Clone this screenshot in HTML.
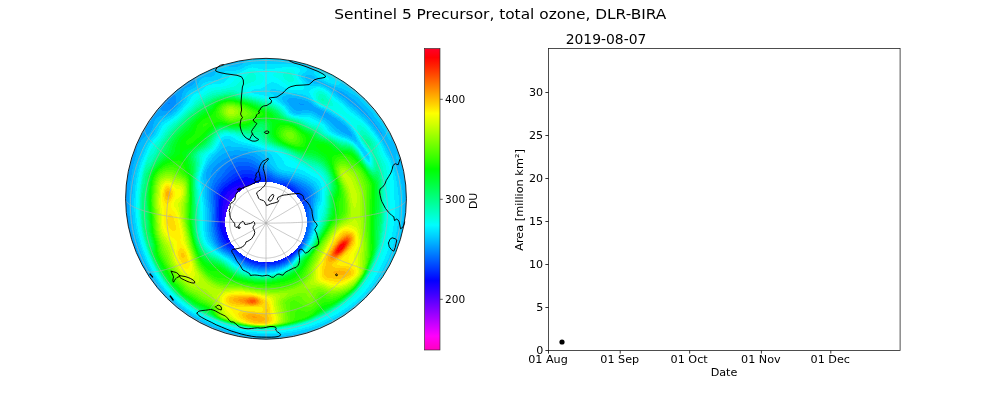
<!DOCTYPE html>
<html lang="en"><head><meta charset="utf-8"><title>Sentinel 5 Precursor, total ozone, DLR-BIRA</title>
<style>
html,body{margin:0;padding:0;background:#fff;}
body{width:1000px;height:400px;position:relative;overflow:hidden;font-family:"DejaVu Sans","Liberation Sans",sans-serif;color:#000;}
svg{position:absolute;left:0;top:0;}
.t{position:absolute;white-space:nowrap;line-height:1;}
.tk{font-size:11.1px;}
</style></head><body>
<svg width="1000" height="400" viewBox="0 0 1000 400">
<defs><clipPath id="disc"><circle cx="266.00" cy="198.75" r="140.40"/></clipPath></defs>
<g clip-path="url(#disc)"><g shape-rendering="crispEdges" fill="none" stroke-width="1">

<path stroke="#3a00ff" d="M0 .5m236 190h5m-7 1h6m-7 1h5m-6 1h5m-6 1h5m-6 1h5m-6 1h6m-6 1h5m-6 1h5m-5 1h4m-5 1h5m-5 1h4m-4 1h3m-4 1h4m-4 1h3m-4 1h4m-4 1h3m-3 1h3m-3 1h3m-4 1h3m-3 1h3m-3 1h3m-3 1h2m-2 1h2m-2 1h2m-2 1h2m-2 1h2m-2 1h1m-1 1h1"/>
<path stroke="#2400ff" d="M0 .5m239 185h5m-8 1h10m-12 1h11m-13 1h12m-13 1h11m-12 1h6m-8 1h6m-7 1h6m-6 1h5m-6 1h5m-6 1h5m-5 1h4m-5 1h5m-5 1h4m-4 1h4m-5 1h4m-4 1h4m-4 1h4m-4 1h3m-3 1h3m-3 1h2m-3 1h3m-3 1h3m-3 1h3m-3 1h2m-2 1h2m-2 1h2m-2 1h2m-2 1h2m-2 1h2m-2 1h2m-2 1h2m-2 1h2m-2 1h2m-2 1h3m-3 1h3m-2 1h2m-2 1h2m-2 1h2m-2 1h2m-1 1h1m-1 1h1m-1 1h2m-1 1h1m-1 1h1"/>
<path stroke="#0e00ff" d="M0 .5m241 181h6m-9 1h12m-15 1h16m-17 1h18m-20 1h7m5 0h5m-19 1h6m10 0h1m-18 1h5m-6 1h4m-5 1h4m-5 1h4m-5 1h3m-4 1h3m-4 1h4m-4 1h3m-4 1h3m-3 1h3m-3 1h2m-3 1h3m-3 1h3m-3 1h2m-2 1h2m-2 1h2m-2 1h2m-2 1h2m-2 1h2m-3 1h2m-2 1h2m-2 1h2m-2 1h2m-2 1h2m-2 1h2m-2 1h2m-2 1h2m-2 1h2m-2 1h2m-2 1h2m-2 1h2m-2 1h2m-1 1h1m-1 1h1m-1 1h2m-2 1h2m-2 1h2m-2 1h2m-2 1h3m-2 1h2m-2 1h2m-2 1h3m-2 1h2m-2 1h3m-3 1h3m-2 1h3m-3 1h3m-2 1h2m-2 1h3m-2 1h2m-1 1h1m0 1h1"/>
<path stroke="#0007ff" d="M0 .5m244 177h4m-8 1h12m-14 1h17m-19 1h21m-23 1h7m6 0h12m-27 1h6m12 0h9m-28 1h4m16 0h4m-26 1h5m-6 1h4m-5 1h3m-5 1h4m-5 1h4m-5 1h4m-4 1h3m-4 1h3m-4 1h3m-3 1h2m-3 1h3m-3 1h2m-2 1h2m-2 1h2m-2 1h1m-2 1h2m-2 1h2m-2 1h2m-2 1h2m-2 1h2m-2 1h2m-2 1h2m-2 1h1m-1 1h1m-1 1h1m-1 1h1m-1 1h1m-1 1h1m-1 1h1m-1 1h1m-1 1h1m-1 1h1m-1 1h1m-1 1h1m-1 1h1m-1 1h2m-2 1h2m-2 1h2m-2 1h2m-1 1h1m-1 1h1m-1 1h1m-1 1h2m-2 1h2m-2 1h2m-1 1h2m-2 1h2m-2 1h2m-1 1h2m-2 1h2m-2 1h3m-2 1h2m-2 1h3m-2 1h3m-3 1h4m-3 1h4m-3 1h4m-4 1h4m-3 1h4m-3 1h3m-1 1h2m-1 1h2m-1 1h2m-1 1h1m0 1h1m0 1h1m59 1h1m-2 1h1m-2 1h1m-3 1h2m-3 1h2m-3 1h1m-3 1h1m-3 1h1m-3 1h1m-3 1h1m-4 1h1m-22 1h1m16 0h2m-13 1h7"/>
<path stroke="#0023ff" d="M0 .5m242 174h11m-14 1h17m-19 1h21m-23 1h9m4 0h13m-27 1h6m12 0h11m-31 1h6m17 0h10m-34 1h5m21 0h10m-38 1h5m25 0h9m-40 1h4m-6 1h5m-6 1h4m-5 1h4m55 0h3m-63 1h4m58 0h4m-67 1h3m62 0h4m-70 1h3m64 0h5m-73 1h3m67 0h4m-74 1h3m68 0h4m-76 1h3m70 0h4m-77 1h2m73 0h2m-77 1h2m74 0h2m-79 1h2m76 0h2m-80 1h2m77 0h1m-80 1h2m77 0h1m-80 1h2m78 0h1m-81 1h2m-2 1h1m-1 1h1m-1 1h1m-1 1h1m-1 1h1m-1 1h1m-1 1h1m-1 1h1m-2 1h2m-2 1h2m-2 1h2m-2 1h2m-2 1h2m-2 1h2m-2 1h2m-2 1h2m-2 1h2m-2 1h2m-2 1h2m-1 1h1m-1 1h1m-1 1h1m-1 1h1m-1 1h1m-1 1h2m-2 1h2m-2 1h2m-2 1h2m-1 1h1m-1 1h1m-1 1h2m-2 1h2m-1 1h1m-1 1h2m-2 1h2m-2 1h2m-1 1h2m-2 1h2m-2 1h3m-2 1h2m-2 1h3m-2 1h3m-3 1h3m-2 1h3m-2 1h3m-2 1h4m-3 1h4m-2 1h3m66 0h1m-69 1h3m65 0h1m-68 1h3m63 0h1m-66 1h3m61 0h2m-64 1h3m59 0h1m-62 1h3m57 0h1m-60 1h3m55 0h1m-58 1h4m52 0h1m-55 1h3m50 0h1m-53 1h3m47 0h2m-51 1h4m43 0h3m-48 1h4m39 0h3m-44 1h4m35 0h4m-42 1h5m31 0h4m-38 1h6m25 0h5m-34 1h7m19 0h5m-28 1h10m7 0h9m-22 1h18"/>
<path stroke="#0038ff" d="M0 .5m241 170h11m-13 1h15m-17 1h20m-22 1h24m-26 1h9m11 0h8m-29 1h7m17 0h7m-32 1h6m21 0h7m-36 1h6m26 0h6m-39 1h6m29 0h6m-42 1h5m33 0h5m-44 1h5m36 0h5m-47 1h4m39 0h5m-50 1h5m45 0h2m-53 1h4m51 0h9m-65 1h4m55 0h9m-68 1h3m62 0h5m-71 1h3m66 0h4m-74 1h3m69 0h4m-76 1h2m72 0h3m-78 1h2m74 0h3m-79 1h2m75 0h3m-81 1h2m77 0h3m-82 1h2m77 0h4m-83 1h2m78 0h4m-85 1h2m80 0h3m-85 1h2m80 0h4m-86 1h2m80 0h4m-86 1h2m81 0h4m-87 1h2m81 0h4m-87 1h2m82 0h4m-88 1h2m82 0h4m-88 1h2m83 0h3m-88 1h2m84 0h2m-88 1h2m84 0h2m-88 1h2m-2 1h2m-2 1h2m-2 1h1m-1 1h1m-1 1h1m-1 1h1m-1 1h1m-1 1h1m-1 1h1m-1 1h1m-1 1h1m-1 1h1m-1 1h1m-1 1h2m-2 1h2m-2 1h2m-2 1h2m-2 1h2m-1 1h1m-1 1h1m-1 1h1m-1 1h1m-1 1h2m-2 1h2m-2 1h2m-1 1h1m-1 1h2m-2 1h2m-2 1h2m-1 1h1m-1 1h2m-2 1h2m-2 1h2m-1 1h2m-2 1h2m-1 1h2m-2 1h2m-1 1h2m-1 1h2m-2 1h3m74 0h1m-77 1h3m72 0h1m-74 1h3m70 0h1m-73 1h3m69 0h1m-71 1h2m67 0h1m-69 1h2m66 0h1m-68 1h3m63 0h1m-65 1h2m61 0h1m-63 1h2m59 0h1m-61 1h2m57 0h1m-59 1h3m54 0h1m-56 1h2m52 0h1m-54 1h2m50 0h1m-51 1h2m46 0h2m-49 1h3m43 0h1m-45 1h2m40 0h2m-43 1h3m36 0h2m-39 1h3m31 0h3m-35 1h4m26 0h3m-30 1h5m18 0h5m-25 1h21m-15 1h8"/>
<path stroke="#004eff" d="M0 .5m238 166h12m-14 1h17m-19 1h21m-22 1h24m-26 1h10m11 0h7m-29 1h9m15 0h7m-32 1h8m20 0h6m-35 1h7m24 0h6m-38 1h6m28 0h5m-40 1h6m31 0h5m-43 1h6m34 0h5m-46 1h5m38 0h4m-48 1h5m41 0h4m-51 1h5m43 0h5m-54 1h5m46 0h6m-57 1h4m48 0h11m-64 1h3m52 0h13m-69 1h3m64 0h5m-73 1h3m68 0h4m-75 1h3m70 0h4m-78 1h3m73 0h3m-80 1h3m76 0h3m-82 1h3m77 0h3m-83 1h2m79 0h3m-85 1h3m80 0h3m-86 1h2m82 0h3m-87 1h2m83 0h3m-88 1h2m84 0h3m-89 1h1m85 0h4m-91 1h2m86 0h3m-91 1h2m86 0h4m-92 1h2m87 0h3m-92 1h2m87 0h3m-92 1h2m88 0h3m-92 1h1m88 0h3m-92 1h1m88 0h3m-92 1h1m88 0h3m-92 1h1m88 0h3m-92 1h1m87 0h4m-92 1h1m87 0h4m-92 1h1m88 0h3m-92 1h1m88 0h3m-92 1h1m88 0h3m-92 1h1m89 0h2m-92 1h1m89 0h2m-92 1h1m89 0h1m-91 1h1m-1 1h1m90 0h1m-92 1h1m90 0h1m-92 1h1m90 0h1m-92 1h1m90 0h1m-92 1h1m-1 1h1m-1 1h1m-1 1h1m-1 1h1m-1 1h1m-1 1h2m-2 1h2m-2 1h2m-2 1h2m-1 1h1m-1 1h1m-1 1h1m-1 1h2m-2 1h2m-1 1h1m-1 1h1m-1 1h2m-2 1h2m-1 1h1m-1 1h1m-1 1h2m83 0h1m-86 1h2m-1 1h2m81 0h1m-84 1h2m81 0h1m-83 1h2m79 0h2m-82 1h2m78 0h1m-81 1h2m78 0h1m-80 1h2m76 0h2m-79 1h3m74 0h1m-77 1h3m73 0h1m-75 1h3m70 0h1m-73 1h3m-1 1h2m67 0h1m-68 1h2m64 0h1m-66 1h2m62 0h1m-64 1h2m60 0h1m-61 1h1m58 0h1m-59 1h2m55 0h1m-57 1h2m53 0h1m-54 1h2m50 0h1m-52 1h2m47 0h2m-50 1h3m44 0h2m-47 1h2m41 0h2m-43 1h2m37 0h2m-39 1h2m33 0h3m-36 1h3m28 0h2m-31 1h4m21 0h4m-26 1h7m8 0h7m-16 1h10"/>
<path stroke="#0064ff" d="M0 .5m236 162h13m-15 1h18m-20 1h22m-24 1h26m-27 1h9m12 0h7m-29 1h8m17 0h6m-32 1h7m21 0h5m-34 1h7m24 0h5m-37 1h6m28 0h5m-39 1h5m31 0h4m-41 1h5m34 0h4m-44 1h5m37 0h3m-46 1h5m39 0h4m-48 1h4m42 0h4m-51 1h4m45 0h3m-53 1h4m47 0h4m-56 1h4m50 0h5m-60 1h4m53 0h7m-65 1h4m57 0h9m-70 1h4m63 0h6m-74 1h4m68 0h5m-78 1h4m72 0h4m-80 1h3m75 0h4m-83 1h4m77 0h3m-84 1h3m79 0h4m-86 1h2m82 0h3m-88 1h3m83 0h4m-90 1h3m84 0h4m-91 1h2m86 0h4m-92 1h2m87 0h4m-93 1h2m88 0h4m-94 1h2m89 0h4m-95 1h2m90 0h3m-95 1h1m91 0h4m-96 1h1m92 0h3m-96 1h1m92 0h3m-96 1h1m92 0h3m-96 1h1m93 0h2m-96 1h2m92 0h2m-96 1h2m92 0h2m-96 1h2m92 0h2m-96 1h2m92 0h2m-96 1h2m92 0h2m-96 1h2m92 0h2m-96 1h2m92 0h2m-95 1h1m92 0h2m-95 1h1m92 0h2m-95 1h1m92 0h2m-95 1h1m92 0h2m-95 1h1m91 0h3m-95 1h1m91 0h3m-95 1h1m92 0h2m-96 1h2m92 0h2m-96 1h2m92 0h2m-96 1h2m92 0h2m-96 1h2m92 0h2m-96 1h2m92 0h2m-96 1h2m92 0h2m-95 1h1m92 0h2m-95 1h1m92 0h2m-95 1h1m92 0h2m-95 1h1m92 0h2m-95 1h1m92 0h2m-95 1h1m92 0h2m-95 1h1m92 0h2m-95 1h2m90 0h2m-94 1h2m90 0h2m-94 1h2m90 0h2m-93 1h1m90 0h2m-93 1h1m90 0h1m-92 1h2m88 0h2m-92 1h2m88 0h2m-92 1h2m88 0h2m-91 1h1m87 0h2m-90 1h2m86 0h2m-90 1h2m86 0h2m-89 1h1m86 0h1m-88 1h1m85 0h2m-88 1h2m84 0h2m-87 1h1m84 0h1m-86 1h2m83 0h1m-85 1h2m81 0h2m-85 1h2m81 0h1m-83 1h2m80 0h1m-82 1h2m78 0h1m-80 1h2m77 0h1m-79 1h3m74 0h1m-76 1h2m72 0h1m-73 1h2m70 0h1m-72 1h3m67 0h1m-69 1h2m65 0h1m-67 1h2m63 0h1m-64 1h2m60 0h1m-62 1h2m58 0h1m-59 1h1m56 0h1m-57 1h2m53 0h1m-55 1h2m51 0h1m-52 1h1m49 0h1m-50 1h2m45 0h1m-46 1h2m41 0h2m-44 1h3m38 0h2m-41 1h3m33 0h3m-37 1h3m29 0h2m-32 1h4m22 0h4m-26 1h6m10 0h6m-17 1h10"/>
<path stroke="#0079ff" d="M0 .5m168 103h2m68 55h9m-13 1h17m-19 1h21m-23 1h25m-27 1h8m13 0h7m-29 1h7m18 0h6m-32 1h6m22 0h5m-35 1h6m26 0h4m-37 1h6m28 0h5m-40 1h6m31 0h4m-42 1h6m33 0h4m-44 1h6m36 0h4m-46 1h5m39 0h3m-48 1h6m40 0h4m-51 1h6m43 0h3m-53 1h6m45 0h4m-55 1h5m48 0h3m-57 1h6m50 0h3m-59 1h5m52 0h4m-62 1h5m55 0h5m-66 1h5m59 0h7m-71 1h4m64 0h7m-76 1h4m70 0h5m-79 1h4m73 0h5m-82 1h3m77 0h4m-85 1h3m80 0h4m-87 1h3m82 0h4m-89 1h2m84 0h4m-91 1h3m86 0h4m-93 1h3m87 0h5m-95 1h2m90 0h4m-96 1h2m91 0h4m-97 1h2m92 0h4m-98 1h2m93 0h4m-99 1h2m94 0h3m-99 1h2m95 0h3m-100 1h2m95 0h3m-100 1h2m96 0h2m-100 1h2m96 0h2m-100 1h2m96 0h2m-100 1h2m96 0h2m-100 1h2m96 0h2m-100 1h2m96 0h2m-100 1h2m96 0h2m-100 1h2m96 0h2m-100 1h2m96 0h2m-99 1h1m96 0h2m-99 1h1m96 0h2m-99 1h1m96 0h2m-99 1h2m95 0h2m-99 1h2m95 0h2m-99 1h2m95 0h2m-99 1h2m95 0h2m-99 1h2m95 0h2m-99 1h2m95 0h2m-99 1h2m95 0h2m-99 1h1m96 0h2m-99 1h1m96 0h2m-99 1h1m96 0h2m-99 1h1m96 0h2m-99 1h1m96 0h2m-99 1h1m96 0h2m-99 1h2m95 0h2m-99 1h2m95 0h2m-99 1h2m95 0h2m-99 1h2m95 0h2m-99 1h2m95 0h1m-98 1h2m95 0h1m-98 1h2m95 0h1m-97 1h1m94 0h2m-97 1h1m94 0h2m-97 1h1m94 0h1m-96 1h2m93 0h1m-96 1h2m92 0h2m-96 1h2m92 0h2m-95 1h1m92 0h1m-94 1h1m92 0h1m-94 1h2m90 0h2m-94 1h2m90 0h1m-92 1h1m90 0h1m-92 1h2m88 0h2m-92 1h2m88 0h1m-90 1h1m88 0h1m-90 1h2m86 0h1m-89 1h2m86 0h1m-88 1h2m85 0h1m-87 1h1m84 0h1m-86 1h2m83 0h1m-85 1h2m81 0h1m-83 1h2m-1 1h2m78 0h1m-79 1h2m75 0h1m-77 1h3m-1 1h2m71 0h1m-72 1h2m68 0h1m-70 1h2m66 0h1m-67 1h2m63 0h1m-65 1h2m61 0h1m-62 1h2m58 0h1m-60 1h2m56 0h1m-58 1h2m54 0h1m-55 1h2m51 0h1m-53 1h2m48 0h2m-50 1h2m45 0h1m-47 1h2m43 0h1m-44 1h2m39 0h2m-42 1h3m34 0h3m-38 1h3m30 0h2m-32 1h4m22 0h4m-27 1h6m10 0h7m-18 1h12"/>
<path stroke="#008fff" d="M0 .5m170 94h4m-5 1h6m-7 1h8m-9 1h9m-10 1h10m-11 1h11m-12 1h12m-13 1h13m-14 1h14m-15 1h7m2 0h6m123 0h1m-140 1h15m125 0h4m-145 1h15m-15 1h15m-15 1h14m-13 1h12m-11 1h9m-8 1h6m73 44h2m-10 1h17m-20 1h23m-25 1h27m-29 1h12m9 0h9m-32 1h10m17 0h7m-36 1h10m21 0h6m-38 1h9m25 0h5m-40 1h8m28 0h5m-43 1h9m31 0h4m-45 1h9m33 0h4m-47 1h8m36 0h4m-49 1h8m39 0h4m-52 1h8m41 0h4m-54 1h8m43 0h4m-55 1h7m46 0h3m-57 1h8m47 0h3m-58 1h7m50 0h3m-61 1h7m52 0h3m-62 1h6m55 0h3m-64 1h6m56 0h4m-66 1h5m59 0h5m-69 1h5m61 0h6m-73 1h5m65 0h8m-78 1h4m71 0h7m-82 1h4m75 0h6m-85 1h3m79 0h6m-88 1h3m82 0h5m-90 1h3m84 0h5m-93 1h3m87 0h5m-95 1h3m89 0h5m-97 1h3m90 0h5m-98 1h2m93 0h5m-100 1h2m95 0h4m-185 1h1m83 0h2m96 0h4m-186 1h1m83 0h2m97 0h4m-187 1h1m83 0h2m98 0h3m-187 1h1m83 0h2m99 0h3m-188 1h1m83 0h2m99 0h3m-189 1h2m83 0h2m100 0h2m-189 1h2m83 0h2m100 0h3m-190 1h2m83 0h2m100 0h3m-190 1h2m83 0h2m100 0h3m-190 1h2m83 0h2m100 0h3m-190 1h2m83 0h2m100 0h2m-189 1h2m83 0h2m100 0h2m-189 1h2m83 0h2m100 0h2m-189 1h2m83 0h2m100 0h2m-189 1h2m84 0h1m100 0h2m-189 1h2m84 0h1m100 0h2m-188 1h1m84 0h2m99 0h2m-188 1h1m84 0h2m99 0h2m-188 1h1m84 0h2m99 0h2m-188 1h1m84 0h2m99 0h2m-188 1h1m84 0h2m99 0h2m-103 1h2m99 0h2m-103 1h2m99 0h2m-103 1h2m99 0h2m-102 1h1m99 0h2m-102 1h1m99 0h2m-102 1h1m99 0h2m-102 1h1m99 0h2m-102 1h1m99 0h2m-102 1h1m99 0h2m-102 1h1m99 0h1m-101 1h1m99 0h1m-101 1h1m99 0h1m-101 1h1m99 0h1m-101 1h1m99 0h1m-101 1h1m99 0h1m-101 1h1m98 0h2m-101 1h1m98 0h1m-100 1h1m98 0h1m-100 1h2m97 0h1m-100 1h2m97 0h1m-100 1h2m96 0h2m-100 1h2m96 0h1m-99 1h2m96 0h1m-98 1h1m96 0h1m-98 1h2m94 0h1m-97 1h2m94 0h1m-97 1h2m94 0h1m-97 1h2m93 0h1m-95 1h2m92 0h1m-95 1h2m92 0h1m-95 1h2m91 0h1m-93 1h2m90 0h1m-93 1h2m89 0h1m-91 1h1m89 0h1m-91 1h2m88 0h1m-90 1h2m86 0h1m-88 1h1m-1 1h2m84 0h1m-86 1h2m82 0h1m-84 1h2m81 0h1m-82 1h2m78 0h1m-80 1h2m76 0h1m-78 1h3m-1 1h3m-1 1h2m69 0h1m-70 1h2m66 0h1m-68 1h2m64 0h1m-65 1h2m61 0h1m-63 1h2m59 0h1m-60 1h1m57 0h1m-58 1h2m54 0h1m-56 1h2m52 0h1m-53 1h2m48 0h2m-51 1h2m46 0h1m-48 1h3m43 0h1m-45 1h2m40 0h2m-42 1h2m35 0h3m-38 1h3m30 0h2m-33 1h4m23 0h3m-26 1h5m12 0h6m-18 1h12"/>
<path stroke="#00a5ff" d="M0 .5m193 77h3m-5 1h5m-6 1h6m-8 1h7m-8 1h8m-10 1h10m-11 1h10m-12 1h11m-12 1h11m-12 1h10m-12 1h9m-10 1h8m-9 1h8m-9 1h9m152 0h3m-165 1h9m153 0h6m-170 1h11m154 0h7m-173 1h11m156 0h7m-171 1h8m157 0h8m-172 1h7m158 0h8m-172 1h6m160 0h7m-173 1h5m162 0h8m-175 1h5m108 0h8m48 0h7m-176 1h5m107 0h14m44 0h8m-178 1h4m107 0h18m42 0h8m-179 1h4m107 0h21m40 0h8m-180 1h3m109 0h21m40 0h8m-181 1h3m110 0h10m1 0h11m39 0h8m-183 1h3m111 0h11m4 0h8m40 0h7m-185 1h4m112 0h23m40 0h7m-186 1h3m114 0h23m40 0h7m-203 1h1m14 0h3m116 0h24m40 0h6m-205 1h3m12 0h3m118 0h25m39 0h6m-207 1h5m9 0h4m120 0h26m38 0h6m-209 1h7m6 0h5m123 0h6m7 0h13m37 0h6m-211 1h18m141 0h11m36 0h6m-212 1h17m144 0h11m35 0h6m-214 1h16m148 0h11m34 0h6m-216 1h14m152 0h11m35 0h4m-217 1h12m157 0h11m34 0h4m-218 1h8m163 0h10m34 0h4m-220 1h7m167 0h10m33 0h4m-222 1h7m170 0h10m32 0h4m-223 1h6m172 0h10m32 0h3m-224 1h7m174 0h9m32 0h3m-226 1h7m176 0h10m30 0h4m-227 1h7m177 0h10m30 0h4m-229 1h8m178 0h10m30 0h3m-230 1h8m180 0h10m30 0h3m-231 1h8m181 0h11m29 0h3m-233 1h9m182 0h11m28 0h4m-234 1h9m183 0h11m28 0h3m-235 1h9m185 0h11m28 0h3m-237 1h10m187 0h9m29 0h3m-238 1h9m189 0h9m28 0h3m-239 1h10m190 0h9m28 0h3m-240 1h9m193 0h8m28 0h3m-242 1h9m196 0h6m29 0h2m-242 1h8m199 0h5m28 0h2m-243 1h8m202 0h3m30 0h1m-244 1h6m206 0h1m-214 1h6m-6 1h5m-6 1h5m-5 1h4m-5 1h5m-5 1h4m-4 1h3m-4 1h3m-3 1h3m-4 1h4m-4 1h3m-3 1h3m-4 1h4m-4 1h4m97 0h6m-107 1h4m91 0h20m-116 1h5m89 0h26m-120 1h4m88 0h31m-124 1h5m86 0h19m2 0h14m-126 1h5m85 0h12m17 0h8m-127 1h5m83 0h11m23 0h7m-129 1h4m83 0h10m27 0h6m-131 1h5m82 0h9m30 0h6m-132 1h5m81 0h8m34 0h5m-133 1h5m80 0h7m37 0h5m-135 1h5m80 0h7m39 0h4m-135 1h5m79 0h7m41 0h4m-136 1h5m78 0h6m44 0h4m-137 1h4m78 0h6m46 0h4m-139 1h5m77 0h6m48 0h4m-140 1h5m76 0h6m51 0h3m-141 1h5m76 0h5m53 0h3m-142 1h5m75 0h5m55 0h3m-144 1h5m75 0h6m56 0h3m-145 1h5m75 0h5m58 0h4m-147 1h5m75 0h5m60 0h3m-148 1h5m74 0h5m62 0h4m-150 1h5m74 0h5m64 0h4m-153 1h6m74 0h5m66 0h5m-156 1h5m75 0h5m69 0h7m-161 1h5m75 0h5m72 0h9m-166 1h5m75 0h4m78 0h7m-169 1h5m75 0h4m82 0h6m-172 1h5m76 0h3m85 0h6m-175 1h5m76 0h3m88 0h5m-178 1h5m77 0h3m90 0h5m-180 1h5m77 0h3m92 0h5m-182 1h5m77 0h2m95 0h4m-183 1h5m77 0h2m97 0h4m-185 1h5m77 0h2m98 0h4m-186 1h5m77 0h2m100 0h3m-187 1h5m77 0h2m101 0h3m-187 1h4m77 0h2m102 0h3m-188 1h4m77 0h2m103 0h2m-188 1h3m78 0h2m103 0h3m-189 1h3m78 0h2m104 0h2m-189 1h3m78 0h2m104 0h2m-189 1h3m78 0h2m104 0h3m-190 1h3m78 0h2m105 0h2m-190 1h3m78 0h2m105 0h2m-190 1h3m78 0h2m105 0h2m-190 1h3m78 0h2m105 0h2m-190 1h3m78 0h2m104 0h2m-189 1h3m78 0h2m104 0h2m-189 1h3m79 0h1m104 0h2m-189 1h3m79 0h1m104 0h2m-189 1h3m79 0h2m103 0h2m-189 1h3m79 0h2m103 0h1m-188 1h3m79 0h2m103 0h1m-188 1h3m79 0h2m103 0h1m-188 1h3m79 0h2m103 0h1m-188 1h3m79 0h2m103 0h1m-188 1h3m80 0h1m103 0h1m-189 1h4m80 0h1m103 0h1m-189 1h4m80 0h1m103 0h1m-189 1h4m80 0h1m103 0h1m-189 1h4m80 0h2m102 0h1m-189 1h4m80 0h2m102 0h1m-189 1h4m80 0h2m102 0h1m-189 1h4m80 0h2m102 0h1m-188 1h4m79 0h2m102 0h1m-188 1h4m79 0h2m102 0h1m-188 1h4m79 0h2m101 0h2m-188 1h4m79 0h2m101 0h2m-188 1h4m79 0h2m101 0h2m-188 1h4m79 0h2m101 0h1m-187 1h4m79 0h2m101 0h1m-186 1h3m79 0h2m101 0h1m-186 1h4m78 0h2m101 0h1m-186 1h4m78 0h2m100 0h2m-186 1h4m78 0h2m100 0h1m-185 1h4m78 0h2m100 0h1m-184 1h3m78 0h2m100 0h1m-184 1h3m78 0h2m100 0h1m-184 1h4m77 0h2m99 0h1m-183 1h4m77 0h2m99 0h1m-183 1h4m78 0h2m98 0h1m-182 1h3m78 0h2m97 0h1m-181 1h4m77 0h2m97 0h1m-181 1h4m77 0h2m97 0h1m-180 1h3m78 0h1m96 0h1m-179 1h3m78 0h2m95 0h1m-179 1h4m77 0h2m95 0h1m-179 1h4m78 0h1m94 0h1m-177 1h3m78 0h2m93 0h1m-177 1h3m79 0h1m92 0h1m-176 1h4m78 0h2m91 0h1m-175 1h3m79 0h1m-83 1h3m79 0h2m89 0h1m-174 1h4m79 0h2m87 0h1m-172 1h3m80 0h1m87 0h1m-172 1h3m81 0h1m85 0h1m-171 1h4m81 0h1m-85 1h3m82 0h2m81 0h1m-169 1h3m83 0h2m79 0h1m-167 1h3m83 0h2m77 0h1m-166 1h3m85 0h2m74 0h1m-165 1h4m86 0h2m-91 1h3m87 0h3m-93 1h3m89 0h2m-93 1h3m90 0h2m64 0h1m-160 1h3m91 0h2m62 0h1m-158 1h3m92 0h2m59 0h1m-157 1h3m93 0h2m57 0h1m-155 1h3m93 0h2m55 0h1m-154 1h3m95 0h2m52 0h1m-152 1h2m96 0h2m49 0h2m-151 1h3m96 0h2m47 0h1m-148 1h2m98 0h2m44 0h1m-147 1h3m98 0h3m40 0h1m-144 1h3m99 0h3m35 0h3m-143 1h3m101 0h3m30 0h3m-139 1h3m103 0h4m23 0h3m-136 1h3m106 0h6m12 0h5m-131 1h3m110 0h13m-125 1h2m-2 1h3m-2 1h2m-2 1h3m-2 1h3m-2 1h2m-2 1h3m-2 1h3m-2 1h2m-2 1h3m-2 1h3m-2 1h2m-1 1h2m-2 1h3m-2 1h3m-2 1h2m-1 1h2m-2 1h3m-2 1h3m-2 1h3m-2 1h2m-1 1h2m-1 1h2m-1 1h2m-1 1h2m-1 1h2m-1 1h2m-2 1h3m-1 1h2m-1 1h2m-1 1h2m-1 1h2m-1 1h2m-1 1h2m-1 1h2m-1 1h3m-2 1h3m-1 1h2m-1 1h2m-1 1h3m-2 1h3m-1 1h2m-1 1h3m-2 1h3m-1 1h3m-2 1h3m-1 1h3m-2 1h4m-2 1h3m-1 1h3m-2 1h4m-2 1h4m-2 1h4m-2 1h4m-2 1h4m-2 1h4m-2 1h4m-2 1h5m-2 1h4m-2 1h5m-2 1h5m-2 1h5m-3 1h6m-2 1h6m-3 1h8m-4 1h9m-4 1h10m-5 1h18m-10 1h28"/>
<path stroke="#00bbff" d="M0 .5m240 59h4m-9 1h9m-13 1h13m-17 1h17m-18 1h17m-16 1h15m-14 1h12m-11 1h9m-25 1h1m-4 1h4m-6 1h7m-9 1h9m-11 1h11m-13 1h14m-16 1h15m-17 1h17m-19 1h18m92 0h6m-117 1h17m93 0h9m-118 1h8m101 0h10m-119 1h6m103 0h12m-121 1h5m105 0h12m-123 1h5m107 0h13m-125 1h4m109 0h14m-127 1h4m111 0h14m-130 1h4m116 0h12m-133 1h5m123 0h7m-136 1h5m126 0h8m-141 1h6m129 0h9m-147 1h8m132 0h11m-153 1h8m136 0h13m-158 1h7m139 0h14m-160 1h5m142 0h5m3 0h7m-163 1h5m144 0h4m6 0h6m-165 1h4m146 0h4m7 0h5m-167 1h4m149 0h3m7 0h6m-169 1h4m150 0h3m8 0h6m-171 1h3m101 0h6m45 0h3m8 0h7m-173 1h3m98 0h16m39 0h4m7 0h7m-175 1h4m97 0h22m35 0h4m8 0h7m-177 1h3m98 0h7m8 0h9m35 0h4m7 0h7m-178 1h3m98 0h6m14 0h6m34 0h4m8 0h6m-180 1h4m99 0h4m18 0h5m34 0h3m8 0h5m-180 1h3m100 0h4m21 0h3m34 0h3m8 0h5m-182 1h4m101 0h4m21 0h3m34 0h3m8 0h5m-183 1h3m103 0h4m22 0h2m34 0h3m8 0h5m-185 1h3m105 0h3m23 0h2m34 0h4m7 0h5m-186 1h3m106 0h3m23 0h3m33 0h4m7 0h5m-188 1h3m108 0h3m23 0h3m33 0h4m7 0h5m-190 1h3m110 0h3m24 0h3m33 0h4m6 0h5m-192 1h3m111 0h4m25 0h3m32 0h4m6 0h5m-194 1h3m113 0h4m26 0h3m31 0h4m6 0h5m-196 1h4m114 0h5m6 0h7m13 0h3m31 0h3m6 0h5m-198 1h4m116 0h21m11 0h3m30 0h3m6 0h5m-200 1h3m119 0h22m11 0h3m29 0h3m6 0h5m-203 1h4m123 0h5m11 0h5m11 0h3m28 0h3m6 0h5m-207 1h6m142 0h4m11 0h3m28 0h4m4 0h5m-210 1h7m146 0h4m11 0h3m27 0h4m4 0h5m-215 1h9m149 0h5m10 0h3m27 0h4m4 0h4m-217 1h9m153 0h5m10 0h3m27 0h3m4 0h4m-219 1h8m157 0h5m10 0h3m26 0h3m4 0h4m-221 1h7m161 0h4m10 0h3m26 0h3m3 0h5m-222 1h5m165 0h4m9 0h3m26 0h3m3 0h4m-223 1h5m167 0h4m10 0h3m25 0h2m4 0h4m-224 1h4m169 0h4m10 0h3m24 0h3m4 0h4m-225 1h4m170 0h4m10 0h3m24 0h3m3 0h5m-227 1h4m172 0h4m10 0h3m24 0h3m3 0h4m-227 1h4m173 0h4m11 0h2m24 0h3m3 0h4m-228 1h3m175 0h4m11 0h2m24 0h2m4 0h4m-229 1h3m176 0h4m11 0h2m24 0h2m3 0h4m-230 1h4m177 0h4m11 0h2m23 0h3m3 0h4m-231 1h3m179 0h5m9 0h3m23 0h3m3 0h4m-233 1h4m180 0h5m9 0h2m24 0h2m3 0h4m-233 1h4m181 0h5m9 0h2m24 0h2m3 0h4m-235 1h4m184 0h5m8 0h2m23 0h3m3 0h3m-236 1h5m185 0h6m6 0h2m24 0h3m2 0h4m-238 1h5m189 0h5m5 0h2m24 0h2m2 0h4m5 0h1m-245 1h5m192 0h5m3 0h3m24 0h3m1 0h4m4 0h2m-248 1h6m196 0h4m1 0h3m24 0h8m4 0h2m-249 1h6m199 0h7m24 0h8m3 0h3m-251 1h6m201 0h6m25 0h7m3 0h3m-252 1h6m204 0h4m25 0h8m2 0h4m-254 1h6m207 0h3m25 0h8m1 0h4m-254 1h5m209 0h2m26 0h13m-256 1h6m237 0h13m-257 1h6m239 0h12m-258 1h7m239 0h13m-259 1h6m241 0h12m-259 1h6m83 0h4m155 0h12m-261 1h6m81 0h19m143 0h12m-261 1h6m79 0h26m139 0h11m-261 1h5m79 0h31m135 0h12m-262 1h5m78 0h14m6 0h16m132 0h11m-262 1h5m77 0h9m20 0h10m130 0h11m-262 1h4m77 0h8m26 0h9m128 0h11m-264 1h5m76 0h7m31 0h7m127 0h11m-264 1h5m75 0h6m35 0h7m126 0h6m1 0h4m-265 1h4m75 0h6m37 0h7m125 0h6m1 0h4m-265 1h4m74 0h5m41 0h6m125 0h5m2 0h3m-266 1h5m73 0h5m43 0h6m124 0h5m2 0h3m-266 1h4m73 0h5m45 0h5m125 0h4m2 0h4m-267 1h4m73 0h4m47 0h5m125 0h4m2 0h3m-267 1h4m72 0h4m49 0h4m125 0h4m2 0h3m-268 1h4m72 0h4m50 0h5m125 0h3m2 0h4m-269 1h4m71 0h4m52 0h5m124 0h4m1 0h4m-269 1h4m71 0h3m54 0h4m124 0h4m1 0h4m-270 1h4m71 0h3m56 0h4m124 0h8m-270 1h4m70 0h3m58 0h4m123 0h9m-271 1h4m70 0h2m60 0h4m123 0h8m-271 1h3m70 0h3m61 0h4m122 0h8m-271 1h3m70 0h2m63 0h4m121 0h8m-272 1h4m69 0h2m65 0h4m121 0h8m-273 1h4m69 0h2m67 0h3m120 0h8m-273 1h4m68 0h3m68 0h4m119 0h7m-273 1h3m69 0h2m71 0h5m116 0h7m-273 1h3m69 0h2m73 0h8m112 0h6m-273 1h3m68 0h3m76 0h11m106 0h7m-275 1h4m68 0h3m81 0h9m103 0h7m-275 1h4m68 0h3m86 0h7m101 0h6m-275 1h3m69 0h3m89 0h7m98 0h6m-275 1h3m69 0h3m92 0h7m95 0h6m-275 1h3m69 0h4m94 0h6m94 0h5m-275 1h3m70 0h3m96 0h5m93 0h5m-276 1h4m70 0h3m98 0h5m91 0h6m-277 1h4m70 0h3m100 0h4m90 0h6m-277 1h4m70 0h3m101 0h5m88 0h6m-277 1h3m71 0h3m103 0h4m88 0h5m-277 1h3m71 0h3m104 0h3m88 0h5m-277 1h3m72 0h2m105 0h3m87 0h5m-277 1h3m72 0h2m106 0h3m86 0h5m-277 1h3m72 0h2m107 0h2m86 0h5m-277 1h3m72 0h2m107 0h3m85 0h5m-278 1h4m72 0h2m108 0h2m86 0h4m-278 1h4m72 0h2m108 0h3m85 0h4m-278 1h4m72 0h2m108 0h3m85 0h4m-278 1h4m72 0h2m109 0h2m85 0h5m-279 1h3m73 0h2m109 0h2m85 0h5m-279 1h3m73 0h2m109 0h2m85 0h5m-279 1h3m73 0h2m109 0h2m85 0h5m-279 1h3m73 0h2m109 0h2m85 0h5m-279 1h3m73 0h2m108 0h3m85 0h5m-279 1h3m74 0h1m108 0h2m86 0h5m-279 1h3m74 0h2m107 0h2m86 0h5m-279 1h3m74 0h2m107 0h2m86 0h5m-279 1h3m74 0h2m107 0h1m87 0h5m-279 1h3m74 0h2m106 0h2m87 0h5m-279 1h3m74 0h2m106 0h2m87 0h4m-278 1h3m74 0h2m106 0h2m87 0h4m-278 1h3m74 0h2m106 0h1m88 0h4m-278 1h3m75 0h1m106 0h1m88 0h4m-278 1h3m75 0h2m105 0h1m88 0h4m-278 1h3m75 0h2m105 0h1m88 0h4m-278 1h3m75 0h2m105 0h1m88 0h4m-278 1h3m75 0h2m105 0h1m88 0h4m-278 1h3m75 0h2m105 0h1m88 0h4m-278 1h3m75 0h2m105 0h1m88 0h4m-278 1h3m75 0h2m105 0h1m88 0h4m-278 1h4m74 0h2m105 0h1m88 0h4m-277 1h3m74 0h2m105 0h1m88 0h3m-276 1h3m74 0h2m105 0h1m88 0h3m-276 1h3m74 0h2m105 0h1m88 0h3m-276 1h3m74 0h2m105 0h1m88 0h3m-276 1h3m74 0h2m105 0h1m88 0h3m-276 1h3m74 0h2m104 0h2m87 0h4m-276 1h3m74 0h2m104 0h2m87 0h4m-276 1h3m74 0h2m104 0h1m88 0h3m-274 1h3m73 0h2m104 0h1m88 0h3m-274 1h3m73 0h2m104 0h1m88 0h3m-274 1h3m73 0h2m103 0h2m88 0h3m-274 1h3m73 0h2m103 0h1m89 0h3m-274 1h3m73 0h2m103 0h1m88 0h3m-273 1h3m73 0h2m103 0h1m88 0h3m-272 1h3m72 0h2m102 0h1m89 0h3m-272 1h3m72 0h2m102 0h1m89 0h3m-272 1h3m73 0h2m101 0h1m89 0h3m-272 1h3m73 0h2m100 0h1m90 0h2m-270 1h2m73 0h2m100 0h1m89 0h3m-270 1h3m72 0h2m100 0h1m89 0h3m-270 1h3m72 0h3m98 0h1m90 0h2m-269 1h3m73 0h2m98 0h1m90 0h2m-268 1h2m73 0h2m98 0h1m90 0h2m-268 1h3m73 0h2m96 0h1m90 0h3m-268 1h3m73 0h2m96 0h1m90 0h2m-267 1h3m74 0h2m94 0h1m91 0h2m-266 1h3m73 0h2m94 0h1m91 0h2m-266 1h3m74 0h2m92 0h1m91 0h2m-265 1h3m75 0h1m92 0h1m91 0h2m-264 1h2m75 0h2m90 0h1m92 0h2m-264 1h3m75 0h2m89 0h1m92 0h1m-263 1h3m76 0h2m87 0h1m92 0h2m-262 1h2m77 0h2m85 0h1m93 0h2m-262 1h3m77 0h2m178 0h1m-261 1h3m78 0h2m176 0h2m-260 1h3m79 0h1m80 0h1m-164 1h3m80 0h2m77 0h1m-162 1h2m81 0h3m74 0h1m-161 1h3m82 0h2m72 0h1m-160 1h3m84 0h2m69 0h1m-158 1h3m85 0h2m-90 1h3m86 0h2m-90 1h2m88 0h2m-92 1h3m88 0h2m60 0h1m-153 1h2m89 0h2m58 0h1m-152 1h3m90 0h2m55 0h1m-151 1h3m91 0h2m53 0h1m-149 1h3m91 0h2m50 0h2m-148 1h3m93 0h2m47 0h1m-145 1h3m93 0h2m44 0h2m-143 1h2m95 0h2m41 0h1m-141 1h3m96 0h2m36 0h2m-138 1h2m98 0h3m30 0h3m-136 1h3m100 0h3m23 0h4m-132 1h2m103 0h5m13 0h5m-128 1h3m107 0h13m-122 1h3m-3 1h3m-2 1h3m-2 1h2m-2 1h3m-2 1h3m-2 1h2m-2 1h3m-2 1h3m-2 1h2m-2 1h3m-2 1h3m-2 1h2m-1 1h2m-2 1h3m-2 1h3m-2 1h2m-1 1h2m-1 1h2m-2 1h3m-2 1h3m-2 1h3m-2 1h3m-2 1h2m-1 1h2m-1 1h2m-1 1h2m-1 1h2m-1 1h3m-2 1h3m-2 1h3m-2 1h3m-2 1h3m-2 1h3m-1 1h3m-2 1h3m-2 1h3m-2 1h4m-2 1h3m-2 1h3m-2 1h4m-2 1h3m-2 1h4m-2 1h3m-2 1h4m-2 1h4m-2 1h4m-3 1h4m-2 1h4m-2 1h4m-2 1h4m-2 1h4m-2 1h5m118 0h1m-122 1h5m114 0h3m-120 1h5m109 0h4m-116 1h6m103 0h5m-111 1h6m97 0h6m-107 1h7m91 0h6m-101 1h7m85 0h7m-96 1h7m78 0h8m-90 1h8m70 0h9m-84 1h10m61 0h11m-78 1h12m49 0h13m-69 1h14m35 0h17m-61 1h57m-51 1h46m-33 1h28m-10 1h2"/>
<path stroke="#00d0ff" d="M0 .5m256 57h20m-30 1h40m-42 1h48m-48 1h53m-53 1h57m-57 1h61m-81 1h2m17 0h65m-87 1h6m15 0h9m50 0h10m-93 1h10m12 0h8m55 0h11m-99 1h14m9 0h7m59 0h13m-103 1h30m61 0h14m-105 1h28m64 0h15m-106 1h25m67 0h10m-102 1h21m71 0h9m-101 1h10m81 0h8m-98 1h8m81 0h9m-99 1h8m80 0h11m17 0h1m-117 1h8m79 0h13m17 0h2m-120 1h8m79 0h5m6 0h4m18 0h2m-124 1h10m79 0h4m9 0h3m19 0h1m-133 1h17m80 0h4m10 0h3m-116 1h18m82 0h3m12 0h3m20 0h1m-140 1h17m85 0h3m12 0h4m19 0h1m-142 1h14m90 0h3m13 0h4m17 0h3m-145 1h9m97 0h3m14 0h4m15 0h4m-146 1h6m101 0h4m14 0h4m13 0h6m-149 1h5m104 0h7m12 0h5m9 0h8m-150 1h4m106 0h13m7 0h6m5 0h11m-153 1h4m109 0h13m8 0h20m-155 1h5m120 0h4m9 0h18m-157 1h5m124 0h3m11 0h16m-161 1h6m127 0h3m13 0h13m-164 1h6m74 0h5m51 0h3m14 0h12m-167 1h6m75 0h10m49 0h2m15 0h11m-169 1h5m76 0h14m47 0h2m16 0h10m-171 1h4m79 0h18m43 0h2m16 0h11m-174 1h4m81 0h26m35 0h3m16 0h10m-175 1h3m84 0h30m30 0h3m17 0h9m-177 1h3m86 0h12m6 0h14m28 0h3m18 0h8m-178 1h3m87 0h8m16 0h9m27 0h3m18 0h8m-179 1h3m88 0h6m22 0h5m28 0h2m19 0h7m-181 1h3m90 0h5m24 0h4m28 0h3m18 0h7m-182 1h3m91 0h4m26 0h3m28 0h3m18 0h7m-183 1h3m92 0h4m27 0h2m29 0h3m16 0h8m-185 1h3m94 0h3m28 0h2m29 0h3m16 0h8m-186 1h3m95 0h3m28 0h2m29 0h3m16 0h8m-188 1h3m97 0h3m28 0h2m29 0h3m16 0h8m-190 1h3m99 0h3m28 0h2m29 0h3m16 0h8m-191 1h2m102 0h2m29 0h2m28 0h3m16 0h8m-193 1h3m103 0h2m29 0h2m28 0h3m16 0h7m-194 1h3m104 0h3m30 0h2m28 0h3m15 0h7m-196 1h3m106 0h2m32 0h3m26 0h3m15 0h7m-198 1h3m108 0h2m33 0h3m25 0h3m15 0h7m-199 1h2m110 0h2m34 0h3m24 0h4m14 0h7m-201 1h2m111 0h3m35 0h3m24 0h3m14 0h7m-204 1h3m113 0h3m36 0h3m23 0h3m14 0h6m-205 1h3m116 0h4m5 0h11m19 0h2m23 0h3m14 0h6m-207 1h3m119 0h20m18 0h3m22 0h3m13 0h7m-210 1h4m137 0h5m18 0h2m23 0h2m13 0h7m-213 1h4m141 0h4m18 0h3m22 0h2m12 0h7m-215 1h5m144 0h4m18 0h3m21 0h3m11 0h7m-218 1h5m148 0h4m18 0h2m21 0h3m11 0h7m-221 1h5m152 0h4m17 0h2m21 0h3m11 0h6m-223 1h5m156 0h4m16 0h3m20 0h3m10 0h7m-225 1h5m159 0h3m17 0h2m20 0h3m10 0h7m-227 1h4m162 0h3m17 0h2m20 0h2m11 0h6m-227 1h3m164 0h3m17 0h2m20 0h2m11 0h6m-229 1h4m165 0h3m17 0h2m20 0h2m10 0h7m-230 1h3m167 0h3m17 0h2m20 0h2m10 0h6m-231 1h3m169 0h3m17 0h2m20 0h2m10 0h6m-232 1h3m170 0h3m17 0h2m20 0h2m9 0h6m-232 1h3m170 0h4m17 0h1m20 0h2m10 0h6m-234 1h3m172 0h4m17 0h1m20 0h2m10 0h6m-235 1h3m173 0h4m16 0h2m20 0h2m9 0h6m-235 1h2m175 0h4m16 0h2m20 0h2m9 0h6m-237 1h3m177 0h4m15 0h1m21 0h1m9 0h6m-237 1h2m180 0h3m14 0h2m20 0h2m9 0h6m-239 1h3m181 0h5m12 0h1m21 0h2m8 0h5m-239 1h3m185 0h4m11 0h1m21 0h2m8 0h4m-240 1h3m188 0h5m8 0h1m22 0h1m8 0h4m-241 1h3m192 0h4m7 0h1m21 0h2m8 0h3m-242 1h3m196 0h2m6 0h1m22 0h2m7 0h3m-243 1h3m73 0h6m120 0h2m4 0h2m22 0h1m8 0h2m-244 1h4m72 0h8m120 0h3m3 0h1m22 0h2m8 0h1m-245 1h4m72 0h11m120 0h2m2 0h2m22 0h2m-237 1h3m72 0h14m119 0h6m22 0h1m-238 1h3m73 0h17m117 0h5m22 0h2m-239 1h3m72 0h22m115 0h4m22 0h1m-240 1h3m73 0h27m111 0h3m22 0h2m-241 1h3m72 0h8m4 0h20m107 0h4m22 0h2m-243 1h3m73 0h5m19 0h12m104 0h4m21 0h2m-243 1h3m72 0h4m26 0h10m102 0h4m21 0h2m-245 1h3m72 0h4m31 0h9m100 0h3m21 0h2m-245 1h3m72 0h3m36 0h7m98 0h4m20 0h3m-246 1h3m71 0h3m39 0h8m96 0h4m20 0h2m-247 1h3m71 0h3m43 0h7m95 0h4m19 0h3m-248 1h3m70 0h3m45 0h8m93 0h4m20 0h2m-248 1h2m69 0h4m48 0h7m93 0h4m19 0h3m6 0h1m-257 1h3m68 0h4m50 0h7m92 0h4m20 0h2m6 0h1m-257 1h3m68 0h3m52 0h6m93 0h4m20 0h2m5 0h2m-258 1h2m68 0h3m54 0h6m93 0h3m20 0h2m5 0h2m-259 1h3m67 0h3m55 0h6m94 0h2m21 0h2m4 0h2m-259 1h2m67 0h4m56 0h6m94 0h1m21 0h3m4 0h2m-260 1h2m67 0h3m57 0h6m117 0h2m4 0h2m-261 1h3m66 0h3m59 0h6m116 0h3m3 0h2m-261 1h2m67 0h2m61 0h5m116 0h3m4 0h1m-261 1h2m66 0h3m61 0h6m116 0h2m4 0h1m-262 1h3m66 0h2m63 0h5m116 0h3m-258 1h2m66 0h2m65 0h5m116 0h2m-258 1h2m66 0h2m66 0h4m116 0h3m-260 1h3m65 0h2m68 0h4m115 0h3m-260 1h3m65 0h2m69 0h4m115 0h2m-260 1h2m66 0h1m71 0h5m113 0h3m-261 1h2m65 0h2m72 0h7m110 0h3m-261 1h2m65 0h1m75 0h11m104 0h4m-263 1h3m65 0h1m78 0h13m100 0h3m-263 1h2m65 0h2m83 0h12m96 0h4m-264 1h2m65 0h1m90 0h9m93 0h4m-264 1h2m65 0h1m93 0h9m90 0h4m-264 1h2m65 0h1m96 0h8m89 0h4m-266 1h3m64 0h2m99 0h7m87 0h4m-266 1h2m65 0h2m102 0h5m86 0h4m-266 1h2m65 0h2m104 0h5m84 0h5m-267 1h2m65 0h3m104 0h5m83 0h5m-267 1h2m66 0h2m106 0h5m82 0h4m-267 1h2m66 0h2m107 0h5m81 0h4m-267 1h2m66 0h2m109 0h4m80 0h4m-268 1h3m66 0h2m110 0h3m80 0h5m-269 1h2m67 0h2m110 0h4m79 0h5m-269 1h2m68 0h2m110 0h4m78 0h5m-269 1h2m68 0h2m111 0h3m79 0h4m-269 1h2m68 0h2m111 0h3m79 0h4m-269 1h2m68 0h2m112 0h3m78 0h4m-269 1h2m68 0h2m112 0h3m78 0h5m-270 1h2m68 0h2m113 0h2m78 0h5m-270 1h2m68 0h2m113 0h2m78 0h5m-270 1h2m68 0h2m113 0h2m78 0h5m-271 1h3m68 0h2m113 0h2m78 0h5m-271 1h3m68 0h2m113 0h2m79 0h4m-271 1h3m68 0h2m113 0h2m79 0h4m-271 1h3m69 0h1m113 0h2m79 0h4m-271 1h2m70 0h1m113 0h2m79 0h4m-271 1h2m70 0h2m111 0h3m79 0h4m-271 1h2m70 0h2m111 0h3m79 0h4m-271 1h2m70 0h2m111 0h2m80 0h4m-271 1h2m70 0h2m110 0h2m81 0h4m-271 1h2m70 0h2m110 0h2m81 0h4m-271 1h2m70 0h2m110 0h2m81 0h4m-271 1h2m71 0h1m110 0h1m82 0h4m-271 1h2m71 0h1m109 0h2m82 0h4m-271 1h2m71 0h2m108 0h2m82 0h4m-271 1h2m71 0h2m108 0h2m82 0h4m-271 1h2m71 0h2m108 0h2m82 0h4m-271 1h2m71 0h2m108 0h2m82 0h4m-271 1h2m71 0h2m108 0h2m82 0h4m-271 1h3m70 0h2m108 0h2m82 0h4m-271 1h3m70 0h2m108 0h2m82 0h4m-271 1h3m70 0h2m108 0h2m82 0h4m-270 1h2m70 0h2m108 0h2m82 0h4m-270 1h2m70 0h2m108 0h2m82 0h4m-270 1h2m70 0h2m108 0h2m82 0h4m-270 1h2m70 0h2m108 0h2m81 0h5m-270 1h2m70 0h2m108 0h1m82 0h5m-270 1h2m70 0h2m108 0h1m82 0h5m-270 1h2m70 0h2m108 0h1m82 0h4m-269 1h2m70 0h2m108 0h1m82 0h4m-269 1h3m69 0h2m107 0h2m82 0h4m-268 1h2m69 0h2m107 0h1m83 0h4m-268 1h2m69 0h2m107 0h1m83 0h4m-268 1h2m69 0h2m107 0h1m82 0h5m-268 1h2m69 0h2m106 0h1m83 0h5m-268 1h2m69 0h2m106 0h1m83 0h4m-267 1h3m68 0h2m106 0h1m83 0h4m-266 1h2m68 0h2m105 0h2m83 0h4m-266 1h2m68 0h2m105 0h1m84 0h4m-266 1h2m69 0h2m104 0h1m83 0h5m-266 1h2m69 0h2m103 0h2m83 0h5m-266 1h3m68 0h2m103 0h1m84 0h4m-264 1h2m68 0h2m103 0h1m84 0h4m-264 1h2m68 0h2m102 0h1m84 0h5m-264 1h2m69 0h2m101 0h1m84 0h5m-264 1h3m68 0h2m101 0h1m84 0h5m-263 1h2m68 0h3m99 0h1m85 0h4m-262 1h2m69 0h2m99 0h1m84 0h5m-262 1h2m69 0h3m97 0h1m85 0h5m-261 1h2m69 0h2m97 0h1m85 0h5m-261 1h2m70 0h2m95 0h1m86 0h4m-260 1h2m71 0h2m94 0h1m85 0h5m-260 1h3m70 0h2m93 0h1m86 0h5m-259 1h2m71 0h2m179 0h5m-259 1h2m72 0h2m90 0h1m86 0h5m-258 1h3m72 0h2m88 0h1m87 0h5m-257 1h2m73 0h2m86 0h1m88 0h5m-257 1h2m74 0h2m84 0h1m88 0h5m-255 1h2m75 0h2m171 0h6m-256 1h2m76 0h2m80 0h1m89 0h6m-256 1h2m78 0h1m78 0h1m89 0h7m-255 1h2m78 0h2m75 0h1m90 0h6m-254 1h2m80 0h2m72 0h1m90 0h7m-253 1h2m80 0h3m69 0h1m91 0h6m-252 1h2m82 0h2m67 0h1m92 0h6m-252 1h2m84 0h2m64 0h1m92 0h6m-250 1h2m84 0h2m156 0h6m-250 1h2m86 0h1m154 0h6m-248 1h2m86 0h2m58 0h1m93 0h6m-248 1h2m87 0h2m56 0h1m93 0h6m-246 1h2m87 0h2m54 0h1m94 0h6m-246 1h2m89 0h2m50 0h2m94 0h6m-244 1h2m89 0h2m48 0h1m96 0h6m-244 1h2m91 0h2m44 0h2m96 0h6m-242 1h2m91 0h3m40 0h2m98 0h6m-242 1h2m93 0h3m36 0h2m99 0h6m-240 1h2m95 0h3m30 0h3m101 0h6m-240 1h2m98 0h3m23 0h3m104 0h6m-238 1h2m100 0h5m13 0h5m107 0h5m-236 1h2m104 0h13m111 0h6m-236 1h2m228 0h5m-234 1h2m226 0h6m-234 1h2m225 0h6m-232 1h2m224 0h5m-230 1h2m222 0h6m-230 1h2m222 0h5m-228 1h2m220 0h5m-226 1h2m218 0h6m-226 1h2m218 0h5m-224 1h2m216 0h5m-222 1h2m214 0h5m-221 1h2m213 0h6m-220 1h2m212 0h5m-218 1h2m210 0h5m-216 1h2m208 0h5m-215 1h3m206 0h6m-214 1h2m206 0h5m-212 1h2m204 0h5m-210 1h2m202 0h5m-208 1h2m200 0h5m-206 1h2m198 0h5m-204 1h2m197 0h4m-203 1h2m196 0h4m-201 1h3m193 0h4m-199 1h3m191 0h4m-197 1h3m189 0h5m-196 1h3m186 0h5m-192 1h2m184 0h5m-190 1h2m182 0h5m-188 1h2m180 0h5m-186 1h2m178 0h5m-184 1h3m175 0h5m-182 1h3m172 0h6m-179 1h2m170 0h6m-177 1h3m167 0h6m-175 1h3m164 0h6m-171 1h2m162 0h6m-169 1h3m158 0h7m-167 1h3m156 0h7m-164 1h3m152 0h7m-161 1h3m150 0h7m-158 1h3m146 0h8m-156 1h4m143 0h7m-152 1h3m140 0h8m-149 1h3m136 0h8m-145 1h3m132 0h9m-143 1h4m128 0h9m-139 1h4m124 0h9m-135 1h4m120 0h10m-132 1h4m116 0h10m-128 1h5m111 0h10m-123 1h4m106 0h8m1 0h2m-119 1h5m101 0h8m-112 1h5m96 0h8m-106 1h5m90 0h8m-100 1h5m84 0h8m-94 1h6m76 0h9m-88 1h7m68 0h10m-82 1h8m60 0h10m-74 1h10m49 0h11m-65 1h12m34 0h15m-55 1h49m-42 1h35"/>
<path stroke="#00e6ff" d="M0 .5m251 64h50m-53 1h55m-58 1h59m-60 1h8m1 0h29m15 0h8m-63 1h6m10 0h17m24 0h7m15 0h1m-82 1h6m17 0h2m35 0h7m10 0h7m-88 1h8m56 0h7m9 0h10m-101 1h17m58 0h6m8 0h14m-104 1h16m59 0h6m9 0h16m-107 1h14m61 0h5m11 0h6m3 0h8m-108 1h10m65 0h4m13 0h4m6 0h7m-110 1h8m68 0h3m15 0h4m6 0h8m-112 1h7m69 0h3m16 0h3m7 0h9m-115 1h8m70 0h2m17 0h4m6 0h11m-119 1h8m71 0h3m18 0h4m5 0h11m-122 1h9m73 0h3m19 0h5m2 0h12m-127 1h12m75 0h3m20 0h17m-133 1h17m77 0h3m21 0h15m-136 1h19m47 0h3m28 0h4m22 0h13m-138 1h18m48 0h8m26 0h4m24 0h9m-138 1h10m55 0h12m25 0h4m26 0h5m-138 1h7m58 0h14m24 0h6m-109 1h5m59 0h17m22 0h17m-121 1h5m58 0h21m20 0h12m4 0h4m-125 1h5m57 0h25m18 0h9m10 0h3m-129 1h6m51 0h17m5 0h13m14 0h8m14 0h2m-132 1h7m50 0h18m10 0h30m16 0h3m-136 1h7m51 0h18m14 0h26m19 0h2m-139 1h8m53 0h18m18 0h21m20 0h2m-141 1h6m58 0h17m26 0h13m20 0h2m-143 1h5m65 0h14m30 0h7m21 0h2m-145 1h5m71 0h10m32 0h5m21 0h2m-146 1h4m76 0h7m33 0h3m22 0h2m-147 1h3m80 0h5m33 0h3m22 0h3m-150 1h4m82 0h4m33 0h3m22 0h3m-151 1h3m84 0h4m33 0h2m23 0h3m-152 1h3m86 0h3m33 0h2m24 0h3m-155 1h3m88 0h3m33 0h2m24 0h3m-156 1h3m89 0h3m33 0h2m24 0h3m-158 1h3m92 0h2m33 0h2m25 0h2m-160 1h3m94 0h2m33 0h2m25 0h2m-162 1h3m96 0h3m33 0h1m25 0h2m-163 1h2m99 0h2m33 0h2m24 0h2m-165 1h2m101 0h1m35 0h3m22 0h3m-168 1h2m102 0h2m37 0h2m21 0h3m-170 1h3m103 0h2m38 0h3m19 0h3m-172 1h3m105 0h2m39 0h3m18 0h3m-174 1h3m107 0h1m41 0h3m17 0h4m-177 1h3m108 0h2m42 0h2m17 0h4m-179 1h3m110 0h3m41 0h3m17 0h3m-181 1h3m113 0h3m41 0h3m16 0h3m-183 1h3m116 0h18m25 0h3m16 0h4m-187 1h3m124 0h14m25 0h3m16 0h3m-189 1h3m136 0h5m25 0h2m16 0h3m-192 1h4m139 0h5m24 0h3m15 0h3m-195 1h4m143 0h5m23 0h3m16 0h2m-198 1h5m146 0h5m23 0h2m16 0h2m-200 1h4m150 0h5m22 0h2m16 0h2m-203 1h5m154 0h3m22 0h2m16 0h2m-205 1h4m157 0h3m22 0h2m16 0h2m-206 1h3m160 0h2m22 0h2m16 0h2m-208 1h3m162 0h2m22 0h2m16 0h2m-210 1h3m163 0h3m22 0h2m16 0h2m-211 1h3m164 0h3m22 0h1m17 0h2m-212 1h2m166 0h2m22 0h2m17 0h1m-213 1h3m166 0h3m22 0h2m16 0h2m-214 1h2m168 0h3m22 0h1m17 0h2m-216 1h3m169 0h3m22 0h1m17 0h2m-217 1h2m172 0h3m20 0h2m17 0h2m-219 1h3m173 0h4m19 0h1m18 0h1m-219 1h2m176 0h3m18 0h2m17 0h2m-221 1h3m178 0h4m16 0h1m18 0h2m-223 1h3m67 0h7m108 0h3m14 0h2m18 0h2m-225 1h3m66 0h11m108 0h4m12 0h1m19 0h1m-226 1h3m66 0h14m110 0h3m9 0h2m18 0h2m-228 1h3m67 0h3m6 0h6m111 0h3m8 0h1m19 0h2m-229 1h2m67 0h3m8 0h7m111 0h2m7 0h2m19 0h1m-230 1h3m67 0h2m11 0h8m110 0h2m6 0h1m19 0h2m-232 1h3m67 0h2m14 0h9m109 0h1m6 0h1m19 0h2m-234 1h3m68 0h2m17 0h10m106 0h1m5 0h1m19 0h2m-234 1h2m68 0h2m22 0h10m103 0h2m4 0h1m19 0h2m-236 1h3m68 0h2m27 0h8m101 0h2m3 0h2m18 0h2m-236 1h2m68 0h2m32 0h7m99 0h1m4 0h1m19 0h2m-238 1h3m67 0h3m36 0h6m97 0h1m4 0h1m18 0h2m-238 1h2m68 0h2m40 0h6m95 0h1m4 0h1m18 0h2m-240 1h3m67 0h2m44 0h6m93 0h1m3 0h2m17 0h2m-240 1h2m67 0h3m46 0h7m90 0h1m4 0h1m17 0h2m-240 1h2m66 0h3m50 0h7m88 0h1m4 0h1m17 0h2m-242 1h3m65 0h3m53 0h7m87 0h1m4 0h1m16 0h2m-242 1h2m64 0h4m56 0h7m85 0h1m4 0h1m17 0h2m-244 1h3m63 0h3m59 0h7m85 0h1m4 0h1m16 0h2m-244 1h2m63 0h3m61 0h7m84 0h1m4 0h1m17 0h2m-245 1h2m63 0h3m61 0h8m84 0h1m4 0h1m16 0h3m-247 1h2m63 0h3m63 0h8m84 0h1m3 0h1m17 0h2m-247 1h2m62 0h3m64 0h9m83 0h2m2 0h1m18 0h2m-249 1h3m62 0h2m66 0h8m84 0h2m1 0h1m18 0h2m-249 1h2m63 0h2m66 0h9m84 0h3m19 0h2m-250 1h2m62 0h2m68 0h9m84 0h2m19 0h2m-251 1h2m63 0h2m68 0h9m106 0h1m-251 1h2m63 0h1m70 0h8m106 0h2m-252 1h2m62 0h2m70 0h9m105 0h2m-253 1h2m63 0h1m72 0h9m105 0h2m-254 1h2m62 0h2m72 0h11m103 0h2m-254 1h2m62 0h1m74 0h13m100 0h2m-254 1h1m63 0h1m75 0h16m97 0h2m-256 1h2m62 0h2m77 0h19m92 0h2m-256 1h2m62 0h1m81 0h19m89 0h2m-256 1h2m62 0h1m87 0h15m87 0h2m-256 1h1m62 0h2m92 0h11m86 0h3m-258 1h2m62 0h1m97 0h9m85 0h2m-258 1h2m62 0h1m100 0h8m83 0h2m-258 1h2m62 0h1m103 0h6m82 0h2m-258 1h2m61 0h2m105 0h6m80 0h3m-259 1h1m62 0h1m108 0h6m78 0h3m-260 1h2m62 0h1m109 0h7m76 0h3m-260 1h2m62 0h1m111 0h6m75 0h3m-260 1h2m62 0h1m112 0h6m75 0h2m-260 1h2m62 0h2m113 0h5m74 0h3m-261 1h2m62 0h2m114 0h4m74 0h3m-261 1h1m63 0h2m115 0h4m73 0h3m-261 1h1m63 0h2m115 0h4m73 0h3m-262 1h2m64 0h1m116 0h3m73 0h3m-262 1h2m64 0h2m116 0h3m72 0h3m-262 1h2m64 0h2m116 0h3m72 0h4m-263 1h2m64 0h2m116 0h3m72 0h4m-263 1h2m64 0h2m117 0h2m72 0h4m-263 1h2m64 0h2m117 0h2m72 0h4m-263 1h1m65 0h2m117 0h2m72 0h4m-263 1h1m66 0h1m117 0h2m72 0h4m-263 1h1m66 0h1m117 0h2m72 0h4m-263 1h1m66 0h1m117 0h2m72 0h4m-263 1h1m66 0h1m117 0h2m72 0h5m-264 1h1m66 0h1m117 0h2m72 0h5m-264 1h1m66 0h2m116 0h2m72 0h5m-265 1h2m66 0h2m116 0h2m72 0h5m-265 1h2m66 0h2m116 0h2m72 0h5m-265 1h2m66 0h2m116 0h2m73 0h4m-265 1h2m66 0h2m115 0h3m73 0h4m-265 1h2m67 0h1m114 0h3m74 0h4m-265 1h2m67 0h1m114 0h3m74 0h4m-265 1h2m67 0h1m114 0h3m74 0h4m-265 1h2m67 0h2m112 0h3m75 0h4m-265 1h2m67 0h2m112 0h2m76 0h4m-265 1h2m67 0h2m112 0h2m76 0h4m-265 1h2m67 0h2m112 0h2m76 0h4m-265 1h2m67 0h2m112 0h1m77 0h4m-265 1h2m67 0h2m112 0h1m77 0h4m-265 1h2m67 0h2m112 0h1m77 0h4m-264 1h1m67 0h2m112 0h1m77 0h4m-264 1h1m67 0h2m112 0h1m77 0h4m-264 1h1m67 0h2m112 0h1m77 0h4m-264 1h1m67 0h2m112 0h1m77 0h4m-264 1h1m67 0h2m112 0h1m76 0h5m-264 1h1m67 0h2m112 0h1m76 0h5m-264 1h2m66 0h2m112 0h1m76 0h4m-263 1h2m66 0h2m111 0h2m76 0h4m-263 1h2m66 0h2m111 0h2m76 0h4m-263 1h2m66 0h2m111 0h1m77 0h4m-263 1h2m66 0h2m111 0h1m77 0h4m-262 1h1m66 0h2m111 0h1m77 0h4m-262 1h1m66 0h2m110 0h2m77 0h4m-262 1h1m66 0h2m110 0h1m78 0h4m-262 1h2m65 0h2m110 0h1m77 0h4m-261 1h2m65 0h2m109 0h2m77 0h4m-261 1h2m65 0h2m109 0h1m78 0h4m-260 1h1m65 0h2m109 0h1m78 0h4m-260 1h1m65 0h2m109 0h1m78 0h4m-260 1h1m66 0h1m108 0h1m79 0h4m-260 1h2m65 0h2m107 0h1m78 0h4m-259 1h2m65 0h2m107 0h1m78 0h4m-258 1h1m65 0h2m106 0h1m79 0h4m-258 1h1m65 0h2m106 0h1m79 0h4m-258 1h2m64 0h2m105 0h1m80 0h3m-257 1h2m65 0h2m104 0h1m79 0h4m-256 1h1m65 0h2m104 0h1m79 0h4m-256 1h1m65 0h2m103 0h1m80 0h4m-256 1h2m65 0h2m102 0h1m80 0h3m-255 1h2m65 0h2m101 0h1m80 0h4m-254 1h1m66 0h2m100 0h1m80 0h4m-254 1h1m66 0h3m98 0h1m81 0h4m-254 1h2m66 0h3m97 0h1m81 0h3m-252 1h1m67 0h2m96 0h1m81 0h4m-252 1h1m68 0h2m94 0h1m82 0h4m-252 1h2m68 0h2m93 0h1m82 0h3m-250 1h1m69 0h2m91 0h1m82 0h4m-250 1h1m70 0h2m89 0h1m83 0h4m-250 1h2m71 0h1m87 0h1m84 0h3m-248 1h1m72 0h2m84 0h1m84 0h4m-248 1h2m72 0h2m168 0h4m-248 1h2m74 0h2m166 0h3m-246 1h1m75 0h2m164 0h4m-246 1h2m76 0h2m75 0h1m86 0h3m-244 1h1m77 0h2m73 0h1m86 0h4m-244 1h2m78 0h2m70 0h1m87 0h4m-244 1h2m80 0h2m67 0h1m88 0h3m-242 1h1m81 0h2m65 0h1m88 0h4m-242 1h2m82 0h2m62 0h1m89 0h3m-240 1h1m83 0h2m150 0h4m-240 1h2m83 0h2m149 0h3m-238 1h1m85 0h1m57 0h1m89 0h4m-238 1h2m85 0h2m54 0h1m90 0h3m-236 1h1m86 0h2m51 0h1m91 0h4m-236 1h2m87 0h2m48 0h1m92 0h3m-234 1h1m88 0h2m45 0h2m92 0h4m-234 1h2m89 0h2m41 0h2m94 0h3m-232 1h1m91 0h3m36 0h2m95 0h4m-232 1h2m93 0h3m29 0h3m98 0h3m-230 1h2m95 0h3m23 0h3m100 0h4m-229 1h1m98 0h5m13 0h4m104 0h3m-228 1h2m103 0h11m108 0h4m-227 1h1m222 0h3m-226 1h2m220 0h3m-224 1h2m218 0h4m-223 1h1m218 0h3m-222 1h2m216 0h4m-221 1h2m215 0h3m-219 1h1m214 0h3m-218 1h2m212 0h4m-217 1h2m211 0h3m-215 1h1m210 0h3m-214 1h2m208 0h3m-212 1h2m206 0h4m-211 1h2m205 0h3m-209 1h1m204 0h3m-207 1h1m202 0h3m-206 1h2m200 0h4m-205 1h2m199 0h3m-203 1h2m197 0h3m-201 1h2m195 0h3m-199 1h1m194 0h3m-197 1h1m192 0h4m-197 1h2m190 0h4m-194 1h1m188 0h4m-192 1h2m185 0h4m-190 1h2m183 0h4m-188 1h2m181 0h3m-185 1h2m179 0h3m-183 1h2m177 0h3m-181 1h2m174 0h4m-179 1h3m171 0h4m-176 1h2m169 0h4m-174 1h2m166 0h4m-171 1h3m163 0h4m-168 1h2m161 0h4m-166 1h2m158 0h4m-163 1h3m155 0h4m-160 1h2m152 0h4m-157 1h3m149 0h4m-154 1h2m146 0h4m-151 1h3m143 0h4m-148 1h3m139 0h4m-144 1h2m136 0h5m-142 1h3m132 0h5m-138 1h3m128 0h5m-134 1h3m124 0h5m-130 1h3m120 0h5m-126 1h3m116 0h5m-122 1h4m111 0h5m-118 1h4m107 0h5m-113 1h3m102 0h6m-109 1h4m97 0h5m-103 1h4m91 0h6m-99 1h5m85 0h6m-93 1h5m78 0h7m-87 1h6m71 0h7m-80 1h6m62 0h8m-72 1h7m53 0h8m-64 1h9m40 0h11m-54 1h14m19 0h16m-42 1h34"/>
<path stroke="#00fcff" d="M0 .5m252 67h1m29 0h15m-49 1h10m17 0h24m-53 1h17m2 0h21m7 0h7m-56 1h5m6 0h27m12 0h6m-58 1h5m10 0h22m16 0h5m-60 1h5m14 0h18m18 0h4m-62 1h7m16 0h14m21 0h3m22 0h3m-90 1h10m19 0h11m22 0h3m21 0h6m-95 1h11m22 0h10m22 0h3m22 0h6m-97 1h10m25 0h10m22 0h2m22 0h7m-98 1h8m27 0h12m20 0h3m23 0h6m-100 1h8m28 0h14m19 0h2m25 0h5m-102 1h7m30 0h15m18 0h3m27 0h2m-103 1h8m29 0h18m17 0h3m-76 1h8m30 0h19m16 0h4m-78 1h8m30 0h9m3 0h9m16 0h3m-81 1h10m30 0h8m8 0h8m14 0h4m-91 1h17m31 0h7m12 0h7m13 0h5m-96 1h19m29 0h10m14 0h8m10 0h6m-98 1h17m28 0h14m17 0h10m2 0h10m-99 1h10m34 0h14m21 0h20m12 0h4m-116 1h6m37 0h14m25 0h18m9 0h10m-120 1h5m38 0h8m35 0h14m8 0h6m4 0h4m-123 1h5m39 0h6m58 0h5m9 0h2m-126 1h5m41 0h5m58 0h5m11 0h3m-129 1h5m43 0h5m57 0h5m13 0h2m-133 1h7m45 0h6m56 0h3m15 0h2m-136 1h7m49 0h9m51 0h3m16 0h2m-138 1h6m55 0h10m47 0h2m17 0h2m-140 1h5m62 0h9m43 0h3m17 0h2m-142 1h5m67 0h8m41 0h2m18 0h2m-143 1h4m73 0h5m40 0h2m17 0h3m-145 1h4m76 0h4m39 0h2m18 0h3m-146 1h3m79 0h4m38 0h2m18 0h4m-149 1h3m82 0h3m38 0h1m19 0h4m-150 1h3m84 0h2m38 0h1m20 0h3m-152 1h3m86 0h3m37 0h1m20 0h4m-155 1h3m89 0h2m37 0h2m19 0h4m-157 1h3m91 0h2m37 0h2m19 0h4m-159 1h3m94 0h2m37 0h3m17 0h4m-161 1h3m96 0h2m39 0h3m15 0h4m-163 1h3m98 0h1m41 0h4m13 0h4m-164 1h2m100 0h1m43 0h3m11 0h5m-166 1h2m101 0h2m44 0h3m10 0h5m-168 1h2m103 0h2m45 0h3m9 0h5m-170 1h2m105 0h1m46 0h4m8 0h5m-172 1h2m107 0h1m47 0h4m7 0h6m-175 1h2m109 0h2m47 0h4m7 0h5m-177 1h2m112 0h2m46 0h4m7 0h5m-180 1h3m116 0h5m42 0h4m7 0h5m-183 1h3m121 0h12m32 0h4m7 0h5m-185 1h3m128 0h8m32 0h3m8 0h4m-188 1h3m134 0h6m31 0h3m8 0h5m-191 1h3m137 0h6m30 0h3m9 0h4m-194 1h4m139 0h7m29 0h3m10 0h3m-196 1h3m144 0h7m27 0h3m10 0h3m-199 1h4m148 0h5m27 0h2m12 0h2m-201 1h4m152 0h4m26 0h2m12 0h2m-203 1h3m156 0h3m26 0h2m12 0h2m-205 1h4m157 0h2m27 0h2m12 0h2m-206 1h3m159 0h2m26 0h2m13 0h2m-208 1h3m160 0h3m26 0h2m12 0h3m-209 1h2m162 0h2m27 0h1m13 0h2m-210 1h3m163 0h2m26 0h2m13 0h2m-211 1h2m165 0h2m26 0h1m14 0h2m-213 1h3m166 0h3m25 0h1m14 0h2m-214 1h2m168 0h3m24 0h1m15 0h2m-216 1h3m65 0h2m103 0h3m23 0h1m15 0h1m-216 1h2m62 0h11m101 0h2m21 0h1m15 0h2m-218 1h2m62 0h3m7 0h5m100 0h3m19 0h1m15 0h2m-220 1h2m62 0h2m11 0h5m100 0h3m17 0h1m16 0h2m-222 1h2m62 0h2m14 0h4m102 0h4m31 0h1m-223 1h2m63 0h2m15 0h6m102 0h3m12 0h1m16 0h2m-225 1h3m62 0h2m18 0h7m102 0h2m11 0h1m16 0h2m-226 1h2m63 0h2m21 0h8m100 0h2m9 0h1m17 0h1m-227 1h2m63 0h2m25 0h8m99 0h2m8 0h1m16 0h2m-229 1h2m64 0h2m29 0h7m98 0h1m7 0h1m17 0h1m-230 1h3m63 0h2m34 0h6m96 0h1m7 0h1m16 0h2m-231 1h2m64 0h2m37 0h6m94 0h1m7 0h1m16 0h1m-232 1h2m64 0h2m41 0h6m92 0h1m6 0h1m16 0h2m-233 1h2m63 0h2m45 0h6m90 0h1m6 0h1m15 0h2m-234 1h2m64 0h2m48 0h6m88 0h1m6 0h1m15 0h2m-235 1h2m63 0h2m52 0h6m86 0h1m6 0h1m14 0h2m-236 1h2m62 0h3m56 0h5m84 0h1m6 0h1m14 0h2m-236 1h2m61 0h3m60 0h5m82 0h1m6 0h1m14 0h2m-237 1h2m60 0h3m63 0h5m81 0h1m6 0h1m13 0h2m-238 1h2m60 0h2m67 0h5m79 0h1m6 0h1m14 0h2m-239 1h2m59 0h2m69 0h6m78 0h1m6 0h1m13 0h2m-240 1h2m59 0h2m71 0h6m84 0h1m13 0h3m-241 1h2m58 0h3m72 0h6m77 0h1m20 0h2m-242 1h2m59 0h2m74 0h7m76 0h1m5 0h1m14 0h2m-243 1h2m58 0h2m76 0h7m81 0h1m14 0h3m-244 1h2m58 0h2m76 0h8m75 0h1m4 0h1m15 0h2m-245 1h2m59 0h2m77 0h9m74 0h1m3 0h1m15 0h3m-246 1h2m58 0h2m79 0h10m73 0h1m2 0h1m16 0h2m-247 1h2m59 0h2m79 0h11m73 0h3m16 0h3m-248 1h2m59 0h2m79 0h13m72 0h2m17 0h2m-248 1h2m59 0h1m81 0h14m89 0h2m-249 1h2m59 0h2m82 0h14m88 0h3m-250 1h2m59 0h1m85 0h14m87 0h2m-250 1h1m60 0h1m88 0h13m85 0h2m-251 1h2m59 0h2m92 0h11m83 0h3m-252 1h2m59 0h1m98 0h7m82 0h3m-252 1h2m59 0h1m101 0h6m81 0h2m-252 1h1m59 0h2m103 0h6m79 0h2m-253 1h2m59 0h1m105 0h7m77 0h2m-253 1h2m59 0h1m107 0h7m75 0h3m-254 1h2m59 0h1m109 0h8m72 0h3m-254 1h1m59 0h2m110 0h8m71 0h3m-254 1h1m59 0h1m113 0h7m70 0h3m-255 1h2m59 0h1m115 0h6m69 0h3m-255 1h2m59 0h1m117 0h5m68 0h3m-255 1h2m59 0h1m118 0h5m67 0h3m-255 1h2m59 0h1m119 0h4m67 0h4m-256 1h1m60 0h1m120 0h3m67 0h4m-256 1h1m60 0h1m120 0h4m66 0h4m-257 1h2m60 0h1m121 0h3m66 0h4m-257 1h2m60 0h1m121 0h3m66 0h4m-257 1h2m60 0h2m120 0h3m66 0h4m-257 1h2m60 0h2m121 0h2m66 0h4m-257 1h2m61 0h1m121 0h2m66 0h4m-257 1h1m62 0h1m121 0h2m66 0h4m-257 1h1m62 0h1m121 0h2m66 0h4m-257 1h1m62 0h1m121 0h2m66 0h4m-258 1h2m62 0h1m121 0h2m66 0h4m-258 1h2m62 0h2m120 0h2m66 0h4m-258 1h2m62 0h2m120 0h2m66 0h4m-258 1h2m62 0h2m120 0h2m66 0h4m-258 1h2m62 0h2m120 0h2m66 0h4m-258 1h2m62 0h2m120 0h2m66 0h4m-258 1h2m62 0h2m120 0h2m66 0h4m-258 1h2m63 0h1m120 0h2m66 0h4m-258 1h2m63 0h1m120 0h2m66 0h4m-258 1h2m63 0h1m120 0h2m66 0h5m-259 1h2m63 0h1m120 0h2m66 0h5m-259 1h2m63 0h2m118 0h2m67 0h5m-259 1h1m64 0h2m118 0h2m67 0h5m-259 1h1m64 0h2m118 0h2m67 0h5m-259 1h1m64 0h2m117 0h3m67 0h5m-259 1h1m64 0h2m116 0h3m68 0h5m-259 1h1m64 0h2m116 0h3m68 0h5m-259 1h1m64 0h2m116 0h3m68 0h5m-259 1h2m63 0h2m115 0h3m69 0h5m-259 1h2m63 0h2m115 0h2m70 0h5m-259 1h2m64 0h1m115 0h2m70 0h5m-259 1h2m64 0h1m115 0h2m70 0h5m-259 1h2m64 0h1m115 0h2m70 0h5m-259 1h2m64 0h1m115 0h2m70 0h5m-259 1h2m64 0h1m115 0h2m70 0h5m-259 1h2m64 0h1m115 0h2m70 0h4m-258 1h2m64 0h1m115 0h2m70 0h4m-257 1h1m64 0h1m115 0h1m71 0h4m-257 1h1m64 0h1m115 0h1m71 0h4m-257 1h1m64 0h1m115 0h1m71 0h4m-257 1h1m64 0h1m114 0h2m71 0h4m-257 1h2m63 0h1m114 0h1m72 0h4m-257 1h2m63 0h1m114 0h1m72 0h4m-257 1h2m63 0h1m114 0h1m72 0h4m-257 1h2m63 0h1m113 0h2m72 0h4m-256 1h1m63 0h1m113 0h1m72 0h4m-255 1h1m63 0h1m113 0h1m72 0h4m-255 1h1m63 0h1m112 0h1m73 0h4m-255 1h2m62 0h1m112 0h1m73 0h4m-255 1h2m62 0h1m112 0h1m73 0h4m-255 1h2m62 0h2m110 0h1m74 0h4m-254 1h1m62 0h2m110 0h1m74 0h3m-253 1h1m62 0h2m184 0h4m-253 1h2m61 0h2m109 0h1m74 0h4m-253 1h2m62 0h1m109 0h1m74 0h4m-252 1h1m62 0h1m108 0h1m75 0h4m-252 1h1m62 0h2m107 0h1m75 0h3m-251 1h2m61 0h2m107 0h1m74 0h4m-251 1h2m62 0h1m106 0h1m75 0h4m-250 1h1m62 0h2m105 0h1m75 0h4m-250 1h1m62 0h2m104 0h1m76 0h3m-249 1h2m62 0h2m103 0h1m75 0h4m-249 1h2m63 0h1m102 0h1m76 0h4m-248 1h1m63 0h2m101 0h1m76 0h4m-248 1h2m63 0h2m99 0h1m77 0h3m-247 1h2m64 0h2m97 0h1m77 0h4m-246 1h1m65 0h2m174 0h4m-246 1h2m65 0h2m94 0h1m78 0h3m-245 1h2m66 0h2m92 0h1m78 0h4m-244 1h1m67 0h3m89 0h1m79 0h4m-244 1h2m68 0h2m87 0h1m80 0h3m-242 1h1m69 0h2m85 0h1m80 0h4m-242 1h2m70 0h2m82 0h1m81 0h4m-242 1h2m71 0h2m80 0h1m82 0h3m-240 1h1m73 0h2m160 0h4m-240 1h2m74 0h1m159 0h3m-238 1h1m75 0h2m73 0h1m82 0h4m-238 1h2m76 0h2m70 0h1m83 0h4m-238 1h2m77 0h2m68 0h1m84 0h3m-236 1h1m79 0h2m65 0h1m84 0h4m-236 1h2m79 0h2m63 0h1m85 0h3m-234 1h1m81 0h1m61 0h1m85 0h4m-234 1h2m81 0h2m145 0h3m-232 1h1m82 0h2m57 0h1m85 0h4m-232 1h2m82 0h2m54 0h2m86 0h3m-230 1h1m84 0h2m51 0h1m88 0h3m-230 1h2m84 0h2m49 0h1m88 0h3m-228 1h2m85 0h2m45 0h2m89 0h3m-228 1h2m87 0h2m41 0h2m90 0h3m-226 1h2m88 0h3m35 0h2m92 0h4m-225 1h1m91 0h3m29 0h2m95 0h3m-224 1h2m93 0h3m22 0h3m97 0h4m-223 1h1m97 0h5m11 0h4m101 0h3m-222 1h2m102 0h9m105 0h4m-221 1h2m215 0h3m-219 1h1m214 0h3m-218 1h2m212 0h4m-217 1h2m211 0h3m-215 1h1m210 0h4m-215 1h2m209 0h3m-213 1h2m207 0h3m-211 1h1m206 0h4m-211 1h2m205 0h3m-209 1h2m203 0h3m-207 1h2m201 0h3m-205 1h1m200 0h4m-205 1h2m199 0h3m-203 1h2m197 0h3m-201 1h2m195 0h3m-199 1h2m193 0h4m-198 1h1m193 0h3m-196 1h1m191 0h3m-195 1h2m189 0h3m-193 1h2m187 0h3m-191 1h2m185 0h3m-189 1h2m183 0h3m-186 1h2m180 0h3m-184 1h2m177 0h4m-182 1h2m175 0h4m-180 1h2m173 0h4m-178 1h2m171 0h4m-176 1h3m168 0h3m-172 1h2m165 0h4m-170 1h2m163 0h4m-168 1h2m161 0h3m-164 1h2m157 0h4m-162 1h2m155 0h4m-160 1h3m151 0h4m-156 1h2m149 0h4m-154 1h3m145 0h4m-150 1h2m143 0h4m-148 1h3m139 0h4m-144 1h3m135 0h5m-141 1h3m132 0h4m-138 1h3m129 0h4m-134 1h3m125 0h4m-130 1h3m121 0h4m-126 1h3m117 0h4m-122 1h4m112 0h4m-118 1h4m107 0h5m-113 1h3m103 0h5m-109 1h4m97 0h6m-105 1h5m92 0h5m-99 1h5m86 0h6m-94 1h5m79 0h7m-88 1h5m73 0h7m-82 1h6m65 0h7m-74 1h7m55 0h9m-67 1h8m45 0h9m-57 1h11m29 0h13m-47 1h40m-29 1h19"/>
<path stroke="#00ffed" d="M0 .5m286 69h7m-44 1h6m27 0h12m-47 1h10m22 0h16m-50 1h14m18 0h10m3 0h5m-51 1h5m5 0h6m14 0h10m7 0h4m-52 1h5m7 0h7m11 0h10m9 0h3m-54 1h6m9 0h7m10 0h10m9 0h3m-56 1h7m10 0h8m10 0h9m10 0h3m-59 1h8m11 0h8m12 0h8m9 0h3m-60 1h8m12 0h8m14 0h6m10 0h3m-63 1h9m13 0h8m15 0h6m9 0h3m-63 1h7m14 0h8m18 0h6m7 0h4m-65 1h7m14 0h9m19 0h6m5 0h5m-66 1h7m12 0h11m21 0h16m-68 1h7m10 0h13m24 0h14m-70 1h8m9 0h14m26 0h13m-72 1h9m8 0h12m32 0h10m-75 1h11m9 0h8m41 0h2m-79 1h15m12 0h7m-39 1h16m15 0h6m-39 1h13m20 0h5m71 0h4m-114 1h7m27 0h5m69 0h9m-119 1h6m31 0h4m68 0h4m4 0h3m-121 1h5m34 0h4m67 0h3m7 0h3m-124 1h4m37 0h4m65 0h3m9 0h3m-127 1h5m40 0h4m63 0h3m11 0h2m-130 1h5m45 0h5m59 0h3m11 0h3m-133 1h6m49 0h7m55 0h2m12 0h3m-135 1h5m56 0h6m51 0h2m13 0h3m-137 1h4m62 0h7m47 0h1m14 0h2m-138 1h4m67 0h5m45 0h2m14 0h2m-140 1h3m72 0h4m44 0h1m14 0h3m-142 1h3m76 0h3m42 0h2m14 0h3m-143 1h2m79 0h3m41 0h2m13 0h5m-146 1h3m80 0h3m41 0h2m13 0h5m-148 1h3m83 0h3m41 0h2m11 0h6m-150 1h3m86 0h2m41 0h3m9 0h7m-152 1h3m89 0h2m42 0h17m-154 1h2m92 0h2m44 0h15m-156 1h2m94 0h2m46 0h13m-158 1h2m96 0h2m47 0h11m-159 1h2m98 0h1m49 0h10m-161 1h2m100 0h1m50 0h9m-163 1h2m102 0h1m51 0h8m-165 1h2m103 0h2m52 0h7m-167 1h2m105 0h2m53 0h7m-170 1h2m108 0h2m52 0h7m-172 1h2m111 0h3m51 0h7m-175 1h2m115 0h4m48 0h7m-177 1h2m120 0h6m43 0h8m-181 1h3m126 0h5m40 0h8m-183 1h3m129 0h5m39 0h9m-186 1h2m133 0h4m39 0h10m-190 1h3m136 0h5m37 0h10m-192 1h3m139 0h6m34 0h12m-195 1h3m143 0h6m32 0h12m-198 1h3m148 0h5m31 0h4m4 0h4m-199 1h2m151 0h4m31 0h3m5 0h4m-201 1h2m154 0h3m30 0h3m7 0h3m-203 1h3m155 0h2m31 0h2m8 0h2m-204 1h3m157 0h2m30 0h2m9 0h2m-205 1h2m158 0h3m30 0h2m9 0h2m-207 1h3m159 0h3m29 0h2m10 0h2m-208 1h2m161 0h3m29 0h1m11 0h2m-210 1h2m61 0h6m97 0h2m28 0h2m11 0h2m-211 1h2m58 0h5m2 0h7m93 0h3m27 0h1m11 0h3m-213 1h2m58 0h2m11 0h4m94 0h3m24 0h1m12 0h2m-214 1h2m58 0h2m15 0h4m93 0h3m23 0h1m12 0h2m-216 1h3m57 0h2m18 0h4m94 0h2m21 0h1m13 0h2m-218 1h3m58 0h1m20 0h6m93 0h3m18 0h1m14 0h2m-220 1h3m58 0h2m23 0h7m91 0h4m16 0h1m14 0h1m-220 1h2m59 0h1m27 0h8m90 0h4m28 0h2m-222 1h2m59 0h2m31 0h7m91 0h2m12 0h1m14 0h2m-224 1h2m60 0h1m35 0h6m91 0h2m11 0h1m14 0h1m-225 1h2m60 0h2m38 0h5m91 0h2m9 0h1m14 0h2m-226 1h2m60 0h1m42 0h4m91 0h1m9 0h1m13 0h2m-227 1h2m60 0h2m45 0h4m89 0h1m9 0h1m13 0h2m-229 1h2m60 0h2m49 0h4m87 0h1m8 0h1m13 0h2m-229 1h2m60 0h1m53 0h4m85 0h1m8 0h1m12 0h2m-230 1h2m60 0h2m56 0h4m83 0h1m8 0h1m12 0h2m-231 1h1m59 0h3m60 0h4m81 0h1m8 0h1m11 0h2m-232 1h2m58 0h2m64 0h4m88 0h1m11 0h2m-232 1h1m58 0h2m68 0h4m77 0h1m8 0h1m10 0h3m-233 1h1m56 0h3m71 0h4m76 0h1m19 0h2m-234 1h1m56 0h3m74 0h4m83 0h1m10 0h3m-235 1h1m55 0h3m77 0h3m74 0h1m18 0h3m-236 1h1m55 0h3m79 0h4m73 0h1m7 0h1m10 0h2m-236 1h1m55 0h2m81 0h4m80 0h1m10 0h3m-238 1h1m55 0h3m83 0h4m71 0h1m7 0h1m10 0h3m-239 1h1m55 0h2m85 0h4m71 0h1m6 0h1m10 0h3m-239 1h1m55 0h2m86 0h5m69 0h1m6 0h1m11 0h3m-241 1h1m56 0h2m88 0h4m69 0h1m5 0h1m11 0h3m-241 1h1m56 0h1m91 0h4m68 0h1m4 0h1m12 0h3m-243 1h1m57 0h1m92 0h4m68 0h1m3 0h1m12 0h3m-243 1h1m57 0h1m94 0h4m67 0h1m2 0h1m13 0h3m-244 1h1m56 0h2m96 0h4m66 0h3m13 0h3m-245 1h1m57 0h1m98 0h5m65 0h1m15 0h2m-245 1h1m57 0h1m100 0h4m80 0h3m-247 1h2m57 0h1m102 0h4m78 0h3m-247 1h1m57 0h1m105 0h5m75 0h3m-247 1h1m57 0h1m106 0h6m73 0h3m-247 1h1m57 0h1m108 0h7m71 0h3m-249 1h2m56 0h1m111 0h7m69 0h3m-249 1h1m57 0h1m113 0h7m67 0h3m-249 1h1m57 0h1m115 0h6m66 0h3m-249 1h1m57 0h1m118 0h4m65 0h3m-250 1h2m177 0h4m64 0h3m-250 1h2m56 0h1m121 0h4m63 0h3m-250 1h1m57 0h1m122 0h3m63 0h3m-250 1h1m57 0h1m123 0h3m62 0h3m-250 1h1m57 0h1m124 0h2m62 0h3m-250 1h1m57 0h1m124 0h2m62 0h3m-251 1h2m57 0h1m124 0h3m61 0h3m-251 1h2m57 0h1m125 0h2m61 0h3m-251 1h2m57 0h1m125 0h2m61 0h3m-251 1h1m58 0h1m125 0h2m61 0h3m-251 1h1m58 0h1m125 0h2m61 0h3m-251 1h1m58 0h1m125 0h2m61 0h3m-251 1h1m58 0h2m124 0h2m61 0h3m-252 1h2m58 0h2m124 0h2m61 0h3m-252 1h2m59 0h1m124 0h2m61 0h3m-252 1h2m59 0h1m124 0h2m60 0h4m-252 1h2m59 0h1m124 0h1m61 0h4m-252 1h2m59 0h1m124 0h1m61 0h4m-252 1h2m59 0h1m124 0h1m61 0h4m-252 1h1m60 0h1m124 0h1m61 0h4m-252 1h1m60 0h1m124 0h1m61 0h4m-252 1h1m60 0h1m124 0h1m61 0h4m-252 1h1m60 0h1m124 0h1m61 0h4m-252 1h1m60 0h2m123 0h1m60 0h5m-252 1h1m60 0h2m123 0h1m60 0h5m-252 1h1m60 0h2m123 0h1m61 0h4m-252 1h1m61 0h1m123 0h1m61 0h4m-252 1h1m61 0h1m122 0h2m61 0h4m-253 1h2m61 0h1m122 0h2m61 0h4m-253 1h2m61 0h1m122 0h2m61 0h4m-253 1h2m61 0h1m122 0h1m62 0h4m-253 1h2m61 0h1m121 0h2m62 0h4m-253 1h2m61 0h1m121 0h2m62 0h4m-253 1h2m61 0h1m121 0h2m62 0h4m-252 1h1m61 0h1m120 0h3m62 0h4m-252 1h1m61 0h1m119 0h3m63 0h4m-252 1h1m61 0h2m118 0h3m63 0h4m-252 1h1m61 0h2m118 0h3m63 0h4m-252 1h1m61 0h2m118 0h2m64 0h4m-252 1h1m61 0h2m118 0h2m64 0h4m-252 1h1m61 0h2m118 0h2m64 0h4m-252 1h1m61 0h2m118 0h1m65 0h4m-252 1h2m60 0h2m118 0h1m65 0h4m-252 1h2m60 0h2m117 0h2m65 0h4m-252 1h2m60 0h2m117 0h2m65 0h4m-252 1h2m60 0h2m117 0h1m66 0h4m-252 1h2m60 0h2m117 0h1m66 0h4m-251 1h1m60 0h2m116 0h2m66 0h4m-251 1h1m60 0h2m116 0h1m67 0h4m-251 1h1m60 0h2m116 0h1m67 0h4m-251 1h1m60 0h2m116 0h1m67 0h4m-251 1h2m59 0h2m115 0h1m68 0h3m-250 1h2m59 0h2m115 0h1m67 0h4m-250 1h2m59 0h2m114 0h2m67 0h4m-249 1h1m59 0h2m114 0h1m68 0h4m-249 1h1m59 0h2m114 0h1m68 0h4m-249 1h2m59 0h1m113 0h1m69 0h4m-249 1h2m59 0h1m113 0h1m69 0h4m-249 1h2m59 0h1m112 0h1m70 0h3m-247 1h1m59 0h1m112 0h1m69 0h4m-247 1h1m59 0h2m111 0h1m69 0h4m-247 1h2m58 0h2m110 0h1m70 0h4m-247 1h2m59 0h1m110 0h1m70 0h4m-246 1h1m59 0h1m181 0h3m-245 1h1m59 0h2m108 0h1m70 0h4m-245 1h2m59 0h1m108 0h1m70 0h4m-245 1h2m59 0h1m107 0h1m71 0h4m-244 1h1m59 0h2m106 0h1m71 0h3m-243 1h2m59 0h2m104 0h1m71 0h4m-243 1h2m59 0h2m176 0h4m-242 1h1m60 0h2m102 0h1m72 0h4m-242 1h2m60 0h2m100 0h1m73 0h3m-241 1h2m61 0h2m98 0h1m73 0h4m-240 1h1m62 0h2m171 0h4m-240 1h2m62 0h2m95 0h1m74 0h3m-239 1h2m63 0h2m93 0h1m74 0h4m-238 1h1m64 0h3m90 0h1m75 0h4m-238 1h2m65 0h2m88 0h1m76 0h3m-236 1h1m67 0h2m85 0h1m76 0h4m-236 1h1m68 0h2m83 0h1m77 0h4m-236 1h2m69 0h2m80 0h1m78 0h3m-234 1h1m71 0h2m77 0h1m78 0h4m-234 1h2m71 0h2m155 0h3m-232 1h1m73 0h2m153 0h3m-232 1h2m73 0h2m71 0h1m79 0h4m-232 1h2m75 0h2m68 0h1m80 0h3m-230 1h2m75 0h2m66 0h1m80 0h4m-230 1h2m77 0h2m63 0h1m81 0h3m-228 1h1m78 0h2m61 0h1m82 0h3m-228 1h2m78 0h2m142 0h3m-226 1h2m79 0h1m58 0h1m82 0h3m-226 1h2m80 0h2m54 0h2m82 0h4m-225 1h2m81 0h1m52 0h1m84 0h3m-223 1h1m82 0h2m49 0h1m84 0h4m-223 1h2m83 0h2m45 0h1m86 0h3m-221 1h1m85 0h2m40 0h2m87 0h3m-220 1h2m86 0h3m34 0h3m89 0h3m-219 1h1m89 0h3m28 0h3m91 0h3m-218 1h2m92 0h3m20 0h3m95 0h3m-217 1h2m95 0h5m9 0h4m98 0h3m-215 1h1m210 0h4m-215 1h2m209 0h3m-213 1h2m207 0h3m-211 1h1m207 0h3m-211 1h2m205 0h3m-209 1h2m203 0h4m-208 1h1m203 0h3m-207 1h2m201 0h3m-205 1h2m199 0h4m-204 1h2m198 0h3m-202 1h1m197 0h3m-201 1h2m195 0h3m-199 1h2m194 0h3m-198 1h2m192 0h3m-196 1h2m190 0h3m-194 1h1m189 0h3m-193 1h2m187 0h4m-192 1h2m185 0h4m-190 1h2m183 0h4m-188 1h2m181 0h4m-186 1h2m179 0h4m-184 1h2m177 0h4m-181 1h2m174 0h4m-179 1h2m172 0h3m-176 1h2m170 0h3m-174 1h2m167 0h4m-172 1h2m165 0h4m-169 1h2m162 0h4m-167 1h2m160 0h3m-164 1h2m157 0h4m-162 1h3m154 0h4m-159 1h2m151 0h4m-156 1h3m148 0h4m-153 1h2m145 0h4m-150 1h3m142 0h4m-147 1h2m139 0h4m-144 1h3m135 0h5m-141 1h3m132 0h4m-137 1h3m128 0h4m-133 1h3m124 0h5m-131 1h4m120 0h5m-127 1h4m116 0h5m-123 1h4m112 0h5m-119 1h4m108 0h5m-114 1h3m103 0h6m-110 1h4m98 0h5m-105 1h4m93 0h6m-100 1h4m87 0h6m-94 1h4m81 0h7m-89 1h5m74 0h7m-83 1h5m67 0h7m-76 1h7m58 0h8m-69 1h8m48 0h9m-60 1h9m35 0h11m-50 1h18m5 0h22m-37 1h29"/>
<path stroke="#00ffd7" d="M0 .5m287 72h3m-41 1h5m30 0h7m-43 1h7m28 0h9m-45 1h9m27 0h9m-46 1h10m27 0h10m-48 1h11m28 0h9m-49 1h12m28 0h10m-51 1h13m29 0h9m-53 1h14m32 0h7m-54 1h14m34 0h5m-54 1h12m-13 1h10m-11 1h9m-10 1h8m-10 1h9m-13 1h12m-16 1h15m-20 1h20m-27 1h13m8 0h6m-30 1h11m15 0h5m76 0h4m-113 1h7m23 0h4m74 0h7m-117 1h5m29 0h3m72 0h9m-119 1h4m33 0h3m70 0h3m4 0h4m-123 1h4m37 0h4m67 0h3m6 0h2m-124 1h3m42 0h4m64 0h2m8 0h2m-127 1h4m47 0h5m59 0h2m8 0h3m-130 1h4m53 0h5m55 0h2m9 0h3m-132 1h3m59 0h5m52 0h1m10 0h3m-135 1h4m63 0h5m49 0h2m9 0h3m-136 1h3m69 0h4m47 0h2m9 0h3m-138 1h3m72 0h4m46 0h2m8 0h3m-138 1h2m76 0h2m46 0h2m6 0h5m-140 1h2m79 0h2m46 0h11m-141 1h2m82 0h2m46 0h9m-142 1h2m84 0h3m-91 1h3m87 0h2m-93 1h3m89 0h2m-95 1h3m91 0h2m-97 1h2m94 0h2m-99 1h2m96 0h2m-101 1h2m98 0h2m-103 1h2m100 0h1m-104 1h2m102 0h1m-106 1h2m104 0h2m-109 1h2m107 0h2m-112 1h2m110 0h3m-116 1h2m115 0h3m-121 1h2m120 0h4m-127 1h2m124 0h3m-131 1h3m127 0h3m-134 1h3m130 0h3m-137 1h2m134 0h3m-140 1h2m136 0h5m-145 1h3m140 0h5m40 0h4m-193 1h3m144 0h4m38 0h5m-195 1h3m147 0h4m36 0h7m-197 1h2m150 0h3m35 0h8m-199 1h2m152 0h3m34 0h9m-201 1h3m153 0h2m35 0h3m2 0h4m-202 1h2m155 0h2m34 0h2m4 0h4m-204 1h2m57 0h7m93 0h2m33 0h2m6 0h3m-206 1h2m55 0h4m6 0h6m88 0h3m32 0h1m7 0h3m-207 1h2m54 0h2m14 0h4m87 0h2m31 0h1m8 0h2m-208 1h2m54 0h2m17 0h5m86 0h3m28 0h2m8 0h2m-210 1h3m54 0h1m21 0h4m87 0h2m27 0h1m9 0h2m-211 1h2m54 0h1m24 0h6m85 0h3m24 0h1m10 0h2m-213 1h2m54 0h2m27 0h7m83 0h3m22 0h1m11 0h2m-215 1h2m55 0h1m32 0h7m82 0h2m21 0h1m11 0h2m-217 1h3m54 0h2m36 0h5m82 0h3m18 0h1m11 0h2m-218 1h3m55 0h1m40 0h4m83 0h4m15 0h1m11 0h2m-220 1h3m55 0h2m42 0h4m85 0h2m14 0h1m11 0h2m-222 1h4m55 0h1m45 0h4m85 0h2m12 0h1m11 0h2m-222 1h3m55 0h2m47 0h4m85 0h2m11 0h1m10 0h2m-223 1h3m55 0h2m51 0h4m84 0h1m11 0h1m10 0h2m-225 1h4m55 0h1m55 0h4m82 0h1m10 0h1m10 0h2m-225 1h3m55 0h2m58 0h3m81 0h1m10 0h1m9 0h2m-226 1h4m54 0h2m62 0h3m79 0h1m10 0h1m8 0h3m-228 1h4m53 0h2m67 0h3m77 0h1m10 0h1m7 0h3m-228 1h4m52 0h2m70 0h3m76 0h1m9 0h1m8 0h2m-229 1h4m51 0h3m74 0h2m85 0h1m7 0h2m-229 1h4m50 0h2m78 0h2m73 0h1m9 0h2m6 0h3m-231 1h4m49 0h3m81 0h2m72 0h1m9 0h1m6 0h3m-231 1h3m49 0h3m83 0h3m80 0h2m6 0h2m-232 1h3m50 0h2m86 0h3m69 0h1m9 0h1m6 0h3m-233 1h2m51 0h2m87 0h3m69 0h1m8 0h1m7 0h2m-234 1h2m51 0h2m90 0h3m84 0h3m-235 1h1m52 0h2m91 0h3m67 0h1m8 0h1m7 0h2m-235 1h1m52 0h2m93 0h3m74 0h1m7 0h3m-237 1h1m53 0h2m94 0h3m73 0h1m8 0h2m-237 1h1m53 0h2m96 0h3m64 0h1m6 0h1m8 0h3m-239 1h1m54 0h2m97 0h4m63 0h1m5 0h1m8 0h3m-239 1h1m54 0h2m99 0h4m62 0h1m4 0h1m9 0h3m-240 1h1m54 0h1m102 0h4m61 0h1m3 0h1m9 0h3m-241 1h1m55 0h1m104 0h4m60 0h1m1 0h2m9 0h4m-242 1h1m55 0h1m105 0h6m58 0h3m10 0h3m-242 1h1m54 0h2m107 0h7m68 0h3m-243 1h1m55 0h1m111 0h6m66 0h3m-243 1h1m55 0h1m113 0h6m64 0h3m-243 1h1m55 0h1m116 0h5m62 0h4m-69 1h4m62 0h3m-245 1h1m55 0h1m121 0h3m61 0h3m-245 1h1m55 0h1m122 0h3m60 0h3m-245 1h1m55 0h1m123 0h2m60 0h3m-189 1h1m124 0h2m59 0h3m-190 1h1m126 0h2m58 0h3m-246 1h1m55 0h1m126 0h2m58 0h3m-246 1h1m55 0h1m127 0h1m58 0h3m-246 1h1m55 0h1m127 0h2m57 0h3m-246 1h1m55 0h1m127 0h2m57 0h3m-190 1h1m128 0h1m57 0h3m-190 1h1m128 0h1m57 0h3m-190 1h1m128 0h1m57 0h3m-247 1h1m56 0h1m128 0h2m56 0h3m-247 1h1m56 0h1m128 0h1m57 0h3m-247 1h1m56 0h1m128 0h1m57 0h3m-247 1h1m56 0h1m128 0h1m57 0h3m-247 1h1m56 0h1m128 0h1m57 0h3m-190 1h2m127 0h1m57 0h3m-189 1h1m127 0h1m57 0h2m-188 1h1m126 0h2m57 0h2m-188 1h1m126 0h2m57 0h2m-188 1h1m126 0h2m57 0h2m-247 1h1m58 0h1m126 0h2m57 0h2m-247 1h1m58 0h1m126 0h1m58 0h2m-247 1h1m58 0h1m126 0h1m58 0h2m-247 1h1m58 0h1m126 0h1m58 0h2m-247 1h1m58 0h1m126 0h1m58 0h1m-246 1h1m58 0h1m126 0h1m58 0h1m-246 1h1m58 0h1m126 0h1m58 0h2m-247 1h1m58 0h2m125 0h1m58 0h2m-247 1h1m58 0h2m125 0h1m58 0h2m-247 1h1m58 0h2m125 0h1m58 0h2m-247 1h1m59 0h1m125 0h1m58 0h2m-247 1h1m59 0h1m124 0h2m58 0h2m-247 1h1m59 0h1m124 0h2m58 0h2m-247 1h1m59 0h1m124 0h1m60 0h1m-247 1h1m59 0h1m124 0h1m60 0h1m-247 1h1m59 0h1m124 0h1m60 0h1m-247 1h1m59 0h1m123 0h2m60 0h1m-247 1h1m59 0h1m123 0h2m60 0h1m-247 1h1m59 0h1m123 0h1m61 0h1m-247 1h1m59 0h1m122 0h2m61 0h1m-247 1h1m59 0h1m122 0h2m61 0h1m-247 1h1m59 0h1m122 0h2m61 0h1m-247 1h1m59 0h1m121 0h2m62 0h1m-187 1h1m121 0h2m62 0h1m-187 1h1m121 0h1m63 0h1m-187 1h1m121 0h1m63 0h1m-246 1h1m58 0h1m120 0h2m63 0h1m-246 1h1m58 0h1m120 0h1m63 0h2m-246 1h1m58 0h1m120 0h1m63 0h2m-246 1h1m58 0h1m119 0h2m63 0h2m-246 1h1m58 0h1m119 0h1m64 0h2m-246 1h1m58 0h1m119 0h1m64 0h2m-187 1h1m118 0h1m65 0h2m-245 1h1m57 0h1m118 0h1m65 0h1m-244 1h1m57 0h1m118 0h1m65 0h1m-244 1h1m57 0h1m117 0h1m66 0h1m-244 1h1m57 0h1m117 0h1m66 0h1m-186 1h2m115 0h1m66 0h2m-186 1h2m115 0h1m66 0h2m-243 1h1m57 0h1m114 0h1m67 0h2m-243 1h1m57 0h1m114 0h1m67 0h1m-242 1h1m57 0h1m114 0h1m67 0h1m-184 1h1m113 0h1m68 0h1m-241 1h1m56 0h2m112 0h1m67 0h2m-241 1h1m57 0h1m111 0h1m68 0h2m-241 1h1m57 0h1m111 0h1m68 0h1m-182 1h2m110 0h1m68 0h1m-239 1h1m57 0h1m109 0h1m69 0h1m-239 1h1m57 0h1m109 0h1m68 0h2m-180 1h1m107 0h1m69 0h1m-237 1h1m57 0h1m106 0h1m70 0h1m-237 1h1m58 0h1m105 0h1m70 0h1m-178 1h2m103 0h1m70 0h2m-236 1h1m58 0h2m101 0h1m71 0h1m-235 1h1m59 0h2m99 0h1m72 0h1m-174 1h2m170 0h2m-234 1h1m60 0h2m96 0h1m72 0h1m-233 1h1m61 0h2m94 0h1m73 0h1m-170 1h3m91 0h1m73 0h2m-232 1h1m63 0h3m88 0h1m74 0h1m-231 1h1m65 0h2m86 0h1m75 0h1m-230 1h1m66 0h2m83 0h1m75 0h2m-230 1h1m68 0h2m80 0h1m76 0h1m-159 1h2m78 0h1m77 0h1m-228 1h1m70 0h2m75 0h1m77 0h2m-155 1h1m152 0h1m-226 1h1m72 0h2m149 0h2m-151 1h1m69 0h1m78 0h1m-224 1h1m74 0h2m66 0h1m79 0h1m-224 1h1m75 0h2m64 0h1m79 0h2m-223 1h1m76 0h1m62 0h1m80 0h1m-144 1h2m140 0h2m-221 1h1m77 0h2m58 0h1m80 0h1m-140 1h2m54 0h1m81 0h2m-219 1h1m79 0h2m52 0h1m82 0h1m-136 1h2m48 0h2m82 0h2m-217 1h1m82 0h2m44 0h2m84 0h1m-215 1h1m83 0h2m40 0h2m85 0h2m-215 1h1m86 0h2m34 0h2m88 0h1m-213 1h1m88 0h3m26 0h3m90 0h2m-121 1h4m18 0h3m94 0h1m-211 1h1m96 0h15m97 0h1m-209 1h1m206 0h2m-2 1h1m-207 1h1m204 0h2m-206 1h1m203 0h1m-2 1h1m-203 1h1m200 0h2m-202 1h1m199 0h1m-200 1h1m197 0h1m-2 1h2m-198 1h1m195 0h1m-196 1h1m193 0h1m-194 1h1m191 0h2m-193 1h1m189 0h2m-2 1h1m-190 1h1m187 0h1m-188 1h1m185 0h1m-186 1h1m183 0h1m-184 1h1m181 0h1m-182 1h1m179 0h1m-180 1h1m177 0h1m-178 1h1m175 0h1m-175 1h1m171 0h2m-173 1h1m169 0h2m-171 1h1m167 0h2m-169 1h1m165 0h1m-166 1h2m161 0h2m-163 1h1m159 0h2m-161 1h1m157 0h2m-159 1h2m153 0h2m-155 1h1m151 0h2m-153 1h2m148 0h1m-149 1h1m145 0h2m-147 1h2m142 0h1m-143 1h1m139 0h2m-141 1h2m135 0h2m-137 1h2m132 0h1m-133 1h1m129 0h2m-130 1h1m125 0h2m-126 1h1m121 0h2m-122 1h1m117 0h2m-118 1h1m113 0h2m-114 1h1m109 0h2m-110 1h2m103 0h3m-106 1h2m99 0h2m-100 1h2m94 0h2m-96 1h2m89 0h2m-90 1h2m83 0h2m-84 1h3m76 0h2m-77 1h2m69 0h3m-71 1h3m61 0h3m-62 1h3m51 0h4m-53 1h4m39 0h5m-42 1h7m21 0h7m-21 1h5"/>
<path stroke="#00ffc2" d="M0 .5m227 90h8m-13 1h15m-21 1h10m8 0h5m-27 1h9m16 0h4m-31 1h6m23 0h4m76 0h4m-115 1h4m30 0h3m74 0h6m-119 1h4m35 0h3m70 0h8m-121 1h3m40 0h4m66 0h8m-123 1h3m46 0h4m62 0h4m1 0h4m-126 1h4m51 0h4m58 0h3m3 0h4m-128 1h3m56 0h4m56 0h3m2 0h4m-130 1h4m60 0h5m53 0h9m-132 1h3m65 0h4m52 0h8m-133 1h3m69 0h4m50 0h6m-133 1h3m73 0h3m-80 1h2m77 0h3m-83 1h2m80 0h2m-85 1h2m83 0h2m-88 1h2m85 0h2m-90 1h2m88 0h1m-93 1h3m90 0h1m-95 1h2m93 0h1m-97 1h2m95 0h1m-99 1h2m97 0h1m-101 1h2m99 0h1m-103 1h2m101 0h1m-105 1h2m103 0h2m-108 1h2m106 0h2m-111 1h2m110 0h3m-116 1h2m114 0h4m-121 1h2m119 0h3m-125 1h2m122 0h3m-128 1h2m125 0h3m-132 1h3m128 0h3m-135 1h3m131 0h2m-137 1h3m134 0h3m-141 1h3m137 0h4m-145 1h3m141 0h3m-148 1h3m144 0h3m-151 1h3m147 0h2m-152 1h2m149 0h2m40 0h2m-196 1h2m54 0h6m91 0h2m38 0h4m-198 1h2m52 0h3m7 0h6m85 0h2m37 0h6m-201 1h3m51 0h1m16 0h4m82 0h2m36 0h7m-202 1h2m51 0h1m20 0h4m81 0h2m34 0h8m-204 1h2m51 0h1m24 0h5m78 0h3m33 0h2m3 0h3m-205 1h1m51 0h2m26 0h8m76 0h3m30 0h1m5 0h3m-207 1h2m51 0h1m31 0h9m74 0h2m28 0h1m7 0h2m-209 1h2m51 0h1m36 0h7m74 0h2m26 0h2m7 0h2m-211 1h2m52 0h1m40 0h4m75 0h3m24 0h1m8 0h2m-212 1h2m51 0h1m43 0h4m75 0h3m22 0h2m7 0h2m-213 1h2m51 0h2m45 0h3m77 0h3m20 0h1m8 0h2m-215 1h2m52 0h1m48 0h3m78 0h4m17 0h1m7 0h3m-216 1h2m51 0h2m50 0h3m80 0h2m15 0h1m8 0h2m-217 1h2m52 0h1m53 0h3m81 0h1m14 0h1m7 0h2m-218 1h3m51 0h1m57 0h3m79 0h2m13 0h1m6 0h3m-219 1h2m51 0h2m60 0h2m79 0h1m12 0h1m7 0h2m-220 1h2m51 0h2m63 0h3m77 0h1m12 0h1m6 0h2m-220 1h2m49 0h3m67 0h3m75 0h1m12 0h1m5 0h2m-221 1h2m49 0h2m72 0h2m74 0h1m12 0h1m4 0h2m-221 1h2m47 0h3m75 0h3m72 0h1m11 0h2m3 0h3m-223 1h3m46 0h2m79 0h3m71 0h1m11 0h2m2 0h3m-223 1h2m45 0h3m82 0h3m82 0h1m2 0h3m-224 1h3m44 0h2m86 0h3m68 0h1m11 0h2m2 0h2m-225 1h3m44 0h2m89 0h2m68 0h1m11 0h1m2 0h3m-227 1h3m45 0h2m91 0h2m78 0h2m2 0h2m-228 1h4m45 0h2m92 0h3m65 0h1m10 0h2m2 0h3m-230 1h4m46 0h1m95 0h2m65 0h1m9 0h2m3 0h2m-231 1h5m46 0h1m96 0h3m74 0h1m3 0h3m-232 1h4m47 0h1m98 0h3m62 0h1m9 0h1m4 0h2m-233 1h5m47 0h1m99 0h3m62 0h1m8 0h1m4 0h3m-234 1h4m48 0h1m101 0h3m69 0h1m5 0h2m-235 1h4m49 0h1m103 0h4m58 0h1m7 0h1m5 0h2m-235 1h2m51 0h1m105 0h4m57 0h1m6 0h1m5 0h3m-236 1h1m52 0h1m107 0h5m55 0h1m5 0h1m6 0h2m-237 1h1m53 0h1m109 0h6m53 0h1m4 0h1m6 0h2m-237 1h1m53 0h1m112 0h6m51 0h1m3 0h1m6 0h3m-185 1h1m116 0h5m50 0h4m7 0h2m-239 1h1m53 0h1m118 0h4m50 0h2m8 0h2m-239 1h1m53 0h1m120 0h3m59 0h2m-185 1h1m122 0h2m58 0h2m-240 1h1m54 0h1m123 0h2m57 0h3m-241 1h1m53 0h1m125 0h2m57 0h2m-241 1h1m53 0h1m126 0h1m57 0h2m-187 1h1m126 0h2m56 0h2m-242 1h1m54 0h1m127 0h2m55 0h2m-242 1h1m183 0h1m55 0h2m-242 1h1m53 0h1m129 0h2m54 0h2m-242 1h1m53 0h1m129 0h2m54 0h2m-188 1h1m130 0h1m55 0h1m-188 1h1m130 0h1m55 0h1m-243 1h1m54 0h1m130 0h2m54 0h1m-243 1h1m54 0h1m130 0h2m54 0h1m-243 1h1m54 0h1m130 0h2m54 0h1m-243 1h1m54 0h1m131 0h1m54 0h1m-188 1h1m130 0h2m54 0h1m-188 1h1m130 0h2m54 0h1m-188 1h1m130 0h2m54 0h1m-188 1h1m130 0h1m55 0h1m-244 1h1m186 0h1m55 0h1m-244 1h1m56 0h1m129 0h1m55 0h1m-244 1h1m56 0h1m129 0h1m55 0h1m-244 1h1m56 0h1m129 0h1m55 0h1m-244 1h1m56 0h1m129 0h1m55 0h1m-244 1h1m56 0h1m129 0h1m55 0h1m-244 1h1m56 0h1m128 0h2m55 0h1m-244 1h1m56 0h1m128 0h1m56 0h1m-187 1h1m128 0h1m56 0h1m-187 1h1m128 0h1m56 0h1m-187 1h1m128 0h1m56 0h1m-187 1h1m128 0h1m56 0h1m-187 1h1m128 0h1m56 0h1m-187 1h1m128 0h1m56 0h1m-187 1h1m128 0h1m56 0h1m-187 1h2m127 0h1m-130 1h2m127 0h1m-129 1h1m127 0h1m-129 1h1m126 0h2m57 0h1m-187 1h1m126 0h1m58 0h1m-187 1h1m126 0h1m58 0h1m-187 1h1m126 0h1m58 0h1m-187 1h1m126 0h1m58 0h1m-187 1h1m125 0h2m58 0h1m-187 1h1m125 0h2m58 0h1m-245 1h1m57 0h1m125 0h1m59 0h1m-245 1h1m57 0h1m125 0h1m59 0h1m-245 1h1m57 0h1m124 0h2m59 0h1m-245 1h1m57 0h1m124 0h1m60 0h1m-245 1h1m57 0h1m123 0h2m60 0h1m-245 1h1m57 0h1m123 0h1m61 0h1m-187 1h1m123 0h1m61 0h1m-187 1h1m122 0h2m-125 1h1m122 0h1m-124 1h1m122 0h1m61 0h1m-243 1h1m56 0h1m121 0h1m62 0h1m-243 1h1m56 0h1m121 0h1m62 0h1m-243 1h1m56 0h1m120 0h1m63 0h1m-186 1h1m120 0h1m63 0h1m-186 1h1m120 0h1m63 0h1m-186 1h1m119 0h1m64 0h1m-242 1h1m55 0h1m119 0h1m64 0h1m-242 1h1m55 0h1m118 0h1m-176 1h1m55 0h1m118 0h1m64 0h1m-185 1h2m116 0h1m65 0h1m-184 1h1m116 0h1m65 0h1m-240 1h1m55 0h1m182 0h1m-240 1h1m55 0h1m115 0h1m66 0h1m-184 1h1m115 0h1m-117 1h2m113 0h1m66 0h1m-238 1h1m55 0h1m113 0h1m66 0h1m-238 1h1m55 0h1m180 0h1m-182 1h2m111 0h1m67 0h1m-237 1h1m55 0h1m-57 1h1m55 0h2m109 0h1m67 0h1m-179 1h1m108 0h1m68 0h1m-179 1h2m107 0h1m68 0h1m-235 1h1m56 0h1m106 0h1m-107 1h1m104 0h1m69 0h1m-176 1h2m102 0h1m70 0h1m-233 1h1m57 0h2m100 0h1m-102 1h2m170 0h1m-231 1h1m58 0h2m169 0h1m-231 1h1m59 0h2m0 1h2m165 0h1m-229 1h1m61 0h3m163 0h1m-165 1h3m-66 1h1m64 0h3m158 0h1m-227 1h1m66 0h2m81 0h1m75 0h1m-158 1h2m78 0h1m-149 1h1m69 0h2m75 0h1m76 0h1m-154 1h2m73 0h1m-146 1h1m71 0h2m148 0h1m-150 1h2m69 0h1m77 0h1m-222 1h1m73 0h1m67 0h1m77 0h1m-146 1h2m64 0h1m78 0h1m-220 1h1m74 0h2m62 0h1m-63 1h1m140 0h1m-218 1h1m76 0h2m57 0h1m-58 1h1m55 0h1m80 0h1m-216 1h1m78 0h2m52 0h1m-133 1h1m79 0h2m48 0h1m82 0h1m-132 1h2m44 0h1m-128 1h1m82 0h3m38 0h2m85 0h1m-126 1h3m32 0h2m-122 1h1m87 0h3m25 0h3m90 0h1m-209 1h1m91 0h4m15 0h3m93 0h1m-110 1h11m-108 1h1m204 0h1m-205 1h1m202 1h1m-203 1h1m200 0h1m-201 1h1m0 1h1m197 0h1m-2 1h1m-197 1h1m0 1h1m193 0h1m-194 1h1m191 0h1m-2 1h1m-190 2h1m187 0h1m-188 1h1m185 0h1m-186 1h1m183 0h1m-184 1h1m181 0h1m-182 1h1m179 0h1m-180 1h1m177 0h1m-178 1h1m175 0h1m-176 1h1m173 0h1m-3 1h1m-170 1h1m167 0h1m-168 1h1m165 0h1m-166 1h1m163 0h1m-162 2h1m157 0h1m-158 1h1m155 0h1m-3 1h1m-152 1h1m149 0h1m-2 1h1m-147 1h1m143 0h1m-143 1h1m139 0h2m-141 1h1m137 0h1m-137 1h1m133 0h1m-133 1h1m129 0h2m-131 1h1m127 0h1m-127 1h1m123 0h1m-123 1h1m119 0h1m-119 1h1m115 0h1m-115 1h1m111 0h1m-111 1h2m106 0h1m-106 1h1m101 0h1m-101 1h1m97 0h1m-96 1h1m91 0h2m-92 1h1m86 0h2m-86 1h1m80 0h2m-79 1h1m73 0h2m-73 1h1m66 0h2m-65 1h2m57 0h2m-56 1h2m47 0h2m-45 1h2m35 0h2m-30 1h5m10 0h6"/>
<path stroke="#00ffac" d="M0 .5m226 92h8m-13 1h8m2 0h6m-21 1h7m13 0h3m-27 1h6m21 0h3m-32 1h4m28 0h3m-37 1h4m33 0h3m-42 1h4m39 0h3m70 0h1m-118 1h3m44 0h4m65 0h3m-121 1h3m50 0h3m63 0h2m-122 1h3m54 0h3m-62 1h3m59 0h3m-66 1h3m63 0h3m-70 1h2m68 0h3m-75 1h3m71 0h3m-78 1h3m75 0h2m-81 1h2m79 0h2m-84 1h2m81 0h2m-86 1h2m84 0h2m-89 1h2m86 0h2m-92 1h3m88 0h2m-94 1h2m91 0h2m-96 1h2m93 0h2m-98 1h2m95 0h2m-100 1h2m97 0h2m-102 1h2m100 0h1m-104 1h2m102 0h2m-107 1h2m106 0h2m-111 1h2m110 0h2m-115 1h2m114 0h3m-120 1h2m118 0h2m-123 1h2m121 0h2m-126 1h2m124 0h2m-129 1h2m127 0h2m-132 1h2m129 0h3m-135 1h2m132 0h3m-138 1h2m136 0h3m-142 1h2m139 0h3m-145 1h2m142 0h3m-148 1h2m51 0h5m89 0h2m-150 1h2m49 0h3m6 0h6m83 0h2m-152 1h2m48 0h2m16 0h4m79 0h2m-153 1h2m47 0h2m21 0h4m76 0h2m-155 1h2m47 0h2m25 0h7m71 0h3m-158 1h2m48 0h1m30 0h12m64 0h2m38 0h3m-201 1h2m48 0h1m36 0h8m65 0h3m34 0h5m-202 1h2m47 0h2m41 0h4m67 0h3m31 0h7m-205 1h2m48 0h1m44 0h3m69 0h2m30 0h7m-207 1h2m48 0h2m45 0h3m70 0h2m28 0h2m3 0h3m-208 1h2m48 0h1m48 0h3m70 0h2m27 0h1m4 0h2m-209 1h2m48 0h1m50 0h3m71 0h3m24 0h2m4 0h2m-211 1h2m48 0h2m52 0h2m72 0h4m22 0h1m4 0h2m-211 1h2m48 0h1m55 0h2m73 0h5m18 0h2m4 0h2m-213 1h2m48 0h2m57 0h3m75 0h3m16 0h2m3 0h2m-213 1h2m47 0h2m61 0h2m76 0h1m16 0h2m2 0h2m-214 1h2m47 0h2m64 0h3m75 0h1m14 0h7m-216 1h3m46 0h2m68 0h3m73 0h1m14 0h6m-216 1h2m45 0h2m73 0h2m72 0h1m14 0h5m-217 1h3m44 0h2m76 0h3m70 0h1m14 0h4m-217 1h2m43 0h2m81 0h2m69 0h1m14 0h3m-217 1h2m41 0h3m84 0h2m68 0h1m14 0h2m-218 1h2m41 0h2m88 0h2m67 0h1m13 0h2m-218 1h1m41 0h2m91 0h2m80 0h2m-220 1h2m41 0h1m93 0h3m64 0h1m13 0h2m-221 1h2m41 0h2m95 0h2m64 0h1m13 0h2m-222 1h2m41 0h2m97 0h2m76 0h2m-223 1h2m42 0h2m98 0h3m61 0h1m12 0h3m-224 1h1m43 0h2m100 0h3m60 0h1m11 0h3m-225 1h2m43 0h2m102 0h3m70 0h4m-226 1h1m44 0h2m103 0h4m57 0h1m10 0h4m-227 1h2m44 0h2m105 0h5m55 0h1m9 0h5m-229 1h2m46 0h1m108 0h5m62 0h5m-231 1h3m47 0h1m110 0h6m50 0h1m8 0h2m1 0h2m-232 1h4m47 0h1m113 0h6m48 0h1m7 0h2m2 0h2m-234 1h4m48 0h1m116 0h4m48 0h1m6 0h2m2 0h2m-234 1h3m48 0h2m119 0h3m47 0h1m5 0h2m3 0h1m-235 1h3m49 0h1m122 0h2m47 0h1m4 0h1m4 0h2m-236 1h2m50 0h1m123 0h2m47 0h1m2 0h2m4 0h2m-236 1h1m51 0h1m124 0h2m47 0h4m5 0h1m-237 1h2m51 0h1m125 0h2m55 0h1m-237 1h1m52 0h1m126 0h2m54 0h1m-237 1h1m51 0h1m128 0h1m54 0h2m-186 1h1m128 0h2m54 0h1m-239 1h1m52 0h1m129 0h1m54 0h1m-239 1h1m52 0h1m130 0h1m53 0h1m-239 1h1m52 0h1m130 0h1m53 0h1m-239 1h1m184 0h1m52 0h1m-54 1h1m52 0h1m-240 1h1m185 0h1m53 0h1m-241 1h1m52 0h1m132 0h2m52 0h1m-241 1h1m52 0h1m133 0h1m52 0h1m-241 1h1m52 0h1m133 0h1m52 0h1m-241 1h1m52 0h1m133 0h1m52 0h1m-188 1h1m133 0h1m52 0h1m-242 1h1m53 0h1m133 0h1m52 0h1m-242 1h1m53 0h1m133 0h1m52 0h1m-242 1h1m187 0h1m52 0h1m-242 1h1m186 0h2m52 0h1m-242 1h1m54 0h1m131 0h1m53 0h1m-242 1h1m54 0h1m131 0h1m53 0h1m-242 1h1m54 0h1m131 0h1m53 0h1m-187 1h1m131 0h1m53 0h1m-187 1h1m131 0h1m53 0h1m-187 1h1m131 0h1m53 0h1m-187 1h1m131 0h1m53 0h1m-187 1h1m130 0h1m54 0h1m-243 1h1m55 0h1m130 0h1m54 0h1m-243 1h1m55 0h1m130 0h1m54 0h1m-243 1h1m55 0h1m130 0h1m54 0h1m-243 1h1m55 0h1m130 0h1m54 0h1m-243 1h1m55 0h1m130 0h1m54 0h1m-243 1h1m55 0h1m130 0h1m-188 1h1m55 0h1m130 0h1m-188 1h1m55 0h1m130 0h1m55 0h1m-244 1h1m55 0h1m130 0h1m55 0h1m-244 1h1m56 0h1m129 0h1m55 0h1m-244 1h1m56 0h1m129 0h1m55 0h1m-244 1h1m56 0h1m128 0h1m56 0h1m-244 1h1m56 0h1m128 0h1m56 0h1m-244 1h1m56 0h1m128 0h1m56 0h1m-244 1h1m56 0h1m128 0h1m56 0h1m-244 1h1m56 0h1m128 0h1m56 0h1m-244 1h1m56 0h1m128 0h1m56 0h1m-187 1h1m127 0h1m57 0h1m-187 1h1m127 0h1m57 0h1m-187 1h1m127 0h1m57 0h1m-187 1h1m126 0h1m58 0h1m-187 1h1m126 0h1m58 0h1m-243 1h1m55 0h1m125 0h2m58 0h1m-243 1h1m55 0h1m125 0h1m59 0h1m-243 1h1m55 0h1m125 0h1m59 0h1m-243 1h1m55 0h1m124 0h1m60 0h1m-243 1h1m55 0h1m124 0h1m-126 1h1m123 0h1m60 0h1m-186 1h1m123 0h1m60 0h1m-186 1h1m122 0h2m60 0h1m-241 1h1m54 0h1m122 0h1m61 0h1m-241 1h1m54 0h1m122 0h1m61 0h1m-241 1h1m54 0h1m121 0h1m62 0h1m-186 1h1m121 0h1m62 0h1m-186 1h1m120 0h1m63 0h1m-240 1h1m53 0h1m120 0h1m-176 1h1m53 0h1m119 0h1m63 0h1m-239 1h1m54 0h1m118 0h1m63 0h1m-184 1h1m117 0h1m64 0h1m-184 1h1m117 0h1m64 0h1m-238 1h1m53 0h1m182 0h1m-238 1h1m53 0h1m116 0h1m-117 1h1m115 0h1m64 0h1m-236 1h1m53 0h1m114 0h1m65 0h1m-236 1h1m53 0h1m114 0h1m65 0h1m-181 1h1m112 0h1m66 0h1m-181 1h1m112 0h1m-168 1h1m54 0h1m110 0h1m66 0h1m-234 1h1m54 0h1m177 0h1m-178 1h1m108 0h1m67 0h1m-233 1h1m54 0h2m106 0h1m-164 1h1m55 0h1m105 0h1m68 0h1m-175 1h1m103 0h1m69 0h1m-231 1h1m56 0h1m101 0h1m-102 1h1m99 0h1m70 0h1m-171 1h1m97 0h1m71 0h1m-229 1h1m58 0h2m94 0h1m-96 1h2m92 0h1m72 0h1m-227 1h1m60 0h2m89 0h1m73 0h1m-164 1h2m86 0h1m-151 1h1m63 0h2m158 0h1m-225 1h1m65 0h2m156 0h1m-157 1h2m78 0h1m-148 1h1m68 0h1m76 0h1m75 0h1m-153 1h2m73 0h1m-145 1h1m70 0h1m148 0h1m-149 1h2m69 0h1m-143 1h1m72 0h1m67 0h1m76 0h1m-145 1h1m65 0h1m77 0h1m-218 1h1m73 0h2m62 0h1m-63 1h1m60 0h1m78 0h1m-216 1h1m75 0h2m57 0h1m-135 1h1m76 0h1m55 0h1m79 0h1m-136 1h2m51 0h2m-132 1h1m78 0h2m47 0h2m81 0h1m-131 1h2m43 0h2m-127 1h1m81 0h3m37 0h2m85 0h1m-209 1h1m83 0h3m31 0h2m87 0h1m-120 1h4m22 0h3m-116 1h1m91 0h5m11 0h4m93 0h1m-205 1h1m202 1h1m-203 1h1m200 0h1m-201 1h1m198 1h1m-2 1h1m-197 1h1m0 1h1m193 0h1m-2 1h1m-192 2h1m0 1h1m187 0h1m-188 1h1m185 0h1m-186 1h1m183 0h1m-184 1h1m181 0h1m-182 1h1m179 0h1m-180 1h1m177 0h1m-178 1h1m175 0h1m-176 1h1m173 0h1m-174 1h1m171 0h1m-172 1h1m167 1h1m-166 1h1m163 0h1m-164 1h1m161 0h1m-162 1h1m159 0h1m-159 1h1m155 0h1m-156 1h1m153 0h1m-154 1h1m1 1h1m147 0h1m-148 1h1m145 0h1m-145 1h1m141 0h1m-3 1h1m-138 1h1m135 0h1m-135 1h1m131 0h1m-131 1h1m127 0h1m-128 1h1m125 0h1m-125 1h1m121 0h1m-121 1h1m117 0h1m-117 1h1m113 0h1m-113 1h1m109 0h1m-108 1h1m103 0h2m-104 1h1m99 0h1m-99 1h1m95 0h1m-94 1h1m89 0h1m-89 1h1m84 0h1m-83 1h1m78 0h1m-76 1h1m71 0h1m-70 1h2m63 0h1m-61 1h1m54 0h2m-52 1h1m44 0h2m-41 1h2m30 0h3m-23 1h10"/>
<path stroke="#00ff97" d="M0 .5m229 93h2m-8 1h13m-18 1h6m11 0h4m-25 1h5m19 0h4m-30 1h4m26 0h3m-35 1h3m32 0h4m-41 1h3m38 0h3m-46 1h4m43 0h3m-51 1h3m48 0h3m-56 1h3m53 0h3m-60 1h3m56 0h4m-65 1h3m61 0h4m-69 1h3m65 0h3m-72 1h2m70 0h3m-77 1h3m73 0h3m-80 1h2m77 0h2m-82 1h2m80 0h2m-85 1h2m83 0h1m-87 1h2m85 0h1m-90 1h3m87 0h1m-92 1h2m90 0h1m-94 1h2m92 0h1m-96 1h2m94 0h1m-98 1h2m96 0h2m-101 1h2m99 0h1m-103 1h2m102 0h2m-107 1h2m105 0h3m-111 1h2m109 0h3m-115 1h2m113 0h3m-119 1h2m117 0h2m-122 1h2m120 0h2m-125 1h2m123 0h2m-128 1h2m125 0h2m-130 1h2m128 0h2m-133 1h2m131 0h3m-137 1h2m134 0h3m-140 1h2m138 0h2m-143 1h2m45 0h4m5 0h7m80 0h2m-146 1h2m45 0h2m15 0h5m76 0h2m-148 1h2m45 0h1m22 0h6m9 0h6m56 0h2m-149 1h2m44 0h1m27 0h17m57 0h2m-151 1h2m44 0h1m34 0h12m57 0h2m-153 1h2m44 0h2m43 0h4m58 0h2m-156 1h2m45 0h1m45 0h3m60 0h2m-158 1h2m44 0h1m47 0h3m61 0h3m-162 1h2m44 0h2m48 0h3m63 0h3m-166 1h2m45 0h1m50 0h3m65 0h2m32 0h3m-203 1h2m44 0h2m52 0h2m66 0h2m30 0h4m-205 1h2m45 0h1m54 0h2m67 0h2m29 0h4m-207 1h2m45 0h1m56 0h3m67 0h2m27 0h4m-207 1h2m44 0h2m58 0h3m67 0h3m25 0h4m-209 1h2m44 0h2m62 0h2m67 0h6m21 0h3m-209 1h2m43 0h2m65 0h2m71 0h3m19 0h2m-210 1h2m43 0h2m69 0h2m71 0h2m-191 1h2m42 0h2m73 0h2m70 0h1m-193 1h2m41 0h2m77 0h2m69 0h1m-194 1h2m39 0h3m81 0h2m67 0h1m-196 1h2m39 0h2m85 0h2m66 0h1m-197 1h2m37 0h2m89 0h2m65 0h1m-199 1h2m37 0h2m92 0h2m64 0h1m-201 1h2m38 0h1m95 0h2m63 0h1m-202 1h2m37 0h2m97 0h2m-141 1h2m38 0h1m99 0h3m60 0h1m-204 1h1m38 0h2m101 0h3m59 0h1m-206 1h2m38 0h2m103 0h3m-149 1h2m40 0h1m105 0h3m56 0h1m-208 1h1m41 0h1m107 0h4m54 0h1m-210 1h2m41 0h1m109 0h6m-159 1h1m42 0h1m112 0h6m48 0h1m-212 1h1m43 0h2m114 0h5m47 0h1m-214 1h2m43 0h2m117 0h4m57 0h1m-226 1h1m44 0h2m120 0h3m55 0h2m-228 1h2m44 0h2m121 0h3m44 0h1m9 0h2m-229 1h2m45 0h1m124 0h2m44 0h1m8 0h3m-231 1h2m46 0h1m125 0h2m44 0h1m6 0h4m-232 1h3m46 0h1m126 0h2m44 0h1m5 0h4m-233 1h3m47 0h1m127 0h2m44 0h1m4 0h5m-234 1h2m48 0h1m128 0h1m45 0h9m-235 1h3m48 0h1m129 0h1m45 0h4m2 0h2m-235 1h2m179 0h2m51 0h1m-236 1h2m49 0h1m131 0h1m51 0h2m-237 1h2m49 0h1m131 0h2m50 0h2m-237 1h2m49 0h1m132 0h1m51 0h1m-237 1h1m50 0h1m132 0h2m50 0h1m-237 1h1m50 0h1m133 0h1m50 0h1m-238 1h2m50 0h1m133 0h1m50 0h1m-238 1h2m50 0h1m133 0h2m50 0h1m-239 1h2m185 0h1m50 0h1m-239 1h2m185 0h1m50 0h1m-239 1h2m185 0h1m50 0h1m-239 1h2m185 0h1m50 0h1m-240 1h2m186 0h1m50 0h1m-240 1h2m186 0h1m50 0h1m-240 1h2m186 0h1m50 0h1m-240 1h2m51 0h1m134 0h1m50 0h1m-240 1h1m52 0h1m134 0h1m50 0h1m-240 1h1m52 0h1m133 0h2m50 0h1m-240 1h1m52 0h1m133 0h1m51 0h1m-240 1h1m52 0h1m133 0h1m51 0h1m-241 1h2m52 0h1m133 0h1m51 0h1m-241 1h1m53 0h1m133 0h1m51 0h1m-241 1h1m53 0h1m133 0h1m51 0h1m-241 1h1m53 0h1m185 0h1m-241 1h1m53 0h1m132 0h1m52 0h1m-241 1h1m53 0h1m132 0h1m52 0h1m-241 1h1m53 0h1m132 0h1m52 0h1m-241 1h1m53 0h1m132 0h1m52 0h1m-241 1h1m53 0h1m132 0h1m-188 1h1m53 0h1m132 0h1m-188 1h1m53 0h1m132 0h1m53 0h1m-242 1h1m53 0h1m132 0h1m53 0h1m-242 1h1m186 0h1m53 0h1m-242 1h1m186 0h1m53 0h1m-242 1h1m54 0h1m131 0h1m53 0h1m-242 1h1m54 0h1m131 0h1m53 0h1m-242 1h1m54 0h1m130 0h1m54 0h1m-242 1h1m54 0h1m130 0h1m54 0h1m-242 1h1m54 0h1m130 0h1m54 0h1m-242 1h1m54 0h1m130 0h1m54 0h1m-242 1h1m54 0h1m130 0h1m54 0h1m-242 1h1m54 0h1m130 0h1m54 0h1m-242 1h1m54 0h1m129 0h1m55 0h1m-242 1h1m54 0h1m129 0h1m55 0h1m-242 1h1m54 0h1m129 0h1m55 0h1m-242 1h1m54 0h1m128 0h2m55 0h1m-242 1h1m54 0h1m128 0h1m56 0h1m-187 1h1m128 0h1m56 0h1m-241 1h1m53 0h1m127 0h1m57 0h1m-241 1h1m53 0h1m127 0h1m57 0h1m-241 1h1m53 0h1m126 0h1m58 0h1m-241 1h1m53 0h1m126 0h1m58 0h1m-241 1h1m53 0h1m125 0h2m57 0h1m-240 1h1m53 0h1m125 0h1m58 0h1m-240 1h1m53 0h1m125 0h1m58 0h1m-186 1h1m124 0h1m59 0h1m-239 1h1m52 0h1m124 0h1m59 0h1m-239 1h1m52 0h1m123 0h1m60 0h1m-239 1h1m52 0h1m184 0h1m-239 1h1m52 0h1m122 0h1m61 0h1m-186 1h1m122 0h1m61 0h1m-238 1h1m173 0h1m61 0h1m-237 1h1m52 0h1m120 0h1m61 0h1m-237 1h1m52 0h1m119 0h1m62 0h1m-237 1h1m52 0h1m119 0h1m62 0h1m-236 1h1m51 0h1m118 0h1m63 0h1m-236 1h1m51 0h1m118 0h1m63 0h1m-236 1h1m52 0h1m-1 1h1m116 0h1m63 0h1m-234 1h1m51 0h1m180 0h1m-234 1h1m52 0h1m114 0h1m64 0h1m-234 1h1m52 0h1m179 0h1m-233 1h1m52 0h1m112 0h1m-167 1h1m52 0h1m111 0h1m65 0h1m-232 1h1m53 0h1m110 0h1m65 0h1m-178 1h1m109 0h1m66 0h1m-231 1h1m53 0h1m107 0h1m-163 1h1m53 0h2m105 0h1m67 0h1m-175 1h2m103 0h1m68 0h1m-229 1h1m54 0h2m101 0h1m-159 1h1m55 0h2m99 0h1m69 0h1m-171 1h2m97 0h1m70 0h1m-227 1h1m56 0h2m95 0h1m-96 1h2m92 0h1m71 0h1m-225 1h1m58 0h3m89 0h1m72 0h1m-164 1h3m86 0h1m-150 1h1m62 0h2m83 0h1m73 0h1m-223 1h1m64 0h2m155 0h1m-156 1h2m78 0h1m-147 1h1m67 0h1m76 0h1m74 0h1m-152 1h2m73 0h1m-144 1h1m69 0h1m72 0h1m74 0h1m-148 1h2m69 0h1m-142 1h1m70 0h2m67 0h1m75 0h1m-216 1h1m71 0h1m65 0h1m76 0h1m-216 1h1m72 0h2m62 0h1m-137 1h1m73 0h1m60 0h1m77 0h1m-139 1h2m57 0h1m-134 1h1m74 0h2m55 0h1m78 0h1m-135 1h2m51 0h1m-130 1h1m77 0h2m47 0h1m81 0h1m-209 1h1m78 0h2m42 0h2m-43 1h2m36 0h2m-121 1h1m83 0h3m29 0h2m87 0h1m-205 1h1m86 0h4m20 0h2m-20 1h16m94 0h1m-203 1h1m0 1h1m198 1h1m-199 1h1m0 1h1m194 1h1m-2 1h1m-193 1h1m0 1h1m189 0h1m-190 1h1m187 0h1m-188 1h1m185 0h1m-6 5h1m-2 1h1m-174 1h1m171 0h1m-172 1h1m169 0h1m-170 1h1m167 0h1m-168 1h1m163 1h1m-162 1h1m159 0h1m-160 1h1m157 0h1m-3 1h1m-154 1h1m151 0h1m-152 1h1m149 0h1m-149 1h1m145 0h1m-146 1h1m143 0h1m-143 1h1m139 0h1m-140 1h1m136 0h1m-136 1h1m133 0h1m-133 1h1m129 0h1m-129 1h1m125 0h1m-126 1h2m121 0h2m-123 1h2m118 0h1m-119 1h2m114 0h1m-115 1h2m110 0h1m-111 1h2m105 0h2m-106 1h1m101 0h1m-101 1h1m97 0h1m-97 1h1m93 0h1m-4 1h1m-87 1h1m82 0h1m-81 1h1m76 0h1m-74 1h1m68 0h2m-67 1h1m60 0h2m-59 1h1m52 0h1m-49 1h2m40 0h2m-37 1h2m25 0h3"/>
<path stroke="#00ff7c" d="M0 .5m224 95h11m-16 1h5m11 0h3m-22 1h4m19 0h3m-29 1h4m25 0h3m-34 1h3m32 0h3m-39 1h2m38 0h3m-45 1h3m42 0h3m-50 1h3m47 0h3m-54 1h3m50 0h3m-58 1h3m55 0h3m-62 1h2m60 0h3m-67 1h3m64 0h3m-71 1h2m69 0h2m-75 1h3m72 0h2m-78 1h2m76 0h2m-81 1h2m79 0h2m-84 1h2m81 0h2m-86 1h2m83 0h2m-89 1h3m85 0h2m-91 1h2m88 0h2m-93 1h2m90 0h2m-95 1h2m93 0h1m-97 1h2m95 0h2m-100 1h2m98 0h2m-103 1h2m101 0h2m-106 1h2m105 0h2m-110 1h3m108 0h2m-114 1h3m112 0h2m-118 1h3m115 0h2m-121 1h3m118 0h2m-124 1h2m121 0h2m-126 1h2m124 0h2m-129 1h2m80 0h3m44 0h2m-132 1h2m79 0h6m45 0h2m-135 1h2m42 0h14m23 0h7m47 0h3m-139 1h2m42 0h1m16 0h5m14 0h10m48 0h3m-142 1h2m41 0h2m22 0h24m50 0h2m-144 1h2m41 0h2m29 0h9m6 0h3m51 0h2m-145 1h2m40 0h2m45 0h3m53 0h1m-147 1h2m41 0h1m47 0h2m54 0h1m-149 1h2m41 0h1m49 0h2m54 0h2m-152 1h2m41 0h2m49 0h3m54 0h3m-154 1h2m41 0h1m51 0h2m56 0h3m-157 1h2m41 0h1m53 0h2m58 0h3m-161 1h2m41 0h2m54 0h2m60 0h3m-164 1h2m41 0h1m56 0h2m62 0h2m-167 1h2m41 0h2m57 0h2m63 0h2m-170 1h2m41 0h2m60 0h2m63 0h2m-172 1h2m40 0h2m63 0h2m63 0h2m-175 1h2m40 0h2m66 0h2m63 0h2m-177 1h2m39 0h2m69 0h2m63 0h6m-184 1h2m39 0h2m73 0h2m65 0h4m-187 1h2m37 0h3m77 0h2m66 0h2m-190 1h2m37 0h2m81 0h2m66 0h1m-191 1h2m35 0h2m86 0h2m64 0h1m-193 1h3m34 0h2m89 0h2m-130 1h2m34 0h1m93 0h2m62 0h1m-196 1h2m34 0h1m96 0h2m61 0h1m-198 1h3m33 0h2m98 0h2m60 0h1m-199 1h2m33 0h2m101 0h3m58 0h1m-201 1h2m34 0h2m103 0h3m-145 1h2m35 0h1m106 0h3m55 0h1m-203 1h1m36 0h1m108 0h4m53 0h1m-205 1h2m36 0h2m109 0h6m-156 1h2m37 0h2m112 0h6m47 0h1m-207 1h1m38 0h2m116 0h4m46 0h1m-209 1h2m39 0h1m119 0h3m-165 1h2m40 0h1m121 0h3m43 0h1m-211 1h1m41 0h1m123 0h3m42 0h1m-213 1h2m41 0h1m125 0h2m42 0h1m-214 1h1m42 0h1m126 0h2m-173 1h1m43 0h1m127 0h2m41 0h1m-217 1h1m44 0h1m128 0h2m41 0h1m-218 1h1m44 0h1m129 0h1m42 0h1m-220 1h1m45 0h1m130 0h1m42 0h1m-222 1h2m45 0h1m130 0h2m42 0h1m-223 1h1m46 0h1m131 0h1m43 0h1m4 0h2m-231 1h2m46 0h1m132 0h1m43 0h7m-233 1h2m46 0h1m133 0h1m44 0h6m-233 1h2m46 0h1m134 0h1m47 0h2m-233 1h2m46 0h1m134 0h1m48 0h2m-235 1h3m46 0h1m135 0h1m47 0h2m-235 1h2m47 0h1m135 0h1m48 0h1m-235 1h2m47 0h1m135 0h1m48 0h1m-235 1h2m47 0h1m136 0h1m47 0h2m-236 1h2m47 0h1m136 0h1m48 0h1m-236 1h2m47 0h1m136 0h1m48 0h1m-236 1h2m47 0h1m136 0h1m48 0h1m-236 1h2m47 0h1m136 0h1m48 0h1m-237 1h3m47 0h1m136 0h1m48 0h1m-237 1h2m48 0h1m136 0h1m48 0h1m-237 1h2m48 0h1m136 0h1m48 0h1m-237 1h2m48 0h1m136 0h1m48 0h1m-238 1h3m48 0h1m136 0h1m48 0h1m-238 1h3m48 0h1m136 0h1m48 0h1m-238 1h3m48 0h1m135 0h2m48 0h1m-238 1h3m48 0h1m135 0h1m-188 1h3m48 0h1m135 0h1m-189 1h4m48 0h1m135 0h1m-189 1h4m48 0h1m135 0h1m-189 1h4m48 0h1m134 0h1m-188 1h4m48 0h1m134 0h1m-188 1h4m183 0h1m-188 1h4m183 0h1m-188 1h4m183 0h1m-188 1h4m183 0h1m51 0h1m-240 1h4m183 0h1m51 0h1m-240 1h4m183 0h1m51 0h1m-240 1h4m183 0h1m51 0h1m-240 1h4m49 0h1m133 0h1m51 0h1m-240 1h4m49 0h1m133 0h1m51 0h1m-240 1h4m49 0h1m133 0h1m51 0h1m-240 1h4m49 0h1m133 0h1m51 0h1m-240 1h4m49 0h1m132 0h1m52 0h1m-240 1h4m49 0h1m132 0h1m52 0h1m-240 1h4m49 0h1m132 0h1m52 0h1m-240 1h4m49 0h1m132 0h1m52 0h1m-240 1h4m49 0h1m132 0h1m52 0h1m-240 1h4m49 0h1m132 0h1m52 0h1m-240 1h4m49 0h1m131 0h1m53 0h1m-240 1h4m49 0h1m131 0h1m53 0h1m-240 1h4m49 0h1m131 0h1m53 0h1m-240 1h4m49 0h1m131 0h1m53 0h1m-240 1h4m49 0h1m130 0h1m54 0h1m-240 1h5m48 0h1m130 0h1m54 0h1m-239 1h4m48 0h1m129 0h1m55 0h1m-239 1h4m48 0h1m129 0h1m55 0h1m-239 1h4m48 0h1m128 0h2m54 0h2m-239 1h4m48 0h1m128 0h1m55 0h2m-239 1h4m48 0h1m128 0h1m55 0h1m-238 1h4m48 0h1m127 0h1m56 0h1m-238 1h4m48 0h1m184 0h1m-238 1h4m48 0h1m126 0h1m57 0h1m-237 1h2m49 0h1m184 0h1m-237 1h1m50 0h1m125 0h1m58 0h1m-237 1h1m50 0h1m124 0h1m59 0h1m-237 1h1m50 0h1m124 0h1m58 0h2m-237 1h2m233 0h2m-236 1h1m50 0h1m122 0h1m59 0h1m-235 1h1m50 0h1m182 0h1m-235 1h1m50 0h1m121 0h1m60 0h1m-235 1h2m49 0h1m182 0h1m-234 1h1m49 0h1m120 0h1m61 0h1m-234 1h1m232 0h1m-234 1h2m49 0h1m118 0h1m62 0h1m-234 1h2m49 0h1m118 0h1m61 0h1m-232 1h1m49 0h1m117 0h1m62 0h1m-232 1h2m49 0h1m116 0h1m62 0h1m-232 1h2m49 0h1m115 0h1m63 0h1m-231 1h1m50 0h1m178 0h1m-231 1h1m50 0h1m113 0h1m-166 1h1m50 0h2m176 0h1m-230 1h1m51 0h1m111 0h1m64 0h1m-177 1h1m109 0h1m65 0h1m-229 1h1m51 0h1m108 0h1m-162 1h1m52 0h1m106 0h1m66 0h1m-174 1h1m104 0h1m67 0h1m-227 1h1m53 0h1m102 0h1m-158 1h1m53 0h2m100 0h1m68 0h1m-170 1h1m98 0h1m69 0h1m-225 1h1m55 0h2m95 0h1m-97 1h2m93 0h1m70 0h1m-223 1h1m57 0h2m90 0h1m71 0h1m-163 1h3m86 0h1m-149 1h1m60 0h3m83 0h1m72 0h1m-221 1h1m62 0h3m154 0h1m-220 1h1m64 0h2m78 0h1m-146 1h1m65 0h2m76 0h1m73 0h1m-218 1h1m66 0h2m-69 1h1m68 0h1m72 0h1m73 0h1m-216 1h1m68 0h1m70 0h1m-71 1h2m67 0h1m74 0h1m-214 1h1m70 0h1m65 0h1m75 0h1m-142 1h2m62 0h1m-136 1h1m71 0h2m60 0h1m76 0h1m-138 1h1m58 0h1m-133 1h1m73 0h2m54 0h1m78 0h1m-209 1h1m74 0h2m50 0h1m-51 1h2m46 0h1m81 0h1m-207 1h1m77 0h3m40 0h2m82 0h1m-205 1h1m79 0h3m34 0h2m-36 1h4m26 0h3m87 0h1m-203 1h1m86 0h5m16 0h3m-110 1h1m92 0h12m95 0h1m-2 1h1m-199 1h1m0 1h1m195 0h1m-2 1h1m-195 1h1m0 1h1m0 1h1m189 0h1m-190 1h1m187 0h1m-187 3h1m183 0h1m-184 1h1m181 0h1m-182 1h1m179 0h1m-180 1h1m177 0h1m-178 1h1m0 1h1m2 2h1m167 0h1m-168 1h1m165 0h1m-166 1h1m163 0h1m-164 1h1m1 1h1m157 0h1m-158 1h1m155 0h1m-156 1h1m1 1h1m149 0h1m-150 1h1m147 0h1m-147 1h1m143 0h1m-144 1h1m141 0h1m-141 1h1m137 0h1m-138 1h2m133 0h1m-134 1h1m131 0h1m-131 1h1m127 0h1m-127 1h1m123 0h1m-123 1h1m119 0h1m-119 1h1m115 0h2m-116 1h1m111 0h2m-112 1h1m107 0h2m-108 1h1m103 0h1m-3 1h1m-3 1h1m-95 1h1m91 0h1m-91 1h1m86 0h1m-85 1h1m80 0h1m-79 1h1m74 0h1m-72 1h1m66 0h1m-64 1h1m58 0h1m-56 1h1m49 0h2m-46 1h1m37 0h2m-33 1h3m20 0h2"/>
<path stroke="#00ff66" d="M0 .5m224 96h11m-15 1h4m11 0h4m-22 1h3m19 0h3m-28 1h3m26 0h3m-34 1h3m32 0h3m-39 1h2m37 0h3m-44 1h3m41 0h3m-48 1h2m46 0h2m-52 1h3m49 0h3m-57 1h3m54 0h3m-61 1h3m57 0h4m-66 1h3m62 0h4m-70 1h3m66 0h3m-74 1h3m71 0h2m-77 1h3m73 0h3m-80 1h2m77 0h2m-82 1h2m79 0h2m-84 1h2m82 0h1m-87 1h3m84 0h1m-89 1h3m86 0h1m-91 1h2m89 0h2m-94 1h2m91 0h2m-96 1h2m94 0h2m-99 1h3m96 0h2m-102 1h3m99 0h3m-105 1h2m104 0h2m-109 1h2m108 0h2m-113 1h2m111 0h2m-116 1h2m74 0h4m36 0h2m-120 1h3m74 0h7m36 0h1m-122 1h3m73 0h9m37 0h2m-125 1h3m73 0h4m3 0h3m39 0h2m-128 1h3m38 0h12m23 0h3m6 0h3m40 0h2m-131 1h3m37 0h2m14 0h7m12 0h4m7 0h3m42 0h2m-134 1h3m37 0h2m22 0h14m10 0h2m44 0h2m-137 1h3m37 0h1m48 0h2m46 0h2m-140 1h3m37 0h1m49 0h2m47 0h2m-141 1h2m37 0h1m50 0h2m49 0h2m-144 1h2m37 0h2m50 0h3m49 0h2m-146 1h2m38 0h1m52 0h2m50 0h2m-148 1h2m38 0h1m54 0h2m50 0h2m-149 1h2m37 0h2m54 0h2m52 0h2m-152 1h2m38 0h1m56 0h2m53 0h3m-156 1h2m38 0h1m58 0h2m55 0h3m-159 1h2m37 0h2m59 0h2m57 0h3m-163 1h2m37 0h2m61 0h2m59 0h2m-166 1h2m38 0h1m64 0h2m59 0h2m-168 1h2m37 0h1m67 0h2m59 0h2m-171 1h2m37 0h1m70 0h2m58 0h3m-173 1h2m35 0h2m73 0h2m58 0h3m-176 1h3m34 0h2m77 0h2m57 0h6m-181 1h2m33 0h2m82 0h2m59 0h5m-186 1h3m32 0h2m85 0h2m62 0h2m-188 1h2m31 0h2m90 0h2m61 0h1m-189 1h2m30 0h2m93 0h2m60 0h2m-192 1h2m30 0h2m96 0h2m-133 1h3m29 0h2m99 0h3m57 0h1m-194 1h2m29 0h2m102 0h3m56 0h1m-196 1h2m30 0h1m106 0h2m55 0h1m-198 1h2m31 0h1m108 0h3m53 0h1m-200 1h2m31 0h2m110 0h5m-151 1h2m32 0h2m113 0h6m46 0h1m-202 1h1m34 0h1m117 0h5m44 0h1m-204 1h2m34 0h1m120 0h4m-162 1h2m35 0h1m122 0h4m41 0h1m-206 1h1m36 0h2m123 0h3m41 0h1m-208 1h1m37 0h2m125 0h3m-169 1h2m38 0h1m127 0h2m39 0h1m-210 1h1m39 0h1m128 0h2m39 0h1m-212 1h1m40 0h1m129 0h1m40 0h1m-214 1h2m40 0h1m130 0h1m-175 1h2m41 0h1m131 0h1m39 0h1m-216 1h1m42 0h1m131 0h2m39 0h1m-218 1h1m43 0h1m132 0h1m40 0h1m-219 1h1m43 0h1m133 0h1m40 0h1m-221 1h1m44 0h1m133 0h1m41 0h1m-222 1h1m44 0h1m134 0h1m40 0h2m-224 1h1m180 0h1m41 0h2m-225 1h1m44 0h1m136 0h1m41 0h5m-229 1h1m44 0h1m136 0h1m43 0h4m-185 1h1m137 0h1m44 0h2m-231 1h1m45 0h1m137 0h1m45 0h2m-232 1h1m45 0h1m137 0h1m46 0h1m-232 1h1m45 0h1m138 0h1m45 0h1m-232 1h1m45 0h1m138 0h1m45 0h2m-233 1h1m45 0h1m138 0h1m46 0h1m-233 1h1m45 0h1m138 0h1m46 0h1m-233 1h1m45 0h1m138 0h1m46 0h1m-187 1h1m138 0h1m46 0h1m-234 1h1m46 0h1m138 0h1m46 0h1m-234 1h1m46 0h1m138 0h1m46 0h1m-234 1h1m46 0h1m138 0h1m46 0h1m-234 1h1m46 0h1m138 0h1m46 0h1m-234 1h1m46 0h1m138 0h1m46 0h1m-234 1h1m46 0h1m138 0h1m46 0h1m-234 1h1m184 0h1m48 0h1m-235 1h1m184 0h1m48 0h1m-235 1h1m184 0h1m48 0h1m-235 1h1m184 0h1m48 0h1m-235 1h1m183 0h1m49 0h1m-51 1h1m49 0h1m-187 1h1m135 0h1m49 0h1m-187 1h1m135 0h1m49 0h1m-187 1h1m135 0h1m49 0h1m-187 1h1m135 0h1m49 0h1m-235 1h1m47 0h1m135 0h1m49 0h1m-235 1h1m47 0h1m135 0h1m49 0h1m-235 1h1m47 0h1m135 0h1m49 0h1m-235 1h1m47 0h1m135 0h1m49 0h1m-235 1h1m47 0h1m135 0h1m49 0h1m-235 1h1m47 0h1m135 0h1m49 0h1m-235 1h1m47 0h1m135 0h1m49 0h1m-235 1h1m47 0h1m134 0h1m50 0h1m-235 1h1m47 0h1m134 0h1m50 0h1m-235 1h1m47 0h1m134 0h1m50 0h1m-235 1h1m47 0h1m134 0h1m50 0h1m-235 1h1m47 0h1m134 0h1m50 0h1m-235 1h1m47 0h1m134 0h1m50 0h1m-235 1h1m47 0h1m133 0h1m51 0h1m-235 1h1m47 0h1m133 0h1m51 0h1m-235 1h1m47 0h1m133 0h1m50 0h2m-235 1h1m47 0h1m184 0h2m-235 1h1m47 0h1m132 0h1m51 0h2m-187 1h1m132 0h1m51 0h2m-234 1h1m46 0h1m131 0h1m52 0h2m-234 1h1m46 0h1m131 0h1m52 0h2m-234 1h1m46 0h1m184 0h1m-233 1h1m46 0h1m130 0h1m53 0h1m-233 1h1m46 0h1m130 0h1m53 0h1m-233 1h1m46 0h1m129 0h1m54 0h1m-233 1h1m46 0h1m128 0h1m54 0h2m-233 1h1m46 0h1m128 0h1m54 0h2m-234 1h2m46 0h1m127 0h1m55 0h2m-235 1h3m46 0h1m127 0h1m55 0h2m-235 1h3m173 0h1m56 0h2m-235 1h3m173 0h1m56 0h1m-233 1h3m46 0h1m124 0h1m57 0h1m-233 1h3m46 0h1m124 0h1m57 0h1m-233 1h3m46 0h1m123 0h1m58 0h1m-233 1h3m46 0h1m123 0h1m58 0h1m-232 1h3m45 0h1m122 0h1m59 0h1m-232 1h3m168 0h1m59 0h1m-232 1h3m46 0h1m120 0h1m60 0h1m-231 1h3m45 0h1m120 0h1m60 0h1m-231 1h3m45 0h1m180 0h1m-230 1h3m165 0h1m60 0h1m-229 1h2m46 0h1m179 0h1m-229 1h3m45 0h1m117 0h1m61 0h1m-229 1h3m46 0h1m115 0h1m62 0h1m-229 1h3m46 0h1m115 0h1m62 0h1m-229 1h3m161 0h1m-165 1h2m48 0h1m176 0h1m-228 1h2m48 0h2m111 0h1m63 0h1m-227 1h1m49 0h1m110 0h1m64 0h1m-227 1h1m50 0h1m108 0h1m-161 1h1m50 0h2m106 0h1m65 0h1m-174 1h2m104 0h1m66 0h1m-225 1h1m51 0h1m103 0h1m-157 1h1m52 0h2m100 0h1m-102 1h2m98 0h1m68 0h1m-223 1h1m53 0h2m96 0h1m-97 1h2m93 0h1m-151 1h1m55 0h3m90 0h1m70 0h1m-163 1h3m87 0h1m-148 1h1m59 0h2m84 0h1m71 0h1m-157 1h3m153 0h1m-218 1h1m62 0h2m79 0h1m-80 1h2m76 0h1m72 0h1m-216 1h1m65 0h2m74 0h1m-75 1h1m72 0h1m72 0h1m-214 1h1m67 0h1m70 0h1m-71 1h2m67 0h1m73 0h1m-212 1h1m69 0h1m65 0h2m73 0h1m-141 1h1m63 0h1m-135 1h1m70 0h2m60 0h1m75 0h1m-209 1h1m71 0h1m57 0h2m-59 1h2m53 0h2m77 0h1m-207 1h1m73 0h2m49 0h2m-126 1h1m74 0h2m45 0h2m-46 1h2m39 0h2m82 0h1m-203 1h1m78 0h3m33 0h2m-116 1h1m81 0h4m24 0h3m87 0h1m-114 1h6m12 0h4m-108 1h1m94 0h6m-100 1h1m195 0h1m-196 2h1m0 1h1m191 0h1m-192 1h1m189 0h1m-189 3h1m185 0h1m-186 1h1m183 0h1m-184 1h1m181 0h1m-182 1h1m179 0h1m-180 1h1m177 0h1m-178 1h1m175 0h1m-176 1h1m173 0h1m-174 1h1m171 0h1m-172 1h1m169 0h1m-168 2h1m163 0h1m-164 1h1m161 0h1m-162 1h1m159 0h1m-159 1h1m0 1h1m153 0h1m-154 1h1m151 0h1m-151 1h1m147 0h1m-148 1h1m145 0h1m-145 1h1m141 0h1m-142 1h1m139 0h1m-139 1h1m135 0h1m-135 1h1m131 0h1m-132 1h2m128 0h1m-129 1h2m124 0h1m-125 1h2m120 0h1m-121 1h2m116 0h1m-117 1h1m113 0h1m-113 1h1m109 0h1m-109 1h1m105 0h1m-3 1h1m-102 1h1m98 0h1m-98 1h1m94 0h1m-3 1h1m-89 1h1m84 0h1m-83 1h1m78 0h1m-77 1h1m71 0h2m-70 1h1m64 0h1m-62 1h1m55 0h2m-54 1h2m46 0h1m-43 1h2m34 0h1m-28 1h3m13 0h4"/>
<path stroke="#00ff51" d="M0 .5m224 97h11m-15 1h4m12 0h3m-22 1h3m20 0h3m-28 1h3m26 0h3m-34 1h3m31 0h3m-38 1h2m36 0h3m-43 1h3m40 0h3m-47 1h2m45 0h2m-51 1h3m48 0h3m-55 1h3m51 0h3m-59 1h3m56 0h3m-63 1h3m60 0h3m-68 1h3m65 0h3m-72 1h2m69 0h2m-75 1h3m72 0h2m-78 1h2m75 0h2m-80 1h2m78 0h2m-83 1h2m80 0h2m-85 1h2m82 0h2m-88 1h3m84 0h2m-90 1h3m86 0h2m-92 1h3m88 0h3m-94 1h2m91 0h3m-97 1h2m95 0h2m-100 1h2m99 0h3m-105 1h2m71 0h4m28 0h3m-109 1h2m70 0h8m29 0h2m-112 1h2m69 0h3m4 0h4m30 0h2m-115 1h2m69 0h3m7 0h2m32 0h2m-118 1h2m69 0h2m9 0h2m33 0h2m-120 1h2m35 0h10m23 0h3m10 0h3m34 0h2m-123 1h2m34 0h2m12 0h9m9 0h5m12 0h2m35 0h3m-126 1h2m34 0h1m23 0h12m14 0h2m37 0h3m-129 1h2m33 0h2m50 0h2m39 0h3m-132 1h2m33 0h2m51 0h2m42 0h2m-135 1h2m33 0h2m52 0h2m43 0h2m-137 1h2m34 0h1m53 0h2m45 0h2m-140 1h2m34 0h1m55 0h1m46 0h2m-142 1h2m34 0h2m55 0h2m46 0h2m-144 1h3m33 0h2m57 0h1m47 0h2m-145 1h2m34 0h1m58 0h2m47 0h3m-148 1h2m34 0h2m59 0h2m48 0h3m-151 1h3m33 0h2m61 0h2m50 0h3m-154 1h2m34 0h1m63 0h2m52 0h3m-158 1h2m34 0h1m65 0h2m54 0h3m-162 1h3m33 0h2m67 0h2m55 0h2m-164 1h2m33 0h2m70 0h2m55 0h2m-167 1h3m32 0h2m73 0h2m54 0h2m-168 1h2m31 0h2m77 0h2m54 0h2m-170 1h2m30 0h2m81 0h2m52 0h3m-173 1h3m28 0h2m86 0h1m52 0h6m-178 1h2m27 0h3m89 0h2m53 0h7m-184 1h3m26 0h2m94 0h1m58 0h2m-186 1h3m25 0h2m97 0h2m57 0h1m-188 1h3m25 0h2m100 0h2m56 0h2m-190 1h3m24 0h2m104 0h2m54 0h1m-191 1h3m24 0h2m107 0h3m52 0h1m-193 1h3m25 0h2m109 0h5m49 0h1m-195 1h3m26 0h2m112 0h7m45 0h1m-197 1h3m27 0h1m117 0h7m42 0h1m-199 1h3m28 0h1m121 0h5m40 0h1m-200 1h3m29 0h2m123 0h4m39 0h1m-201 1h2m30 0h2m125 0h3m39 0h1m-203 1h2m31 0h2m127 0h2m-165 1h2m33 0h1m128 0h3m37 0h1m-206 1h2m34 0h1m130 0h2m37 0h1m-207 1h1m35 0h2m130 0h1m-170 1h1m36 0h2m131 0h1m-172 1h2m36 0h2m131 0h2m37 0h1m-211 1h1m38 0h1m132 0h2m37 0h1m-213 1h1m39 0h1m133 0h1m-176 1h1m40 0h1m134 0h1m37 0h1m-216 1h2m40 0h1m134 0h1m38 0h1m-217 1h1m41 0h1m135 0h1m38 0h1m-219 1h1m42 0h1m135 0h1m39 0h1m-220 1h1m42 0h1m136 0h1m38 0h1m-221 1h1m43 0h1m136 0h1m39 0h1m-222 1h1m181 0h1m39 0h1m-223 1h1m181 0h1m40 0h2m-226 1h1m224 0h3m-228 1h1m183 0h1m41 0h3m-229 1h1m183 0h1m42 0h3m-230 1h1m227 0h2m-230 1h1m184 0h1m43 0h1m-230 1h1m184 0h1m43 0h2m-46 1h1m44 0h1m-46 1h1m44 0h1m-232 1h1m185 0h1m44 0h1m-232 1h1m185 0h2m43 0h1m-232 1h1m185 0h2m43 0h1m-232 1h1m185 0h1m44 0h1m-232 1h1m185 0h1m44 0h1m-232 1h1m185 0h1m44 0h1m-232 1h1m185 0h1m44 0h1m-232 1h1m45 0h1m138 0h2m44 0h2m-233 1h1m45 0h1m138 0h1m45 0h2m-187 1h1m138 0h1m45 0h2m-187 1h1m138 0h1m45 0h2m-187 1h1m137 0h2m46 0h1m-234 1h1m46 0h1m137 0h1m47 0h1m-234 1h1m46 0h1m137 0h1m47 0h1m-234 1h1m46 0h1m137 0h1m47 0h1m-234 1h1m46 0h1m137 0h1m47 0h1m-234 1h1m46 0h1m137 0h1m47 0h1m-187 1h1m137 0h1m47 0h1m-187 1h1m137 0h1m47 0h1m-187 1h1m137 0h1m47 0h1m-187 1h1m137 0h1m47 0h1m-187 1h1m137 0h1m47 0h1m-233 1h1m45 0h1m137 0h1m47 0h1m-233 1h1m45 0h1m137 0h1m47 0h1m-233 1h1m45 0h1m136 0h1m48 0h1m-233 1h1m45 0h1m136 0h1m48 0h1m-233 1h1m45 0h1m136 0h1m47 0h2m-233 1h1m45 0h1m136 0h1m47 0h2m-233 1h1m45 0h1m136 0h1m47 0h2m-233 1h1m45 0h1m136 0h1m47 0h2m-233 1h1m45 0h1m135 0h1m48 0h2m-233 1h1m45 0h1m135 0h1m48 0h2m-233 1h1m45 0h1m135 0h1m48 0h1m-232 1h1m45 0h1m134 0h1m48 0h2m-232 1h1m45 0h1m134 0h1m48 0h2m-232 1h1m45 0h1m134 0h1m48 0h2m-231 1h1m44 0h1m133 0h1m49 0h2m-231 1h1m44 0h1m133 0h1m49 0h2m-231 1h1m44 0h1m132 0h1m50 0h2m-231 1h1m44 0h1m132 0h1m50 0h2m-231 1h1m44 0h1m183 0h2m-231 1h1m44 0h1m131 0h1m51 0h2m-231 1h1m44 0h1m130 0h1m52 0h1m-230 1h1m44 0h1m130 0h1m52 0h1m-230 1h1m174 0h1m53 0h1m-230 1h1m174 0h1m53 0h1m-230 1h1m45 0h1m127 0h1m53 0h2m-230 1h1m45 0h1m127 0h1m53 0h2m-229 1h1m44 0h1m126 0h1m54 0h2m-229 1h1m44 0h1m181 0h2m-229 1h1m44 0h1m125 0h1m55 0h2m-229 1h1m44 0h1m181 0h2m-228 1h1m168 0h1m56 0h2m-228 1h1m44 0h1m180 0h2m-228 1h1m44 0h1m122 0h1m57 0h2m-183 1h1m180 0h2m-227 1h1m165 0h1m58 0h1m-226 1h1m44 0h1m179 0h1m-226 1h1m44 0h1m119 0h1m59 0h1m-225 1h1m43 0h1m179 0h1m-225 1h1m44 0h1m117 0h1m60 0h1m-225 1h1m44 0h1m178 0h1m-225 1h1m45 0h1m115 0h1m61 0h1m-226 1h2m45 0h1m114 0h1m-163 1h2m222 0h1m-225 1h2m46 0h1m175 0h1m-225 1h2m47 0h1m110 0h1m63 0h1m-225 1h1m48 0h1m109 0h1m-160 1h2m48 0h1m107 0h1m-158 1h1m48 0h2m105 0h1m65 0h1m-223 1h1m49 0h2m103 0h1m66 0h1m-223 1h1m50 0h2m101 0h1m-154 1h1m50 0h2m167 0h1m-221 1h1m51 0h3m165 0h1m-220 1h1m52 0h2m94 0h1m-150 1h1m53 0h3m91 0h1m69 0h1m-218 1h1m54 0h4m87 0h1m-147 1h1m57 0h3m84 0h1m70 0h1m-216 1h1m58 0h3m82 0h1m70 0h1m-216 1h1m61 0h2m79 0h1m-143 1h1m62 0h2m77 0h1m70 0h1m-214 1h1m64 0h2m74 0h1m-141 1h1m64 0h2m72 0h1m71 0h1m-212 1h1m66 0h1m70 0h2m-139 1h1m66 0h2m68 0h1m-138 1h1m68 0h1m65 0h2m72 0h1m-209 1h1m68 0h1m63 0h1m-133 1h1m68 0h2m60 0h1m74 0h1m-207 1h1m70 0h1m57 0h1m-129 1h1m71 0h1m53 0h2m76 0h1m-132 1h2m49 0h2m-125 1h1m73 0h3m43 0h2m-121 1h1m75 0h2m38 0h3m81 0h1m-200 1h1m77 0h3m31 0h3m-115 1h1m81 0h4m22 0h4m86 0h1m-198 1h1m85 0h8m6 0h6m90 0h1m-196 2h1m193 0h1m-194 1h1m191 0h1m-191 3h1m187 0h1m-188 1h1m185 0h1m-186 1h1m0 1h1m0 1h1m0 1h1m0 1h1m0 1h1m0 1h1m171 0h1m-172 1h1m169 0h1m-170 1h1m167 0h1m-168 1h1m165 0h1m-165 1h1m0 1h1m159 0h1m-160 1h1m157 0h1m-157 1h1m154 0h1m-155 1h1m151 0h1m-152 1h1m149 0h1m-149 1h1m145 0h1m-146 1h1m143 0h1m-143 1h1m139 0h1m-140 1h2m136 0h1m-137 1h2m132 0h1m-133 1h2m128 0h1m-129 1h2m124 0h2m-126 1h2m121 0h1m-122 1h2m117 0h1m-118 1h1m114 0h1m-115 1h2m110 0h1m-111 1h1m107 0h1m-107 1h1m103 0h1m-104 1h1m100 0h1m-100 1h1m96 0h1m-96 1h1m92 0h1m-92 1h1m88 0h1m-87 1h1m82 0h1m-81 1h1m76 0h1m-75 1h1m69 0h1m-67 1h1m61 0h2m-60 1h1m53 0h1m-50 1h1m43 0h2m-40 1h1m31 0h2m-24 1h13"/>
<path stroke="#00ff3b" d="M0 .5m224 98h12m-16 1h4m12 0h4m-22 1h2m21 0h3m-28 1h2m26 0h3m-33 1h2m32 0h2m-37 1h2m36 0h2m-42 1h3m39 0h3m-46 1h2m44 0h2m-49 1h2m47 0h2m-53 1h3m50 0h3m-57 1h3m54 0h3m-62 1h3m59 0h3m-67 1h4m62 0h3m-70 1h3m66 0h3m-74 1h3m70 0h2m-76 1h3m72 0h3m-79 1h2m75 0h3m-81 1h2m77 0h3m-83 1h2m79 0h3m-85 1h2m81 0h3m-87 1h2m84 0h2m-89 1h2m86 0h3m-92 1h2m90 0h3m-96 1h2m67 0h7m20 0h3m-100 1h2m66 0h3m4 0h4m21 0h3m-104 1h2m65 0h3m8 0h3m24 0h2m-108 1h3m64 0h2m11 0h2m26 0h2m-111 1h3m64 0h2m12 0h3m27 0h2m-114 1h3m31 0h9m23 0h3m13 0h3m29 0h1m-116 1h3m30 0h2m10 0h10m8 0h5m16 0h2m30 0h2m-119 1h3m29 0h2m23 0h9m19 0h2m31 0h2m-121 1h3m29 0h2m52 0h2m33 0h2m-124 1h3m29 0h1m54 0h2m35 0h2m-127 1h3m29 0h1m55 0h2m37 0h3m-131 1h3m29 0h1m56 0h2m39 0h2m-133 1h3m29 0h2m56 0h2m41 0h2m-136 1h3m29 0h2m57 0h2m42 0h2m-138 1h3m30 0h1m59 0h2m42 0h2m-139 1h2m30 0h1m60 0h2m43 0h2m-141 1h2m30 0h2m61 0h2m43 0h2m-143 1h3m29 0h2m63 0h2m43 0h3m-145 1h2m30 0h1m65 0h2m44 0h4m-149 1h2m30 0h2m66 0h2m46 0h4m-153 1h3m29 0h2m68 0h2m49 0h3m-156 1h2m29 0h2m71 0h2m50 0h3m-160 1h3m28 0h2m74 0h2m50 0h3m-162 1h2m28 0h2m77 0h2m50 0h2m-164 1h3m26 0h2m81 0h2m49 0h3m-166 1h2m25 0h3m85 0h2m48 0h2m-167 1h2m24 0h2m89 0h2m47 0h3m-170 1h3m22 0h2m94 0h2m46 0h5m-174 1h3m21 0h2m97 0h3m46 0h9m-181 1h2m21 0h2m101 0h2m52 0h3m-184 1h3m20 0h2m104 0h3m52 0h1m-185 1h3m19 0h2m108 0h5m48 0h1m-187 1h3m19 0h2m112 0h10m41 0h1m-189 1h3m20 0h2m116 0h9m39 0h1m-191 1h3m21 0h2m121 0h6m38 0h1m-193 1h3m22 0h2m125 0h4m37 0h1m-195 1h3m23 0h2m127 0h3m-159 1h2m25 0h2m129 0h3m35 0h1m-198 1h2m26 0h2m130 0h3m35 0h1m-200 1h2m28 0h1m131 0h3m35 0h1m-202 1h2m29 0h2m132 0h2m-168 1h2m30 0h2m133 0h2m34 0h1m-205 1h2m31 0h2m133 0h2m35 0h1m-207 1h2m33 0h1m134 0h2m35 0h1m-208 1h1m34 0h1m135 0h2m-174 1h1m35 0h2m135 0h1m35 0h1m-211 1h2m35 0h2m135 0h2m35 0h1m-213 1h2m36 0h2m136 0h1m-177 1h1m37 0h2m136 0h1m36 0h1m-215 1h1m38 0h2m137 0h1m36 0h1m-217 1h2m38 0h2m137 0h1m37 0h1m-218 1h1m39 0h2m138 0h1m36 0h1m-219 1h2m40 0h1m138 0h1m37 0h1m-220 1h1m41 0h1m139 0h1m37 0h1m-221 1h1m41 0h1m139 0h1m38 0h1m-223 1h1m42 0h1m139 0h1m39 0h1m-224 1h1m42 0h1m140 0h1m38 0h2m-225 1h1m42 0h1m140 0h1m39 0h2m-226 1h1m42 0h1m140 0h1m40 0h2m-227 1h1m42 0h1m141 0h1m40 0h2m-228 1h1m42 0h1m141 0h1m41 0h1m-229 1h1m43 0h1m141 0h1m41 0h2m-230 1h1m43 0h1m141 0h1m41 0h2m-230 1h1m43 0h1m141 0h1m42 0h1m-230 1h1m43 0h1m142 0h1m41 0h1m-230 1h1m43 0h1m142 0h1m41 0h1m-230 1h1m43 0h1m141 0h2m41 0h1m-230 1h1m43 0h1m141 0h2m41 0h1m-230 1h1m43 0h1m141 0h1m42 0h1m-230 1h1m43 0h1m141 0h1m42 0h1m-186 1h1m141 0h1m42 0h1m-186 1h1m140 0h2m42 0h1m-231 1h1m44 0h1m140 0h1m43 0h1m-231 1h1m44 0h1m140 0h1m43 0h1m-231 1h1m44 0h1m140 0h1m43 0h2m-232 1h1m44 0h1m139 0h1m44 0h2m-232 1h1m44 0h1m139 0h1m44 0h2m-232 1h1m44 0h1m139 0h1m44 0h2m-232 1h1m44 0h1m139 0h1m44 0h2m-232 1h1m44 0h1m139 0h1m44 0h2m-232 1h1m44 0h1m139 0h1m44 0h2m-232 1h1m44 0h1m139 0h1m44 0h2m-232 1h1m44 0h1m139 0h1m44 0h2m-232 1h1m44 0h1m139 0h1m44 0h2m-232 1h1m44 0h1m139 0h1m44 0h2m-187 1h1m139 0h1m44 0h2m-187 1h1m139 0h1m44 0h2m-187 1h1m138 0h1m45 0h2m-231 1h1m43 0h1m138 0h1m45 0h2m-231 1h1m43 0h1m138 0h1m44 0h2m-230 1h1m43 0h1m138 0h1m44 0h2m-230 1h1m43 0h1m138 0h1m44 0h2m-230 1h1m43 0h1m138 0h1m44 0h2m-230 1h1m43 0h1m137 0h2m44 0h2m-230 1h1m43 0h1m137 0h1m45 0h2m-230 1h1m43 0h1m137 0h1m45 0h2m-230 1h1m43 0h1m136 0h1m46 0h1m-229 1h1m43 0h1m136 0h1m46 0h1m-229 1h1m43 0h1m136 0h1m45 0h2m-185 1h1m135 0h1m46 0h2m-228 1h1m42 0h1m135 0h1m46 0h2m-228 1h1m42 0h1m134 0h1m47 0h2m-228 1h1m42 0h1m134 0h1m47 0h2m-228 1h1m42 0h1m133 0h1m48 0h2m-228 1h1m42 0h1m133 0h1m48 0h2m-228 1h1m175 0h1m49 0h2m-228 1h1m175 0h1m49 0h2m-228 1h1m43 0h1m130 0h1m50 0h2m-228 1h1m43 0h1m130 0h1m50 0h2m-228 1h1m43 0h1m129 0h1m51 0h1m-227 1h1m43 0h1m181 0h1m-183 1h1m128 0h1m52 0h1m-226 1h1m42 0h1m127 0h1m53 0h1m-226 1h1m42 0h1m127 0h1m53 0h1m-226 1h1m169 0h1m54 0h1m-182 1h1m125 0h1m54 0h1m-225 1h1m42 0h1m124 0h1m55 0h1m-225 1h1m42 0h1m124 0h1m55 0h1m-225 1h1m166 0h1m56 0h1m-224 1h1m42 0h1m179 0h1m-224 1h1m42 0h1m121 0h1m57 0h1m-224 1h1m42 0h1m179 0h1m-223 1h1m162 0h1m58 0h1m-223 1h1m42 0h1m178 0h1m-223 1h1m42 0h1m118 0h1m59 0h1m-223 1h1m43 0h1m177 0h1m-223 1h1m43 0h1m116 0h1m60 0h1m-223 1h1m44 0h1m114 0h1m-161 1h1m44 0h1m113 0h1m61 0h1m-222 1h1m44 0h2m174 0h1m-223 1h2m45 0h1m111 0h1m62 0h1m-222 1h1m46 0h1m109 0h1m63 0h1m-222 1h1m46 0h1m108 0h1m-157 1h1m47 0h1m106 0h1m64 0h1m-221 1h2m46 0h2m104 0h1m65 0h1m-220 1h1m47 0h2m101 0h2m-153 1h1m48 0h2m99 0h2m66 0h1m-218 1h1m48 0h3m97 0h1m67 0h1m-218 1h1m50 0h2m95 0h1m-148 1h1m50 0h3m92 0h1m68 0h1m-216 1h1m52 0h4m88 0h1m-145 1h1m53 0h4m86 0h1m-145 1h1m56 0h4m82 0h1m69 0h1m-213 1h1m58 0h3m80 0h1m-143 1h1m61 0h2m77 0h1m69 0h1m-211 1h1m61 0h2m75 0h2m-141 1h1m63 0h2m73 0h1m-139 1h1m64 0h1m71 0h1m70 0h1m-209 1h1m65 0h2m68 0h1m-136 1h1m65 0h2m65 0h2m71 0h1m-206 1h1m66 0h1m63 0h1m-132 1h1m67 0h2m59 0h2m73 0h1m-204 1h1m68 0h2m56 0h1m-128 1h2m68 0h2m53 0h2m75 0h1m-202 1h1m70 0h2m48 0h2m-122 1h1m71 0h3m43 0h2m-119 1h1m73 0h3m37 0h3m80 0h1m-198 1h1m76 0h4m30 0h3m-113 1h1m79 0h5m20 0h4m-109 1h1m85 0h19m89 0h1m-194 1h1m0 1h1m-1 1h1m189 0h1m-190 1h1m187 0h1m-188 1h1m0 1h1m0 1h1m182 0h1m-183 1h1m180 0h1m-181 1h1m178 0h1m-179 1h1m176 0h1m-177 1h1m174 0h1m-175 1h1m172 0h1m-173 1h1m0 1h1m167 0h1m-168 1h1m165 0h1m-166 1h1m163 0h1m-163 1h1m160 0h1m-161 1h1m157 0h1m-158 1h2m154 0h1m-155 1h1m152 0h1m-153 1h2m148 0h1m-150 1h2m146 0h1m-147 1h1m143 0h1m-144 1h2m140 0h1m-141 1h2m136 0h1m-137 1h2m132 0h2m-134 1h2m129 0h1m-130 1h3m124 0h1m-126 1h3m120 0h1m-122 1h3m116 0h2m-119 1h2m113 0h2m-116 1h2m110 0h2m-112 1h1m108 0h1m-109 1h1m105 0h1m-105 1h1m101 0h1m-102 1h1m98 0h1m-98 1h1m94 0h1m-94 1h1m90 0h1m-90 1h1m85 0h2m-5 1h2m-79 1h1m73 0h2m-73 1h1m67 0h1m-65 1h1m59 0h1m-57 1h1m51 0h1m-48 1h1m41 0h1m-37 1h2m27 0h2"/>
<path stroke="#00ff26" d="M0 .5m224 99h12m-16 1h4m13 0h4m-23 1h2m21 0h3m-28 1h2m27 0h3m-33 1h2m31 0h3m-37 1h1m36 0h2m-41 1h2m39 0h3m-45 1h2m42 0h3m-48 1h3m44 0h3m-51 1h3m48 0h3m-56 1h3m52 0h4m-60 1h3m56 0h3m-64 1h4m59 0h3m-68 1h4m63 0h3m-71 1h3m67 0h2m-74 1h4m69 0h2m-76 1h3m72 0h2m-78 1h3m73 0h3m-80 1h3m75 0h3m-82 1h3m76 0h5m-85 1h2m65 0h6m8 0h5m-87 1h3m62 0h12m8 0h5m-91 1h3m61 0h3m7 0h5m10 0h5m-95 1h3m61 0h2m11 0h4m13 0h4m-99 1h3m60 0h2m14 0h3m18 0h3m-103 1h2m59 0h3m15 0h3m21 0h2m-106 1h2m27 0h9m22 0h4m17 0h2m23 0h2m-109 1h3m25 0h3m9 0h10m6 0h7m19 0h2m25 0h2m-112 1h3m24 0h3m22 0h8m23 0h2m26 0h2m-114 1h3m24 0h2m55 0h2m28 0h1m-116 1h4m23 0h2m56 0h2m29 0h2m-119 1h4m23 0h2m57 0h2m31 0h2m-122 1h3m24 0h2m58 0h2m32 0h3m-125 1h3m24 0h2m59 0h2m34 0h3m-128 1h3m24 0h2m60 0h2m36 0h3m-131 1h3m24 0h2m61 0h2m38 0h2m-133 1h3m25 0h2m62 0h2m38 0h2m-135 1h3m25 0h2m63 0h2m38 0h3m-137 1h3m25 0h2m65 0h2m38 0h3m-138 1h2m25 0h2m67 0h2m38 0h3m-140 1h3m25 0h2m68 0h2m38 0h4m-143 1h3m25 0h2m70 0h2m38 0h6m-146 1h3m24 0h2m72 0h2m41 0h6m-151 1h3m24 0h2m75 0h2m44 0h4m-154 1h3m22 0h3m78 0h2m45 0h3m-157 1h3m22 0h3m81 0h2m45 0h3m-159 1h3m20 0h3m85 0h2m45 0h2m-161 1h4m19 0h2m90 0h2m43 0h3m-163 1h3m18 0h3m93 0h2m42 0h3m-164 1h3m17 0h2m98 0h2m41 0h3m-166 1h3m15 0h3m102 0h2m39 0h5m-170 1h4m14 0h3m105 0h4m8 0h5m25 0h10m-178 1h4m13 0h3m109 0h16m32 0h4m-181 1h3m13 0h3m115 0h13m33 0h2m-183 1h4m13 0h2m124 0h6m34 0h1m-185 1h4m13 0h3m127 0h5m33 0h1m-187 1h4m14 0h3m129 0h4m33 0h1m-189 1h4m15 0h3m131 0h4m32 0h1m-191 1h4m17 0h2m132 0h4m31 0h2m-194 1h4m19 0h2m134 0h3m31 0h1m-195 1h3m21 0h2m135 0h2m32 0h1m-197 1h3m23 0h2m135 0h2m32 0h1m-199 1h2m25 0h2m136 0h2m32 0h1m-201 1h2m26 0h2m137 0h1m32 0h1m-202 1h2m27 0h2m137 0h2m32 0h1m-204 1h2m29 0h2m137 0h1m33 0h1m-206 1h2m30 0h2m138 0h1m33 0h1m-208 1h2m31 0h2m138 0h1m33 0h1m-208 1h1m32 0h2m139 0h1m33 0h1m-210 1h1m33 0h2m139 0h1m34 0h1m-212 1h1m35 0h1m139 0h2m-179 1h2m35 0h1m140 0h1m34 0h1m-214 1h1m36 0h1m140 0h1m35 0h1m-216 1h1m37 0h1m141 0h1m-181 1h1m37 0h2m140 0h1m35 0h1m-218 1h1m38 0h2m177 0h1m-219 1h1m39 0h1m141 0h1m36 0h1m-221 1h1m40 0h1m141 0h1m36 0h2m-222 1h1m40 0h1m179 0h1m-222 1h1m40 0h1m142 0h1m37 0h1m-223 1h1m40 0h1m142 0h1m38 0h1m-224 1h1m40 0h1m181 0h2m-184 1h1m143 0h1m38 0h2m-227 1h1m41 0h1m143 0h1m38 0h2m-227 1h1m41 0h1m143 0h1m39 0h1m-227 1h1m41 0h1m143 0h1m39 0h2m-228 1h1m41 0h1m144 0h1m38 0h2m-228 1h1m41 0h1m144 0h1m38 0h2m-228 1h1m41 0h1m144 0h1m38 0h2m-228 1h1m41 0h1m144 0h1m38 0h2m-186 1h1m143 0h2m38 0h2m-186 1h1m143 0h2m38 0h2m-229 1h1m42 0h1m143 0h1m39 0h2m-229 1h1m186 0h1m39 0h2m-229 1h1m185 0h2m39 0h2m-229 1h1m185 0h1m40 0h2m-229 1h1m185 0h1m40 0h2m-229 1h1m184 0h2m40 0h2m-229 1h1m184 0h1m41 0h2m-229 1h1m184 0h1m41 0h2m-229 1h1m184 0h1m41 0h2m-229 1h1m184 0h1m41 0h2m-229 1h1m184 0h1m41 0h2m-229 1h1m184 0h1m41 0h2m-229 1h1m184 0h1m41 0h2m-229 1h1m184 0h1m41 0h2m-229 1h1m42 0h1m141 0h1m41 0h2m-229 1h1m42 0h1m141 0h1m41 0h2m-229 1h1m42 0h1m141 0h1m41 0h2m-229 1h1m42 0h1m140 0h2m41 0h2m-186 1h1m140 0h2m41 0h2m-186 1h1m140 0h2m41 0h1m-227 1h1m41 0h1m140 0h1m42 0h1m-227 1h1m41 0h1m140 0h1m42 0h1m-227 1h1m41 0h1m140 0h1m42 0h1m-227 1h1m41 0h1m140 0h1m41 0h2m-227 1h1m41 0h1m139 0h2m41 0h2m-227 1h1m41 0h1m139 0h1m42 0h2m-227 1h1m41 0h1m138 0h2m42 0h2m-227 1h1m41 0h1m138 0h1m43 0h2m-227 1h1m41 0h1m138 0h1m43 0h1m-226 1h1m41 0h1m137 0h1m44 0h1m-184 1h1m137 0h1m44 0h1m-184 1h1m136 0h1m45 0h1m-225 1h1m40 0h1m136 0h1m45 0h1m-225 1h1m176 0h1m46 0h1m-225 1h1m176 0h1m46 0h1m-225 1h1m41 0h1m133 0h1m47 0h1m-225 1h1m41 0h1m133 0h1m47 0h1m-225 1h1m41 0h1m132 0h1m48 0h1m-225 1h1m41 0h1m181 0h1m-225 1h1m41 0h1m131 0h1m49 0h1m-225 1h1m41 0h1m130 0h1m50 0h1m-225 1h1m41 0h1m130 0h1m50 0h1m-224 1h1m170 0h1m51 0h1m-224 1h1m222 0h1m-224 1h1m41 0h1m127 0h1m52 0h1m-224 1h1m41 0h1m180 0h1m-223 1h1m40 0h1m126 0h1m53 0h1m-223 1h1m221 0h1m-223 1h1m41 0h1m124 0h1m54 0h1m-222 1h1m40 0h1m123 0h1m55 0h1m-222 1h1m40 0h1m123 0h1m55 0h1m-222 1h1m163 0h1m56 0h1m-180 1h1m178 0h1m-221 1h1m40 0h1m120 0h1m57 0h1m-221 1h1m219 0h1m-221 1h1m41 0h1m118 0h1m58 0h1m-221 1h1m41 0h1m177 0h1m-221 1h1m42 0h1m176 0h1m-221 1h1m42 0h1m115 0h1m-160 1h1m157 0h1m60 0h1m-220 1h1m43 0h1m174 0h1m-220 1h1m43 0h2m173 0h1m-220 1h2m43 0h1m110 0h1m62 0h1m-220 1h2m44 0h1m108 0h1m-155 1h1m44 0h1m107 0h1m63 0h1m-218 1h1m45 0h1m105 0h1m64 0h1m-218 1h2m44 0h2m103 0h1m-151 1h1m45 0h2m101 0h1m65 0h1m-216 1h2m45 0h3m98 0h1m66 0h1m-215 1h1m46 0h3m96 0h1m-147 1h2m46 0h4m93 0h2m66 0h1m-213 1h1m48 0h4m91 0h1m67 0h1m-213 1h2m49 0h5m87 0h2m-144 1h1m52 0h5m84 0h1m67 0h1m-211 1h2m54 0h5m80 0h2m-142 1h1m57 0h3m79 0h1m67 0h1m-209 1h2m59 0h2m76 0h1m68 0h1m-208 1h2m59 0h3m73 0h1m-138 1h2m61 0h2m71 0h1m69 0h1m-206 1h2m61 0h2m69 0h1m-134 1h2m62 0h2m65 0h2m70 0h1m-204 1h2m63 0h2m63 0h2m-131 1h2m64 0h2m59 0h2m72 0h1m-201 1h2m64 0h2m57 0h2m-127 1h2m66 0h2m52 0h3m74 0h1m-199 1h2m67 0h2m48 0h3m-121 1h1m69 0h3m43 0h3m-119 1h2m71 0h3m37 0h3m79 0h1m-195 1h1m74 0h4m29 0h4m-112 1h1m79 0h5m19 0h5m-108 1h1m84 0h18m88 0h1m-191 1h1m188 0h1m-190 1h1m0 1h1m0 1h1m184 0h1m-185 1h1m182 0h1m-183 1h2m-1 1h2m-1 1h2m-1 1h1m174 0h1m-175 1h1m172 0h1m-173 1h1m170 0h1m-171 1h1m168 0h1m-169 1h1m0 1h1m163 0h1m-164 1h2m160 0h1m-161 1h1m158 0h1m-159 1h2m154 0h1m-155 1h1m152 0h1m-153 1h2m149 0h1m-150 1h1m146 0h1m-147 1h2m143 0h1m-145 1h2m140 0h1m-141 1h2m136 0h2m-138 1h2m133 0h1m-134 1h3m128 0h1m-130 1h3m124 0h2m-126 1h3m119 0h2m-122 1h2m116 0h2m-118 1h2m112 0h2m-115 1h2m110 0h1m-112 1h1m108 0h1m-109 1h1m105 0h2m-107 1h1m103 0h1m-3 1h1m-100 1h1m96 0h1m-3 1h1m-3 1h1m-88 1h1m83 0h1m-83 1h1m78 0h1m-4 1h1m-70 1h1m64 0h2m-63 1h1m56 0h2m-55 1h1m48 0h2m-46 1h1m38 0h2m-34 1h2m23 0h2"/>
<path stroke="#00ff10" d="M0 .5m224 100h4m4 0h5m-17 1h3m15 0h3m-23 1h3m21 0h3m-28 1h2m26 0h3m-33 1h2m31 0h3m-37 1h2m34 0h3m-40 1h2m38 0h2m-42 1h2m40 0h2m-45 1h2m43 0h3m-50 1h3m46 0h3m-53 1h3m49 0h4m-57 1h3m53 0h3m-61 1h4m55 0h4m-65 1h5m58 0h4m-68 1h4m61 0h4m-71 1h4m63 0h5m-73 1h3m65 0h5m-74 1h3m61 0h11m-76 1h2m59 0h15m-78 1h3m58 0h4m6 0h8m-79 1h2m57 0h3m12 0h8m-83 1h2m57 0h2m15 0h10m-87 1h2m56 0h3m17 0h13m-92 1h3m23 0h3m28 0h3m19 0h6m6 0h6m-98 1h3m22 0h10m21 0h3m21 0h4m14 0h3m-102 1h3m21 0h3m9 0h10m3 0h9m23 0h4m17 0h2m-104 1h3m19 0h3m22 0h6m28 0h3m20 0h2m-107 1h3m19 0h2m58 0h3m22 0h1m-109 1h4m18 0h2m59 0h2m24 0h2m-111 1h3m18 0h2m60 0h2m25 0h2m-113 1h4m17 0h2m61 0h2m27 0h2m-117 1h5m17 0h2m62 0h2m28 0h2m-119 1h5m17 0h2m63 0h2m30 0h2m-122 1h5m17 0h2m64 0h2m31 0h3m-125 1h5m17 0h2m65 0h2m33 0h3m-128 1h4m19 0h2m66 0h2m33 0h3m-130 1h4m19 0h2m67 0h2m34 0h2m-131 1h4m19 0h2m69 0h2m33 0h3m-133 1h4m19 0h2m71 0h2m33 0h3m-134 1h3m19 0h3m72 0h2m32 0h4m-136 1h3m19 0h3m74 0h2m31 0h5m-137 1h3m18 0h3m76 0h2m30 0h9m-142 1h3m18 0h3m79 0h2m28 0h14m-147 1h3m16 0h3m83 0h1m26 0h18m-151 1h4m15 0h3m86 0h2m23 0h8m8 0h4m-153 1h4m13 0h3m90 0h2m21 0h7m11 0h4m-155 1h4m12 0h3m94 0h2m17 0h8m13 0h3m-157 1h5m10 0h3m98 0h3m13 0h10m13 0h3m-158 1h5m8 0h4m102 0h4m8 0h12m13 0h4m-160 1h5m6 0h4m107 0h22m13 0h4m-161 1h5m4 0h5m112 0h8m5 0h6m13 0h6m-164 1h5m3 0h5m128 0h5m14 0h13m-174 1h6m2 0h5m131 0h5m17 0h11m-177 1h6m2 0h5m132 0h5m26 0h3m-180 1h6m3 0h4m135 0h5m26 0h2m-182 1h5m6 0h3m136 0h5m26 0h2m-184 1h5m7 0h3m138 0h3m27 0h2m-186 1h5m8 0h4m138 0h3m27 0h1m-188 1h5m11 0h3m139 0h2m28 0h1m-191 1h5m13 0h3m139 0h3m28 0h1m-193 1h4m16 0h3m139 0h2m29 0h1m-196 1h4m18 0h3m140 0h2m29 0h1m-198 1h3m21 0h2m140 0h2m29 0h1m-199 1h2m23 0h2m141 0h2m29 0h1m-201 1h2m24 0h3m140 0h2m30 0h1m-203 1h2m26 0h2m141 0h1m31 0h1m-205 1h2m27 0h2m141 0h2m-175 1h2m28 0h2m142 0h1m31 0h1m-208 1h2m29 0h2m142 0h1m32 0h1m-210 1h2m31 0h2m142 0h1m32 0h1m-211 1h1m32 0h2m142 0h1m32 0h1m-212 1h1m33 0h2m142 0h1m33 0h1m-214 1h2m34 0h1m143 0h1m33 0h1m-215 1h1m35 0h1m143 0h1m33 0h1m-216 1h1m36 0h1m143 0h1m34 0h1m-217 1h1m37 0h1m143 0h1m34 0h1m-219 1h2m37 0h1m143 0h1m34 0h1m-219 1h1m38 0h1m143 0h1m35 0h1m-220 1h1m38 0h1m144 0h1m35 0h1m-221 1h1m38 0h1m144 0h1m35 0h2m-222 1h1m38 0h1m144 0h1m36 0h1m-223 1h1m39 0h1m145 0h1m35 0h2m-224 1h1m185 0h1m36 0h1m-224 1h1m185 0h1m36 0h2m-225 1h1m185 0h1m37 0h1m-225 1h1m186 0h1m36 0h1m-225 1h1m186 0h1m36 0h1m-225 1h1m186 0h1m36 0h1m-38 1h1m36 0h1m-226 1h1m187 0h1m36 0h1m-226 1h1m187 0h1m36 0h1m-226 1h1m186 0h2m36 0h1m-226 1h1m41 0h1m144 0h2m36 0h1m-226 1h1m41 0h1m144 0h1m37 0h1m-226 1h1m41 0h1m143 0h2m37 0h1m-226 1h1m41 0h1m143 0h2m37 0h1m-226 1h1m41 0h1m143 0h1m38 0h1m-226 1h1m41 0h1m142 0h2m38 0h1m-226 1h1m41 0h1m142 0h1m39 0h1m-226 1h1m41 0h1m142 0h1m39 0h1m-226 1h1m41 0h1m142 0h1m39 0h1m-226 1h1m41 0h1m142 0h1m39 0h1m-226 1h1m41 0h1m142 0h1m39 0h1m-226 1h1m41 0h1m142 0h1m39 0h1m-226 1h1m41 0h1m142 0h1m39 0h1m-226 1h1m184 0h1m39 0h1m-226 1h1m184 0h1m39 0h1m-226 1h1m184 0h1m38 0h2m-226 1h1m184 0h1m38 0h2m-226 1h1m184 0h1m38 0h2m-226 1h1m40 0h1m143 0h1m38 0h2m-185 1h1m142 0h2m38 0h2m-185 1h1m142 0h2m38 0h2m-225 1h1m39 0h1m142 0h2m38 0h2m-225 1h1m39 0h1m142 0h1m39 0h1m-224 1h1m39 0h1m142 0h1m39 0h1m-224 1h1m39 0h1m141 0h2m39 0h1m-224 1h1m39 0h1m141 0h1m40 0h1m-224 1h1m39 0h1m140 0h2m40 0h1m-224 1h1m39 0h1m140 0h1m41 0h1m-224 1h1m39 0h1m139 0h1m42 0h1m-224 1h1m39 0h1m139 0h1m42 0h1m-224 1h1m178 0h1m43 0h1m-45 1h1m43 0h1m-223 1h1m39 0h1m136 0h1m44 0h1m-223 1h1m39 0h1m136 0h1m44 0h1m-223 1h1m39 0h1m135 0h1m45 0h1m-223 1h1m39 0h1m135 0h1m45 0h1m-223 1h1m39 0h1m134 0h1m46 0h1m-223 1h1m39 0h1m133 0h1m47 0h1m-223 1h1m39 0h1m133 0h1m46 0h2m-223 1h1m172 0h1m47 0h2m-223 1h1m172 0h1m47 0h2m-222 1h1m39 0h1m130 0h1m48 0h2m-222 1h1m39 0h1m129 0h1m49 0h2m-222 1h1m39 0h1m129 0h1m49 0h2m-222 1h1m168 0h1m51 0h1m-221 1h1m219 0h1m-221 1h1m39 0h1m126 0h1m52 0h1m-221 1h1m39 0h1m179 0h1m-220 1h1m164 0h1m53 0h1m-220 1h1m218 0h1m-220 1h1m39 0h1m123 0h1m54 0h1m-220 1h1m39 0h1m122 0h1m55 0h1m-219 1h1m217 0h1m-219 1h1m39 0h1m120 0h1m56 0h1m-219 1h1m39 0h1m177 0h1m-219 1h1m159 0h1m57 0h1m-219 1h1m40 0h1m117 0h1m58 0h1m-219 1h1m40 0h1m176 0h1m-219 1h1m41 0h1m115 0h1m-159 1h1m41 0h1m114 0h1m59 0h1m-218 1h1m155 0h1m60 0h1m-217 1h1m41 0h1m173 0h1m-217 1h1m41 0h2m110 0h1m61 0h1m-217 1h1m42 0h1m109 0h1m-154 1h2m41 0h2m107 0h1m62 0h1m-215 1h1m42 0h1m106 0h1m63 0h1m-215 1h2m42 0h1m104 0h1m-149 1h1m42 0h2m102 0h1m64 0h1m-213 1h2m42 0h2m100 0h2m64 0h1m-212 1h1m43 0h2m99 0h1m-146 1h2m43 0h3m96 0h2m64 0h1m-210 1h1m44 0h4m94 0h1m65 0h1m-210 1h2m44 0h6m90 0h2m-143 1h1m45 0h8m87 0h1m65 0h1m-208 1h2m48 0h7m83 0h1m-140 1h1m52 0h6m79 0h2m-139 1h1m54 0h4m77 0h2m66 0h1m-205 1h2m56 0h3m74 0h2m-136 1h1m57 0h3m72 0h2m67 0h1m-202 1h1m58 0h3m69 0h2m-133 1h2m59 0h2m67 0h2m68 0h1m-200 1h1m60 0h3m63 0h3m-129 1h1m60 0h3m61 0h3m69 0h1m-198 1h2m61 0h3m57 0h3m-125 1h1m63 0h3m53 0h4m71 0h1m-196 1h2m64 0h3m49 0h4m72 0h1m-194 1h1m66 0h4m43 0h5m-119 1h1m69 0h4m37 0h5m76 0h1m-193 1h2m72 0h5m29 0h5m78 0h1m-191 1h1m77 0h6m18 0h6m-107 1h1m82 0h18m-101 1h2m185 0h1m-187 1h2m183 0h1m-185 1h2m-1 1h2m0 1h1m178 0h1m-179 1h1m176 0h1m-177 1h1m174 0h1m-176 1h2m-1 1h1m0 1h1m168 0h1m-169 1h1m166 0h1m-167 1h1m164 0h1m-165 1h2m160 0h1m-161 1h2m157 0h1m-159 1h2m155 0h1m-156 1h2m151 0h1m-153 1h3m148 0h1m-150 1h2m145 0h2m-148 1h2m143 0h1m-144 1h2m139 0h2m-142 1h3m136 0h1m-138 1h3m132 0h1m-134 1h3m128 0h2m-130 1h2m123 0h3m-126 1h3m118 0h3m-121 1h1m115 0h3m-118 1h2m111 0h3m-114 1h1m109 0h2m-111 1h1m107 0h2m-110 1h2m104 0h2m-107 1h1m103 0h1m-104 1h1m100 0h2m-102 1h1m98 0h1m-98 1h1m94 0h1m-95 1h1m91 0h1m-91 1h1m86 0h2m-4 1h1m-81 1h1m75 0h2m-75 1h1m69 0h2m-68 1h1m62 0h1m-60 1h1m54 0h1m-52 1h1m46 0h1m-43 1h1m35 0h2m-30 1h2m19 0h2"/>
<path stroke="#05ff00" d="M0 .5m228 100h4m-9 1h4m7 0h4m-17 1h2m16 0h3m-23 1h2m21 0h3m-28 1h2m26 0h3m-32 1h2m30 0h2m-35 1h2m33 0h3m-38 1h1m36 0h3m-41 1h2m38 0h3m-44 1h2m41 0h3m-47 1h3m43 0h3m-50 1h3m46 0h4m-54 1h3m49 0h3m-56 1h4m50 0h4m-60 1h5m51 0h5m-63 1h6m51 0h6m-65 1h6m51 0h8m-66 1h5m51 0h5m-63 1h5m51 0h3m-60 1h4m51 0h3m-59 1h4m51 0h2m-58 1h4m50 0h3m-58 1h4m16 0h7m26 0h3m-56 1h3m15 0h5m3 0h5m19 0h4m28 0h6m-89 1h3m15 0h4m10 0h21m28 0h14m-96 1h3m15 0h3m22 0h3m36 0h4m10 0h3m-99 1h3m14 0h2m62 0h4m14 0h2m-102 1h4m12 0h3m63 0h3m17 0h2m-104 1h3m12 0h3m63 0h3m19 0h2m-106 1h4m11 0h3m64 0h3m20 0h2m-107 1h4m10 0h3m65 0h2m23 0h2m-110 1h4m10 0h3m66 0h2m24 0h2m-112 1h5m9 0h3m67 0h2m25 0h3m-115 1h6m8 0h3m68 0h2m26 0h3m-117 1h6m8 0h3m69 0h2m28 0h3m-121 1h7m8 0h4m70 0h2m28 0h3m-123 1h7m8 0h4m71 0h2m28 0h4m-125 1h7m8 0h4m73 0h2m28 0h3m-126 1h6m8 0h5m75 0h2m27 0h4m-128 1h6m8 0h5m77 0h2m26 0h4m-129 1h6m8 0h5m79 0h2m25 0h4m-129 1h5m8 0h5m81 0h2m24 0h4m-130 1h6m7 0h5m84 0h2m22 0h4m-130 1h6m5 0h5m87 0h3m19 0h4m-129 1h7m2 0h6m91 0h2m17 0h4m8 0h8m-145 1h13m95 0h3m14 0h4m7 0h11m-147 1h12m99 0h3m10 0h4m8 0h13m-149 1h10m104 0h13m10 0h13m-150 1h8m110 0h8m12 0h13m-151 1h6m133 0h13m-152 1h4m136 0h13m-153 1h3m138 0h14m-155 1h2m141 0h17m-160 1h2m142 0h26m-171 1h3m144 0h12m10 0h4m-175 1h6m144 0h7m17 0h2m-177 1h7m144 0h6m19 0h2m-179 1h8m145 0h4m21 0h2m-182 1h11m144 0h4m22 0h2m-185 1h13m145 0h3m23 0h2m-188 1h9m1 0h6m144 0h3m24 0h2m-191 1h6m8 0h4m145 0h2m25 0h2m-194 1h5m12 0h4m144 0h2m26 0h1m-196 1h4m16 0h3m145 0h1m27 0h1m-198 1h3m18 0h3m145 0h1m28 0h1m-200 1h2m21 0h3m144 0h2m28 0h1m-202 1h2m22 0h3m145 0h1m28 0h2m-204 1h2m24 0h2m145 0h1m29 0h1m-205 1h1m26 0h2m145 0h1m30 0h1m-207 1h1m27 0h3m145 0h1m30 0h1m-209 1h2m28 0h2m145 0h1m30 0h1m-210 1h2m29 0h2m145 0h1m31 0h1m-211 1h1m31 0h2m177 0h1m-213 1h1m32 0h2m145 0h1m31 0h1m-214 1h2m33 0h1m145 0h1m32 0h1m-215 1h1m34 0h2m177 0h2m-216 1h1m35 0h1m145 0h1m32 0h1m-217 1h1m36 0h1m145 0h1m33 0h1m-218 1h1m36 0h1m179 0h2m-219 1h1m36 0h1m146 0h1m33 0h1m-35 1h1m33 0h2m-221 1h1m219 0h1m-221 1h1m38 0h1m146 0h1m33 0h2m-222 1h1m38 0h1m146 0h1m34 0h1m-222 1h1m38 0h1m146 0h1m34 0h2m-223 1h1m38 0h1m147 0h1m33 0h2m-184 1h1m147 0h1m33 0h2m-184 1h1m147 0h1m33 0h2m-224 1h1m39 0h1m147 0h1m33 0h2m-224 1h1m39 0h1m147 0h1m33 0h2m-224 1h1m39 0h1m147 0h1m33 0h2m-224 1h1m39 0h1m147 0h1m33 0h2m-224 1h1m39 0h1m147 0h1m33 0h2m-224 1h1m39 0h1m146 0h2m33 0h2m-224 1h1m39 0h1m146 0h2m33 0h2m-224 1h1m39 0h1m146 0h2m33 0h2m-224 1h1m39 0h1m145 0h2m34 0h2m-224 1h1m39 0h1m145 0h2m34 0h2m-224 1h1m39 0h1m144 0h2m35 0h2m-224 1h1m39 0h1m144 0h2m35 0h2m-224 1h1m39 0h1m144 0h2m35 0h2m-224 1h1m39 0h1m144 0h2m35 0h2m-224 1h1m39 0h1m144 0h1m36 0h2m-224 1h1m39 0h1m144 0h1m36 0h2m-224 1h1m39 0h1m144 0h1m36 0h2m-224 1h1m39 0h1m144 0h1m36 0h2m-224 1h1m39 0h1m144 0h2m35 0h2m-224 1h1m39 0h1m144 0h2m35 0h1m-223 1h1m39 0h1m144 0h2m35 0h1m-223 1h1m39 0h1m144 0h2m35 0h1m-223 1h1m184 0h2m35 0h1m-223 1h1m184 0h2m35 0h1m-223 1h1m184 0h2m35 0h1m-184 1h1m145 0h2m35 0h1m-222 1h1m37 0h1m144 0h2m36 0h1m-222 1h1m37 0h1m144 0h2m36 0h1m-222 1h1m37 0h1m144 0h2m35 0h2m-222 1h1m37 0h1m143 0h2m36 0h2m-222 1h1m37 0h1m143 0h1m37 0h2m-222 1h1m37 0h1m142 0h2m37 0h2m-222 1h1m179 0h2m38 0h2m-222 1h1m179 0h1m39 0h2m-222 1h1m38 0h1m139 0h2m39 0h2m-222 1h1m38 0h1m139 0h1m40 0h2m-183 1h1m138 0h1m41 0h2m-183 1h1m138 0h1m41 0h2m-221 1h1m37 0h1m137 0h1m42 0h2m-221 1h1m37 0h1m180 0h2m-221 1h1m37 0h1m136 0h1m43 0h2m-221 1h1m173 0h1m44 0h2m-221 1h1m173 0h1m44 0h1m-220 1h1m38 0h1m133 0h1m45 0h1m-220 1h1m38 0h1m179 0h1m-181 1h1m132 0h1m46 0h1m-219 1h1m37 0h1m131 0h1m47 0h1m-219 1h1m169 0h1m47 0h1m-219 1h1m38 0h1m129 0h1m48 0h2m-181 1h1m128 0h1m49 0h2m-219 1h1m37 0h1m128 0h1m49 0h2m-219 1h1m165 0h1m50 0h2m-180 1h1m177 0h2m-218 1h1m37 0h1m125 0h1m51 0h2m-218 1h1m37 0h1m177 0h2m-218 1h1m162 0h1m52 0h2m-179 1h1m122 0h1m54 0h1m-217 1h1m37 0h1m122 0h1m54 0h1m-217 1h1m159 0h1m55 0h1m-217 1h1m38 0h1m176 0h1m-217 1h1m38 0h1m119 0h1m56 0h1m-217 1h1m157 0h1m57 0h1m-217 1h1m39 0h1m175 0h1m-217 1h1m39 0h1m116 0h1m57 0h1m-216 1h2m39 0h1m114 0h1m58 0h1m-215 1h1m39 0h1m113 0h1m59 0h1m-215 1h1m213 0h1m-215 1h1m40 0h1m111 0h1m60 0h1m-214 1h1m39 0h1m110 0h1m-152 1h1m40 0h1m108 0h1m61 0h1m-212 1h1m39 0h2m106 0h2m61 0h1m-212 1h1m40 0h1m105 0h2m-148 1h1m39 0h2m104 0h1m62 0h1m-210 1h1m40 0h2m102 0h2m62 0h1m-209 1h1m40 0h2m101 0h1m-145 1h2m39 0h3m99 0h2m62 0h1m-207 1h1m40 0h3m98 0h1m63 0h1m-207 1h2m40 0h3m96 0h2m-142 1h1m41 0h6m91 0h2m63 0h1m-205 1h2m41 0h9m87 0h1m64 0h1m-204 1h2m41 0h11m83 0h2m-138 1h1m42 0h13m79 0h2m64 0h1m-202 1h2m43 0h12m77 0h2m-135 1h2m50 0h6m74 0h2m65 0h1m-199 1h1m52 0h6m71 0h3m-133 1h2m53 0h5m69 0h3m65 0h1m-197 1h1m55 0h4m67 0h3m-129 1h1m56 0h4m63 0h4m66 0h1m-195 1h1m57 0h5m60 0h4m-126 1h1m58 0h5m56 0h5m-125 1h1m61 0h4m52 0h5m68 0h1m-192 1h2m62 0h5m46 0h6m-120 1h1m65 0h6m39 0h6m-117 1h2m69 0h6m30 0h7m74 0h1m-188 1h2m73 0h7m18 0h8m78 0h1m-186 1h2m79 0h21m-101 1h2m-1 1h2m179 0h1m-181 1h2m177 0h1m-179 1h2m175 0h1m-177 1h2m173 0h1m-175 1h1m172 0h1m-173 1h1m170 0h1m-172 1h2m168 0h1m-170 1h2m-1 1h2m163 0h1m-165 1h2m161 0h1m-162 1h2m157 0h1m-158 1h2m154 0h1m-156 1h2m152 0h1m-153 1h2m148 0h1m-149 1h1m145 0h2m-147 1h2m142 0h1m-144 1h2m139 0h2m-141 1h2m135 0h2m-137 1h2m131 0h3m-134 1h2m125 0h5m-130 1h3m119 0h6m-126 1h3m115 0h5m-120 1h2m112 0h4m-117 1h2m110 0h3m-113 1h1m108 0h2m-110 1h1m105 0h3m-108 1h1m103 0h3m-106 1h1m101 0h2m-104 1h1m100 0h2m-102 1h1m98 0h1m-99 1h1m95 0h2m-4 1h2m-93 1h1m88 0h2m-89 1h1m84 0h1m-84 1h1m79 0h2m-79 1h1m72 0h2m-72 1h1m66 0h2m-65 1h1m59 0h2m-58 1h1m51 0h2m-50 1h1m43 0h2m-41 1h2m32 0h1m-26 1h2m14 0h3"/>
<path stroke="#1bff00" d="M0 .5m227 101h7m-11 1h3m9 0h4m-18 1h2m16 0h3m-23 1h2m21 0h3m-27 1h2m25 0h3m-31 1h2m28 0h3m-34 1h2m31 0h3m-36 1h1m34 0h3m-39 1h2m36 0h3m-41 1h2m38 0h3m-44 1h2m41 0h3m-47 1h3m42 0h4m-49 1h3m43 0h4m-51 1h4m43 0h4m-52 1h5m42 0h4m-53 1h7m41 0h3m-53 1h10m38 0h3m-53 1h13m35 0h3m-53 1h17m32 0h2m-52 1h20m28 0h3m-52 1h24m22 0h4m-51 1h16m7 0h4m16 0h6m-50 1h6m3 0h6m13 0h19m-48 1h5m4 0h6m-16 1h6m3 0h6m68 0h10m-93 1h6m1 0h7m68 0h6m4 0h4m-96 1h12m69 0h4m10 0h3m-99 1h12m69 0h3m14 0h2m-100 1h11m70 0h3m16 0h1m-101 1h10m70 0h3m18 0h2m-104 1h10m71 0h3m19 0h2m-105 1h9m72 0h2m21 0h2m-106 1h8m73 0h2m22 0h2m-108 1h8m74 0h3m22 0h3m-111 1h8m76 0h2m22 0h4m-113 1h8m77 0h2m23 0h3m-114 1h8m79 0h2m22 0h4m-117 1h8m82 0h2m22 0h3m-118 1h8m84 0h2m21 0h3m-119 1h8m86 0h2m20 0h3m-120 1h8m88 0h2m19 0h3m-120 1h7m91 0h2m17 0h3m-120 1h5m95 0h2m14 0h3m-118 1h2m99 0h3m10 0h4m-14 1h4m5 0h5m-11 1h10m34 8h10m-14 1h17m-18 1h7m7 0h5m-20 1h5m13 0h3m-21 1h4m15 0h3m-22 1h3m17 0h3m-177 1h1m153 0h3m19 0h2m-183 1h8m151 0h2m21 0h2m-187 1h12m150 0h2m22 0h2m-191 1h16m149 0h2m23 0h2m-194 1h8m2 0h8m149 0h2m24 0h2m-197 1h5m11 0h5m149 0h1m25 0h2m-199 1h3m15 0h4m149 0h1m26 0h1m-200 1h2m18 0h4m148 0h1m27 0h1m-203 1h3m20 0h3m148 0h1m28 0h1m-205 1h2m22 0h3m177 0h2m-206 1h1m24 0h3m148 0h1m28 0h1m-207 1h1m26 0h2m148 0h1m29 0h1m-209 1h1m27 0h3m147 0h1m29 0h2m-211 1h2m28 0h2m178 0h1m-211 1h1m30 0h2m147 0h1m30 0h1m-213 1h1m32 0h1m147 0h1m30 0h1m-213 1h1m32 0h2m147 0h1m30 0h1m-215 1h1m34 0h1m147 0h1m30 0h2m-216 1h1m34 0h1m147 0h1m31 0h1m-216 1h1m183 0h1m30 0h2m-218 1h1m36 0h1m147 0h1m31 0h1m-218 1h1m36 0h1m147 0h1m31 0h2m-219 1h1m36 0h1m148 0h1m31 0h1m-219 1h1m36 0h1m148 0h1m31 0h2m-220 1h1m36 0h1m148 0h1m31 0h2m-220 1h1m36 0h1m149 0h1m31 0h1m-221 1h1m37 0h1m149 0h1m31 0h1m-221 1h1m37 0h1m149 0h1m31 0h1m-221 1h1m37 0h1m149 0h1m31 0h1m-221 1h1m37 0h1m149 0h1m31 0h1m-221 1h1m37 0h1m149 0h2m30 0h1m-221 1h1m37 0h1m149 0h2m30 0h1m-221 1h1m37 0h1m149 0h2m30 0h1m-221 1h1m37 0h1m149 0h2m30 0h1m-221 1h1m187 0h2m30 0h1m-221 1h1m187 0h2m30 0h1m-221 1h1m186 0h3m30 0h1m-221 1h1m37 0h1m148 0h3m30 0h1m-221 1h1m37 0h1m147 0h3m31 0h1m-183 1h1m147 0h3m30 0h2m-183 1h1m147 0h3m30 0h2m-183 1h1m147 0h2m31 0h2m-221 1h1m37 0h1m146 0h3m31 0h2m-221 1h1m37 0h1m146 0h3m31 0h2m-221 1h1m37 0h1m146 0h3m31 0h2m-221 1h1m37 0h1m146 0h3m31 0h2m-221 1h1m37 0h1m147 0h2m31 0h2m-221 1h1m37 0h1m147 0h2m31 0h2m-221 1h1m37 0h1m147 0h2m31 0h2m-221 1h1m37 0h1m147 0h2m31 0h2m-221 1h1m37 0h1m147 0h2m31 0h2m-221 1h1m37 0h1m147 0h2m31 0h2m-221 1h1m37 0h1m147 0h2m31 0h2m-221 1h1m185 0h2m31 0h2m-36 1h3m31 0h2m-220 1h1m183 0h2m32 0h2m-220 1h1m35 0h1m147 0h2m32 0h1m-219 1h1m182 0h2m33 0h1m-219 1h1m181 0h2m34 0h1m-219 1h1m181 0h2m34 0h1m-219 1h1m36 0h1m143 0h2m35 0h1m-219 1h1m36 0h1m142 0h2m36 0h1m-219 1h1m36 0h1m142 0h1m37 0h1m-219 1h1m36 0h1m141 0h1m38 0h1m-219 1h1m36 0h1m140 0h1m39 0h1m-219 1h1m36 0h1m140 0h1m39 0h1m-182 1h1m139 0h1m40 0h1m-43 1h1m41 0h1m-218 1h1m174 0h1m41 0h1m-218 1h1m36 0h1m136 0h1m42 0h1m-218 1h1m36 0h1m136 0h1m42 0h1m-218 1h1m36 0h1m135 0h1m43 0h1m-218 1h1m36 0h1m134 0h1m44 0h1m-218 1h1m171 0h1m44 0h1m-217 1h1m169 0h1m45 0h1m-217 1h1m36 0h1m178 0h1m-217 1h1m36 0h1m131 0h1m46 0h1m-217 1h1m167 0h1m47 0h1m-216 1h1m214 0h1m-216 1h1m36 0h1m128 0h1m48 0h1m-216 1h1m36 0h1m127 0h1m49 0h1m-215 1h1m35 0h1m127 0h1m49 0h1m-215 1h1m162 0h1m50 0h1m-215 1h1m36 0h1m176 0h1m-215 1h1m36 0h1m124 0h1m51 0h2m-215 1h1m212 0h2m-215 1h1m36 0h1m122 0h1m52 0h2m-215 1h1m36 0h1m121 0h1m53 0h2m-215 1h1m212 0h2m-215 1h1m37 0h1m119 0h1m54 0h2m-215 1h1m37 0h1m118 0h1m55 0h2m-215 1h1m212 0h1m-213 1h1m37 0h1m116 0h1m56 0h1m-213 1h1m37 0h1m115 0h1m57 0h1m-213 1h1m38 0h1m113 0h1m58 0h1m-213 1h2m37 0h1m113 0h1m58 0h1m-212 1h1m37 0h1m112 0h1m59 0h1m-212 1h2m37 0h1m110 0h1m-150 1h1m37 0h1m110 0h1m59 0h1m-210 1h2m37 0h1m108 0h1m60 0h1m-209 1h1m37 0h1m107 0h2m-148 1h2m37 0h1m106 0h1m60 0h1m-207 1h1m37 0h2m104 0h2m60 0h1m-206 1h1m37 0h1m104 0h1m-144 1h1m37 0h2m102 0h2m-143 1h1m37 0h2m101 0h1m61 0h1m-204 1h2m37 0h2m99 0h2m-141 1h1m38 0h2m97 0h2m-139 1h1m37 0h3m96 0h1m62 0h1m-201 1h2m37 0h3m94 0h2m-137 1h1m38 0h4m91 0h2m62 0h1m-198 1h1m38 0h11m82 0h3m-135 1h2m38 0h12m80 0h2m62 0h1m-196 1h1m40 0h12m77 0h3m-133 1h2m40 0h13m74 0h3m62 0h1m-194 1h1m42 0h13m71 0h3m-130 1h2m42 0h13m69 0h3m63 0h1m-192 1h1m45 0h12m66 0h4m-128 1h2m52 0h7m61 0h4m-125 1h1m55 0h6m57 0h5m64 0h1m-189 1h2m57 0h6m51 0h6m65 0h1m-187 1h2m60 0h7m43 0h7m-118 1h1m65 0h7m33 0h9m-114 1h1m69 0h9m21 0h10m72 0h1m-182 1h2m74 0h28m76 0h1m-180 1h2m84 0h8m-93 1h1m0 1h1m0 1h1m-1 1h2m169 0h1m-171 1h2m167 0h1m-169 1h1m166 0h1m-167 1h2m163 0h1m-165 1h2m160 0h1m-162 1h2m158 0h1m-159 1h2m154 0h1m-155 1h2m150 0h2m-153 1h3m147 0h2m-150 1h2m144 0h2m-147 1h3m140 0h2m-143 1h2m136 0h4m-141 1h3m131 0h5m-137 1h2m124 0h9m-133 1h3m119 0h9m-129 1h3m116 0h6m-122 1h2m113 0h4m-117 1h2m110 0h3m-113 1h1m108 0h3m-111 1h2m105 0h3m-109 1h1m104 0h3m-107 1h1m102 0h2m-104 1h1m100 0h2m-102 1h1m98 0h2m-101 1h1m97 0h2m-99 1h1m94 0h3m-97 1h1m92 0h2m-94 1h1m89 0h2m-90 1h1m85 0h2m-5 1h3m-82 1h1m75 0h3m-76 1h1m69 0h2m-69 1h1m63 0h2m-62 1h1m56 0h2m-5 1h1m-47 1h1m41 0h1m-37 1h1m29 0h2m-23 1h4m6 0h4"/>
<path stroke="#31ff00" d="M0 .5m226 102h9m-12 1h3m9 0h4m-18 1h2m16 0h3m-22 1h2m20 0h3m-26 1h2m23 0h3m-29 1h2m26 0h3m-32 1h2m29 0h3m-34 1h2m31 0h3m-36 1h2m33 0h3m-39 1h2m35 0h4m-41 1h2m37 0h3m-42 1h3m36 0h4m-43 1h3m36 0h4m-43 1h3m36 0h3m-42 1h4m33 0h4m-40 1h4m31 0h3m-37 1h4m28 0h3m-33 1h4m24 0h4m-30 1h3m20 0h5m-25 1h3m11 0h8m-20 1h16m-38 1h3m-5 1h4m-4 1h3m-3 1h1m81 0h4m-7 1h10m-12 1h5m7 0h2m-14 1h3m10 0h3m-17 1h3m13 0h2m-18 1h2m15 0h2m-20 1h3m16 0h2m-21 1h3m17 0h2m-21 1h2m17 0h3m-22 1h2m18 0h2m-22 1h2m18 0h3m-22 1h2m18 0h2m-21 1h2m17 0h3m-21 1h2m16 0h3m-20 1h2m15 0h3m-19 1h3m13 0h3m-17 1h3m10 0h4m-15 1h4m6 0h4m-11 1h10m-6 1h5m40 11h7m-10 1h13m-14 1h15m-16 1h4m8 0h5m-17 1h3m11 0h5m-20 1h3m14 0h4m-21 1h2m16 0h4m-22 1h2m18 0h3m-184 1h2m159 0h1m20 0h3m-190 1h11m155 0h1m22 0h2m-194 1h15m154 0h1m23 0h2m-197 1h6m5 0h7m153 0h1m24 0h2m-199 1h3m12 0h5m152 0h1m25 0h2m-202 1h3m15 0h4m152 0h1m26 0h1m-203 1h3m17 0h4m152 0h1m26 0h1m-205 1h2m20 0h4m151 0h1m26 0h2m-207 1h2m22 0h3m151 0h1m27 0h1m-207 1h1m24 0h3m150 0h1m28 0h1m-209 1h1m26 0h3m150 0h1m27 0h2m-211 1h2m28 0h2m149 0h1m28 0h1m-211 1h1m30 0h1m178 0h2m-213 1h2m30 0h2m149 0h1m28 0h1m-213 1h1m32 0h1m149 0h1m28 0h2m-214 1h1m33 0h1m178 0h1m-215 1h2m33 0h1m149 0h1m28 0h2m-216 1h1m34 0h1m149 0h1m29 0h1m-216 1h1m34 0h1m150 0h1m28 0h2m-217 1h1m34 0h1m150 0h1m28 0h2m-217 1h1m185 0h1m29 0h1m-30 1h1m28 0h2m-219 1h1m187 0h1m28 0h2m-219 1h1m187 0h1m28 0h2m-219 1h1m187 0h1m28 0h2m-219 1h1m187 0h2m27 0h2m-219 1h1m188 0h1m27 0h2m-219 1h1m188 0h1m27 0h2m-219 1h1m188 0h1m27 0h2m-219 1h1m188 0h1m27 0h2m-219 1h1m36 0h1m151 0h2m26 0h2m-182 1h1m151 0h2m26 0h2m-182 1h1m151 0h2m26 0h2m-30 1h2m26 0h2m-31 1h3m26 0h2m-220 1h1m188 0h3m26 0h1m-219 1h1m188 0h3m26 0h1m-219 1h1m187 0h4m26 0h1m-182 1h1m150 0h4m26 0h1m-182 1h1m150 0h4m26 0h1m-182 1h1m150 0h4m26 0h1m-182 1h1m150 0h4m26 0h1m-218 1h1m35 0h1m150 0h4m26 0h1m-218 1h1m35 0h1m150 0h4m26 0h1m-218 1h1m35 0h1m150 0h4m26 0h1m-218 1h1m35 0h1m150 0h4m26 0h1m-218 1h1m35 0h1m150 0h4m26 0h1m-218 1h1m35 0h1m150 0h4m26 0h1m-218 1h1m35 0h1m150 0h3m27 0h1m-218 1h1m35 0h1m150 0h3m27 0h1m-218 1h1m35 0h1m150 0h2m28 0h1m-182 1h1m149 0h3m28 0h1m-217 1h1m184 0h2m29 0h1m-217 1h1m34 0h1m148 0h2m30 0h1m-217 1h1m34 0h1m147 0h3m30 0h1m-217 1h1m34 0h1m147 0h2m31 0h1m-217 1h1m34 0h1m146 0h2m32 0h1m-217 1h1m34 0h1m145 0h2m33 0h1m-217 1h1m34 0h1m144 0h2m34 0h1m-217 1h1m34 0h1m143 0h2m35 0h1m-217 1h1m34 0h1m142 0h2m36 0h1m-217 1h1m34 0h1m142 0h1m37 0h1m-217 1h1m176 0h1m38 0h1m-217 1h1m35 0h1m139 0h2m38 0h1m-181 1h1m139 0h1m39 0h1m-216 1h1m34 0h1m138 0h1m40 0h1m-216 1h1m34 0h1m138 0h1m40 0h1m-216 1h1m172 0h1m41 0h1m-216 1h1m171 0h1m42 0h1m-216 1h1m35 0h1m135 0h1m42 0h1m-180 1h1m134 0h1m43 0h1m-215 1h1m34 0h1m133 0h1m44 0h1m-215 1h1m168 0h1m44 0h1m-215 1h1m35 0h1m131 0h1m45 0h1m-214 1h1m34 0h1m130 0h1m46 0h1m-214 1h1m34 0h1m130 0h1m46 0h1m-214 1h1m164 0h1m47 0h1m-213 1h1m211 0h1m-213 1h1m34 0h1m127 0h1m48 0h1m-213 1h1m34 0h1m126 0h1m49 0h1m-213 1h1m161 0h1m49 0h1m-212 1h1m34 0h1m124 0h1m50 0h1m-212 1h1m34 0h1m175 0h1m-212 1h1m34 0h1m123 0h1m51 0h1m-212 1h1m35 0h1m121 0h1m52 0h1m-212 1h1m35 0h1m174 0h1m-212 1h1m35 0h1m120 0h1m53 0h1m-212 1h2m35 0h1m118 0h1m54 0h1m-211 1h1m35 0h1m118 0h1m54 0h1m-211 1h1m35 0h1m117 0h1m55 0h1m-211 1h2m35 0h1m115 0h1m56 0h1m-210 1h1m35 0h1m115 0h1m56 0h1m-210 1h2m149 0h1m57 0h1m-209 1h1m35 0h1m112 0h2m57 0h1m-209 1h2m34 0h1m112 0h1m57 0h1m-207 1h1m35 0h1m110 0h2m57 0h1m-207 1h2m34 0h1m110 0h1m58 0h1m-206 1h1m35 0h1m108 0h2m-147 1h2m34 0h1m108 0h1m-145 1h1m35 0h1m106 0h2m58 0h1m-204 1h2m34 0h1m106 0h1m59 0h1m-203 1h2m34 0h1m104 0h2m-142 1h1m34 0h2m103 0h1m59 0h1m-201 1h2m34 0h2m101 0h2m59 0h1m-200 1h2m34 0h1m100 0h2m-138 1h1m35 0h1m99 0h2m59 0h1m-198 1h2m34 0h2m97 0h2m-136 1h2m34 0h2m96 0h2m59 0h1m-195 1h1m35 0h2m94 0h2m-134 1h2m35 0h3m92 0h2m-133 1h1m36 0h3m90 0h2m-132 1h2m36 0h4m87 0h3m59 0h1m-191 1h1m38 0h3m85 0h3m-130 1h2m38 0h5m82 0h3m59 0h1m-189 1h1m40 0h11m72 0h4m59 0h1m-188 1h2m41 0h12m68 0h4m-126 1h2m42 0h13m63 0h5m-124 1h1m47 0h12m57 0h5m61 0h1m-184 1h2m55 0h8m49 0h6m62 0h1m-182 1h2m60 0h7m40 0h8m-115 1h1m64 0h9m28 0h10m-111 1h1m70 0h13m8 0h16m68 0h1m-177 1h2m76 0h24m73 0h1m-175 1h2m171 0h1m-173 1h2m169 0h1m-171 1h1m0 1h1m165 0h1m-167 1h2m163 0h1m-164 1h2m159 0h2m-162 1h2m157 0h1m-159 1h3m153 0h2m-156 1h3m149 0h2m-152 1h2m146 0h2m-148 1h2m141 0h4m-146 1h3m125 0h4m7 0h5m-142 1h2m123 0h15m-139 1h3m120 0h13m-134 1h2m118 0h11m-130 1h3m116 0h5m-121 1h3m112 0h4m-117 1h3m110 0h3m-114 1h3m107 0h3m-111 1h2m105 0h3m-109 1h2m103 0h3m-106 1h1m101 0h3m-105 1h2m98 0h4m-103 1h1m83 0h4m10 0h4m-101 1h1m81 0h9m3 0h6m-99 1h1m79 0h18m-98 1h1m79 0h17m-96 1h1m78 0h15m-93 1h1m77 0h14m-91 1h1m76 0h12m-12 1h10m-84 1h1m72 0h8m-78 1h1m69 0h5m-72 1h1m65 0h3m-66 1h1m60 0h2m-59 1h1m53 0h2m-53 1h1m47 0h2m-45 1h1m38 0h2m-35 1h2m26 0h1m-17 1h6"/>
<path stroke="#46ff00" d="M0 .5m226 103h9m-12 1h3m9 0h4m-17 1h2m15 0h3m-21 1h1m19 0h3m-24 1h2m21 0h3m-27 1h2m24 0h3m-29 1h2m26 0h3m-31 1h1m29 0h3m-34 1h2m30 0h3m-35 1h2m31 0h4m-36 1h2m31 0h3m-36 1h2m31 0h3m-36 1h3m29 0h4m-35 1h3m27 0h3m-32 1h3m24 0h4m-30 1h3m20 0h5m-26 1h2m14 0h8m-23 1h4m7 0h9m-17 1h11m46 7h7m-9 1h10m-11 1h3m7 0h3m-14 1h3m10 0h2m-15 1h3m11 0h2m-16 1h2m13 0h2m-17 1h2m13 0h2m-17 1h2m14 0h2m-18 1h3m13 0h2m-17 1h3m12 0h3m-17 1h2m12 0h3m-16 1h3m10 0h3m-15 1h3m8 0h4m-13 1h3m5 0h5m-11 1h10m-7 1h6m41 16h8m-9 1h11m-12 1h4m4 0h6m-15 1h3m8 0h5m-16 1h2m11 0h5m-19 1h2m14 0h4m-20 1h2m16 0h4m-22 1h2m18 0h3m-189 1h5m161 0h1m20 0h3m-194 1h12m158 0h1m22 0h2m-197 1h15m157 0h1m23 0h2m-199 1h4m8 0h5m157 0h1m23 0h2m-202 1h3m13 0h4m156 0h1m24 0h1m-203 1h3m16 0h3m155 0h1m24 0h2m-205 1h2m19 0h3m154 0h1m25 0h2m-207 1h2m22 0h2m180 0h1m-207 1h1m24 0h3m152 0h1m25 0h2m-209 1h2m25 0h3m151 0h1m26 0h1m-209 1h1m28 0h1m178 0h2m-211 1h1m30 0h1m151 0h1m25 0h2m-211 1h1m30 0h2m150 0h1m26 0h2m-212 1h1m31 0h1m151 0h1m25 0h2m-213 1h1m32 0h1m151 0h1m26 0h2m-214 1h1m32 0h1m178 0h2m-214 1h1m185 0h1m25 0h2m-214 1h1m33 0h1m151 0h1m26 0h2m-216 1h1m34 0h1m152 0h1m25 0h2m-216 1h1m34 0h1m152 0h1m25 0h2m-216 1h1m34 0h1m152 0h1m25 0h2m-216 1h1m34 0h1m152 0h2m24 0h2m-216 1h1m34 0h1m153 0h1m24 0h2m-216 1h1m34 0h1m153 0h1m24 0h2m-216 1h1m34 0h1m153 0h1m24 0h2m-216 1h1m34 0h1m153 0h2m23 0h2m-216 1h1m34 0h1m153 0h2m23 0h2m-181 1h1m154 0h1m23 0h2m-217 1h1m35 0h1m154 0h1m23 0h2m-217 1h1m35 0h1m154 0h1m23 0h2m-217 1h1m35 0h1m154 0h1m23 0h2m-217 1h1m35 0h1m154 0h2m22 0h2m-217 1h1m35 0h1m154 0h2m22 0h2m-217 1h1m35 0h1m154 0h2m22 0h2m-217 1h1m35 0h1m154 0h2m22 0h2m-217 1h1m190 0h2m22 0h2m-217 1h1m34 0h1m155 0h2m22 0h2m-217 1h1m34 0h1m155 0h2m22 0h2m-217 1h1m34 0h1m155 0h2m22 0h2m-182 1h1m155 0h2m22 0h2m-216 1h1m33 0h1m155 0h2m22 0h2m-216 1h1m33 0h1m155 0h2m22 0h2m-216 1h1m33 0h1m155 0h2m22 0h2m-216 1h1m33 0h1m155 0h2m22 0h2m-216 1h1m33 0h1m155 0h2m22 0h2m-216 1h1m33 0h1m154 0h3m22 0h2m-216 1h1m33 0h1m154 0h3m22 0h2m-216 1h1m33 0h1m153 0h3m23 0h2m-216 1h1m33 0h1m153 0h2m24 0h2m-182 1h1m152 0h3m24 0h2m-182 1h1m151 0h3m25 0h2m-215 1h1m32 0h1m151 0h2m26 0h2m-215 1h1m32 0h1m150 0h2m27 0h2m-215 1h1m32 0h1m149 0h2m28 0h2m-215 1h1m32 0h1m148 0h2m29 0h2m-215 1h1m32 0h1m147 0h2m30 0h2m-215 1h1m32 0h1m146 0h2m31 0h2m-215 1h1m32 0h1m145 0h2m32 0h2m-215 1h1m177 0h2m33 0h2m-215 1h1m33 0h1m142 0h2m34 0h2m-215 1h1m33 0h1m142 0h1m35 0h2m-215 1h1m33 0h1m141 0h1m36 0h2m-181 1h1m140 0h1m37 0h2m-214 1h1m173 0h1m37 0h2m-214 1h1m33 0h1m138 0h1m38 0h2m-214 1h1m33 0h1m137 0h1m40 0h1m-214 1h1m33 0h1m137 0h1m40 0h1m-214 1h1m33 0h1m136 0h1m41 0h1m-213 1h1m168 0h1m42 0h1m-213 1h1m33 0h1m134 0h1m42 0h1m-213 1h1m33 0h1m133 0h1m43 0h1m-212 1h1m32 0h1m132 0h1m44 0h1m-212 1h1m165 0h1m44 0h1m-212 1h1m33 0h1m130 0h1m45 0h1m-211 1h1m32 0h1m129 0h1m46 0h1m-211 1h1m32 0h1m129 0h1m46 0h1m-211 1h1m161 0h1m47 0h1m-211 1h2m32 0h1m175 0h1m-210 1h1m32 0h1m126 0h1m48 0h1m-210 1h1m32 0h1m125 0h1m49 0h1m-210 1h1m208 0h1m-210 1h1m33 0h1m123 0h1m50 0h1m-210 1h2m32 0h1m122 0h1m51 0h1m-210 1h2m155 0h1m51 0h1m-209 1h1m33 0h1m120 0h1m52 0h1m-209 1h1m33 0h1m173 0h1m-209 1h2m152 0h1m53 0h1m-208 1h1m33 0h1m117 0h1m54 0h1m-208 1h2m32 0h1m117 0h1m54 0h1m-207 1h1m33 0h1m115 0h1m55 0h1m-207 1h2m32 0h1m115 0h1m55 0h1m-206 1h1m32 0h1m114 0h1m55 0h1m-205 1h2m32 0h1m113 0h1m55 0h1m-204 1h1m32 0h1m112 0h2m55 0h1m-204 1h2m32 0h1m111 0h1m56 0h1m-203 1h1m32 0h1m110 0h2m56 0h1m-203 1h2m31 0h2m109 0h1m-144 1h1m32 0h1m108 0h2m56 0h1m-200 1h1m31 0h2m107 0h1m57 0h1m-200 1h2m31 0h1m106 0h2m-141 1h1m32 0h1m105 0h1m57 0h1m-197 1h1m31 0h2m103 0h2m57 0h1m-197 1h2m31 0h2m102 0h1m-137 1h1m32 0h1m101 0h2m57 0h1m-194 1h1m32 0h1m100 0h2m-136 1h2m32 0h1m98 0h2m-134 1h1m32 0h2m97 0h2m57 0h1m-192 1h2m32 0h2m95 0h3m-133 1h1m33 0h2m94 0h2m-132 1h2m33 0h3m91 0h3m56 0h1m-188 1h1m35 0h2m90 0h2m-130 1h2m35 0h3m87 0h2m-128 1h2m35 0h4m84 0h3m56 0h1m-184 1h1m37 0h4m81 0h3m56 0h1m-183 1h2m38 0h7m74 0h3m-123 1h2m40 0h13m63 0h4m-121 1h2m43 0h15m55 0h5m58 0h1m-178 1h2m55 0h7m47 0h6m59 0h1m-176 1h2m60 0h8m37 0h6m61 0h1m-174 1h2m66 0h8m24 0h9m63 0h1m-172 1h2m71 0h31m66 0h1m-170 1h1m79 0h17m71 0h1m-169 1h2m165 0h1m-167 1h2m162 0h1m-164 1h3m159 0h1m-161 1h2m156 0h1m-158 1h3m151 0h3m-155 1h3m127 0h4m16 0h3m-151 1h3m124 0h7m11 0h4m-148 1h3m122 0h12m3 0h6m-144 1h3m120 0h18m-139 1h2m118 0h5m4 0h7m-135 1h3m116 0h4m-121 1h3m90 0h2m22 0h3m-119 1h4m86 0h6m19 0h3m-116 1h4m83 0h9m17 0h3m-113 1h3m81 0h10m15 0h3m-110 1h2m80 0h12m12 0h4m-108 1h2m78 0h13m10 0h4m-106 1h2m77 0h15m7 0h4m-104 1h1m77 0h25m-102 1h1m76 0h24m-100 1h1m75 0h22m-98 1h1m75 0h7m4 0h10m-96 1h1m74 0h6m9 0h3m-92 1h1m73 0h5m-79 1h1m73 0h5m-78 1h1m72 0h5m-5 1h5m-76 1h1m70 0h5m-75 1h1m69 0h5m-73 1h1m67 0h4m-69 1h1m64 0h4m-66 1h1m61 0h3m-62 1h1m57 0h2m-4 1h1m-50 1h1m45 0h1m-42 1h1m36 0h1m-31 1h1m23 0h2"/>
<path stroke="#5cff00" d="M0 .5m226 104h9m-11 1h3m8 0h4m-17 1h3m13 0h3m-19 1h1m17 0h3m-22 1h2m19 0h3m-24 1h1m22 0h3m-27 1h2m23 0h4m-29 1h2m24 0h4m-30 1h2m25 0h4m-30 1h2m25 0h4m-31 1h2m24 0h5m-30 1h2m22 0h5m-28 1h2m18 0h7m-26 1h2m14 0h8m-23 1h3m9 0h8m-19 1h4m3 0h7m-11 1h7m49 10h7m-8 1h10m-10 1h3m5 0h3m-12 1h3m7 0h3m-13 1h3m8 0h2m-13 1h3m8 0h3m-13 1h3m7 0h3m-12 1h3m6 0h3m-12 1h4m4 0h4m-10 1h10m-9 1h8m-6 1h5m46 20h4m-6 1h8m-9 1h11m-12 1h3m6 0h5m-14 1h2m9 0h5m-16 1h1m12 0h5m-19 1h2m14 0h4m-20 1h1m17 0h4m-22 1h1m19 0h3m-193 1h8m183 0h3m-197 1h13m161 0h1m20 0h3m-199 1h3m8 0h5m159 0h1m21 0h2m-201 1h3m12 0h4m158 0h1m22 0h2m-203 1h2m16 0h4m156 0h1m22 0h3m-205 1h2m19 0h3m156 0h1m22 0h2m-205 1h1m22 0h2m155 0h1m22 0h3m-207 1h1m24 0h3m153 0h1m23 0h2m-208 1h2m26 0h2m153 0h1m22 0h2m-208 1h1m28 0h1m153 0h1m23 0h2m-209 1h1m29 0h1m176 0h2m-210 1h1m30 0h1m153 0h1m22 0h3m-211 1h1m184 0h1m23 0h2m-211 1h1m31 0h1m153 0h1m22 0h2m-211 1h1m31 0h1m153 0h1m22 0h3m-213 1h1m32 0h1m154 0h1m22 0h2m-213 1h1m32 0h1m154 0h1m22 0h2m-213 1h1m32 0h1m154 0h1m22 0h2m-213 1h1m32 0h1m155 0h1m21 0h2m-213 1h1m32 0h1m155 0h1m21 0h2m-213 1h1m32 0h1m155 0h1m22 0h1m-213 1h1m32 0h1m155 0h2m21 0h1m-213 1h1m32 0h1m156 0h1m21 0h1m-180 1h1m156 0h1m21 0h1m-214 1h1m33 0h1m156 0h1m21 0h1m-214 1h1m33 0h1m156 0h1m21 0h1m-214 1h1m33 0h1m156 0h2m20 0h1m-214 1h1m33 0h1m156 0h2m20 0h1m-214 1h1m33 0h1m157 0h1m20 0h1m-214 1h1m33 0h1m157 0h1m20 0h1m-214 1h1m33 0h1m157 0h1m20 0h1m-214 1h1m33 0h1m157 0h1m20 0h1m-214 1h1m33 0h1m157 0h1m20 0h1m-214 1h1m32 0h1m158 0h2m19 0h1m-214 1h1m32 0h1m158 0h2m19 0h1m-214 1h1m32 0h1m158 0h2m19 0h1m-214 1h1m32 0h1m158 0h2m19 0h1m-181 1h1m158 0h2m19 0h1m-213 1h1m31 0h1m158 0h2m19 0h1m-213 1h1m31 0h1m158 0h2m19 0h1m-213 1h1m31 0h1m158 0h2m19 0h1m-213 1h1m31 0h1m158 0h2m19 0h1m-213 1h1m31 0h1m158 0h2m19 0h1m-213 1h1m31 0h1m158 0h1m20 0h1m-213 1h1m31 0h1m157 0h2m20 0h1m-213 1h1m31 0h1m156 0h3m20 0h1m-213 1h1m31 0h1m156 0h2m21 0h1m-213 1h1m31 0h1m155 0h2m22 0h1m-181 1h1m154 0h2m23 0h1m-181 1h1m153 0h2m24 0h1m-212 1h1m30 0h1m152 0h2m25 0h1m-212 1h1m30 0h1m151 0h2m26 0h1m-212 1h1m30 0h1m150 0h2m27 0h1m-212 1h1m30 0h1m149 0h2m28 0h1m-212 1h1m179 0h1m30 0h1m-212 1h1m31 0h1m146 0h1m31 0h1m-212 1h1m31 0h1m145 0h1m32 0h1m-212 1h1m31 0h1m144 0h1m33 0h1m-212 1h1m31 0h1m143 0h1m34 0h1m-212 1h1m174 0h2m34 0h1m-179 1h1m141 0h1m35 0h1m-211 1h1m31 0h1m140 0h1m36 0h1m-211 1h1m31 0h1m139 0h1m37 0h2m-212 1h1m171 0h1m37 0h2m-212 1h1m170 0h1m38 0h2m-211 1h1m31 0h1m136 0h1m39 0h2m-211 1h1m31 0h1m136 0h1m39 0h2m-211 1h1m31 0h1m135 0h1m40 0h2m-210 1h1m165 0h2m41 0h1m-210 1h1m31 0h1m133 0h1m42 0h1m-210 1h1m31 0h1m132 0h1m43 0h1m-209 1h1m30 0h1m131 0h1m44 0h1m-209 1h1m162 0h1m44 0h1m-209 1h1m31 0h1m129 0h1m45 0h1m-208 1h1m30 0h1m128 0h1m46 0h1m-208 1h1m30 0h1m128 0h1m46 0h1m-208 1h1m158 0h1m47 0h1m-208 1h2m30 0h1m125 0h1m48 0h1m-208 1h2m30 0h1m125 0h1m48 0h1m-207 1h1m155 0h1m49 0h1m-207 1h1m31 0h1m123 0h1m49 0h1m-207 1h2m30 0h1m122 0h1m50 0h1m-207 1h2m152 0h2m50 0h1m-206 1h2m30 0h1m120 0h1m51 0h1m-206 1h2m30 0h1m119 0h2m51 0h1m-205 1h2m149 0h1m52 0h1m-205 1h2m30 0h1m117 0h2m51 0h2m-204 1h2m29 0h1m117 0h1m52 0h2m-204 1h2m146 0h2m52 0h1m-202 1h2m29 0h1m115 0h2m52 0h1m-202 1h2m29 0h1m115 0h1m53 0h1m-201 1h1m30 0h1m113 0h2m53 0h1m-201 1h2m29 0h1m113 0h1m54 0h1m-200 1h1m29 0h1m112 0h2m54 0h1m-200 1h2m29 0h1m111 0h1m54 0h1m-198 1h2m28 0h1m110 0h2m54 0h1m-197 1h1m29 0h1m109 0h1m55 0h1m-197 1h2m28 0h2m107 0h2m-140 1h2m28 0h1m107 0h1m55 0h1m-194 1h1m29 0h1m105 0h2m55 0h1m-194 1h2m28 0h2m104 0h2m-137 1h1m29 0h2m103 0h1m55 0h1m-191 1h1m29 0h2m101 0h2m55 0h1m-191 1h2m29 0h1m101 0h2m-134 1h1m30 0h1m100 0h2m54 0h1m-189 1h2m30 0h1m98 0h2m54 0h1m-187 1h1m31 0h1m97 0h2m-132 1h2m31 0h2m94 0h2m54 0h1m-185 1h2m31 0h2m92 0h3m53 0h1m-183 1h1m32 0h2m91 0h2m-128 1h2m33 0h2m88 0h2m-126 1h2m33 0h3m84 0h3m54 0h1m-179 1h2m34 0h4m80 0h3m54 0h1m-177 1h2m35 0h6m75 0h3m54 0h1m-175 1h2m37 0h16m60 0h3m55 0h1m-173 1h2m50 0h8m51 0h4m-114 1h2m57 0h7m41 0h5m57 0h1m-169 1h1m63 0h7m31 0h7m58 0h1m-168 1h2m69 0h8m17 0h9m61 0h1m-166 1h2m74 0h23m64 0h2m-164 1h3m158 0h1m-160 1h2m154 0h3m-158 1h3m126 0h6m18 0h3m-154 1h3m123 0h10m11 0h4m-149 1h3m120 0h4m4 0h7m2 0h7m-145 1h3m118 0h3m7 0h11m-141 1h3m97 0h4m15 0h3m12 0h3m-135 1h3m91 0h10m13 0h3m-119 1h3m88 0h12m12 0h3m-116 1h3m84 0h15m11 0h3m-114 1h4m80 0h6m2 0h9m9 0h4m-112 1h3m78 0h5m6 0h8m8 0h3m-109 1h3m75 0h5m9 0h8m5 0h4m-107 1h2m74 0h5m10 0h15m-105 1h2m74 0h4m12 0h12m-102 1h1m73 0h4m13 0h10m-100 1h1m72 0h4m15 0h7m-99 1h2m71 0h4m-76 1h1m71 0h4m-75 1h1m71 0h3m-75 1h2m70 0h3m-74 1h1m70 0h3m-73 1h1m69 0h3m-73 1h1m69 0h3m-72 1h1m68 0h3m-72 1h1m68 0h3m-2 1h2m-69 1h1m66 0h2m-67 1h1m64 0h2m-64 1h1m61 0h2m-61 1h1m57 0h3m-58 1h1m54 0h2m-54 1h1m49 0h2m-48 1h2m41 0h2m-40 1h2m32 0h2m-29 1h2m19 0h2"/>
<path stroke="#72ff00" d="M0 .5m227 105h8m-10 1h2m7 0h4m-15 1h3m11 0h3m-17 1h2m14 0h3m-20 1h2m16 0h4m-22 1h2m17 0h4m-23 1h2m18 0h4m-24 1h2m18 0h5m-24 1h1m18 0h6m-25 1h2m16 0h6m-23 1h2m13 0h7m-21 1h2m10 0h6m-17 1h3m5 0h6m-12 1h9m-7 1h3m54 13h5m-6 1h7m-7 1h8m-8 1h8m-7 1h7m-6 1h6m-5 1h4m47 26h6m-7 1h9m-10 1h2m6 0h4m-12 1h1m9 0h4m-15 1h2m11 0h4m-17 1h2m13 0h4m-19 1h2m14 0h4m-19 1h1m16 0h3m-193 1h8m165 0h1m17 0h3m-196 1h12m163 0h1m18 0h3m-199 1h4m7 0h5m161 0h1m19 0h2m-200 1h3m12 0h4m179 0h3m-202 1h2m16 0h4m158 0h1m19 0h2m-203 1h2m19 0h3m157 0h1m19 0h3m-204 1h1m22 0h3m156 0h1m19 0h2m-205 1h2m24 0h2m155 0h1m19 0h3m-206 1h1m26 0h2m154 0h1m20 0h2m-207 1h2m27 0h1m155 0h1m19 0h2m-207 1h1m29 0h1m154 0h1m19 0h3m-208 1h1m29 0h1m155 0h1m19 0h2m-208 1h1m29 0h1m155 0h1m19 0h2m-209 1h1m30 0h1m156 0h1m18 0h3m-210 1h1m30 0h1m156 0h1m19 0h2m-210 1h1m30 0h1m156 0h1m19 0h2m-210 1h1m188 0h1m18 0h2m-210 1h1m188 0h1m18 0h2m-210 1h1m188 0h2m18 0h2m-211 1h1m189 0h1m18 0h2m-211 1h1m189 0h1m18 0h2m-212 1h1m190 0h1m18 0h2m-212 1h1m31 0h1m158 0h2m17 0h2m-212 1h1m31 0h1m158 0h2m17 0h2m-212 1h1m31 0h1m159 0h1m17 0h2m-212 1h1m31 0h1m159 0h1m17 0h2m-212 1h1m31 0h1m159 0h1m17 0h2m-212 1h1m31 0h1m159 0h1m17 0h2m-212 1h1m31 0h1m159 0h1m17 0h2m-212 1h1m31 0h1m159 0h2m16 0h2m-212 1h1m31 0h1m159 0h2m16 0h2m-212 1h1m30 0h1m161 0h1m16 0h2m-212 1h1m30 0h1m161 0h1m16 0h2m-212 1h1m30 0h1m161 0h1m16 0h2m-212 1h1m30 0h1m161 0h1m16 0h2m-212 1h1m30 0h1m161 0h1m16 0h2m-181 1h1m161 0h1m16 0h2m-211 1h1m29 0h1m161 0h1m16 0h2m-211 1h1m29 0h1m161 0h1m16 0h2m-211 1h1m29 0h1m161 0h1m16 0h2m-211 1h1m29 0h1m161 0h1m16 0h2m-211 1h1m29 0h1m160 0h2m16 0h2m-211 1h1m29 0h1m160 0h2m16 0h2m-211 1h1m29 0h1m160 0h1m17 0h2m-211 1h1m29 0h1m159 0h2m17 0h2m-211 1h1m29 0h1m158 0h2m18 0h2m-211 1h1m29 0h1m157 0h3m18 0h2m-211 1h1m29 0h1m156 0h3m19 0h2m-181 1h1m155 0h2m21 0h2m-181 1h1m154 0h2m22 0h2m-210 1h1m28 0h1m153 0h2m23 0h2m-210 1h1m181 0h1m26 0h1m-210 1h1m29 0h1m149 0h2m27 0h1m-210 1h1m29 0h1m148 0h2m28 0h1m-210 1h1m29 0h1m147 0h2m29 0h1m-210 1h1m29 0h1m146 0h2m30 0h1m-210 1h1m175 0h2m31 0h1m-210 1h1m30 0h1m144 0h1m32 0h1m-210 1h1m30 0h1m143 0h1m33 0h1m-209 1h1m29 0h1m142 0h1m34 0h1m-209 1h1m29 0h1m141 0h2m34 0h1m-209 1h1m30 0h1m140 0h1m35 0h1m-209 1h1m30 0h1m139 0h1m36 0h1m-208 1h1m29 0h1m138 0h2m36 0h1m-208 1h1m29 0h1m138 0h1m37 0h1m-208 1h1m167 0h1m38 0h1m-207 1h1m29 0h1m136 0h1m38 0h2m-208 1h1m29 0h1m135 0h1m39 0h2m-208 1h2m28 0h1m134 0h1m40 0h2m-207 1h1m162 0h2m40 0h2m-207 1h1m29 0h1m132 0h1m42 0h1m-207 1h2m28 0h1m131 0h1m43 0h1m-206 1h1m28 0h1m130 0h2m43 0h1m-206 1h2m158 0h1m44 0h1m-206 1h2m28 0h1m128 0h1m45 0h1m-205 1h1m28 0h1m127 0h2m45 0h1m-205 1h2m27 0h1m127 0h1m46 0h1m-205 1h2m28 0h1m125 0h1m47 0h1m-205 1h2m28 0h1m125 0h1m47 0h1m-204 1h2m27 0h1m124 0h1m47 0h2m-204 1h2m28 0h1m123 0h1m47 0h2m-203 1h2m27 0h1m122 0h1m48 0h2m-203 1h2m27 0h1m122 0h1m48 0h2m-202 1h2m27 0h1m120 0h2m48 0h2m-202 1h2m27 0h1m120 0h1m49 0h1m-200 1h2m26 0h1m119 0h2m49 0h1m-200 1h2m27 0h1m118 0h2m49 0h1m-199 1h1m27 0h1m118 0h1m50 0h1m-199 1h2m26 0h1m117 0h2m50 0h1m-199 1h2m27 0h1m116 0h1m51 0h1m-198 1h1m27 0h1m115 0h2m51 0h1m-198 1h2m26 0h1m115 0h1m52 0h1m-197 1h1m27 0h1m113 0h2m-143 1h1m26 0h1m113 0h1m52 0h1m-195 1h2m26 0h1m111 0h2m52 0h1m-194 1h1m26 0h1m111 0h1m53 0h1m-193 1h1m26 0h1m109 0h2m-139 1h2m25 0h2m108 0h2m-138 1h1m26 0h1m108 0h1m53 0h1m-191 1h2m26 0h1m106 0h2m-136 1h1m27 0h1m105 0h2m-135 1h1m26 0h2m104 0h2m52 0h1m-188 1h2m26 0h2m103 0h1m-133 1h1m27 0h2m101 0h2m-133 1h2m27 0h2m100 0h2m51 0h1m-184 1h2m27 0h2m98 0h2m-130 1h1m28 0h2m97 0h2m-130 1h2m28 0h2m95 0h2m51 0h1m-180 1h2m28 0h3m92 0h2m51 0h1m-178 1h2m29 0h2m90 0h2m51 0h1m-176 1h2m29 0h3m87 0h2m-122 1h2m30 0h3m84 0h2m-120 1h2m31 0h4m79 0h3m-118 1h2m33 0h15m63 0h4m52 0h1m-169 1h2m36 0h19m53 0h4m52 0h1m-167 1h3m54 0h6m45 0h4m53 0h1m-165 1h3m60 0h6m34 0h6m53 0h2m-163 1h3m64 0h7m23 0h7m26 0h4m25 0h2m-159 1h3m69 0h26m27 0h10m20 0h3m-157 1h4m76 0h9m34 0h14m14 0h3m-152 1h5m116 0h5m6 0h5m7 0h6m-148 1h4m99 0h9m6 0h5m10 0h11m-142 1h4m94 0h13m5 0h4m15 0h2m-135 1h3m91 0h15m5 0h4m-117 1h4m86 0h7m4 0h8m3 0h4m-114 1h4m82 0h5m10 0h7m1 0h5m-113 1h5m79 0h4m12 0h12m-110 1h5m75 0h4m15 0h11m-107 1h3m73 0h4m17 0h9m-105 1h4m71 0h3m19 0h8m-103 1h3m70 0h2m22 0h5m-101 1h2m69 0h3m-73 1h2m69 0h3m-73 1h2m68 0h3m-72 1h2m67 0h3m-71 1h1m67 0h3m-71 1h2m67 0h2m-70 1h1m67 0h3m-70 1h1m66 0h3m-70 1h1m66 0h3m-69 1h1m66 0h2m-69 1h1m66 0h2m-68 1h1m65 0h2m-68 1h1m65 0h2m-67 1h1m64 0h3m-66 1h1m62 0h3m-64 1h1m60 0h3m-61 1h1m57 0h3m-58 1h1m54 0h2m-54 1h1m51 0h2m-51 1h2m45 0h2m-44 1h1m39 0h1m-36 1h1m30 0h1m-25 1h2m15 0h2"/>
<path stroke="#87ff00" d="M0 .5m227 106h7m-8 1h3m4 0h4m-12 1h2m8 0h4m-15 1h2m11 0h3m-16 1h2m12 0h3m-17 1h2m12 0h4m-18 1h2m12 0h4m-18 1h2m12 0h4m-17 1h2m9 0h5m-15 1h2m7 0h4m-12 1h10m-8 1h5m106 49h6m-7 1h9m-9 1h2m5 0h4m-11 1h1m8 0h4m-13 1h1m10 0h3m-14 1h1m11 0h4m-16 1h1m13 0h3m-17 1h1m14 0h3m-192 1h7m167 0h1m15 0h3m-195 1h12m164 0h1m15 0h3m-197 1h4m7 0h5m163 0h1m15 0h3m-199 1h3m11 0h5m161 0h1m16 0h2m-200 1h2m16 0h4m160 0h1m15 0h3m-201 1h1m20 0h3m158 0h1m16 0h2m-202 1h1m23 0h2m157 0h1m16 0h3m-203 1h1m24 0h2m157 0h1m15 0h3m-204 1h1m26 0h2m156 0h1m16 0h2m-204 1h1m27 0h1m157 0h1m15 0h3m-205 1h1m27 0h1m157 0h1m15 0h3m-206 1h1m28 0h1m158 0h1m15 0h2m-206 1h1m187 0h1m15 0h3m-207 1h1m187 0h2m15 0h2m-207 1h1m29 0h1m158 0h1m15 0h2m-207 1h1m29 0h1m158 0h1m15 0h2m-207 1h1m29 0h1m159 0h1m15 0h2m-208 1h1m29 0h1m159 0h1m15 0h2m-208 1h1m29 0h1m159 0h1m15 0h2m-209 1h1m30 0h1m159 0h2m14 0h2m-209 1h1m191 0h1m14 0h2m-209 1h1m191 0h1m14 0h2m-209 1h1m29 0h1m161 0h1m14 0h2m-209 1h1m29 0h1m161 0h1m14 0h2m-209 1h1m29 0h1m161 0h1m14 0h2m-209 1h1m29 0h1m161 0h2m13 0h2m-209 1h1m29 0h1m161 0h2m13 0h2m-209 1h1m29 0h1m162 0h1m13 0h2m-209 1h1m28 0h2m162 0h1m13 0h2m-209 1h1m28 0h1m163 0h1m13 0h2m-209 1h1m28 0h1m163 0h1m13 0h2m-209 1h1m28 0h1m163 0h1m13 0h2m-209 1h1m28 0h1m163 0h1m13 0h2m-209 1h1m28 0h1m163 0h2m12 0h2m-209 1h1m28 0h1m163 0h2m12 0h2m-208 1h1m27 0h1m163 0h2m12 0h2m-208 1h1m27 0h1m163 0h2m12 0h2m-208 1h1m27 0h1m163 0h2m12 0h2m-208 1h1m27 0h1m163 0h2m12 0h2m-208 1h1m27 0h1m163 0h2m12 0h2m-208 1h1m27 0h1m163 0h1m13 0h2m-208 1h1m27 0h1m162 0h2m13 0h2m-208 1h1m27 0h1m162 0h2m14 0h1m-208 1h1m27 0h1m161 0h2m15 0h1m-208 1h1m27 0h1m161 0h2m15 0h1m-208 1h1m27 0h1m160 0h2m16 0h1m-208 1h1m27 0h1m158 0h3m17 0h1m-208 1h1m27 0h1m157 0h2m19 0h1m-23 1h2m20 0h1m-207 1h1m27 0h1m153 0h2m22 0h2m-208 1h1m27 0h1m152 0h2m23 0h2m-208 1h1m27 0h1m151 0h2m24 0h2m-208 1h1m27 0h1m150 0h2m25 0h2m-208 1h1m177 0h1m27 0h2m-208 1h1m28 0h1m147 0h1m28 0h2m-208 1h1m28 0h1m146 0h1m29 0h2m-208 1h1m28 0h1m145 0h1m30 0h2m-207 1h1m27 0h1m144 0h2m30 0h2m-207 1h1m172 0h1m31 0h2m-207 1h1m28 0h1m142 0h1m32 0h2m-207 1h1m28 0h1m141 0h1m33 0h2m-206 1h1m27 0h1m141 0h1m34 0h1m-206 1h1m168 0h1m35 0h1m-206 1h1m28 0h1m138 0h1m36 0h1m-205 1h1m27 0h1m138 0h1m36 0h1m-205 1h1m27 0h1m137 0h1m37 0h1m-204 1h1m163 0h2m37 0h1m-204 1h1m27 0h1m135 0h1m38 0h1m-204 1h2m26 0h1m134 0h1m39 0h2m-204 1h1m26 0h1m133 0h2m39 0h2m-204 1h2m25 0h1m133 0h1m40 0h2m-203 1h1m26 0h1m131 0h2m40 0h2m-203 1h2m25 0h1m130 0h2m41 0h2m-203 1h2m25 0h1m130 0h1m42 0h2m-202 1h2m154 0h2m42 0h2m-202 1h2m25 0h1m127 0h2m43 0h2m-202 1h3m24 0h1m127 0h2m43 0h2m-201 1h2m151 0h2m44 0h1m-200 1h3m24 0h1m125 0h2m44 0h1m-199 1h2m24 0h1m124 0h2m45 0h1m-199 1h2m149 0h2m45 0h1m-198 1h2m24 0h1m123 0h1m46 0h1m-198 1h2m24 0h1m122 0h2m46 0h1m-197 1h1m147 0h2m46 0h1m-197 1h2m24 0h1m121 0h1m47 0h1m-197 1h2m24 0h1m120 0h2m47 0h1m-196 1h1m145 0h1m47 0h2m-196 1h2m24 0h1m118 0h2m47 0h2m-196 1h2m24 0h1m118 0h1m48 0h2m-195 1h1m142 0h2m48 0h2m-195 1h2m24 0h1m116 0h1m49 0h2m-194 1h2m23 0h1m115 0h2m49 0h1m-192 1h1m24 0h1m114 0h1m50 0h1m-192 1h2m23 0h1m113 0h2m50 0h1m-191 1h2m23 0h1m112 0h1m51 0h1m-190 1h1m23 0h1m112 0h1m51 0h1m-190 1h2m23 0h1m110 0h2m-137 1h1m23 0h2m109 0h2m50 0h1m-188 1h2m23 0h2m108 0h2m50 0h1m-187 1h1m24 0h1m108 0h1m-134 1h1m24 0h1m106 0h2m50 0h1m-185 1h2m24 0h1m105 0h2m49 0h1m-183 1h1m24 0h2m104 0h2m-132 1h1m24 0h2m102 0h2m49 0h1m-181 1h2m24 0h2m101 0h2m48 0h1m-179 1h2m24 0h2m99 0h2m48 0h1m-177 1h2m24 0h2m97 0h2m-126 1h2m24 0h3m94 0h3m-125 1h2m25 0h2m92 0h3m48 0h1m-172 1h2m25 0h3m89 0h3m48 0h1m-170 1h2m26 0h3m86 0h3m48 0h1m-168 1h2m27 0h4m82 0h4m46 0h2m-166 1h2m28 0h6m76 0h5m46 0h1m-163 1h3m29 0h22m55 0h7m12 0h4m28 0h2m-161 1h4m50 0h6m46 0h11m5 0h12m23 0h2m-158 1h5m54 0h5m37 0h26m4 0h5m17 0h3m-154 1h6m57 0h6m26 0h27m10 0h4m12 0h4m-150 1h6m61 0h9m9 0h34m14 0h14m-144 1h5m66 0h45m16 0h7m-138 1h5m85 0h9m9 0h6m-112 1h5m82 0h7m13 0h5m-111 1h6m79 0h6m15 0h5m-109 1h5m77 0h4m19 0h3m-106 1h5m74 0h3m22 0h1m-103 1h4m71 0h4m-77 1h3m69 0h3m-74 1h3m68 0h2m-71 1h2m66 0h3m-70 1h2m65 0h3m-70 1h2m65 0h2m-68 1h2m64 0h3m-68 1h1m65 0h2m-67 1h1m64 0h2m-67 1h2m63 0h2m-66 1h1m63 0h3m-67 1h1m64 0h2m-66 1h1m63 0h2m-66 1h1m63 0h2m-65 1h1m62 0h3m-66 1h1m63 0h2m-65 1h1m62 0h2m-65 1h1m62 0h2m-64 1h1m61 0h2m-62 1h1m59 0h2m-60 1h1m57 0h2m-57 1h1m54 0h2m-54 1h1m51 0h2m-51 1h1m48 0h2m-47 1h1m43 0h1m-41 1h1m36 0h2m-34 1h1m27 0h2m-22 1h4m7 0h4"/>
<path stroke="#9dff00" d="M0 .5m229 107h4m-6 1h8m-9 1h3m4 0h4m-11 1h2m6 0h4m-12 1h2m7 0h3m-12 1h2m6 0h4m-12 1h3m5 0h4m-11 1h9m-8 1h7m106 53h5m-6 1h8m-8 1h2m3 0h5m-10 1h1m6 0h4m-11 1h1m8 0h4m-13 1h1m9 0h4m-14 1h1m10 0h4m-15 1h1m11 0h3m-190 1h7m169 0h1m11 0h3m-193 1h11m167 0h1m12 0h3m-196 1h3m8 0h5m165 0h1m11 0h3m-197 1h2m12 0h6m162 0h1m12 0h3m-199 1h2m16 0h5m160 0h2m11 0h3m-199 1h1m20 0h3m160 0h1m12 0h2m-200 1h2m22 0h2m159 0h2m11 0h3m-201 1h1m24 0h2m159 0h1m11 0h3m-201 1h1m25 0h1m159 0h2m11 0h2m-202 1h2m25 0h1m160 0h1m11 0h3m-203 1h1m27 0h1m159 0h2m11 0h2m-203 1h1m27 0h1m160 0h1m11 0h3m-204 1h1m27 0h1m160 0h2m10 0h3m-204 1h1m27 0h1m160 0h2m11 0h2m-204 1h1m27 0h1m161 0h1m11 0h3m-205 1h1m27 0h1m161 0h1m11 0h3m-205 1h1m27 0h1m161 0h2m11 0h2m-206 1h2m27 0h1m162 0h1m11 0h2m-206 1h1m28 0h1m162 0h1m11 0h2m-206 1h1m28 0h1m162 0h1m11 0h2m-206 1h1m27 0h1m163 0h1m11 0h2m-206 1h1m27 0h1m163 0h2m10 0h2m-206 1h1m27 0h1m163 0h2m10 0h2m-206 1h1m27 0h1m164 0h1m10 0h2m-206 1h1m27 0h1m164 0h1m10 0h2m-206 1h1m26 0h2m164 0h1m10 0h2m-206 1h1m26 0h1m165 0h1m10 0h2m-206 1h1m26 0h1m165 0h2m9 0h2m-206 1h1m26 0h1m165 0h2m9 0h2m-206 1h1m26 0h1m165 0h2m9 0h2m-206 1h1m25 0h2m165 0h2m9 0h2m-206 1h1m25 0h2m166 0h1m9 0h2m-206 1h1m25 0h2m166 0h1m9 0h2m-205 1h1m24 0h2m166 0h1m9 0h2m-205 1h1m24 0h2m166 0h1m9 0h2m-205 1h1m24 0h2m166 0h1m9 0h2m-205 1h1m24 0h2m166 0h1m9 0h2m-205 1h1m24 0h2m166 0h1m9 0h2m-205 1h1m25 0h1m165 0h2m9 0h2m-205 1h1m25 0h1m165 0h2m9 0h2m-205 1h1m25 0h1m165 0h2m9 0h3m-206 1h1m25 0h1m164 0h2m10 0h3m-206 1h1m25 0h1m164 0h2m10 0h3m-206 1h1m25 0h1m163 0h2m11 0h3m-206 1h1m25 0h1m162 0h3m12 0h2m-206 1h1m25 0h1m160 0h3m14 0h2m-206 1h1m26 0h1m158 0h3m15 0h2m-179 1h1m156 0h3m17 0h2m-205 1h1m25 0h1m155 0h2m19 0h2m-205 1h1m25 0h1m154 0h2m20 0h2m-205 1h1m25 0h1m153 0h1m22 0h2m-205 1h1m26 0h1m150 0h2m23 0h2m-205 1h1m26 0h1m149 0h2m24 0h2m-205 1h1m26 0h1m148 0h2m26 0h1m-205 1h1m26 0h1m147 0h2m27 0h1m-204 1h1m173 0h1m28 0h1m-204 1h1m26 0h1m145 0h1m29 0h1m-204 1h1m26 0h1m144 0h1m30 0h1m-204 1h2m25 0h1m143 0h2m30 0h1m-203 1h1m25 0h1m143 0h1m31 0h2m-204 1h1m26 0h1m141 0h1m32 0h2m-204 1h2m25 0h1m140 0h2m32 0h2m-203 1h1m25 0h1m140 0h1m33 0h2m-203 1h2m24 0h1m139 0h1m35 0h1m-202 1h2m24 0h1m138 0h1m35 0h1m-202 1h2m24 0h1m137 0h1m36 0h1m-201 1h2m23 0h1m136 0h2m36 0h1m-201 1h2m23 0h1m136 0h1m37 0h1m-200 1h2m158 0h1m38 0h1m-200 1h3m22 0h1m134 0h1m38 0h1m-199 1h2m22 0h1m133 0h1m39 0h1m-199 1h3m21 0h1m132 0h2m39 0h1m-198 1h2m22 0h1m131 0h1m40 0h1m-198 1h2m22 0h1m130 0h2m40 0h1m-197 1h2m21 0h1m130 0h1m41 0h1m-197 1h2m22 0h1m128 0h2m41 0h1m-196 1h2m21 0h1m128 0h1m41 0h2m-196 1h2m21 0h1m127 0h2m41 0h2m-196 1h2m22 0h1m126 0h1m42 0h2m-195 1h1m22 0h1m125 0h2m42 0h2m-195 1h2m21 0h1m125 0h1m43 0h2m-195 1h2m22 0h1m124 0h1m43 0h2m-194 1h1m22 0h1m123 0h1m44 0h2m-194 1h2m21 0h1m123 0h1m44 0h2m-194 1h2m22 0h1m121 0h2m44 0h1m-192 1h1m22 0h1m121 0h1m45 0h1m-192 1h2m21 0h1m120 0h2m45 0h1m-192 1h2m22 0h1m119 0h1m46 0h1m-191 1h2m21 0h1m118 0h1m47 0h1m-190 1h1m21 0h1m118 0h1m47 0h1m-190 1h2m21 0h1m116 0h2m47 0h1m-189 1h1m21 0h1m116 0h1m48 0h1m-188 1h1m20 0h2m114 0h2m48 0h1m-188 1h2m20 0h1m114 0h2m48 0h1m-187 1h1m20 0h2m113 0h1m49 0h1m-187 1h2m20 0h1m113 0h1m-136 1h1m21 0h1m112 0h1m48 0h1m-185 1h2m20 0h2m110 0h2m48 0h1m-184 1h2m20 0h2m109 0h2m47 0h1m-182 1h1m21 0h2m108 0h2m-134 1h2m20 0h2m108 0h1m47 0h1m-180 1h2m20 0h2m106 0h2m46 0h1m-178 1h2m20 0h2m105 0h2m45 0h1m-176 1h2m20 0h2m103 0h2m-128 1h3m18 0h3m101 0h3m45 0h1m-173 1h3m18 0h3m100 0h2m45 0h1m-171 1h3m18 0h4m97 0h3m43 0h2m-169 1h3m18 0h4m95 0h4m42 0h2m-167 1h3m18 0h5m92 0h6m40 0h2m-165 1h3m19 0h5m90 0h11m33 0h2m-162 1h5m17 0h6m87 0h18m25 0h3m-159 1h8m14 0h7m84 0h12m4 0h5m20 0h3m-155 1h10m13 0h27m63 0h5m12 0h4m16 0h3m-151 1h11m15 0h3m19 0h6m77 0h4m8 0h5m-145 1h9m43 0h5m73 0h12m-140 1h8m47 0h6m-59 1h7m52 0h7m-65 1h7m58 0h20m-83 1h7m66 0h9m-80 1h5m68 0h6m-78 1h5m67 0h5m-75 1h4m66 0h4m-73 1h3m65 0h3m-70 1h3m64 0h2m-68 1h3m62 0h3m-67 1h2m62 0h2m-65 1h2m61 0h2m-65 1h2m61 0h2m-64 1h2m60 0h2m-64 1h2m60 0h3m-64 1h2m60 0h2m-63 1h1m60 0h2m-63 1h1m60 0h2m-63 1h2m59 0h3m-63 1h1m60 0h2m-63 1h2m59 0h2m-62 1h1m59 0h2m-62 1h2m59 0h2m-62 1h1m59 0h2m-62 1h2m58 0h2m-61 1h2m57 0h2m-59 1h2m55 0h2m-57 1h2m54 0h1m-54 1h2m50 0h2m-51 1h1m48 0h2m-48 1h1m45 0h2m-44 1h1m40 0h2m-39 1h1m34 0h1m-31 1h2m24 0h1m-16 1h7"/>
<path stroke="#b2ff00" d="M0 .5m229 109h4m-5 1h6m-6 1h7m-7 1h6m-5 1h5m108 57h3m-4 1h6m-6 1h8m-8 1h2m3 0h4m-9 1h2m4 0h4m-10 1h2m5 0h4m-10 1h1m6 0h4m-11 1h2m6 0h4m-190 1h8m171 0h2m6 0h3m-192 1h4m4 0h4m169 0h2m6 0h4m-194 1h3m8 0h5m167 0h2m6 0h3m-195 1h2m12 0h6m164 0h2m6 0h4m-196 1h1m15 0h6m163 0h2m6 0h3m-197 1h2m19 0h3m162 0h2m6 0h3m-197 1h1m22 0h2m162 0h2m5 0h4m-198 1h1m23 0h1m162 0h2m6 0h3m-199 1h2m23 0h2m162 0h2m5 0h4m-200 1h1m25 0h1m162 0h2m5 0h4m-200 1h1m25 0h1m163 0h1m6 0h3m-200 1h1m25 0h1m163 0h2m5 0h4m-201 1h1m25 0h1m163 0h2m6 0h3m-201 1h1m25 0h1m163 0h2m6 0h3m-201 1h1m25 0h1m164 0h1m6 0h4m-202 1h1m25 0h1m164 0h2m6 0h3m-203 1h2m25 0h1m164 0h2m6 0h3m-203 1h2m25 0h1m164 0h2m6 0h3m-203 1h1m25 0h1m165 0h2m6 0h3m-203 1h1m25 0h1m166 0h1m6 0h3m-203 1h1m25 0h1m166 0h2m5 0h3m-203 1h1m24 0h2m166 0h2m5 0h3m-203 1h1m24 0h2m166 0h2m5 0h3m-203 1h1m24 0h1m167 0h2m5 0h3m-203 1h1m23 0h2m167 0h2m5 0h3m-203 1h1m23 0h2m168 0h2m3 0h4m-203 1h1m23 0h2m168 0h2m3 0h4m-203 1h1m23 0h2m168 0h2m3 0h4m-203 1h1m23 0h1m169 0h3m2 0h4m-203 1h1m23 0h1m169 0h3m1 0h5m-203 1h2m22 0h1m169 0h9m-202 1h1m22 0h1m169 0h9m-202 1h1m22 0h1m169 0h9m-202 1h1m22 0h1m169 0h9m-202 1h1m22 0h1m169 0h9m-202 1h1m22 0h1m169 0h9m-202 1h1m22 0h2m168 0h9m-202 1h1m22 0h2m168 0h9m-202 1h1m23 0h1m168 0h9m-202 1h1m23 0h1m167 0h10m-202 1h1m23 0h1m167 0h10m-202 1h1m23 0h1m166 0h5m1 0h5m-202 1h1m23 0h1m166 0h4m3 0h5m-203 1h1m23 0h1m164 0h5m5 0h4m-203 1h1m24 0h1m162 0h4m7 0h4m-203 1h2m23 0h1m160 0h4m10 0h3m-202 1h1m23 0h1m158 0h3m13 0h3m-202 1h1m23 0h1m157 0h2m15 0h3m-202 1h1m23 0h1m155 0h2m18 0h2m-202 1h1m24 0h1m153 0h2m19 0h2m-202 1h1m24 0h1m152 0h2m20 0h2m-202 1h1m24 0h1m151 0h2m22 0h2m-203 1h2m23 0h1m150 0h1m24 0h2m-202 1h1m24 0h1m148 0h1m25 0h2m-202 1h1m24 0h1m147 0h2m25 0h2m-202 1h2m23 0h1m146 0h2m26 0h2m-201 1h1m23 0h1m146 0h1m27 0h2m-201 1h1m23 0h1m145 0h1m29 0h1m-201 1h2m23 0h1m143 0h1m30 0h1m-200 1h2m22 0h1m143 0h1m30 0h1m-200 1h2m22 0h1m142 0h1m31 0h1m-199 1h2m21 0h1m141 0h2m31 0h2m-199 1h2m20 0h2m140 0h1m32 0h2m-199 1h2m21 0h1m139 0h1m33 0h2m-198 1h2m20 0h1m139 0h1m33 0h2m-198 1h3m19 0h1m138 0h1m34 0h2m-197 1h2m19 0h2m136 0h2m34 0h2m-196 1h2m19 0h1m136 0h1m35 0h2m-196 1h2m19 0h1m135 0h2m35 0h2m-195 1h2m18 0h1m135 0h1m36 0h2m-195 1h2m19 0h1m133 0h2m36 0h2m-195 1h3m18 0h1m133 0h1m37 0h2m-194 1h2m151 0h2m37 0h2m-194 1h2m19 0h1m131 0h1m38 0h2m-193 1h1m19 0h1m130 0h2m38 0h1m-192 1h2m149 0h1m38 0h2m-192 1h2m19 0h1m128 0h2m38 0h2m-192 1h2m19 0h1m128 0h1m39 0h2m-191 1h1m147 0h2m39 0h2m-191 1h2m19 0h1m126 0h1m40 0h2m-191 1h2m19 0h1m125 0h2m40 0h2m-190 1h1m19 0h1m125 0h1m41 0h2m-190 1h1m20 0h1m124 0h1m41 0h2m-190 1h2m19 0h1m123 0h1m42 0h2m-189 1h1m19 0h1m123 0h1m42 0h2m-189 1h2m19 0h1m121 0h1m43 0h2m-188 1h1m19 0h1m120 0h2m43 0h2m-188 1h2m18 0h1m120 0h1m44 0h2m-187 1h1m19 0h1m119 0h1m44 0h2m-187 1h2m18 0h1m118 0h2m44 0h2m-186 1h2m17 0h1m118 0h1m45 0h2m-185 1h1m18 0h1m117 0h1m45 0h2m-185 1h2m17 0h1m116 0h2m46 0h1m-184 1h1m18 0h1m115 0h2m46 0h1m-184 1h2m17 0h2m114 0h2m45 0h1m-182 1h2m17 0h1m114 0h2m45 0h1m-181 1h1m17 0h2m113 0h1m-134 1h2m17 0h2m112 0h1m45 0h1m-179 1h2m16 0h2m111 0h2m44 0h1m-177 1h3m14 0h3m110 0h2m43 0h1m-175 1h3m13 0h4m109 0h2m42 0h1m-173 1h3m12 0h5m107 0h3m41 0h2m-171 1h2m11 0h5m107 0h3m40 0h2m-169 1h3m9 0h6m105 0h4m39 0h2m-167 1h3m7 0h8m104 0h5m37 0h1m-164 1h5m1 0h12m103 0h7m33 0h2m-162 1h18m103 0h9m28 0h3m-160 1h19m106 0h8m23 0h2m-155 1h17m111 0h4m18 0h3m-148 1h14m112 0h3m14 0h3m-142 1h13m111 0h6m2 0h8m-137 1h15m3 0h19m87 0h8m-131 1h22m15 0h6m-42 1h14m28 0h5m-46 1h11m36 0h5m-51 1h9m42 0h7m-56 1h6m49 0h11m-66 1h5m56 0h7m-67 1h4m58 0h5m-66 1h3m59 0h4m-66 1h3m59 0h3m-64 1h2m59 0h3m-63 1h2m58 0h2m-62 1h2m58 0h2m-61 1h2m57 0h2m-61 1h2m57 0h2m-60 1h1m57 0h2m-60 1h2m56 0h2m-59 1h1m57 0h2m-60 1h2m56 0h2m-60 1h2m56 0h2m-59 1h1m56 0h2m-59 1h2m56 0h2m-59 1h1m56 0h2m-59 1h2m55 0h2m-58 1h2m55 0h2m-59 1h2m55 0h2m-58 1h2m54 0h2m-57 1h3m52 0h2m-55 1h2m52 0h1m-53 1h2m50 0h2m-51 1h1m48 0h1m-48 1h2m44 0h2m-45 1h2m41 0h2m-41 1h1m37 0h2m-36 1h2m30 0h2m-28 1h2m20 0h2"/>
<path stroke="#c8ff00" d="M0 .5m343 173h3m-3 1h4m-4 1h5m-5 1h6m-5 1h6m-5 1h6m-185 1h4m175 0h6m-187 1h8m174 0h6m-190 1h3m5 0h4m172 0h6m-191 1h3m8 0h4m171 0h6m-192 1h2m10 0h7m167 0h6m-193 1h2m13 0h7m166 0h5m-193 1h1m18 0h4m165 0h6m-194 1h1m20 0h2m166 0h5m-195 1h2m21 0h2m165 0h5m-195 1h2m21 0h2m165 0h6m-196 1h1m23 0h1m166 0h5m-196 1h1m23 0h1m166 0h6m-197 1h1m23 0h1m166 0h6m-197 1h1m23 0h1m166 0h6m-197 1h1m23 0h1m167 0h6m-198 1h1m23 0h1m167 0h6m-198 1h1m22 0h2m167 0h6m-199 1h2m22 0h1m168 0h6m-199 1h2m22 0h1m168 0h6m-199 1h1m22 0h2m169 0h5m-199 1h1m22 0h1m170 0h5m-199 1h1m21 0h2m170 0h5m-199 1h1m21 0h2m170 0h5m-199 1h1m20 0h2m171 0h5m-199 1h1m19 0h3m172 0h3m-198 1h1m19 0h3m172 0h3m-198 1h2m18 0h3m172 0h3m-198 1h2m18 0h3m173 0h2m-198 1h2m19 0h2m173 0h1m-196 1h1m19 0h2m-22 1h1m19 0h2m-22 1h1m19 0h2m-22 1h1m19 0h2m-22 1h1m20 0h1m-22 1h2m19 0h1m-22 1h2m19 0h1m-22 1h2m19 0h1m-22 1h2m19 0h2m-23 1h2m19 0h2m-23 1h2m20 0h1m-23 1h2m20 0h1m172 0h1m-196 1h2m20 0h1m171 0h3m-197 1h2m20 0h1m170 0h5m-198 1h2m20 0h2m167 0h7m-197 1h1m21 0h1m165 0h10m-198 1h1m21 0h1m162 0h13m-198 1h1m21 0h1m160 0h4m5 0h6m-198 1h1m21 0h1m158 0h3m10 0h5m-199 1h1m21 0h2m156 0h2m14 0h3m-199 1h1m22 0h1m155 0h1m17 0h2m-199 1h2m21 0h1m154 0h1m18 0h3m-199 1h1m21 0h1m152 0h2m20 0h2m-199 1h1m21 0h2m150 0h2m21 0h2m-199 1h2m21 0h1m150 0h1m22 0h2m-198 1h1m21 0h1m149 0h1m24 0h1m-198 1h2m20 0h1m148 0h1m25 0h1m-198 1h2m20 0h1m147 0h1m26 0h2m-198 1h2m19 0h2m145 0h2m26 0h2m-197 1h2m19 0h1m145 0h1m27 0h2m-197 1h3m18 0h1m144 0h1m28 0h2m-196 1h2m18 0h1m144 0h1m29 0h1m-195 1h2m17 0h1m143 0h1m30 0h1m-195 1h3m16 0h2m141 0h2m30 0h1m-194 1h3m16 0h1m141 0h1m31 0h1m-193 1h2m16 0h1m140 0h1m32 0h1m-193 1h3m15 0h1m140 0h1m32 0h1m-192 1h2m16 0h1m138 0h1m33 0h1m-192 1h3m15 0h1m138 0h1m33 0h1m-191 1h2m15 0h1m137 0h1m33 0h2m-191 1h2m16 0h1m136 0h1m33 0h2m-190 1h2m15 0h1m135 0h1m34 0h2m-190 1h2m16 0h1m134 0h1m34 0h2m-190 1h2m16 0h1m133 0h1m34 0h3m-190 1h2m16 0h1m133 0h1m34 0h3m-189 1h1m17 0h1m131 0h1m35 0h2m-188 1h1m17 0h1m131 0h1m35 0h2m-188 1h2m16 0h1m130 0h1m36 0h2m-188 1h2m17 0h1m129 0h1m36 0h2m-187 1h1m17 0h1m128 0h1m37 0h2m-187 1h1m17 0h1m128 0h1m37 0h2m-187 1h2m16 0h1m127 0h1m38 0h2m-187 1h2m17 0h1m126 0h1m38 0h2m-186 1h1m17 0h1m125 0h1m39 0h2m-186 1h2m16 0h1m125 0h1m39 0h2m-185 1h1m17 0h1m123 0h2m39 0h2m-185 1h2m16 0h1m123 0h1m40 0h2m-184 1h1m16 0h1m122 0h2m40 0h2m-184 1h2m15 0h2m121 0h1m42 0h1m-183 1h2m15 0h1m121 0h1m42 0h1m-182 1h1m15 0h1m120 0h2m42 0h1m-182 1h2m14 0h2m119 0h1m43 0h1m-181 1h1m14 0h2m119 0h1m43 0h2m-182 1h2m13 0h3m118 0h1m43 0h2m-181 1h2m13 0h2m118 0h1m43 0h1m-179 1h2m12 0h3m117 0h1m43 0h1m-179 1h3m11 0h3m116 0h2m42 0h2m-178 1h3m10 0h4m115 0h2m42 0h1m-176 1h4m7 0h5m115 0h2m41 0h1m-173 1h3m6 0h5m115 0h2m40 0h1m-171 1h5m2 0h6m115 0h2m39 0h1m-169 1h12m115 0h2m38 0h1m-167 1h11m115 0h3m35 0h2m-164 1h9m115 0h4m33 0h2m-162 1h7m117 0h4m30 0h3m-158 1h1m122 0h5m26 0h2m-30 1h5m21 0h2m-24 1h3m16 0h4m-21 1h4m10 0h4m-16 1h14m-9 1h2m-106 2h15m-22 1h9m14 0h5m-30 1h5m26 0h5m-37 1h4m34 0h4m-43 1h4m39 0h6m-50 1h4m45 0h7m-56 1h3m50 0h5m-58 1h3m52 0h4m-59 1h3m53 0h3m-59 1h3m53 0h3m-58 1h2m54 0h2m-58 1h2m54 0h2m-57 1h1m54 0h2m-57 1h2m53 0h2m-57 1h2m53 0h2m-56 1h2m52 0h2m-56 1h2m52 0h3m-56 1h2m52 0h2m-56 1h2m52 0h2m-56 1h3m51 0h2m-55 1h2m51 0h3m-56 1h3m51 0h2m-55 1h2m51 0h2m-54 1h2m51 0h2m-55 1h3m50 0h2m-54 1h4m48 0h2m-52 1h3m48 0h1m-51 1h4m46 0h2m-50 1h3m45 0h2m-48 1h3m43 0h2m-45 1h2m41 0h1m-41 1h1m38 0h2m-38 1h2m34 0h1m-32 1h1m27 0h2m-24 1h2m15 0h3"/>
<path stroke="#e3ff00" d="M0 .5m165 181h5m-6 1h8m-9 1h2m6 0h2m-11 1h2m8 0h3m-14 1h2m10 0h6m-18 1h2m11 0h7m-20 1h1m13 0h7m-21 1h1m14 0h6m-22 1h2m18 0h3m-23 1h1m20 0h2m-23 1h1m20 0h2m-23 1h1m20 0h2m-23 1h1m20 0h2m-23 1h1m20 0h2m-23 1h1m20 0h1m-22 1h1m19 0h2m-22 1h1m18 0h3m-23 1h2m17 0h3m-22 1h2m15 0h5m-22 1h2m14 0h5m-21 1h2m14 0h5m-21 1h2m13 0h5m-20 1h2m13 0h4m-19 1h2m13 0h4m-18 1h1m13 0h4m-18 1h1m13 0h4m-18 1h1m14 0h4m-19 1h2m14 0h3m-19 1h2m14 0h3m-19 1h2m15 0h2m-19 1h2m15 0h2m-19 1h2m16 0h2m-19 1h1m16 0h2m-19 1h1m16 0h2m-19 1h1m17 0h1m-19 1h1m17 0h1m-19 1h1m17 0h1m-19 1h1m17 0h2m-20 1h1m17 0h2m-20 1h1m18 0h1m-20 1h1m18 0h1m-20 1h1m18 0h1m-20 1h1m18 0h2m-21 1h1m18 0h2m-21 1h1m19 0h1m165 0h5m-191 1h2m18 0h1m162 0h10m-193 1h2m18 0h1m160 0h3m4 0h7m-195 1h2m18 0h2m157 0h3m9 0h5m-195 1h2m18 0h1m156 0h2m13 0h3m-195 1h2m18 0h1m155 0h2m15 0h3m-196 1h2m18 0h1m154 0h2m17 0h2m-195 1h2m17 0h2m152 0h2m19 0h1m-195 1h3m16 0h2m151 0h2m20 0h2m-195 1h2m17 0h1m150 0h2m21 0h2m-195 1h3m16 0h1m149 0h2m22 0h2m-194 1h3m15 0h1m149 0h1m24 0h1m-193 1h3m14 0h2m147 0h1m25 0h1m-192 1h2m14 0h2m146 0h2m25 0h1m-192 1h3m13 0h2m146 0h1m26 0h2m-192 1h3m12 0h2m145 0h1m27 0h2m-191 1h3m12 0h1m145 0h1m27 0h2m-190 1h3m11 0h2m143 0h1m28 0h2m-190 1h3m11 0h2m142 0h2m28 0h2m-189 1h3m11 0h1m142 0h1m29 0h2m-189 1h3m11 0h2m140 0h2m29 0h2m-188 1h2m12 0h1m140 0h1m30 0h2m-188 1h2m12 0h1m139 0h1m30 0h2m-187 1h2m12 0h2m138 0h1m30 0h2m-186 1h2m12 0h1m137 0h1m30 0h3m-186 1h2m12 0h2m136 0h1m30 0h3m-186 1h2m13 0h1m135 0h1m30 0h3m-185 1h2m13 0h1m135 0h1m30 0h3m-185 1h2m14 0h1m133 0h1m30 0h4m-185 1h2m14 0h1m133 0h1m30 0h4m-184 1h1m14 0h1m132 0h1m31 0h4m-184 1h1m15 0h1m131 0h1m31 0h4m-184 1h2m14 0h1m130 0h1m32 0h4m-184 1h2m14 0h1m130 0h1m32 0h4m-183 1h1m14 0h1m129 0h2m32 0h4m-183 1h2m14 0h1m128 0h1m34 0h3m-183 1h2m14 0h1m127 0h2m34 0h3m-182 1h2m13 0h1m127 0h1m35 0h3m-182 1h2m13 0h2m126 0h1m36 0h2m-181 1h2m13 0h1m125 0h2m36 0h2m-181 1h2m13 0h1m125 0h1m37 0h2m-180 1h2m12 0h1m124 0h2m38 0h2m-180 1h1m12 0h2m123 0h1m39 0h2m-180 1h2m11 0h2m123 0h1m39 0h2m-179 1h2m10 0h2m122 0h2m39 0h2m-179 1h3m9 0h2m122 0h2m40 0h1m-178 1h3m7 0h3m122 0h2m40 0h1m-177 1h3m6 0h4m121 0h2m40 0h1m-176 1h4m3 0h5m121 0h2m39 0h2m-175 1h11m121 0h2m39 0h1m-173 1h10m121 0h2m38 0h2m-171 1h7m122 0h2m37 0h2m-169 1h6m122 0h2m36 0h2m-165 1h2m123 0h2m35 0h2m-39 1h3m33 0h2m-37 1h3m30 0h2m-34 1h3m27 0h3m-32 1h5m23 0h2m-27 1h5m18 0h3m-23 1h4m13 0h4m-19 1h7m2 0h7m-13 1h10m-109 5h14m-20 1h9m11 0h6m-28 1h4m25 0h5m-35 1h3m32 0h4m-40 1h3m37 0h5m-46 1h3m42 0h5m-50 1h2m46 0h4m-52 1h2m48 0h3m-53 1h2m49 0h2m-53 1h2m49 0h3m-54 1h2m50 0h2m-54 1h2m50 0h2m-53 1h2m49 0h2m-53 1h2m49 0h2m-52 1h2m49 0h1m-52 1h2m49 0h1m-51 1h2m48 0h2m-52 1h3m47 0h2m-51 1h2m47 0h2m-51 1h3m46 0h2m-50 1h3m46 0h2m-51 1h4m45 0h2m-50 1h4m45 0h2m-50 1h4m44 0h2m-48 1h3m43 0h2m-47 1h3m43 0h2m-46 1h2m42 0h2m-45 1h3m40 0h2m-43 1h2m39 0h2m-41 1h2m37 0h2m-39 1h2m34 0h2m-34 1h1m31 0h2m-30 1h2m24 0h1m-20 1h3m9 0h3"/>
<path stroke="#f9ff00" d="M0 .5m165 183h6m-7 1h2m3 0h3m-9 1h2m6 0h2m-10 1h1m8 0h2m-12 1h2m8 0h3m-13 1h1m10 0h3m-14 1h1m11 0h6m-19 1h2m11 0h7m-20 1h2m12 0h6m-20 1h1m13 0h6m-20 1h1m13 0h6m-20 1h1m13 0h6m-20 1h1m13 0h6m-20 1h1m13 0h5m-19 1h1m12 0h5m-18 1h1m12 0h4m-17 1h1m11 0h3m-15 1h1m11 0h2m-14 1h1m10 0h3m-14 1h2m9 0h2m-13 1h2m8 0h3m-13 1h2m8 0h3m-13 1h2m8 0h3m-13 1h3m7 0h3m-13 1h3m7 0h4m-13 1h2m8 0h4m-14 1h2m8 0h4m-14 1h2m9 0h4m-15 1h2m10 0h3m-15 1h2m11 0h3m-16 1h2m11 0h3m-16 1h2m12 0h2m-16 1h2m12 0h3m-17 1h2m13 0h2m-17 1h2m13 0h2m-17 1h2m13 0h2m-17 1h2m14 0h1m-17 1h2m14 0h2m-18 1h2m14 0h2m-18 1h2m14 0h2m-18 1h2m15 0h1m-18 1h2m15 0h1m-18 1h3m14 0h2m-18 1h2m14 0h2m-18 1h2m14 0h2m164 0h4m-186 1h3m14 0h1m162 0h9m-188 1h2m14 0h2m159 0h3m5 0h5m-190 1h3m13 0h2m158 0h2m10 0h3m-191 1h3m13 0h2m157 0h2m13 0h2m-191 1h3m12 0h2m156 0h2m15 0h2m-191 1h3m11 0h2m155 0h2m16 0h2m-191 1h3m11 0h3m153 0h2m18 0h1m-190 1h3m11 0h2m152 0h2m19 0h1m-189 1h3m10 0h2m151 0h2m20 0h2m-189 1h3m9 0h2m150 0h2m21 0h2m-189 1h5m7 0h2m150 0h1m22 0h2m-188 1h5m5 0h3m149 0h2m22 0h2m-187 1h5m4 0h3m148 0h2m23 0h2m-186 1h5m4 0h3m147 0h1m24 0h2m-185 1h4m4 0h3m146 0h2m24 0h2m-185 1h4m4 0h3m146 0h1m25 0h2m-184 1h3m5 0h3m144 0h1m26 0h2m-184 1h3m6 0h2m144 0h1m26 0h2m-184 1h3m7 0h2m142 0h1m26 0h3m-184 1h3m7 0h2m141 0h2m26 0h2m-183 1h3m8 0h1m141 0h1m26 0h3m-182 1h2m9 0h1m139 0h2m26 0h2m-181 1h1m10 0h1m139 0h1m26 0h3m-181 1h1m11 0h1m137 0h2m25 0h3m-180 1h1m11 0h1m137 0h1m25 0h4m-180 1h1m11 0h2m135 0h2m25 0h3m-179 1h2m11 0h1m135 0h1m25 0h4m-179 1h2m11 0h1m134 0h2m25 0h4m-179 1h2m11 0h2m133 0h1m25 0h5m-178 1h1m12 0h1m132 0h2m25 0h5m-178 1h2m11 0h1m132 0h1m26 0h5m-178 1h2m11 0h1m132 0h1m25 0h6m-177 1h1m11 0h2m130 0h2m26 0h6m-178 1h2m11 0h1m130 0h1m27 0h6m-177 1h1m11 0h1m129 0h2m28 0h5m-177 1h2m10 0h1m129 0h1m30 0h5m-177 1h2m9 0h2m128 0h1m31 0h4m-177 1h3m8 0h2m127 0h2m32 0h3m-176 1h2m7 0h3m127 0h1m34 0h3m-177 1h3m6 0h3m126 0h2m35 0h2m-176 1h4m3 0h4m126 0h2m35 0h2m-175 1h10m126 0h2m36 0h1m-174 1h9m126 0h2m36 0h2m-174 1h7m127 0h2m36 0h2m-173 1h6m127 0h2m36 0h2m-171 1h3m128 0h2m36 0h1m-39 1h2m35 0h2m-39 1h2m35 0h1m-38 1h2m34 0h1m-37 1h2m32 0h2m-36 1h3m30 0h2m-34 1h2m28 0h3m-32 1h3m24 0h3m-29 1h5m19 0h3m-24 1h5m14 0h4m-20 1h5m7 0h6m-16 1h13m-8 1h2m-102 7h11m-18 1h12m3 0h10m-27 1h4m23 0h5m-33 1h3m30 0h4m-38 1h2m36 0h4m-43 1h3m38 0h5m-46 1h2m42 0h4m-48 1h2m44 0h3m-49 1h2m45 0h2m-49 1h2m46 0h2m-50 1h3m45 0h2m-49 1h2m45 0h2m-49 1h3m45 0h1m-48 1h3m44 0h2m-49 1h4m43 0h2m-48 1h4m42 0h2m-47 1h4m41 0h2m-47 1h5m40 0h2m-46 1h5m40 0h1m-45 1h5m39 0h2m-45 1h4m39 0h2m-44 1h4m38 0h3m-44 1h4m38 0h2m-43 1h3m38 0h2m-42 1h3m38 0h2m-42 1h3m37 0h2m-40 1h2m36 0h2m-39 1h3m34 0h2m-37 1h2m33 0h2m-35 1h2m30 0h2m-31 1h2m27 0h2m-26 1h2m19 0h3m-16 1h9"/>
<path stroke="#fff000" d="M0 .5m166 184h3m-4 1h6m-7 1h2m3 0h3m-8 1h1m5 0h2m-9 1h2m6 0h2m-10 1h1m8 0h2m-11 1h1m8 0h2m-11 1h1m9 0h2m-13 1h2m9 0h2m-13 1h1m10 0h2m-13 1h1m10 0h2m-13 1h1m10 0h2m-13 1h1m10 0h2m-13 1h2m8 0h2m-12 1h2m8 0h2m-12 1h2m7 0h2m-11 1h2m7 0h2m-11 1h3m5 0h2m-9 1h2m4 0h3m-9 1h3m2 0h3m-8 1h8m-8 1h8m-7 1h7m-7 1h7m-7 1h8m-8 1h8m-8 1h9m-9 1h10m-10 1h11m-11 1h11m-11 1h5m2 0h5m-12 1h4m4 0h4m-12 1h4m5 0h4m-13 1h4m5 0h4m-13 1h4m6 0h3m-13 1h3m7 0h4m-14 1h3m7 0h4m-14 1h3m8 0h3m-14 1h3m8 0h3m-14 1h3m8 0h4m-15 1h4m7 0h4m-14 1h3m8 0h3m-14 1h4m7 0h3m-14 1h4m7 0h3m-13 1h4m6 0h4m-14 1h5m5 0h4m164 0h5m-182 1h5m3 0h5m162 0h10m-185 1h13m161 0h2m7 0h4m-186 1h12m160 0h2m11 0h2m-186 1h11m159 0h1m14 0h1m-186 1h11m158 0h1m15 0h2m-186 1h11m156 0h2m16 0h1m-185 1h10m155 0h2m17 0h1m-184 1h9m154 0h2m18 0h1m-182 1h7m153 0h2m19 0h1m-181 1h5m154 0h1m20 0h1m-180 1h4m153 0h2m20 0h1m-179 1h4m151 0h2m21 0h1m-179 1h4m151 0h1m22 0h1m-179 1h4m150 0h2m22 0h1m-179 1h5m148 0h2m22 0h2m-179 1h6m147 0h1m23 0h2m-179 1h7m145 0h2m22 0h2m-178 1h7m145 0h1m22 0h3m-178 1h3m2 0h3m143 0h2m22 0h2m-177 1h2m5 0h2m142 0h1m22 0h3m-178 1h3m5 0h2m141 0h1m22 0h3m-177 1h2m7 0h2m140 0h1m21 0h3m-176 1h2m8 0h1m139 0h1m21 0h3m-175 1h2m8 0h1m139 0h1m21 0h3m-174 1h1m8 0h2m137 0h1m21 0h3m-173 1h1m9 0h1m137 0h1m19 0h5m-173 1h2m8 0h1m136 0h2m18 0h5m-172 1h2m8 0h2m135 0h1m18 0h6m-171 1h1m8 0h2m134 0h2m17 0h7m-171 1h2m8 0h1m134 0h1m17 0h7m-170 1h3m7 0h1m134 0h1m16 0h9m-170 1h2m6 0h3m132 0h2m15 0h10m-170 1h3m5 0h3m132 0h2m14 0h12m-170 1h4m2 0h4m131 0h2m14 0h14m-170 1h9m131 0h2m14 0h15m-170 1h8m131 0h2m17 0h13m-171 1h7m131 0h2m27 0h5m-171 1h6m131 0h2m29 0h4m-170 1h3m132 0h2m30 0h3m-35 1h2m31 0h3m-36 1h2m32 0h2m-36 1h2m32 0h2m-36 1h2m32 0h2m-36 1h2m32 0h2m-36 1h2m31 0h2m-35 1h2m31 0h2m-35 1h2m29 0h3m-34 1h3m27 0h2m-31 1h3m24 0h3m-30 1h4m20 0h4m-26 1h6m14 0h4m-21 1h8m5 0h6m-16 1h14m-11 1h7m-100 10h3m-13 1h23m-25 1h4m23 0h3m-32 1h3m30 0h3m-36 1h2m33 0h3m-39 1h2m36 0h4m-42 1h2m38 0h4m-44 1h2m40 0h3m-45 1h2m41 0h3m-45 1h2m41 0h2m-45 1h3m40 0h2m-44 1h3m40 0h2m-44 1h4m38 0h2m-43 1h7m34 0h2m-42 1h33m8 0h1m-41 1h33m7 0h1m-40 1h32m7 0h1m-39 1h31m7 0h2m-39 1h7m15 0h7m8 0h2m-39 1h6m31 0h2m-38 1h4m32 0h2m-37 1h3m33 0h2m-38 1h4m32 0h2m-37 1h3m32 0h3m-37 1h3m32 0h2m-36 1h3m31 0h2m-34 1h3m29 0h2m-33 1h4m27 0h2m-31 1h3m25 0h2m-27 1h3m21 0h3m-22 1h3m14 0h2"/>
<path stroke="#ffda00" d="M0 .5m166 186h3m-4 1h5m-5 1h2m2 0h2m-7 1h2m4 0h2m-8 1h1m6 0h1m-8 1h1m6 0h2m-9 1h1m6 0h2m-10 1h2m7 0h1m-10 1h2m7 0h1m-10 1h2m6 0h2m-10 1h2m6 0h2m-9 1h1m6 0h1m-8 1h1m5 0h2m-8 1h2m3 0h2m-7 1h7m-6 1h5m-5 1h4m-3 1h2m1 11h2m-3 1h4m-4 1h5m-5 1h5m-5 1h6m-7 1h7m-7 1h7m-7 1h8m-8 1h8m-8 1h8m-7 1h7m-7 1h8m-7 1h7m-7 1h7m-6 1h6m-5 1h5m-4 1h3m168 1h7m-8 1h4m2 0h5m-13 1h3m9 0h2m-15 1h3m11 0h1m-15 1h2m12 0h2m-17 1h2m14 0h1m-18 1h2m15 0h1m-19 1h2m16 0h1m-20 1h2m17 0h1m-20 1h1m18 0h1m-21 1h2m18 0h1m-22 1h2m18 0h2m-22 1h1m19 0h2m-23 1h2m19 0h1m-23 1h2m19 0h2m-23 1h1m19 0h2m-23 1h2m19 0h1m-172 1h2m148 0h1m19 0h2m-173 1h5m145 0h1m19 0h2m-172 1h5m144 0h2m18 0h2m-172 1h7m143 0h1m18 0h2m-171 1h8m141 0h2m17 0h2m-170 1h3m3 0h2m141 0h1m17 0h3m-170 1h3m3 0h2m140 0h2m16 0h3m-169 1h3m4 0h2m139 0h1m16 0h2m-166 1h2m4 0h2m139 0h1m15 0h2m-165 1h3m2 0h3m138 0h2m14 0h2m-164 1h8m138 0h1m13 0h3m-162 1h8m136 0h2m12 0h3m-160 1h7m136 0h2m11 0h3m-159 1h6m137 0h2m10 0h3m-157 1h5m137 0h2m8 0h4m-154 1h2m137 0h3m7 0h4m-14 1h3m6 0h5m-14 1h3m6 0h8m-18 1h3m8 0h16m-27 1h3m10 0h16m-29 1h3m21 0h6m-30 1h2m25 0h4m-31 1h2m26 0h4m-32 1h2m27 0h3m-32 1h2m27 0h3m-32 1h2m27 0h3m-32 1h2m27 0h2m-31 1h3m24 0h4m-31 1h4m21 0h4m-28 1h4m18 0h5m-26 1h9m8 0h7m-23 1h20m-16 1h14m-9 1h5m-108 14h23m-26 1h6m21 0h3m-31 1h3m28 0h2m-34 1h3m31 0h2m-36 1h3m32 0h3m-38 1h3m34 0h3m-40 1h3m34 0h4m-40 1h3m34 0h4m-40 1h4m31 0h5m-39 1h7m26 0h7m-38 1h13m15 0h10m-34 1h34m-7 1h8m-7 1h7m-7 1h3m2 0h2m-7 1h3m2 0h2m-30 1h15m7 0h4m2 0h2m-31 1h27m1 0h3m-32 1h5m15 0h8m1 0h3m-32 1h4m25 0h4m-32 1h3m26 0h3m-32 1h4m25 0h3m-31 1h3m26 0h3m-31 1h4m24 0h3m-29 1h3m23 0h3m-27 1h3m21 0h3m-26 1h4m18 0h3m-22 1h4m13 0h4m-16 1h14"/>
<path stroke="#ffc400" d="M0 .5m167 188h2m-3 1h4m-5 1h6m-6 1h2m2 0h2m-6 1h1m4 0h1m-6 1h1m4 0h2m-7 1h1m4 0h2m-7 1h1m4 0h1m-6 1h2m2 0h2m-6 1h6m-6 1h5m-4 1h3m177 33h2m-5 1h9m-10 1h3m6 0h2m-12 1h2m9 0h1m-13 1h2m10 0h2m-15 1h2m12 0h1m-16 1h2m13 0h1m-17 1h2m14 0h1m-18 1h2m15 0h1m-18 1h1m15 0h2m-19 1h1m16 0h1m-19 1h2m16 0h1m-19 1h1m16 0h2m-20 1h1m17 0h1m-20 1h1m17 0h1m-19 1h1m16 0h2m-20 1h1m17 0h1m-20 1h2m16 0h1m-19 1h1m16 0h1m-19 1h1m16 0h1m-18 1h1m15 0h1m-165 1h3m144 0h2m14 0h1m-164 1h3m144 0h1m14 0h1m-163 1h4m142 0h2m13 0h1m-162 1h4m142 0h1m12 0h2m-160 1h2m143 0h1m11 0h2m-15 1h2m10 0h1m-13 1h2m8 0h2m-12 1h2m7 0h2m-11 1h3m3 0h4m-10 1h8m-8 1h7m-7 1h6m-6 1h6m-7 1h8m-8 1h10m-10 1h21m-22 1h25m-25 1h15m1 0h10m-26 1h10m11 0h6m-27 1h9m13 0h5m-27 1h10m11 0h6m-27 1h13m7 0h7m-26 1h24m-23 1h21m-20 1h18m-12 1h8m-107 18h21m-25 1h8m18 0h2m-29 1h5m24 0h2m-31 1h4m27 0h1m-32 1h4m27 0h3m-34 1h5m27 0h2m-33 1h6m25 0h3m-32 1h8m20 0h3m-27 1h9m13 0h4m-18 1h6m4 0h5m7 4h2m-2 1h2m-2 1h2m-2 1h1m-24 1h15m8 0h1m-25 1h6m8 0h11m-25 1h4m14 0h8m-25 1h3m16 0h6m-25 1h4m17 0h5m-24 1h3m17 0h4m-23 1h5m14 0h4m-21 1h5m11 0h5m-19 1h8m4 0h6m-15 1h13"/>
<path stroke="#ffaf00" d="M0 .5m167 191h2m-3 1h4m-4 1h4m-4 1h4m-4 1h4m-3 1h2m176 38h6m-8 1h3m4 0h2m-10 1h2m7 0h1m-11 1h1m10 0h1m-13 1h1m11 0h1m-14 1h1m12 0h1m-15 1h1m13 0h1m-16 1h1m13 0h1m-16 1h1m14 0h1m-16 1h1m14 0h1m-17 1h1m14 0h1m-17 1h1m15 0h1m-18 1h1m15 0h1m-17 1h1m14 0h1m-17 1h1m15 0h1m-17 1h1m14 0h1m-17 1h1m14 0h1m-17 1h1m14 0h1m-16 1h1m13 0h1m-15 1h1m12 0h1m-15 1h1m12 0h1m-14 1h1m11 0h1m-14 1h2m9 0h1m-12 1h2m8 0h1m-11 1h2m6 0h2m-10 1h3m3 0h2m-8 1h7m-6 1h3m7 9h1m-6 1h11m-12 1h13m-12 1h11m-8 1h7m-106 23h11m5 0h2m-22 1h9m14 0h1m-25 1h6m19 0h2m-27 1h5m21 0h1m-26 1h6m19 0h2m-25 1h6m17 0h2m-21 1h5m13 0h2m-15 1h4m7 0h2m-8 1h4m-6 9h8m-10 1h14m-14 1h6m3 0h7m-15 1h6m4 0h7m-16 1h17m-14 1h14m-12 1h11m-6 1h4"/>
<path stroke="#ff9900" d="M0 .5m346 235h4m-6 1h2m3 0h2m-9 1h2m6 0h2m-11 1h2m8 0h1m-12 1h1m10 0h1m-13 1h1m11 0h1m-14 1h1m-2 1h1m12 0h1m-14 1h1m12 0h1m-15 1h1m12 0h1m-15 1h1m13 0h1m-16 1h1m13 0h1m-15 1h1m12 0h1m-15 1h1m13 0h1m-2 1h1m-15 1h1m12 0h1m-15 1h1m12 0h1m-14 1h1m11 0h1m-13 1h1m10 0h1m-13 1h1m10 0h1m-12 1h1m8 0h2m-11 1h1m7 0h1m-9 1h1m5 0h2m-8 1h6m-5 1h3m-85 38h5m-11 1h5m7 0h2m-18 1h7m11 0h1m-20 1h6m14 0h1m-19 1h5m13 0h1m-17 1h4m11 0h2m-14 1h3m8 0h2m-9 1h7m-4 12h3m-2 1h4"/>
<path stroke="#ff8400" d="M0 .5m346 236h3m-5 1h2m2 0h2m-7 1h1m6 0h1m-10 1h2m7 0h1m-11 1h1m9 0h1m-12 1h1m10 0h1m-13 1h1m10 0h1m-1 1h1m-13 1h1m-2 1h1m11 0h1m-14 1h1m11 0h1m-14 2h1m11 0h1m-14 1h1m11 0h1m-13 1h1m10 0h1m-13 1h1m10 0h1m-12 1h1m9 0h1m-2 1h1m-11 1h1m8 0h1m-10 1h1m6 0h1m-8 1h2m4 0h1m-7 1h5m-88 41h7m-9 1h3m6 0h2m-13 1h3m9 0h2m-13 1h2m9 0h2m-12 1h2m8 0h1m-9 1h4m1 0h3"/>
<path stroke="#ff6e00" d="M0 .5m346 237h2m-4 1h2m2 0h2m-7 1h1m5 0h1m-9 1h1m7 0h1m-10 1h1m8 0h1m-11 1h1m-2 1h1m9 0h1m-1 1h1m-2 1h1m-12 1h1m-2 1h1m10 0h1m-2 1h1m-12 1h1m9 0h1m-12 2h1m-2 2h1m7 0h1m-9 1h1m6 0h1m-8 1h2m3 0h1m-5 1h4m-88 43h6m-8 1h3m5 0h1m-9 1h3m5 0h1m-8 1h3m2 0h3m-4 1h1"/>
<path stroke="#ff5800" d="M0 .5m346 238h2m-4 1h5m-7 1h2m4 0h1m-8 1h1m6 0h1m-9 1h1m7 0h1m-10 1h1m-2 1h1m8 0h1m-11 1h1m8 1h1m-11 1h1m8 0h1m-11 1h1m-2 2h1m8 0h1m-10 1h1m7 0h1m-10 1h1m7 0h1m-9 1h1m5 0h1m-7 1h2m3 0h1m-5 1h3m-87 45h5m-5 1h5m-4 1h2"/>
<path stroke="#ff4300" d="M0 .5m344 240h4m-6 1h1m4 0h1m-7 1h1m5 0h1m-8 1h1m6 0h1m-9 1h1m6 0h1m-9 1h1m7 0h1m-10 1h1m7 0h1m-10 2h1m7 0h1m-10 1h1m7 0h1m-9 1h1m6 0h1m-2 1h1m-8 1h1m5 0h1m-7 1h1m3 0h1m-4 1h3"/>
<path stroke="#ff2d00" d="M0 .5m343 241h4m-5 1h1m3 0h1m-6 1h1m4 0h1m-2 2h1m-8 1h1m-2 1h1m6 0h1m-2 1h1m-8 1h1m5 0h1m-2 1h1m-7 1h1m4 0h1m-6 1h1m3 0h1m-5 1h3"/>
<path stroke="#ff1800" d="M0 .5m343 242h3m-4 1h1m1 0h2m-6 1h1m4 0h1m-7 1h1m4 0h1m-1 1h1m-7 1h1m4 0h1m-7 1h1m-1 1h1m-2 1h1m3 0h1m-5 1h2m1 0h1m-4 1h3"/>
<path stroke="#ff0200" d="M0 .5m343 243h1m-3 1h4m-5 1h2m1 0h1m-5 1h1m3 0h1m-5 1h1m2 0h1m-5 1h1m2 0h2m-5 1h1m1 0h2m-5 1h3m-2 1h1"/>
<path stroke="#ff0013" d="M0 .5m342 245h1m-3 1h3m-3 1h2m-3 1h2m-2 1h1"/>
</g>
<path fill="none" stroke="#adadad" stroke-width="0.65" d="M234.5 240.2L234.2 239.6L233.9 239.1L233.6 238.5L233.3 238.0L233.1 237.4L232.8 236.9L232.6 236.3L232.3 235.7L232.1 235.1L231.9 234.5L231.6 234.0L231.4 233.4L231.2 232.8L231.1 232.2L230.9 231.6L230.7 231.0L230.6 230.3L230.5 229.7L230.3 229.1L230.2 228.5L230.1 227.9L230.0 227.3L229.9 226.7L229.9 226.0L229.8 225.4L229.8 224.8L229.7 224.2L229.7 223.5L229.7 222.9L229.7 222.3L229.7 221.7L229.7 221.1L229.7 220.4L229.8 219.8L229.8 219.2L229.9 218.6L229.9 217.9L230.0 217.3L230.1 216.7L230.2 216.1L230.3 215.5L230.5 214.9L230.6 214.2L230.7 213.6L230.9 213.0L231.1 212.4L231.2 211.8L231.4 211.2L231.6 210.6L231.9 210.1L232.1 209.5L232.3 208.9L232.6 208.3L232.8 207.7L233.1 207.2L233.3 206.6L233.6 206.1L233.9 205.5L234.2 205.0L234.5 204.4L234.9 203.9L235.2 203.3L235.5 202.8L235.9 202.3L236.2 201.8L236.6 201.3L237.0 200.8L237.4 200.3L237.8 199.8L238.2 199.3L238.6 198.8L239.0 198.4L239.4 197.9L239.9 197.4L240.3 197.0L240.8 196.6L241.2 196.1L241.7 195.7L242.2 195.3L242.6 194.9L243.1 194.5L243.6 194.1L244.1 193.7L244.6 193.3L245.2 193.0L245.7 192.6L246.2 192.3L246.7 192.0L247.3 191.6L247.8 191.3L248.4 191.0L248.9 190.7L249.5 190.4L250.1 190.1L250.6 189.9L251.2 189.6L251.8 189.4L252.4 189.1L253.0 188.9L253.6 188.7L254.2 188.5L254.8 188.3L255.4 188.1L256.0 187.9L256.6 187.7L257.2 187.6L257.8 187.4L258.4 187.3L259.1 187.2L259.7 187.1L260.3 187.0L260.9 186.9L261.6 186.8L262.2 186.7L262.8 186.6L263.5 186.6L264.1 186.6L264.7 186.5L265.4 186.5L266.0 186.5L266.6 186.5L267.3 186.5L267.9 186.6L268.5 186.6L269.2 186.6L269.8 186.7L270.4 186.8L271.1 186.9L271.7 187.0L272.3 187.1L272.9 187.2L273.6 187.3L274.2 187.4L274.8 187.6L275.4 187.7L276.0 187.9L276.6 188.1L277.2 188.3L277.8 188.5L278.4 188.7L279.0 188.9L279.6 189.1L280.2 189.4L280.8 189.6L281.4 189.9L281.9 190.1L282.5 190.4L283.1 190.7L283.6 191.0L284.2 191.3L284.7 191.6L285.3 192.0L285.8 192.3L286.3 192.6L286.8 193.0L287.4 193.3L287.9 193.7L288.4 194.1L288.9 194.5L289.4 194.9L289.8 195.3L290.3 195.7L290.8 196.1L291.2 196.6L291.7 197.0L292.1 197.4L292.6 197.9L293.0 198.4L293.4 198.8L293.8 199.3L294.2 199.8L294.6 200.3L295.0 200.8L295.4 201.3L295.8 201.8L296.1 202.3L296.5 202.8L296.8 203.3L297.1 203.9L297.5 204.4L297.8 205.0L298.1 205.5L298.4 206.1L298.7 206.6L298.9 207.2L299.2 207.7L299.4 208.3L299.7 208.9L299.9 209.5L300.1 210.1L300.4 210.6L300.6 211.2L300.8 211.8L300.9 212.4L301.1 213.0L301.3 213.6L301.4 214.2L301.5 214.9L301.7 215.5L301.8 216.1L301.9 216.7L302.0 217.3L302.1 217.9L302.1 218.6L302.2 219.2L302.2 219.8L302.3 220.4L302.3 221.1L302.3 221.7L302.3 222.3L302.3 222.9L302.3 223.5L302.3 224.2L302.2 224.8L302.2 225.4L302.1 226.0L302.1 226.7L302.0 227.3L301.9 227.9L301.8 228.5L301.7 229.1L301.5 229.7L301.4 230.3L301.3 231.0L301.1 231.6L300.9 232.2L300.8 232.8L300.6 233.4L300.4 234.0L300.1 234.5L299.9 235.1L299.7 235.7L299.4 236.3L299.2 236.9L298.9 237.4L298.7 238.0L298.4 238.5L298.1 239.1L297.8 239.6L297.5 240.2L297.1 240.7L296.8 241.3L296.5 241.8L296.1 242.3L295.8 242.8L295.4 243.3L295.0 243.8L294.6 244.3L294.2 244.8L293.8 245.3L293.4 245.8L293.0 246.2L292.6 246.7L292.1 247.2L291.7 247.6L291.2 248.0L290.8 248.5L290.3 248.9L289.8 249.3L289.4 249.7L288.9 250.1L288.4 250.5L287.9 250.9L287.4 251.3L286.8 251.6L286.3 252.0L285.8 252.3L285.3 252.6L284.7 253.0L284.2 253.3L283.6 253.6L283.1 253.9L282.5 254.2L281.9 254.5L281.4 254.7L280.8 255.0L280.2 255.2L279.6 255.5L279.0 255.7L278.4 255.9L277.8 256.1L277.2 256.3L276.6 256.5L276.0 256.7L275.4 256.9L274.8 257.0L274.2 257.2L273.6 257.3L272.9 257.4L272.3 257.5L271.7 257.6L271.1 257.7L270.4 257.8L269.8 257.9L269.2 257.9L268.5 258.0L267.9 258.0L267.3 258.1L266.6 258.1L266.0 258.1L265.4 258.1L264.7 258.1L264.1 258.0L263.5 258.0L262.8 257.9L262.2 257.9L261.6 257.8L260.9 257.7L260.3 257.6L259.7 257.5L259.1 257.4L258.4 257.3L257.8 257.2L257.2 257.0L256.6 256.9L256.0 256.7L255.4 256.5L254.8 256.3L254.2 256.1L253.6 255.9L253.0 255.7L252.4 255.5L251.8 255.2L251.2 255.0L250.6 254.7L250.1 254.5L249.5 254.2L248.9 253.9L248.4 253.6L247.8 253.3L247.3 253.0L246.7 252.6L246.2 252.3L245.7 252.0L245.2 251.6L244.6 251.3L244.1 250.9L243.6 250.5L243.1 250.1L242.6 249.7L242.2 249.3L241.7 248.9L241.2 248.5L240.8 248.0L240.3 247.6L239.9 247.2L239.4 246.7L239.0 246.2L238.6 245.8L238.2 245.3L237.8 244.8L237.4 244.3L237.0 243.8L236.6 243.3L236.2 242.8L235.9 242.3L235.5 241.8L235.2 241.3L234.9 240.7L234.5 240.2M205.2 254.4L204.6 253.4L204.0 252.3L203.5 251.2L202.9 250.2L202.4 249.1L201.9 248.0L201.4 246.9L200.9 245.8L200.5 244.6L200.0 243.5L199.6 242.4L199.2 241.2L198.9 240.1L198.5 238.9L198.2 237.8L197.9 236.6L197.6 235.4L197.3 234.2L197.1 233.1L196.9 231.9L196.7 230.7L196.5 229.5L196.3 228.3L196.2 227.1L196.1 225.9L196.0 224.7L195.9 223.5L195.8 222.3L195.8 221.1L195.8 219.9L195.8 218.7L195.8 217.5L195.9 216.2L196.0 215.0L196.1 213.8L196.2 212.6L196.3 211.4L196.5 210.2L196.7 209.0L196.9 207.9L197.1 206.7L197.3 205.5L197.6 204.3L197.9 203.1L198.2 202.0L198.5 200.8L198.9 199.7L199.2 198.5L199.6 197.4L200.0 196.2L200.5 195.1L200.9 194.0L201.4 192.9L201.9 191.7L202.4 190.6L202.9 189.6L203.5 188.5L204.0 187.4L204.6 186.3L205.2 185.3L205.8 184.3L206.5 183.2L207.1 182.2L207.8 181.2L208.5 180.2L209.2 179.2L209.9 178.3L210.7 177.3L211.4 176.4L212.2 175.4L213.0 174.5L213.8 173.6L214.7 172.7L215.5 171.8L216.4 171.0L217.2 170.1L218.1 169.3L219.0 168.5L219.9 167.7L220.9 166.9L221.8 166.1L222.8 165.4L223.8 164.7L224.7 163.9L225.7 163.2L226.7 162.5L227.8 161.9L228.8 161.2L229.8 160.6L230.9 160.0L232.0 159.4L233.0 158.8L234.1 158.3L235.2 157.7L236.3 157.2L237.4 156.7L238.6 156.2L239.7 155.8L240.8 155.3L242.0 154.9L243.1 154.5L244.3 154.1L245.5 153.8L246.7 153.4L247.8 153.1L249.0 152.8L250.2 152.5L251.4 152.2L252.6 152.0L253.8 151.8L255.0 151.6L256.2 151.4L257.4 151.2L258.7 151.1L259.9 151.0L261.1 150.9L262.3 150.8L263.6 150.8L264.8 150.7L266.0 150.7L267.2 150.7L268.4 150.8L269.7 150.8L270.9 150.9L272.1 151.0L273.3 151.1L274.6 151.2L275.8 151.4L277.0 151.6L278.2 151.8L279.4 152.0L280.6 152.2L281.8 152.5L283.0 152.8L284.2 153.1L285.3 153.4L286.5 153.8L287.7 154.1L288.9 154.5L290.0 154.9L291.2 155.3L292.3 155.8L293.4 156.2L294.6 156.7L295.7 157.2L296.8 157.7L297.9 158.3L299.0 158.8L300.0 159.4L301.1 160.0L302.2 160.6L303.2 161.2L304.2 161.9L305.3 162.5L306.3 163.2L307.3 163.9L308.2 164.7L309.2 165.4L310.2 166.1L311.1 166.9L312.1 167.7L313.0 168.5L313.9 169.3L314.8 170.1L315.6 171.0L316.5 171.8L317.3 172.7L318.2 173.6L319.0 174.5L319.8 175.4L320.6 176.4L321.3 177.3L322.1 178.3L322.8 179.2L323.5 180.2L324.2 181.2L324.9 182.2L325.5 183.2L326.2 184.3L326.8 185.3L327.4 186.3L328.0 187.4L328.5 188.5L329.1 189.6L329.6 190.6L330.1 191.7L330.6 192.9L331.1 194.0L331.5 195.1L332.0 196.2L332.4 197.4L332.8 198.5L333.1 199.7L333.5 200.8L333.8 202.0L334.1 203.1L334.4 204.3L334.7 205.5L334.9 206.7L335.1 207.9L335.3 209.0L335.5 210.2L335.7 211.4L335.8 212.6L335.9 213.8L336.0 215.0L336.1 216.2L336.2 217.5L336.2 218.7L336.2 219.9L336.2 221.1L336.2 222.3L336.1 223.5L336.0 224.7L335.9 225.9L335.8 227.1L335.7 228.3L335.5 229.5L335.3 230.7L335.1 231.9L334.9 233.1L334.7 234.2L334.4 235.4L334.1 236.6L333.8 237.8L333.5 238.9L333.1 240.1L332.8 241.2L332.4 242.4L332.0 243.5L331.5 244.6L331.1 245.8L330.6 246.9L330.1 248.0L329.6 249.1L329.1 250.2L328.5 251.2L328.0 252.3L327.4 253.4L326.8 254.4L326.2 255.5L325.5 256.5L324.9 257.5L324.2 258.5L323.5 259.5L322.8 260.5L322.1 261.5L321.3 262.4L320.6 263.4L319.8 264.3L319.0 265.2L318.2 266.1L317.3 267.0L316.5 267.9L315.6 268.7L314.8 269.6L313.9 270.4L313.0 271.2L312.1 272.0L311.1 272.8L310.2 273.6L309.2 274.3L308.2 275.1L307.3 275.8L306.3 276.5L305.3 277.2L304.2 277.8L303.2 278.5L302.2 279.1L301.1 279.7L300.0 280.3L299.0 280.9L297.9 281.5L296.8 282.0L295.7 282.5L294.6 283.0L293.4 283.5L292.3 284.0L291.2 284.4L290.0 284.8L288.9 285.2L287.7 285.6L286.5 286.0L285.3 286.3L284.2 286.6L283.0 286.9L281.8 287.2L280.6 287.5L279.4 287.7L278.2 287.9L277.0 288.1L275.8 288.3L274.6 288.5L273.3 288.6L272.1 288.7L270.9 288.8L269.7 288.9L268.4 289.0L267.2 289.0L266.0 289.0L264.8 289.0L263.6 289.0L262.3 288.9L261.1 288.8L259.9 288.7L258.7 288.6L257.4 288.5L256.2 288.3L255.0 288.1L253.8 287.9L252.6 287.7L251.4 287.5L250.2 287.2L249.0 286.9L247.8 286.6L246.7 286.3L245.5 286.0L244.3 285.6L243.1 285.2L242.0 284.8L240.8 284.4L239.7 284.0L238.6 283.5L237.4 283.0L236.3 282.5L235.2 282.0L234.1 281.5L233.0 280.9L232.0 280.3L230.9 279.7L229.8 279.1L228.8 278.5L227.8 277.8L226.7 277.2L225.7 276.5L224.7 275.8L223.8 275.1L222.8 274.3L221.8 273.6L220.9 272.8L219.9 272.0L219.0 271.2L218.1 270.4L217.2 269.6L216.4 268.7L215.5 267.9L214.7 267.0L213.8 266.1L213.0 265.2L212.2 264.3L211.4 263.4L210.7 262.4L209.9 261.5L209.2 260.5L208.5 259.5L207.8 258.5L207.1 257.5L206.5 256.5L205.8 255.5L205.2 254.4M180.0 264.9L179.2 263.4L178.3 261.9L177.5 260.4L176.8 258.8L176.0 257.3L175.3 255.8L174.6 254.2L174.0 252.6L173.3 251.0L172.7 249.4L172.1 247.8L171.6 246.2L171.1 244.6L170.6 242.9L170.1 241.3L169.7 239.6L169.3 238.0L168.9 236.3L168.5 234.6L168.2 233.0L167.9 231.3L167.7 229.6L167.5 227.9L167.3 226.2L167.1 224.5L167.0 222.8L166.9 221.1L166.8 219.4L166.7 217.7L166.7 216.0L166.7 214.3L166.8 212.6L166.9 210.9L167.0 209.2L167.1 207.5L167.3 205.8L167.5 204.1L167.7 202.4L167.9 200.7L168.2 199.0L168.5 197.3L168.9 195.7L169.3 194.0L169.7 192.3L170.1 190.7L170.6 189.0L171.1 187.4L171.6 185.8L172.1 184.2L172.7 182.6L173.3 181.0L174.0 179.4L174.6 177.8L175.3 176.2L176.0 174.7L176.8 173.1L177.5 171.6L178.3 170.1L179.2 168.6L180.0 167.1L180.9 165.6L181.8 164.2L182.7 162.7L183.7 161.3L184.7 159.9L185.7 158.5L186.7 157.2L187.8 155.8L188.8 154.5L189.9 153.1L191.1 151.8L192.2 150.6L193.4 149.3L194.6 148.1L195.8 146.9L197.0 145.7L198.3 144.5L199.6 143.3L200.9 142.2L202.2 141.1L203.5 140.0L204.9 138.9L206.3 137.9L207.6 136.9L209.1 135.9L210.5 134.9L211.9 134.0L213.4 133.1L214.9 132.2L216.4 131.3L217.9 130.5L219.4 129.7L220.9 128.9L222.5 128.1L224.0 127.4L225.6 126.7L227.2 126.0L228.8 125.3L230.4 124.7L232.0 124.1L233.7 123.5L235.3 123.0L237.0 122.5L238.6 122.0L240.3 121.6L242.0 121.1L243.7 120.7L245.4 120.4L247.1 120.0L248.8 119.7L250.5 119.4L252.2 119.2L253.9 118.9L255.6 118.8L257.3 118.6L259.1 118.5L260.8 118.4L262.5 118.3L264.3 118.2L266.0 118.2L267.7 118.2L269.5 118.3L271.2 118.4L272.9 118.5L274.7 118.6L276.4 118.8L278.1 118.9L279.8 119.2L281.5 119.4L283.2 119.7L284.9 120.0L286.6 120.4L288.3 120.7L290.0 121.1L291.7 121.6L293.4 122.0L295.0 122.5L296.7 123.0L298.3 123.5L300.0 124.1L301.6 124.7L303.2 125.3L304.8 126.0L306.4 126.7L308.0 127.4L309.5 128.1L311.1 128.9L312.6 129.7L314.1 130.5L315.6 131.3L317.1 132.2L318.6 133.1L320.1 134.0L321.5 134.9L322.9 135.9L324.4 136.9L325.7 137.9L327.1 138.9L328.5 140.0L329.8 141.1L331.1 142.2L332.4 143.3L333.7 144.5L335.0 145.7L336.2 146.9L337.4 148.1L338.6 149.3L339.8 150.6L340.9 151.8L342.1 153.1L343.2 154.5L344.2 155.8L345.3 157.2L346.3 158.5L347.3 159.9L348.3 161.3L349.3 162.7L350.2 164.2L351.1 165.6L352.0 167.1L352.8 168.6L353.7 170.1L354.5 171.6L355.2 173.1L356.0 174.7L356.7 176.2L357.4 177.8L358.0 179.4L358.7 181.0L359.3 182.6L359.9 184.2L360.4 185.8L360.9 187.4L361.4 189.0L361.9 190.7L362.3 192.3L362.7 194.0L363.1 195.7L363.5 197.3L363.8 199.0L364.1 200.7L364.3 202.4L364.5 204.1L364.7 205.8L364.9 207.5L365.0 209.2L365.1 210.9L365.2 212.6L365.3 214.3L365.3 216.0L365.3 217.7L365.2 219.4L365.1 221.1L365.0 222.8L364.9 224.5L364.7 226.2L364.5 227.9L364.3 229.6L364.1 231.3L363.8 233.0L363.5 234.6L363.1 236.3L362.7 238.0L362.3 239.6L361.9 241.3L361.4 242.9L360.9 244.6L360.4 246.2L359.9 247.8L359.3 249.4L358.7 251.0L358.0 252.6L357.4 254.2L356.7 255.8L356.0 257.3L355.2 258.8L354.5 260.4L353.7 261.9L352.8 263.4L352.0 264.9L351.1 266.3L350.2 267.8L349.3 269.2L348.3 270.7L347.3 272.1L346.3 273.5L345.3 274.8L344.2 276.2L343.2 277.5L342.1 278.8L340.9 280.1L339.8 281.4L338.6 282.7L337.4 283.9L336.2 285.1L335.0 286.3L333.7 287.5L332.4 288.6L331.1 289.8L329.8 290.9L328.5 292.0L327.1 293.0L325.7 294.1L324.4 295.1L322.9 296.1L321.5 297.0L320.1 298.0L318.6 298.9L317.1 299.8L315.6 300.7L314.1 301.5L312.6 302.3L311.1 303.1L309.5 303.9L308.0 304.6L306.4 305.3L304.8 306.0L303.2 306.6L301.6 307.3L300.0 307.9L298.3 308.4L296.7 309.0L295.0 309.5L293.4 310.0L291.7 310.4L290.0 310.9L288.3 311.3L286.6 311.6L284.9 312.0L283.2 312.3L281.5 312.6L279.8 312.8L278.1 313.0L276.4 313.2L274.7 313.4L272.9 313.5L271.2 313.6L269.5 313.7L267.7 313.7L266.0 313.8L264.3 313.7L262.5 313.7L260.8 313.6L259.1 313.5L257.3 313.4L255.6 313.2L253.9 313.0L252.2 312.8L250.5 312.6L248.8 312.3L247.1 312.0L245.4 311.6L243.7 311.3L242.0 310.9L240.3 310.4L238.6 310.0L237.0 309.5L235.3 309.0L233.7 308.4L232.0 307.9L230.4 307.3L228.8 306.6L227.2 306.0L225.6 305.3L224.0 304.6L222.5 303.9L220.9 303.1L219.4 302.3L217.9 301.5L216.4 300.7L214.9 299.8L213.4 298.9L211.9 298.0L210.5 297.0L209.1 296.1L207.6 295.1L206.3 294.1L204.9 293.0L203.5 292.0L202.2 290.9L200.9 289.8L199.6 288.6L198.3 287.5L197.0 286.3L195.8 285.1L194.6 283.9L193.4 282.7L192.2 281.4L191.1 280.1L189.9 278.8L188.8 277.5L187.8 276.2L186.7 274.8L185.7 273.5L184.7 272.1L183.7 270.7L182.7 269.2L181.8 267.8L180.9 266.3L180.0 264.9M160.7 270.8L159.7 269.0L158.6 267.2L157.7 265.3L156.7 263.4L155.8 261.5L154.9 259.6L154.1 257.7L153.3 255.8L152.5 253.9L151.7 251.9L151.0 249.9L150.4 247.9L149.7 245.9L149.1 243.9L148.6 241.9L148.0 239.9L147.5 237.9L147.1 235.8L146.6 233.8L146.3 231.7L145.9 229.7L145.6 227.6L145.3 225.5L145.1 223.5L144.9 221.4L144.7 219.3L144.6 217.2L144.5 215.1L144.4 213.0L144.4 210.9L144.4 208.9L144.5 206.8L144.6 204.7L144.7 202.6L144.9 200.5L145.1 198.4L145.3 196.3L145.6 194.3L145.9 192.2L146.3 190.1L146.6 188.1L147.1 186.0L147.5 184.0L148.0 182.0L148.6 179.9L149.1 177.9L149.7 175.9L150.4 173.9L151.0 172.0L151.7 170.0L152.5 168.0L153.3 166.1L154.1 164.2L154.9 162.2L155.8 160.3L156.7 158.4L157.7 156.6L158.6 154.7L159.7 152.9L160.7 151.1L161.8 149.3L162.9 147.5L164.0 145.7L165.2 144.0L166.4 142.3L167.6 140.6L168.9 138.9L170.2 137.2L171.5 135.6L172.9 134.0L174.2 132.4L175.6 130.8L177.1 129.3L178.5 127.8L180.0 126.3L181.5 124.8L183.1 123.4L184.6 122.0L186.2 120.6L187.8 119.2L189.5 117.9L191.1 116.6L192.8 115.3L194.5 114.1L196.3 112.9L198.0 111.7L199.8 110.5L201.6 109.4L203.4 108.3L205.2 107.2L207.1 106.2L208.9 105.2L210.8 104.2L212.7 103.3L214.6 102.4L216.5 101.5L218.5 100.7L220.5 99.9L222.4 99.2L224.4 98.4L226.4 97.7L228.4 97.1L230.5 96.4L232.5 95.8L234.5 95.3L236.6 94.8L238.6 94.3L240.7 93.8L242.8 93.4L244.9 93.0L247.0 92.7L249.1 92.4L251.2 92.1L253.3 91.9L255.4 91.7L257.5 91.5L259.6 91.4L261.8 91.3L263.9 91.2L266.0 91.2L268.1 91.2L270.2 91.3L272.4 91.4L274.5 91.5L276.6 91.7L278.7 91.9L280.8 92.1L282.9 92.4L285.0 92.7L287.1 93.0L289.2 93.4L291.3 93.8L293.4 94.3L295.4 94.8L297.5 95.3L299.5 95.8L301.5 96.4L303.6 97.1L305.6 97.7L307.6 98.4L309.6 99.2L311.5 99.9L313.5 100.7L315.5 101.5L317.4 102.4L319.3 103.3L321.2 104.2L323.1 105.2L324.9 106.2L326.8 107.2L328.6 108.3L330.4 109.4L332.2 110.5L334.0 111.7L335.7 112.9L337.5 114.1L339.2 115.3L340.9 116.6L342.5 117.9L344.2 119.2L345.8 120.6L347.4 122.0L348.9 123.4L350.5 124.8L352.0 126.3L353.5 127.8L354.9 129.3L356.4 130.8L357.8 132.4L359.1 134.0L360.5 135.6L361.8 137.2L363.1 138.9L364.4 140.6L365.6 142.3L366.8 144.0L368.0 145.7L369.1 147.5L370.2 149.3L371.3 151.1L372.3 152.9L373.4 154.7L374.3 156.6L375.3 158.4L376.2 160.3L377.1 162.2L377.9 164.2L378.7 166.1L379.5 168.0L380.3 170.0L381.0 172.0L381.6 173.9L382.3 175.9L382.9 177.9L383.4 179.9L384.0 182.0L384.5 184.0L384.9 186.0L385.4 188.1L385.7 190.1L386.1 192.2L386.4 194.3L386.7 196.3L386.9 198.4L387.1 200.5L387.3 202.6L387.4 204.7L387.5 206.8L387.6 208.9L387.6 210.9L387.6 213.0L387.5 215.1L387.4 217.2L387.3 219.3L387.1 221.4L386.9 223.5L386.7 225.5L386.4 227.6L386.1 229.7L385.7 231.7L385.4 233.8L384.9 235.8L384.5 237.9L384.0 239.9L383.4 241.9L382.9 243.9L382.3 245.9L381.6 247.9L381.0 249.9L380.3 251.9L379.5 253.9L378.7 255.8L377.9 257.7L377.1 259.6L376.2 261.5L375.3 263.4L374.3 265.3L373.4 267.2L372.3 269.0L371.3 270.8L370.2 272.6L369.1 274.4L368.0 276.2L366.8 277.9L365.6 279.6L364.4 281.3L363.1 283.0L361.8 284.7L360.5 286.3L359.1 287.9L357.8 289.5L356.4 291.1L354.9 292.6L353.5 294.1L352.0 295.6L350.5 297.1L348.9 298.5L347.4 299.9L345.8 301.3L344.2 302.7L342.5 304.0L340.9 305.3L339.2 306.6L337.5 307.8L335.7 309.0L334.0 310.2L332.2 311.4L330.4 312.5L328.6 313.6L326.8 314.6L324.9 315.7L323.1 316.7L321.2 317.6L319.3 318.6L317.4 319.5L315.5 320.3L313.5 321.2L311.5 322.0L309.6 322.7L307.6 323.5L305.6 324.2L303.6 324.8L301.5 325.5L299.5 326.0L297.5 326.6L295.4 327.1L293.4 327.6L291.3 328.1L289.2 328.5L287.1 328.9L285.0 329.2L282.9 329.5L280.8 329.8L278.7 330.0L276.6 330.2L274.5 330.4L272.4 330.5L270.2 330.6L268.1 330.7L266.0 330.7L263.9 330.7L261.8 330.6L259.6 330.5L257.5 330.4L255.4 330.2L253.3 330.0L251.2 329.8L249.1 329.5L247.0 329.2L244.9 328.9L242.8 328.5L240.7 328.1L238.6 327.6L236.6 327.1L234.5 326.6L232.5 326.0L230.5 325.5L228.4 324.8L226.4 324.2L224.4 323.5L222.4 322.7L220.5 322.0L218.5 321.2L216.5 320.3L214.6 319.5L212.7 318.6L210.8 317.6L208.9 316.7L207.1 315.7L205.2 314.6L203.4 313.6L201.6 312.5L199.8 311.4L198.0 310.2L196.3 309.0L194.5 307.8L192.8 306.6L191.1 305.3L189.5 304.0L187.8 302.7L186.2 301.3L184.6 299.9L183.1 298.5L181.5 297.1L180.0 295.6L178.5 294.1L177.1 292.6L175.6 291.1L174.2 289.5L172.9 287.9L171.5 286.3L170.2 284.7L168.9 283.0L167.6 281.3L166.4 279.6L165.2 277.9L164.0 276.2L162.9 274.4L161.8 272.6L160.7 270.8M148.6 271.8L147.4 269.8L146.3 267.8L145.2 265.7L144.1 263.6L143.1 261.5L142.1 259.4L141.2 257.2L140.3 255.1L139.4 252.9L138.6 250.7L137.8 248.5L137.0 246.3L136.3 244.1L135.6 241.9L135.0 239.6L134.4 237.4L133.9 235.1L133.3 232.8L132.9 230.5L132.4 228.3L132.1 226.0L131.7 223.6L131.4 221.3L131.1 219.0L130.9 216.7L130.7 214.4L130.6 212.0L130.5 209.7L130.4 207.4L130.4 205.1L130.4 202.7L130.5 200.4L130.6 198.1L130.7 195.7L130.9 193.4L131.1 191.1L131.4 188.8L131.7 186.5L132.1 184.2L132.4 181.9L132.9 179.6L133.3 177.3L133.9 175.0L134.4 172.8L135.0 170.5L135.6 168.2L136.3 166.0L137.0 163.8L137.8 161.6L138.6 159.4L139.4 157.2L140.3 155.0L141.2 152.9L142.1 150.7L143.1 148.6L144.1 146.5L145.2 144.4L146.3 142.4L147.4 140.3L148.6 138.3L149.8 136.3L151.0 134.3L152.3 132.3L153.6 130.4L154.9 128.5L156.3 126.6L157.7 124.7L159.1 122.8L160.6 121.0L162.1 119.2L163.6 117.4L165.2 115.7L166.8 114.0L168.4 112.3L170.1 110.6L171.8 109.0L173.5 107.4L175.3 105.8L177.0 104.3L178.8 102.8L180.7 101.3L182.5 99.8L184.4 98.4L186.3 97.0L188.2 95.7L190.2 94.3L192.1 93.1L194.1 91.8L196.2 90.6L198.2 89.4L200.3 88.2L202.3 87.1L204.4 86.1L206.5 85.0L208.7 84.0L210.8 83.1L213.0 82.1L215.2 81.2L217.4 80.4L219.6 79.6L221.8 78.8L224.1 78.0L226.3 77.3L228.6 76.7L230.9 76.1L233.2 75.5L235.5 74.9L237.8 74.4L240.1 74.0L242.5 73.5L244.8 73.1L247.1 72.8L249.5 72.5L251.8 72.2L254.2 72.0L256.5 71.8L258.9 71.7L261.3 71.6L263.6 71.5L266.0 71.5L268.4 71.5L270.7 71.6L273.1 71.7L275.5 71.8L277.8 72.0L280.2 72.2L282.5 72.5L284.9 72.8L287.2 73.1L289.5 73.5L291.9 74.0L294.2 74.4L296.5 74.9L298.8 75.5L301.1 76.1L303.4 76.7L305.7 77.3L307.9 78.0L310.2 78.8L312.4 79.6L314.6 80.4L316.8 81.2L319.0 82.1L321.2 83.1L323.3 84.0L325.5 85.0L327.6 86.1L329.7 87.1L331.7 88.2L333.8 89.4L335.8 90.6L337.9 91.8L339.9 93.1L341.8 94.3L343.8 95.7L345.7 97.0L347.6 98.4L349.5 99.8L351.3 101.3L353.2 102.8L355.0 104.3L356.7 105.8L358.5 107.4L360.2 109.0L361.9 110.6L363.6 112.3L365.2 114.0L366.8 115.7L368.4 117.4L369.9 119.2L371.4 121.0L372.9 122.8L374.3 124.7L375.7 126.6L377.1 128.5L378.4 130.4L379.7 132.3L381.0 134.3L382.2 136.3L383.4 138.3L384.6 140.3L385.7 142.4L386.8 144.4L387.9 146.5L388.9 148.6L389.9 150.7L390.8 152.9L391.7 155.0L392.6 157.2L393.4 159.4L394.2 161.6L395.0 163.8L395.7 166.0L396.4 168.2L397.0 170.5L397.6 172.8L398.1 175.0L398.7 177.3L399.1 179.6L399.6 181.9L399.9 184.2L400.3 186.5L400.6 188.8L400.9 191.1L401.1 193.4L401.3 195.7L401.4 198.1L401.5 200.4L401.6 202.7L401.6 205.1L401.6 207.4L401.5 209.7L401.4 212.0L401.3 214.4L401.1 216.7L400.9 219.0L400.6 221.3L400.3 223.6L399.9 226.0L399.6 228.3L399.1 230.5L398.7 232.8L398.1 235.1L397.6 237.4L397.0 239.6L396.4 241.9L395.7 244.1L395.0 246.3L394.2 248.5L393.4 250.7L392.6 252.9L391.7 255.1L390.8 257.2L389.9 259.4L388.9 261.5L387.9 263.6L386.8 265.7L385.7 267.8L384.6 269.8L383.4 271.8L382.2 273.8L381.0 275.8L379.7 277.8L378.4 279.7L377.1 281.7L375.7 283.6L374.3 285.4L372.9 287.3L371.4 289.1L369.9 290.9L368.4 292.7L366.8 294.4L365.2 296.1L363.6 297.8L361.9 299.5L360.2 301.1L358.5 302.7L356.7 304.3L355.0 305.9L353.2 307.4L351.3 308.9L349.5 310.3L347.6 311.7L345.7 313.1L343.8 314.5L341.8 315.8L339.9 317.1L337.9 318.3L335.8 319.5L333.8 320.7L331.7 321.9L329.7 323.0L327.6 324.1L325.5 325.1L323.3 326.1L321.2 327.1L319.0 328.0L316.8 328.9L314.6 329.7L312.4 330.6L310.2 331.3L307.9 332.1L305.7 332.8L303.4 333.4L301.1 334.1L298.8 334.6L296.5 335.2L294.2 335.7L291.9 336.2L289.5 336.6L287.2 337.0L284.9 337.3L282.5 337.6L280.2 337.9L277.8 338.1L275.5 338.3L273.1 338.4L270.7 338.5L268.4 338.6L266.0 338.6L263.6 338.6L261.3 338.5L258.9 338.4L256.5 338.3L254.2 338.1L251.8 337.9L249.5 337.6L247.1 337.3L244.8 337.0L242.5 336.6L240.1 336.2L237.8 335.7L235.5 335.2L233.2 334.6L230.9 334.1L228.6 333.4L226.3 332.8L224.1 332.1L221.8 331.3L219.6 330.6L217.4 329.7L215.2 328.9L213.0 328.0L210.8 327.1L208.7 326.1L206.5 325.1L204.4 324.1L202.3 323.0L200.3 321.9L198.2 320.7L196.2 319.5L194.1 318.3L192.1 317.1L190.2 315.8L188.2 314.5L186.3 313.1L184.4 311.7L182.5 310.3L180.7 308.9L178.8 307.4L177.0 305.9L175.3 304.3L173.5 302.7L171.8 301.1L170.1 299.5L168.4 297.8L166.8 296.1L165.2 294.4L163.6 292.7L162.1 290.9L160.6 289.1L159.1 287.3L157.7 285.4L156.3 283.6L154.9 281.7L153.6 279.7L152.3 277.8L151.0 275.8L149.8 273.8L148.6 271.8M125.6 198.8L125.6 196.3L125.7 193.9L125.8 191.5L125.9 189.1L126.1 186.7L126.4 184.3L126.6 181.9L127.0 179.5L127.3 177.1L127.7 174.7L128.2 172.4L128.7 170.0L129.2 167.6L129.8 165.3L130.4 163.0L131.0 160.6L131.7 158.3L132.5 156.0L133.2 153.7L134.1 151.5L134.9 149.2L135.8 147.0L136.8 144.7L137.7 142.5L138.8 140.3L139.8 138.1L140.9 136.0L142.0 133.8L143.2 131.7L144.4 129.6L145.7 127.5L146.9 125.5L148.3 123.4L149.6 121.4L151.0 119.4L152.4 117.5L153.9 115.5L155.4 113.6L156.9 111.7L158.4 109.9L160.0 108.0L161.7 106.2L163.3 104.5L165.0 102.7L166.7 101.0L168.5 99.3L170.2 97.6L172.1 96.0L173.9 94.4L175.8 92.8L177.6 91.3L179.6 89.8L181.5 88.3L183.5 86.9L185.5 85.5L187.5 84.1L189.5 82.8L191.6 81.5L193.7 80.2L195.8 79.0L197.9 77.8L200.1 76.7L202.3 75.6L204.5 74.5L206.7 73.4L208.9 72.4L211.1 71.5L213.4 70.6L215.7 69.7L218.0 68.8L220.3 68.0L222.6 67.3L225.0 66.5L227.3 65.8L229.7 65.2L232.0 64.6L234.4 64.0L236.8 63.5L239.2 63.0L241.6 62.6L244.0 62.2L246.5 61.8L248.9 61.5L251.3 61.2L253.8 61.0L256.2 60.8L258.7 60.7L261.1 60.6L263.5 60.5L266.0 60.5L268.5 60.5L270.9 60.6L273.3 60.7L275.8 60.8L278.2 61.0L280.7 61.2L283.1 61.5L285.5 61.8L288.0 62.2L290.4 62.6L292.8 63.0L295.2 63.5L297.6 64.0L300.0 64.6L302.3 65.2L304.7 65.8L307.0 66.5L309.4 67.3L311.7 68.0L314.0 68.8L316.3 69.7L318.6 70.6L320.9 71.5L323.1 72.4L325.3 73.4L327.5 74.5L329.7 75.6L331.9 76.7L334.1 77.8L336.2 79.0L338.3 80.2L340.4 81.5L342.5 82.8L344.5 84.1L346.5 85.5L348.5 86.9L350.5 88.3L352.4 89.8L354.4 91.3L356.2 92.8L358.1 94.4L359.9 96.0L361.8 97.6L363.5 99.3L365.3 101.0L367.0 102.7L368.7 104.5L370.3 106.2L372.0 108.0L373.6 109.9L375.1 111.7L376.6 113.6L378.1 115.5L379.6 117.5L381.0 119.4L382.4 121.4L383.7 123.4L385.1 125.5L386.3 127.5L387.6 129.6L388.8 131.7L390.0 133.8L391.1 136.0L392.2 138.1L393.2 140.3L394.3 142.5L395.2 144.7L396.2 147.0L397.1 149.2L397.9 151.5L398.8 153.7L399.5 156.0L400.3 158.3L401.0 160.6L401.6 163.0L402.2 165.3L402.8 167.6L403.3 170.0L403.8 172.4L404.3 174.7L404.7 177.1L405.0 179.5L405.4 181.9L405.6 184.3L405.9 186.7L406.1 189.1L406.2 191.5L406.3 193.9L406.4 196.3L406.4 198.8M266.0 223.1L263.9 224.3L261.8 225.5L259.6 226.7L257.5 227.9L255.4 229.1L253.3 230.2L251.2 231.4L249.1 232.5L247.0 233.6L244.9 234.8L242.8 235.9L240.7 237.0L238.6 238.1L236.6 239.1L234.5 240.2L232.5 241.2L230.5 242.3L228.4 243.3L226.4 244.3L224.4 245.3L222.4 246.3L220.5 247.3L218.5 248.2L216.5 249.1L214.6 250.1L212.7 251.0L210.8 251.9L208.9 252.7L207.1 253.6L205.2 254.4L203.4 255.3L201.6 256.1L199.8 256.8L198.0 257.6L196.3 258.4L194.5 259.1L192.8 259.8L191.1 260.5L189.5 261.2L187.8 261.9L186.2 262.5L184.6 263.1L183.1 263.7L181.5 264.3L180.0 264.9L178.5 265.4L177.1 265.9L175.6 266.4L174.2 266.9L172.9 267.4L171.5 267.8L170.2 268.2L168.9 268.6L167.6 269.0L166.4 269.4L165.2 269.7L164.0 270.0L162.9 270.3L161.8 270.6L160.7 270.8L159.7 271.0L158.6 271.2L157.7 271.4L156.7 271.6L155.8 271.7L154.9 271.8L154.1 271.9L153.3 272.0L152.5 272.0L151.7 272.1L151.0 272.1L150.4 272.0L149.7 272.0L149.1 271.9L148.6 271.8L148.0 271.7L147.5 271.6L147.1 271.4L146.6 271.3L146.3 271.1L145.9 270.8L145.6 270.6L145.3 270.3L145.1 270.1M266.0 223.1L263.5 223.1L261.1 223.1L258.7 223.1L256.2 223.1L253.8 223.0L251.3 223.0L248.9 222.9L246.5 222.9L244.0 222.8L241.6 222.8L239.2 222.7L236.8 222.6L234.4 222.5L232.0 222.4L229.7 222.3L227.3 222.2L225.0 222.1L222.6 221.9L220.3 221.8L218.0 221.7L215.7 221.5L213.4 221.4L211.1 221.2L208.9 221.0L206.7 220.8L204.5 220.7L202.3 220.5L200.1 220.3L197.9 220.1L195.8 219.9L193.7 219.6L191.6 219.4L189.5 219.2L187.5 219.0L185.5 218.7L183.5 218.5L181.5 218.2L179.6 218.0L177.6 217.7L175.8 217.4L173.9 217.1L172.1 216.9L170.2 216.6L168.5 216.3L166.7 216.0L165.0 215.7L163.3 215.4L161.7 215.1L160.0 214.7L158.4 214.4L156.9 214.1L155.4 213.8L153.9 213.4L152.4 213.1L151.0 212.7L149.6 212.4L148.3 212.0L146.9 211.7L145.7 211.3L144.4 210.9L143.2 210.6L142.0 210.2L140.9 209.8L139.8 209.4L138.8 209.1L137.7 208.7L136.8 208.3L135.8 207.9L134.9 207.5L134.1 207.1L133.2 206.7L132.5 206.3L131.7 205.9L131.0 205.5L130.4 205.1L129.8 204.6L129.2 204.2L128.7 203.8L128.2 203.4L127.7 203.0L127.3 202.6L127.0 202.1L126.6 201.7L126.4 201.3L126.1 200.9L125.9 200.5L125.8 200.0L125.7 199.6L125.6 199.2L125.6 198.8M266.0 223.1L263.9 221.9L261.8 220.7L259.6 219.5L257.5 218.2L255.4 217.0L253.3 215.8L251.2 214.5L249.1 213.3L247.0 212.0L244.9 210.8L242.8 209.5L240.7 208.2L238.6 207.0L236.6 205.7L234.5 204.4L232.5 203.1L230.5 201.9L228.4 200.6L226.4 199.3L224.4 198.0L222.4 196.7L220.5 195.5L218.5 194.2L216.5 192.9L214.6 191.6L212.7 190.4L210.8 189.1L208.9 187.8L207.1 186.6L205.2 185.3L203.4 184.0L201.6 182.8L199.8 181.5L198.0 180.3L196.3 179.1L194.5 177.8L192.8 176.6L191.1 175.4L189.5 174.2L187.8 173.0L186.2 171.8L184.6 170.6L183.1 169.4L181.5 168.3L180.0 167.1L178.5 166.0L177.1 164.8L175.6 163.7L174.2 162.6L172.9 161.5L171.5 160.4L170.2 159.3L168.9 158.2L167.6 157.2L166.4 156.1L165.2 155.1L164.0 154.0L162.9 153.0L161.8 152.0L160.7 151.1L159.7 150.1L158.6 149.2L157.7 148.2L156.7 147.3L155.8 146.4L154.9 145.5L154.1 144.6L153.3 143.8L152.5 142.9L151.7 142.1L151.0 141.3L150.4 140.5L149.7 139.8L149.1 139.0L148.6 138.3L148.0 137.6L147.5 136.9L147.1 136.2L146.6 135.5L146.3 134.9L145.9 134.3L145.6 133.7L145.3 133.1L145.1 132.5L144.9 132.0L144.7 131.5L144.6 131.0L144.5 130.5L144.4 130.1L144.4 129.6L144.4 129.2L144.5 128.8L144.6 128.4L144.7 128.1L144.9 127.8M266.0 223.1L264.8 221.0L263.6 218.9L262.3 216.8L261.1 214.7L259.9 212.6L258.7 210.5L257.4 208.4L256.2 206.2L255.0 204.1L253.8 202.0L252.6 199.8L251.4 197.7L250.2 195.6L249.0 193.4L247.8 191.3L246.7 189.2L245.5 187.1L244.3 184.9L243.1 182.8L242.0 180.7L240.8 178.6L239.7 176.5L238.6 174.4L237.4 172.3L236.3 170.2L235.2 168.2L234.1 166.1L233.0 164.1L232.0 162.0L230.9 160.0L229.8 158.0L228.8 156.0L227.8 154.0L226.7 152.0L225.7 150.0L224.7 148.1L223.8 146.2L222.8 144.2L221.8 142.3L220.9 140.5L219.9 138.6L219.0 136.7L218.1 134.9L217.2 133.1L216.4 131.3L215.5 129.6L214.7 127.8L213.8 126.1L213.0 124.4L212.2 122.7L211.4 121.0L210.7 119.4L209.9 117.8L209.2 116.2L208.5 114.6L207.8 113.1L207.1 111.6L206.5 110.1L205.8 108.7L205.2 107.2L204.6 105.8L204.0 104.5L203.5 103.1L202.9 101.8L202.4 100.5L201.9 99.3L201.4 98.1L200.9 96.9L200.5 95.7L200.0 94.6L199.6 93.5L199.2 92.4L198.9 91.4L198.5 90.4L198.2 89.4L197.9 88.5L197.6 87.6L197.3 86.7L197.1 85.9L196.9 85.1L196.7 84.3L196.5 83.6L196.3 82.9L196.2 82.2L196.1 81.6L196.0 81.0L195.9 80.4L195.8 79.9L195.8 79.5L195.8 79.0L195.8 78.6L195.8 78.2L195.9 77.9L196.0 77.6L196.1 77.3L196.2 77.1L196.3 76.9L196.5 76.8M266.0 223.1L266.0 220.7L266.0 218.3L266.0 215.9L266.0 213.4L266.0 211.0L266.0 208.5L266.0 206.1L266.0 203.6L266.0 201.2L266.0 198.8L266.0 196.3L266.0 193.9L266.0 191.4L266.0 189.0L266.0 186.5L266.0 184.1L266.0 181.6L266.0 179.2L266.0 176.8L266.0 174.4L266.0 172.0L266.0 169.6L266.0 167.2L266.0 164.8L266.0 162.4L266.0 160.1L266.0 157.7L266.0 155.4L266.0 153.0L266.0 150.7L266.0 148.4L266.0 146.2L266.0 143.9L266.0 141.6L266.0 139.4L266.0 137.2L266.0 135.0L266.0 132.8L266.0 130.7L266.0 128.6L266.0 126.4L266.0 124.3L266.0 122.3L266.0 120.2L266.0 118.2L266.0 116.2L266.0 114.3L266.0 112.3L266.0 110.4L266.0 108.5L266.0 106.6L266.0 104.8L266.0 103.0L266.0 101.2L266.0 99.5L266.0 97.8L266.0 96.1L266.0 94.4L266.0 92.8L266.0 91.2L266.0 89.6L266.0 88.1L266.0 86.6L266.0 85.2L266.0 83.7L266.0 82.4L266.0 81.0L266.0 79.7L266.0 78.4L266.0 77.2L266.0 76.0L266.0 74.8L266.0 73.7L266.0 72.6L266.0 71.5L266.0 70.5L266.0 69.5L266.0 68.6L266.0 67.7L266.0 66.8L266.0 66.0L266.0 65.2L266.0 64.5L266.0 63.8L266.0 63.1L266.0 62.5L266.0 61.9L266.0 61.4L266.0 60.9L266.0 60.5L266.0 60.1L266.0 59.7L266.0 59.4L266.0 59.1L266.0 58.9L266.0 58.7L266.0 58.5L266.0 58.4L266.0 58.4L266.0 58.4M266.0 223.1L267.2 221.0L268.4 218.9L269.7 216.8L270.9 214.7L272.1 212.6L273.3 210.5L274.6 208.4L275.8 206.2L277.0 204.1L278.2 202.0L279.4 199.8L280.6 197.7L281.8 195.6L283.0 193.4L284.2 191.3L285.3 189.2L286.5 187.1L287.7 184.9L288.9 182.8L290.0 180.7L291.2 178.6L292.3 176.5L293.4 174.4L294.6 172.3L295.7 170.2L296.8 168.2L297.9 166.1L299.0 164.1L300.0 162.0L301.1 160.0L302.2 158.0L303.2 156.0L304.2 154.0L305.3 152.0L306.3 150.0L307.3 148.1L308.2 146.2L309.2 144.2L310.2 142.3L311.1 140.5L312.1 138.6L313.0 136.7L313.9 134.9L314.8 133.1L315.6 131.3L316.5 129.6L317.3 127.8L318.2 126.1L319.0 124.4L319.8 122.7L320.6 121.0L321.3 119.4L322.1 117.8L322.8 116.2L323.5 114.6L324.2 113.1L324.9 111.6L325.5 110.1L326.2 108.7L326.8 107.2L327.4 105.8L328.0 104.5L328.5 103.1L329.1 101.8L329.6 100.5L330.1 99.3L330.6 98.1L331.1 96.9L331.5 95.7L332.0 94.6L332.4 93.5L332.8 92.4L333.1 91.4L333.5 90.4L333.8 89.4L334.1 88.5L334.4 87.6L334.7 86.7L334.9 85.9L335.1 85.1L335.3 84.3L335.5 83.6L335.7 82.9L335.8 82.2L335.9 81.6L336.0 81.0L336.1 80.4L336.2 79.9L336.2 79.5L336.2 79.0L336.2 78.6L336.2 78.2L336.1 77.9L336.0 77.6L335.9 77.3L335.8 77.1L335.7 76.9L335.5 76.8M266.0 223.1L268.1 221.9L270.2 220.7L272.4 219.5L274.5 218.2L276.6 217.0L278.7 215.8L280.8 214.5L282.9 213.3L285.0 212.0L287.1 210.8L289.2 209.5L291.3 208.2L293.4 207.0L295.4 205.7L297.5 204.4L299.5 203.1L301.5 201.9L303.6 200.6L305.6 199.3L307.6 198.0L309.6 196.7L311.5 195.5L313.5 194.2L315.5 192.9L317.4 191.6L319.3 190.4L321.2 189.1L323.1 187.8L324.9 186.6L326.8 185.3L328.6 184.0L330.4 182.8L332.2 181.5L334.0 180.3L335.7 179.1L337.5 177.8L339.2 176.6L340.9 175.4L342.5 174.2L344.2 173.0L345.8 171.8L347.4 170.6L348.9 169.4L350.5 168.3L352.0 167.1L353.5 166.0L354.9 164.8L356.4 163.7L357.8 162.6L359.1 161.5L360.5 160.4L361.8 159.3L363.1 158.2L364.4 157.2L365.6 156.1L366.8 155.1L368.0 154.0L369.1 153.0L370.2 152.0L371.3 151.1L372.3 150.1L373.4 149.2L374.3 148.2L375.3 147.3L376.2 146.4L377.1 145.5L377.9 144.6L378.7 143.8L379.5 142.9L380.3 142.1L381.0 141.3L381.6 140.5L382.3 139.8L382.9 139.0L383.4 138.3L384.0 137.6L384.5 136.9L384.9 136.2L385.4 135.5L385.7 134.9L386.1 134.3L386.4 133.7L386.7 133.1L386.9 132.5L387.1 132.0L387.3 131.5L387.4 131.0L387.5 130.5L387.6 130.1L387.6 129.6L387.6 129.2L387.5 128.8L387.4 128.4L387.3 128.1L387.1 127.8M266.0 223.1L268.5 223.1L270.9 223.1L273.3 223.1L275.8 223.1L278.2 223.0L280.7 223.0L283.1 222.9L285.5 222.9L288.0 222.8L290.4 222.8L292.8 222.7L295.2 222.6L297.6 222.5L300.0 222.4L302.3 222.3L304.7 222.2L307.0 222.1L309.4 221.9L311.7 221.8L314.0 221.7L316.3 221.5L318.6 221.4L320.9 221.2L323.1 221.0L325.3 220.8L327.5 220.7L329.7 220.5L331.9 220.3L334.1 220.1L336.2 219.9L338.3 219.6L340.4 219.4L342.5 219.2L344.5 219.0L346.5 218.7L348.5 218.5L350.5 218.2L352.4 218.0L354.4 217.7L356.2 217.4L358.1 217.1L359.9 216.9L361.8 216.6L363.5 216.3L365.3 216.0L367.0 215.7L368.7 215.4L370.3 215.1L372.0 214.7L373.6 214.4L375.1 214.1L376.6 213.8L378.1 213.4L379.6 213.1L381.0 212.7L382.4 212.4L383.7 212.0L385.1 211.7L386.3 211.3L387.6 210.9L388.8 210.6L390.0 210.2L391.1 209.8L392.2 209.4L393.2 209.1L394.3 208.7L395.2 208.3L396.2 207.9L397.1 207.5L397.9 207.1L398.8 206.7L399.5 206.3L400.3 205.9L401.0 205.5L401.6 205.1L402.2 204.6L402.8 204.2L403.3 203.8L403.8 203.4L404.3 203.0L404.7 202.6L405.0 202.1L405.4 201.7L405.6 201.3L405.9 200.9L406.1 200.5L406.2 200.0L406.3 199.6L406.4 199.2L406.4 198.8M266.0 223.1L268.1 224.3L270.2 225.5L272.4 226.7L274.5 227.9L276.6 229.1L278.7 230.2L280.8 231.4L282.9 232.5L285.0 233.6L287.1 234.8L289.2 235.9L291.3 237.0L293.4 238.1L295.4 239.1L297.5 240.2L299.5 241.2L301.5 242.3L303.6 243.3L305.6 244.3L307.6 245.3L309.6 246.3L311.5 247.3L313.5 248.2L315.5 249.1L317.4 250.1L319.3 251.0L321.2 251.9L323.1 252.7L324.9 253.6L326.8 254.4L328.6 255.3L330.4 256.1L332.2 256.8L334.0 257.6L335.7 258.4L337.5 259.1L339.2 259.8L340.9 260.5L342.5 261.2L344.2 261.9L345.8 262.5L347.4 263.1L348.9 263.7L350.5 264.3L352.0 264.9L353.5 265.4L354.9 265.9L356.4 266.4L357.8 266.9L359.1 267.4L360.5 267.8L361.8 268.2L363.1 268.6L364.4 269.0L365.6 269.4L366.8 269.7L368.0 270.0L369.1 270.3L370.2 270.6L371.3 270.8L372.3 271.0L373.4 271.2L374.3 271.4L375.3 271.6L376.2 271.7L377.1 271.8L377.9 271.9L378.7 272.0L379.5 272.0L380.3 272.1L381.0 272.1L381.6 272.0L382.3 272.0L382.9 271.9L383.4 271.8L384.0 271.7L384.5 271.6L384.9 271.4L385.4 271.3L385.7 271.1L386.1 270.8L386.4 270.6L386.7 270.3L386.9 270.1M266.0 223.1L267.2 225.2L268.4 227.3L269.7 229.4L270.9 231.4L272.1 233.5L273.3 235.5L274.6 237.5L275.8 239.6L277.0 241.6L278.2 243.6L279.4 245.5L280.6 247.5L281.8 249.4L283.0 251.4L284.2 253.3L285.3 255.2L286.5 257.1L287.7 258.9L288.9 260.8L290.0 262.6L291.2 264.4L292.3 266.2L293.4 268.0L294.6 269.7L295.7 271.5L296.8 273.2L297.9 274.8L299.0 276.5L300.0 278.1L301.1 279.7L302.2 281.3L303.2 282.9L304.2 284.4L305.3 285.9L306.3 287.4L307.3 288.9L308.2 290.3L309.2 291.7L310.2 293.1L311.1 294.4L312.1 295.7L313.0 297.0L313.9 298.2L314.8 299.5L315.6 300.7L316.5 301.8L317.3 303.0L318.2 304.0L319.0 305.1L319.8 306.1L320.6 307.2L321.3 308.1L322.1 309.1L322.8 310.0L323.5 310.8L324.2 311.7L324.9 312.5L325.5 313.2L326.2 313.9L326.8 314.6L327.4 315.3L328.0 315.9L328.5 316.5L329.1 317.1L329.6 317.6L330.1 318.1L330.6 318.5L331.1 318.9L331.5 319.3L332.0 319.6L332.4 319.9L332.8 320.2L333.1 320.4L333.5 320.6L333.8 320.7L334.1 320.8L334.4 320.9L334.7 320.9L334.9 320.9L335.1 320.9L335.3 320.8M266.0 223.1L266.0 225.5L266.0 227.9L266.0 230.3L266.0 232.7L266.0 235.1L266.0 237.4L266.0 239.8L266.0 242.1L266.0 244.5L266.0 246.8L266.0 249.1L266.0 251.3L266.0 253.6L266.0 255.9L266.0 258.1L266.0 260.3L266.0 262.5L266.0 264.7L266.0 266.8L266.0 269.0L266.0 271.1L266.0 273.2L266.0 275.2L266.0 277.3L266.0 279.3L266.0 281.3L266.0 283.2L266.0 285.2L266.0 287.1L266.0 289.0L266.0 290.9L266.0 292.7L266.0 294.5L266.0 296.3L266.0 298.0L266.0 299.7L266.0 301.4L266.0 303.1L266.0 304.7L266.0 306.3L266.0 307.9L266.0 309.4L266.0 310.9L266.0 312.3L266.0 313.8L266.0 315.1L266.0 316.5L266.0 317.8L266.0 319.1L266.0 320.3L266.0 321.5L266.0 322.7L266.0 323.8L266.0 324.9L266.0 326.0L266.0 327.0L266.0 328.0L266.0 328.9L266.0 329.8L266.0 330.7L266.0 331.5L266.0 332.3L266.0 333.0L266.0 333.7L266.0 334.4L266.0 335.0L266.0 335.6L266.0 336.1L266.0 336.6L266.0 337.0L266.0 337.4L266.0 337.8L266.0 338.1L266.0 338.4L266.0 338.6L266.0 338.8L266.0 339.0L266.0 339.1L266.0 339.1M266.0 223.1L264.8 225.2L263.6 227.3L262.3 229.4L261.1 231.4L259.9 233.5L258.7 235.5L257.4 237.5L256.2 239.6L255.0 241.6L253.8 243.6L252.6 245.5L251.4 247.5L250.2 249.4L249.0 251.4L247.8 253.3L246.7 255.2L245.5 257.1L244.3 258.9L243.1 260.8L242.0 262.6L240.8 264.4L239.7 266.2L238.6 268.0L237.4 269.7L236.3 271.5L235.2 273.2L234.1 274.8L233.0 276.5L232.0 278.1L230.9 279.7L229.8 281.3L228.8 282.9L227.8 284.4L226.7 285.9L225.7 287.4L224.7 288.9L223.8 290.3L222.8 291.7L221.8 293.1L220.9 294.4L219.9 295.7L219.0 297.0L218.1 298.2L217.2 299.5L216.4 300.7L215.5 301.8L214.7 303.0L213.8 304.0L213.0 305.1L212.2 306.1L211.4 307.2L210.7 308.1L209.9 309.1L209.2 310.0L208.5 310.8L207.8 311.7L207.1 312.5L206.5 313.2L205.8 313.9L205.2 314.6L204.6 315.3L204.0 315.9L203.5 316.5L202.9 317.1L202.4 317.6L201.9 318.1L201.4 318.5L200.9 318.9L200.5 319.3L200.0 319.6L199.6 319.9L199.2 320.2L198.9 320.4L198.5 320.6L198.2 320.7L197.9 320.8L197.6 320.9L197.3 320.9L197.1 320.9L196.9 320.9L196.7 320.8"/>
</g>
<path fill="none" stroke="#000" stroke-width="0.95" stroke-linejoin="round" stroke-linecap="round" d="M237.4 189.6L238.6 188.4L240.2 188L240.6 188.8L239.4 189.8L237.4 189.6M223.5 64.5L220.5 65.2L218 66.8L216 69L215.6 71L218 72L221 72.8L226 73.8L232 74.6L237 75.3L241.5 76.8L243.3 80L243.5 84L242.4 87L241.6 95L241 103L241.6 110L240.6 114L241.5 116L242.5 117.5L241 119.5L240.5 122L240 125L240.5 128L241.5 131.5L243 134.5L245 137L247 138.5L249 139.5L250 138.5L251 136.5L252.5 134M289 60.6L294 63L300 64.6L306 66.6L312 69L318 71.4L323 74L325.6 76L325 77.4L322 78L318 78.6L314 80L312 82L309 84.6L304 85L296 85.4L291 86.6L288 88L285 90.6L283 93L280 95L277 97L272 97.6L269 98L271.6 100.6L271 103L269 104L267 105.4L263.6 106L261 107.6L260 110L258.5 111L259.5 113L258 113.5L256.5 115L256 117L254.5 118.5L253 120L254 121.5L255.5 122.5L256.8 123.5L255.5 125.5L254 127.5L252.5 129.5L251.5 131.5L252.5 134M249 139.5L252 141L255 141.2L257.5 140.5L258.8 139.5L257 138.5L255 137L253.5 135.5L252.5 134M264.6 132.2L265.5 131.2L267.5 131L268.9 131.8L268.6 133L267 133.6L265.3 133.3L264.6 132.2M267.9 158.5L268.5 159.4L266.6 161.2L264.8 163.1L263.5 165.6L263.2 168.8L264.1 171.2L264.8 173.8L265.4 176.9L265.8 180L266 182.5L265.4 184.4L264.1 186.2L262.2 188.1L260.4 189.8L258.5 191.2L256.6 192.8L257 194.4L257.9 196.2L258.5 198.1L259.8 199.4L261.6 200L263.5 200.6L264.8 201.9L265.8 203.8L266.6 205.6L268.5 204.8L270.4 204L272.2 203.5L274.1 203.1L276 202.5L277.9 201.9L278.5 200.6L277.2 199.4L277.9 197.5L279.8 196.5L281.6 195.6L284.1 195L286.6 194.8L289.1 194.4L291.6 194L294.1 193.8L296.6 193.5L299.1 193.5L301 194.4L302.9 195.6L303.5 197.5L304.1 199.4L305.4 200.6L307.2 201.9L308.5 203.8L309.8 205.6L310.4 207.5L311.6 209.4L312 211.2L312.2 213.8L312.6 216L313 218L313.5 220L314.8 221.9L316.6 223.8L317.2 225.6L316 227.5L314.8 229.4L315.4 231.2L316.6 233.1L317.2 235.6L317.9 238.1L318.5 240.6L318.8 243.1L317.9 245L316 246.2L314.1 246.9L312.2 247.8L310.4 249.4L309.1 251.2L307.2 252.5L305.4 253.1L304.1 251.9L302.9 250L301 249L299.1 250L298.8 252.5L299.1 255L299.5 257.5L299.5 260.6L299.1 263.1L297.9 265.6L296 267.5L293.5 268.1L291 269.4L288.5 270.6L286 271.9L284.1 273.5L282.9 275.2L281 274.8L279.1 274L277.2 274.4L275.4 275.6L273.5 277.2L271.6 277.2L269.8 276L267.2 275.2L264.8 275.6L262.2 276L259.8 275.6L257.2 275.2L254.8 275L252.2 275.2L250.4 275.6L249.8 273.8L247.9 272.5L245.4 271.2L242.9 270L241.6 268.1L240.4 265.6L238.5 263.1L236.6 260.6L235.4 258.1L234.8 256.9L233.5 254.4L232.2 252.5L231.6 250.6L232.9 249.4L235.4 249L237.9 248.5L240.4 247.8L242.2 246.9L244.1 245.6L245.4 243.8L246 241.9L247.9 241.2L249.8 240L251.6 238.8L252.9 236.9L254.1 235L254.8 232.5L254.1 230L252.9 228.1L253.5 226.2L254.8 224.4L254.5 222.5L253.5 221.5L252.2 222.5L250.4 223.5L248.5 223.8L246.6 224.4L244.8 224.4L244.1 222.5L242.9 221.2L241.6 221.9L240.4 223.1L239.1 225L237.9 226.9L236 227.5L234.8 226.2L234.8 223.8L233.5 221.9L231.6 220L230.4 217.5L229.8 215L229.8 212.5L229.1 210.6L229.8 208.8L230.4 206.9L229.8 205L231 203.1L232.9 201.9L234.8 200L235.8 194.5L237.2 192.2L239 190.4L240.6 189.2L242.2 188.1L244.1 187.2L246.6 186.5L249.1 185.6L251.6 184.4L254.1 183.1L256 181.9L254.8 180.6L255 178.8L256.2 176.9L255.8 175L256.6 173.1L258.5 171.2L259.1 168.8L259.8 166.2L261 163.8L262.9 161.2L265.4 160L267.9 158.5M258.5 171.2L259.5 173.5L259.8 176.2L260.4 178.8L259.8 180.6L257.9 181.2L256 181.9M268.5 200L269.1 198.1L270.4 196.2L272 194.8L273.2 194.4L273.8 195.6L273.2 197.5L272.2 199.4L271 200.9L269.5 201.2L268.5 200M238.2 227.6L239.2 226.9L240.2 227.3L239.8 228.3L238.6 228.5L238.2 227.6M399.8 159.5L398.2 164.8L395.2 163.7L393 165.5L392.2 169.2L390.8 173L388.5 176.8L386.2 180.5L384.8 184.2L382.5 187.2L380.2 188.8L379.5 191.8L380.2 195.5L381 199L381.8 201.5L383.2 204L385.5 208.5L388.5 212.2L391.5 215.2L393.8 216.8L394.5 220.5L396.8 219L399 221.2L399.8 225L400.5 228.8L402.8 227.2L404.2 224.2L404.7 222M388.5 243L390 239.2L392.2 237.8L395.2 238.8L396.8 240L396 243.8L395.2 247.5L393.8 251.2L391.5 249.8L389.2 246.8L388.5 243M196.9 313.1L198.8 311.2L201.9 310.6L205.6 310.2L208.8 309.8L210.6 309.4L213.1 310L215.6 311L218.1 312.5L220.6 313.8L223.1 315L225.6 316.2L227.5 318.1L229.4 320.6L231.2 321.9L233.1 321.9L235 323.1L236.9 325L239.4 326.9L241.9 327.8L245 328.5L248.1 328.8L251.2 328.5L254.4 328.1L257.5 327.8L260.6 328.1L263.8 327.8L266.9 327.2L270 326.5L273.1 326.5L275.6 327.2L276.2 328.8L275.6 330L277.5 331.9L279.4 333.1L280.6 334.4L280.2 335.6L278.1 336.5L275 337L271.2 337.2L266.2 337.2L261.2 337.1L256.2 336.9L251.2 336.2L246.2 335.2L241.2 334L236.2 332.5L231.2 331L226.2 329L221.2 326.9L216.2 324.8L211.2 322.2L206.2 319.8L201.9 317.5L198.8 315.6L196.9 313.1M215.6 306.9L216.9 305.6L218.8 305.2L220.6 306.2L221.5 308.1L221.2 310L219.4 309.4L217.5 308.8L215.6 306.9M171.2 271.2L173.8 271.9L176.2 272.5L178.1 273.8L179.4 275.6L178.8 276.9L176.9 277.5L175.6 278.8L174.4 280.6L173.5 282.2L172.8 280.6L173.1 278.8L173.5 276.9L172.8 275L171.9 273.1L171.2 271.2M179.4 275.6L181.9 276L185 276.5L188.1 277.5L190.6 278.5L193.1 280L195 281.9L194.4 283.1L191.9 282.9L189.4 282.2L186.9 281.2L184.4 280L181.9 278.8L180 277.5L179.4 275.6M335.8 274.6L336.6 273.9L337.4 274.6L337.2 275.6L336.2 275.8L335.8 274.6"/><path fill="none" stroke="#000" stroke-width="1.4" stroke-linecap="round" d="M150 274L151.2 275.4L152.5 276.9M170.2 296L171.7 298L173.1 300"/>
<circle cx="266.00" cy="198.75" r="140.40" fill="none" stroke="#111" stroke-width="0.9"/>
<defs><linearGradient id="cb" x1="0" y1="0" x2="0" y2="1"><stop offset="0" stop-color="#ff0029"/><stop offset="0.03" stop-color="#ff0003"/><stop offset="0.0625" stop-color="#ff2800"/><stop offset="0.125" stop-color="#ff7e00"/><stop offset="0.1875" stop-color="#ffd500"/><stop offset="0.215" stop-color="#feff00"/><stop offset="0.25" stop-color="#d3ff00"/><stop offset="0.3125" stop-color="#7cff00"/><stop offset="0.375" stop-color="#26ff00"/><stop offset="0.4" stop-color="#00ff00"/><stop offset="0.4375" stop-color="#00ff30"/><stop offset="0.5" stop-color="#00ff86"/><stop offset="0.5625" stop-color="#00ffdc"/><stop offset="0.586" stop-color="#00fcff"/><stop offset="0.625" stop-color="#00cbff"/><stop offset="0.6875" stop-color="#0074ff"/><stop offset="0.75" stop-color="#001dff"/><stop offset="0.77" stop-color="#0400ff"/><stop offset="0.8125" stop-color="#3a00ff"/><stop offset="0.875" stop-color="#9100ff"/><stop offset="0.9375" stop-color="#e800ff"/><stop offset="0.954" stop-color="#ff00fb"/><stop offset="1" stop-color="#ff00bf"/></linearGradient></defs>
<rect x="424.50" y="48.50" width="15.50" height="301.50" fill="url(#cb)" stroke="#222" stroke-width="0.6"/>
<line x1="440" x2="442.8" y1="299.30" y2="299.30" stroke="#333" stroke-width="0.8"/>
<line x1="440" x2="442.8" y1="199.30" y2="199.30" stroke="#333" stroke-width="0.8"/>
<line x1="440" x2="442.8" y1="99.30" y2="99.30" stroke="#333" stroke-width="0.8"/>
<rect x="548.5" y="48.5" width="351.6" height="302" fill="none" stroke="#222" stroke-width="0.8"/>
<line x1="545.4" x2="548.5" y1="350.50" y2="350.50" stroke="#000" stroke-width="0.8"/>
<line x1="545.4" x2="548.5" y1="307.50" y2="307.50" stroke="#000" stroke-width="0.8"/>
<line x1="545.4" x2="548.5" y1="264.50" y2="264.50" stroke="#000" stroke-width="0.8"/>
<line x1="545.4" x2="548.5" y1="221.50" y2="221.50" stroke="#000" stroke-width="0.8"/>
<line x1="545.4" x2="548.5" y1="178.50" y2="178.50" stroke="#000" stroke-width="0.8"/>
<line x1="545.4" x2="548.5" y1="135.50" y2="135.50" stroke="#000" stroke-width="0.8"/>
<line x1="545.4" x2="548.5" y1="92.50" y2="92.50" stroke="#000" stroke-width="0.8"/>
<line x1="548.50" x2="548.50" y1="350.5" y2="353.6" stroke="#000" stroke-width="0.8"/>
<line x1="620.23" x2="620.23" y1="350.5" y2="353.6" stroke="#000" stroke-width="0.8"/>
<line x1="689.65" x2="689.65" y1="350.5" y2="353.6" stroke="#000" stroke-width="0.8"/>
<line x1="761.39" x2="761.39" y1="350.5" y2="353.6" stroke="#000" stroke-width="0.8"/>
<line x1="830.81" x2="830.81" y1="350.5" y2="353.6" stroke="#000" stroke-width="0.8"/>
<circle cx="562" cy="342" r="2.6" fill="#000"/>
</svg>
<div class="t" style="left:500.30px;top:7.25px;font-size:15.40px;transform-origin:50% 88%;transform:translate(-50%,0) scale(1,0.95)">Sentinel 5 Precursor, total ozone, DLR-BIRA</div>
<div class="t" style="left:606.00px;top:32.97px;font-size:13.90px;transform-origin:50% 88%;transform:translate(-50%,0) scale(1,0.97)">2019-08-07</div>
<div class="t" style="left:543.20px;top:345.23px;font-size:11.10px;transform-origin:100% 88%;transform:translate(-100%,0)">0</div>
<div class="t" style="left:543.20px;top:302.23px;font-size:11.10px;transform-origin:100% 88%;transform:translate(-100%,0)">5</div>
<div class="t" style="left:543.20px;top:259.23px;font-size:11.10px;transform-origin:100% 88%;transform:translate(-100%,0)">10</div>
<div class="t" style="left:543.20px;top:216.23px;font-size:11.10px;transform-origin:100% 88%;transform:translate(-100%,0)">15</div>
<div class="t" style="left:543.20px;top:173.23px;font-size:11.10px;transform-origin:100% 88%;transform:translate(-100%,0)">20</div>
<div class="t" style="left:543.20px;top:130.23px;font-size:11.10px;transform-origin:100% 88%;transform:translate(-100%,0)">25</div>
<div class="t" style="left:543.20px;top:87.23px;font-size:11.10px;transform-origin:100% 88%;transform:translate(-100%,0)">30</div>
<div class="t" style="left:548.00px;top:353.54px;font-size:11.20px;transform-origin:50% 88%;transform:translate(-50%,0)">01 Aug</div>
<div class="t" style="left:619.73px;top:353.54px;font-size:11.20px;transform-origin:50% 88%;transform:translate(-50%,0)">01 Sep</div>
<div class="t" style="left:689.15px;top:353.54px;font-size:11.20px;transform-origin:50% 88%;transform:translate(-50%,0)">01 Oct</div>
<div class="t" style="left:760.89px;top:353.54px;font-size:11.20px;transform-origin:50% 88%;transform:translate(-50%,0)">01 Nov</div>
<div class="t" style="left:830.31px;top:353.54px;font-size:11.20px;transform-origin:50% 88%;transform:translate(-50%,0)">01 Dec</div>
<div class="t" style="left:724.00px;top:366.64px;font-size:11.20px;transform-origin:50% 88%;transform:translate(-50%,0)">Date</div>
<div class="t" style="left:444.90px;top:294.43px;font-size:11.10px;transform-origin:0 88%;transform:scale(0.95,1)">200</div>
<div class="t" style="left:444.90px;top:194.43px;font-size:11.10px;transform-origin:0 88%;transform:scale(0.95,1)">300</div>
<div class="t" style="left:444.90px;top:94.43px;font-size:11.10px;transform-origin:0 88%;transform:scale(0.95,1)">400</div>
<div class="t" style="left:520.2px;top:199.7px;font-size:11.3px;transform:translate(-50%,-50%) rotate(-90deg)">Area [million km²]</div>
<div class="t" style="left:473.6px;top:200.6px;font-size:11.1px;transform:translate(-50%,-50%) rotate(-90deg) scale(0.97,1)">DU</div>
</body></html>
